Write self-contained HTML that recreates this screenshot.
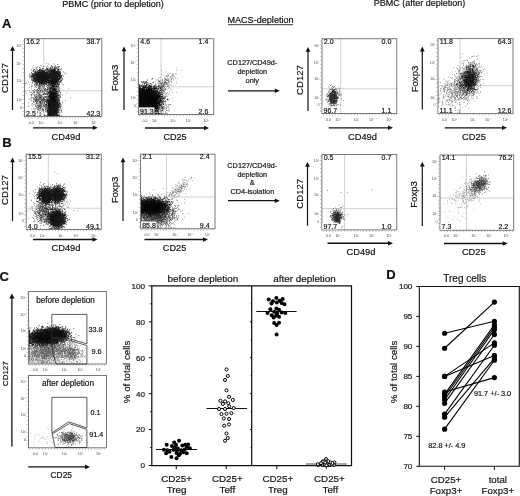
<!DOCTYPE html>
<html><head><meta charset="utf-8"><title>Figure</title>
<style>html,body{margin:0;padding:0;background:#fff}svg{display:block}</style>
</head><body>
<svg width="520" height="496" viewBox="0 0 520 496" font-family='"Liberation Sans", sans-serif'>
<rect width="520" height="496" fill="#fff"/>
<text x="113.00" y="6.50" font-size="9" text-anchor="middle" fill="#111" stroke="#111" stroke-width="0.18">PBMC (prior to depletion)</text>
<text x="419.40" y="6.40" font-size="9" text-anchor="middle" fill="#111" stroke="#111" stroke-width="0.18">PBMC (after depletion)</text>
<text x="260.50" y="23.00" font-size="9.1" text-anchor="middle" fill="#111" stroke="#111" stroke-width="0.18">MACS-depletion</text>
<path d="M228 24.7H293" stroke="#222" stroke-width="0.9"/>
<text x="1.90" y="27.70" font-size="13" text-anchor="start" fill="#111" font-weight="bold" stroke="#111" stroke-width="0.2">A</text>
<text x="2.20" y="147.30" font-size="13" text-anchor="start" fill="#111" font-weight="bold" stroke="#111" stroke-width="0.2">B</text>
<text x="-0.50" y="280.60" font-size="13" text-anchor="start" fill="#111" font-weight="bold" stroke="#111" stroke-width="0.2">C</text>
<text x="386.20" y="279.10" font-size="13" text-anchor="start" fill="#111" font-weight="bold" stroke="#111" stroke-width="0.2">D</text>
<text x="252.30" y="65.40" font-size="7.3" text-anchor="middle" fill="#111" stroke="#111" stroke-width="0.18">CD127/CD49d-</text>
<text x="252.30" y="73.85" font-size="7.3" text-anchor="middle" fill="#111" stroke="#111" stroke-width="0.18">depletion</text>
<text x="252.30" y="82.70" font-size="7.3" text-anchor="middle" fill="#111" stroke="#111" stroke-width="0.18">only</text>
<path d="M228.00 90.80H275.80" stroke="#111" stroke-width="1.3" fill="none"/>
<path d="M279.80 90.80L274.80 88.50V93.10Z" fill="#111"/>
<text x="252.30" y="168.10" font-size="7.3" text-anchor="middle" fill="#111" stroke="#111" stroke-width="0.18">CD127/CD49d-</text>
<text x="252.30" y="176.50" font-size="7.3" text-anchor="middle" fill="#111" stroke="#111" stroke-width="0.18">depletion</text>
<text x="252.30" y="185.30" font-size="7.3" text-anchor="middle" fill="#111" stroke="#111" stroke-width="0.18">&amp;</text>
<text x="252.30" y="194.20" font-size="7.3" text-anchor="middle" fill="#111" stroke="#111" stroke-width="0.18">CD4-isolation</text>
<path d="M228.00 200.70H275.80" stroke="#111" stroke-width="1.3" fill="none"/>
<path d="M279.80 200.70L274.80 198.40V203.00Z" fill="#111"/>
<path d="M43.75 38.70V116.60M24.50 90.75H101.80" stroke="#c0c0c0" stroke-width="0.75" fill="none"/>
<path d="M25 83.5h0.6M25.5 92h0.6M26 83h0.6M26.5 93.5h0.6M28 82h0.6M28 106h0.6M28 111h0.6M28.5 103h0.6M28.5 106h0.6M29 84.5h0.6M29 87.5h0.6M29 91h0.6M29 99h0.6M29.5 112h0.6M30 82.5h0.6M30.5 92.5h0.6M30.5 94.5h0.6M30.5 98h0.6M30.5 100h0.6M31 85h0.6M31 87h0.6M31 89h0.6M31 92.5h0.6M31 96h0.6M31 97.5h0.6M31 109h0.6M31.5 86.5h0.6M31.5 94.5h0.6M31.5 95h0.6M31.5 95.5h0.6M31.5 99h0.6M31.5 100.5h0.6M31.5 105h0.6M31.5 112h0.6M31.5 114h0.6M32 75.5h0.6M32 86h0.6M32 90.5h0.6M32 93h0.6M32 94h0.6M32 103.5h0.6M32.5 68h0.6M32.5 97.5h0.6M32.5 106h0.6M33 76.5h0.6M33 91h0.6M33 99h0.6M33 99.5h0.6M33 101.5h0.6M33 104.5h0.6M33.5 91h0.6M33.5 92.5h0.6M33.5 93h0.6M33.5 94.5h0.6M33.5 97.5h0.6M33.5 98.5h0.6M33.5 99h0.6M33.5 101h0.6M33.5 101.5h0.6M33.5 102.5h0.6M33.5 108.5h0.6M33.5 109h0.6M33.5 111h0.6M34 84.5h0.6M34 87h0.6M34 89.5h0.6M34 91.5h0.6M34 92.5h0.6M34 97h0.6M34 100h0.6M34 102h0.6M34 103h0.6M34 110h0.6M34 111.5h0.6M34 115.5h0.6M34.5 78h0.6M34.5 81.5h0.6M34.5 85h0.6M34.5 85.5h0.6M34.5 92h0.6M34.5 92.5h0.6M34.5 94.5h0.6M34.5 95h0.6M34.5 95.5h0.6M34.5 96h0.6M34.5 98h0.6M34.5 99h0.6M34.5 100h0.6M34.5 105h0.6M34.5 109.5h0.6M35 78.5h0.6M35 91h0.6M35 95h0.6M35 98h0.6M35 100.5h0.6M35 101h0.6M35 101.5h0.6M35 106h0.6M35.5 73h0.6M35.5 78.5h0.6M35.5 82.5h0.6M35.5 86h0.6M35.5 87h0.6M35.5 90h0.6M35.5 96.5h0.6M35.5 97h0.6M35.5 97.5h0.6M35.5 98.5h0.6M35.5 99h0.6M35.5 99.5h0.6M35.5 100.5h0.6M35.5 101h0.6M35.5 101.5h0.6M35.5 104h0.6M35.5 105h0.6M35.5 105.5h0.6M35.5 106.5h0.6M35.5 108.5h0.6M35.5 109h0.6M35.5 109.5h0.6M35.5 112.5h0.6M36 77h0.6M36 83.5h0.6M36 84.5h0.6M36 85.5h0.6M36 87h0.6M36 87.5h0.6M36 92h0.6M36 94h0.6M36 95h0.6M36 96.5h0.6M36 97h0.6M36 98.5h0.6M36 99h0.6M36 99.5h0.6M36 100h0.6M36 100.5h0.6M36 101h0.6M36 102.5h0.6M36 103h0.6M36 103.5h0.6M36 106.5h0.6M36 115.5h0.6M36.5 85.5h0.6M36.5 90h0.6M36.5 90.5h0.6M36.5 92h0.6M36.5 94h0.6M36.5 95h0.6M36.5 96.5h0.6M36.5 97.5h0.6M36.5 98h0.6M36.5 99.5h0.6M36.5 100.5h0.6M36.5 101h0.6M36.5 102h0.6M36.5 103h0.6M36.5 104h0.6M36.5 107.5h0.6M36.5 109h0.6M36.5 110h0.6M37 72h0.6M37 79.5h0.6M37 81h0.6M37 86h0.6M37 89h0.6M37 89.5h0.6M37 90.5h0.6M37 91.5h0.6M37 92h0.6M37 95h0.6M37 97h0.6M37 99.5h0.6M37 101.5h0.6M37 103h0.6M37 103.5h0.6M37 104.5h0.6M37 105.5h0.6M37 106h0.6M37 108h0.6M37 108.5h0.6M37 112h0.6M37 115.5h0.6M37.5 84h0.6M37.5 89.5h0.6M37.5 92h0.6M37.5 92.5h0.6M37.5 93.5h0.6M37.5 95.5h0.6M37.5 96h0.6M37.5 97h0.6M37.5 97.5h0.6M37.5 98.5h0.6M37.5 99.5h0.6M37.5 100h0.6M37.5 100.5h0.6M37.5 101.5h0.6M37.5 102h0.6M37.5 106h0.6M37.5 107.5h0.6M37.5 109.5h0.6M37.5 111.5h0.6M37.5 112.5h0.6M37.5 113h0.6M38 74h0.6M38 76.5h0.6M38 80h0.6M38 90.5h0.6M38 91h0.6M38 93h0.6M38 94.5h0.6M38 96.5h0.6M38 98h0.6M38 99.5h0.6M38 100h0.6M38 100.5h0.6M38 103h0.6M38 105h0.6M38 105.5h0.6M38 106h0.6M38 107h0.6M38 107.5h0.6M38 109h0.6M38 110.5h0.6M38.5 73.5h0.6M38.5 77.5h0.6M38.5 81.5h0.6M38.5 85h0.6M38.5 86h0.6M38.5 88h0.6M38.5 88.5h0.6M38.5 89h0.6M38.5 90.5h0.6M38.5 92.5h0.6M38.5 93h0.6M38.5 93.5h0.6M38.5 95.5h0.6M38.5 96h0.6M38.5 98.5h0.6M38.5 99h0.6M38.5 100h0.6M38.5 101.5h0.6M38.5 104h0.6M38.5 106h0.6M38.5 106.5h0.6M38.5 108h0.6M38.5 108.5h0.6M38.5 109.5h0.6M39 67.5h0.6M39 72.5h0.6M39 81h0.6M39 82h0.6M39 86h0.6M39 86.5h0.6M39 88.5h0.6M39 89h0.6M39 89.5h0.6M39 91.5h0.6M39 93.5h0.6M39 94h0.6M39 94.5h0.6M39 95h0.6M39 96.5h0.6M39 97h0.6M39 97.5h0.6M39 98h0.6M39 100.5h0.6M39 102.5h0.6M39 103h0.6M39 105h0.6M39 105.5h0.6M39 106h0.6M39 106.5h0.6M39 107h0.6M39 108.5h0.6M39 110h0.6M39 110.5h0.6M39 112h0.6M39 113.5h0.6M39 115h0.6M39.5 76h0.6M39.5 79.5h0.6M39.5 80h0.6M39.5 85h0.6M39.5 85.5h0.6M39.5 86.5h0.6M39.5 87.5h0.6M39.5 88h0.6M39.5 91h0.6M39.5 92.5h0.6M39.5 94.5h0.6M39.5 95h0.6M39.5 95.5h0.6M39.5 97h0.6M39.5 98h0.6M39.5 98.5h0.6M39.5 99h0.6M39.5 99.5h0.6M39.5 101h0.6M39.5 101.5h0.6M39.5 102h0.6M39.5 102.5h0.6M39.5 103h0.6M39.5 104.5h0.6M39.5 106.5h0.6M39.5 108h0.6M39.5 115.5h0.6M40 85.5h0.6M40 88.5h0.6M40 90h0.6M40 90.5h0.6M40 91h0.6M40 91.5h0.6M40 92.5h0.6M40 94h0.6M40 95.5h0.6M40 96.5h0.6M40 97.5h0.6M40 98h0.6M40 99.5h0.6M40 101.5h0.6M40 102h0.6M40 102.5h0.6M40 103h0.6M40 104h0.6M40 105h0.6M40 105.5h0.6M40 106h0.6M40 107h0.6M40 107.5h0.6M40 108h0.6M40 110h0.6M40 112.5h0.6M40 113h0.6M40 115h0.6M40 115.5h0.6M40.5 75h0.6M40.5 86.5h0.6M40.5 88h0.6M40.5 90.5h0.6M40.5 95h0.6M40.5 95.5h0.6M40.5 96h0.6M40.5 97h0.6M40.5 97.5h0.6M40.5 98h0.6M40.5 98.5h0.6M40.5 99h0.6M40.5 100.5h0.6M40.5 101.5h0.6M40.5 102h0.6M40.5 102.5h0.6M40.5 103h0.6M40.5 103.5h0.6M40.5 105h0.6M40.5 106.5h0.6M40.5 107.5h0.6M40.5 108.5h0.6M40.5 109h0.6M40.5 110.5h0.6M40.5 113.5h0.6M40.5 115.5h0.6M41 83h0.6M41 89h0.6M41 90h0.6M41 92h0.6M41 96h0.6M41 97.5h0.6M41 98h0.6M41 99.5h0.6M41 100h0.6M41 100.5h0.6M41 101h0.6M41 102h0.6M41 103h0.6M41 104h0.6M41 104.5h0.6M41 105.5h0.6M41 106h0.6M41 107h0.6M41 109h0.6M41.5 84h0.6M41.5 86h0.6M41.5 88h0.6M41.5 90h0.6M41.5 93h0.6M41.5 95h0.6M41.5 96h0.6M41.5 96.5h0.6M41.5 98h0.6M41.5 99h0.6M41.5 100.5h0.6M41.5 101h0.6M41.5 103.5h0.6M41.5 104.5h0.6M41.5 106h0.6M41.5 108h0.6M41.5 111.5h0.6M41.5 114h0.6M42 82.5h0.6M42 86h0.6M42 86.5h0.6M42 89.5h0.6M42 91h0.6M42 91.5h0.6M42 92.5h0.6M42 95h0.6M42 96.5h0.6M42 98h0.6M42 99.5h0.6M42 100h0.6M42 101.5h0.6M42 102h0.6M42 102.5h0.6M42 103h0.6M42 104h0.6M42 106.5h0.6M42 107h0.6M42 109h0.6M42 109.5h0.6M42 110.5h0.6M42.5 77h0.6M42.5 79h0.6M42.5 83h0.6M42.5 83.5h0.6M42.5 87h0.6M42.5 88h0.6M42.5 90.5h0.6M42.5 91h0.6M42.5 94h0.6M42.5 94.5h0.6M42.5 97h0.6M42.5 98.5h0.6M42.5 99.5h0.6M42.5 100h0.6M42.5 100.5h0.6M42.5 101.5h0.6M42.5 103h0.6M42.5 105h0.6M42.5 108.5h0.6M42.5 109.5h0.6M42.5 110h0.6M43 73h0.6M43 80h0.6M43 84.5h0.6M43 87h0.6M43 91.5h0.6M43 93h0.6M43 94h0.6M43 94.5h0.6M43 97.5h0.6M43 98h0.6M43 99h0.6M43 99.5h0.6M43 100h0.6M43 100.5h0.6M43 102h0.6M43 105.5h0.6M43 106.5h0.6M43 109.5h0.6M43 111h0.6M43 112h0.6M43.5 82h0.6M43.5 84h0.6M43.5 86h0.6M43.5 88h0.6M43.5 88.5h0.6M43.5 94.5h0.6M43.5 98h0.6M43.5 98.5h0.6M43.5 99.5h0.6M43.5 100h0.6M43.5 103.5h0.6M43.5 104.5h0.6M43.5 107h0.6M43.5 109.5h0.6M43.5 110h0.6M43.5 110.5h0.6M44 77.5h0.6M44 84h0.6M44 85.5h0.6M44 86h0.6M44 89.5h0.6M44 90.5h0.6M44 92.5h0.6M44 93h0.6M44 94h0.6M44 96.5h0.6M44 98.5h0.6M44 99.5h0.6M44 100.5h0.6M44 102h0.6M44 102.5h0.6M44 103.5h0.6M44 104.5h0.6M44 105.5h0.6M44.5 70h0.6M44.5 77.5h0.6M44.5 78h0.6M44.5 83h0.6M44.5 84.5h0.6M44.5 86h0.6M44.5 87.5h0.6M44.5 89h0.6M44.5 89.5h0.6M44.5 90h0.6M44.5 91h0.6M44.5 93h0.6M44.5 94.5h0.6M44.5 97h0.6M44.5 97.5h0.6M44.5 98.5h0.6M44.5 99.5h0.6M44.5 100h0.6M44.5 101.5h0.6M44.5 104h0.6M44.5 106.5h0.6M44.5 107.5h0.6M45 74.5h0.6M45 88.5h0.6M45 89h0.6M45 89.5h0.6M45 90.5h0.6M45 91.5h0.6M45 94h0.6M45 94.5h0.6M45 96.5h0.6M45 97h0.6M45 97.5h0.6M45 99.5h0.6M45 101.5h0.6M45 104h0.6M45.5 81.5h0.6M45.5 83.5h0.6M45.5 84.5h0.6M45.5 88.5h0.6M45.5 90h0.6M45.5 94.5h0.6M45.5 96.5h0.6M45.5 97.5h0.6M45.5 100h0.6M45.5 102h0.6M45.5 104.5h0.6M45.5 107h0.6M45.5 109h0.6M46 63.5h0.6M46 80h0.6M46 81.5h0.6M46 83h0.6M46 89.5h0.6M46 91h0.6M46 93h0.6M46 96.5h0.6M46 99.5h0.6M46 104.5h0.6M46 105.5h0.6M46.5 85.5h0.6M46.5 89.5h0.6M46.5 91.5h0.6M46.5 92h0.6M46.5 93.5h0.6M46.5 95.5h0.6M46.5 99.5h0.6M46.5 100.5h0.6M46.5 101.5h0.6M46.5 102h0.6M46.5 103.5h0.6M47 82.5h0.6M47 85.5h0.6M47 87h0.6M47 87.5h0.6M47 88h0.6M47 88.5h0.6M47 89h0.6M47 89.5h0.6M47 91.5h0.6M47 93h0.6M47 94.5h0.6M47 99.5h0.6M47 100h0.6M47 100.5h0.6M47 103h0.6M47 110h0.6M47 114h0.6M47 115h0.6M47.5 76.5h0.6M47.5 79.5h0.6M47.5 80h0.6M47.5 83h0.6M47.5 85h0.6M47.5 85.5h0.6M47.5 87.5h0.6M47.5 90.5h0.6M47.5 91h0.6M47.5 91.5h0.6M47.5 93h0.6M47.5 94.5h0.6M47.5 95h0.6M47.5 96.5h0.6M47.5 98h0.6M47.5 100h0.6M47.5 101h0.6M47.5 102.5h0.6M47.5 108.5h0.6M47.5 110.5h0.6M48 80.5h0.6M48 82.5h0.6M48 84.5h0.6M48 86.5h0.6M48 87.5h0.6M48 88.5h0.6M48 89h0.6M48 91.5h0.6M48 92h0.6M48 93h0.6M48 94.5h0.6M48 95.5h0.6M48 96.5h0.6M48 98h0.6M48 104.5h0.6M48 105.5h0.6M48 115h0.6M48 115.5h0.6M48.5 81h0.6M48.5 83.5h0.6M48.5 84h0.6M48.5 86.5h0.6M48.5 89h0.6M48.5 89.5h0.6M48.5 92h0.6M48.5 93h0.6M48.5 93.5h0.6M48.5 101h0.6M48.5 102h0.6M48.5 102.5h0.6M48.5 103h0.6M48.5 105.5h0.6M48.5 107h0.6M49 83h0.6M49 84h0.6M49 85h0.6M49 85.5h0.6M49 87h0.6M49 87.5h0.6M49 88.5h0.6M49 89h0.6M49 89.5h0.6M49 90h0.6M49 90.5h0.6M49 91h0.6M49 93h0.6M49 94h0.6M49 97h0.6M49 104h0.6M49.5 84.5h0.6M49.5 87h0.6M49.5 87.5h0.6M49.5 88h0.6M49.5 89h0.6M49.5 89.5h0.6M49.5 91h0.6M49.5 91.5h0.6M49.5 92h0.6M49.5 92.5h0.6M49.5 93h0.6M49.5 94.5h0.6M49.5 95h0.6M49.5 96.5h0.6M49.5 100.5h0.6M49.5 103.5h0.6M49.5 104h0.6M49.5 107h0.6M49.5 115h0.6M49.5 115.5h0.6M50 80.5h0.6M50 83.5h0.6M50 84.5h0.6M50 85h0.6M50 86h0.6M50 87.5h0.6M50 88.5h0.6M50 89.5h0.6M50 90h0.6M50 90.5h0.6M50 91.5h0.6M50 92h0.6M50 92.5h0.6M50 93.5h0.6M50 94h0.6M50 94.5h0.6M50 95.5h0.6M50 97h0.6M50 97.5h0.6M50 98h0.6M50 99h0.6M50 105.5h0.6M50 107h0.6M50 113.5h0.6M50.5 82.5h0.6M50.5 83h0.6M50.5 84.5h0.6M50.5 85h0.6M50.5 85.5h0.6M50.5 88h0.6M50.5 88.5h0.6M50.5 89h0.6M50.5 89.5h0.6M50.5 90h0.6M50.5 91h0.6M50.5 91.5h0.6M50.5 92h0.6M50.5 92.5h0.6M50.5 93h0.6M50.5 95h0.6M50.5 95.5h0.6M50.5 96h0.6M50.5 99.5h0.6M50.5 100.5h0.6M50.5 101.5h0.6M50.5 102.5h0.6M50.5 105h0.6M51 78.5h0.6M51 83.5h0.6M51 84h0.6M51 85.5h0.6M51 86h0.6M51 86.5h0.6M51 87h0.6M51 87.5h0.6M51 88h0.6M51 88.5h0.6M51 89h0.6M51 89.5h0.6M51 90h0.6M51 90.5h0.6M51 91.5h0.6M51 92.5h0.6M51 93h0.6M51 93.5h0.6M51 94h0.6M51 94.5h0.6M51 95h0.6M51 95.5h0.6M51 96h0.6M51 98.5h0.6M51 100h0.6M51 109h0.6M51.5 73.5h0.6M51.5 83h0.6M51.5 85.5h0.6M51.5 87h0.6M51.5 87.5h0.6M51.5 88h0.6M51.5 88.5h0.6M51.5 91h0.6M51.5 91.5h0.6M51.5 92h0.6M51.5 92.5h0.6M51.5 93h0.6M51.5 94.5h0.6M51.5 95h0.6M51.5 96h0.6M51.5 97h0.6M51.5 98h0.6M51.5 98.5h0.6M51.5 101h0.6M51.5 102h0.6M51.5 103.5h0.6M51.5 112h0.6M51.5 115.5h0.6M52 80.5h0.6M52 81h0.6M52 81.5h0.6M52 82.5h0.6M52 85h0.6M52 85.5h0.6M52 86.5h0.6M52 87h0.6M52 87.5h0.6M52 89h0.6M52 89.5h0.6M52 90h0.6M52 91h0.6M52 91.5h0.6M52 92h0.6M52 92.5h0.6M52 93.5h0.6M52 94h0.6M52 94.5h0.6M52 95h0.6M52 97h0.6M52 97.5h0.6M52 99h0.6M52 99.5h0.6M52 100h0.6M52 100.5h0.6M52 101h0.6M52.5 80h0.6M52.5 81.5h0.6M52.5 83h0.6M52.5 84h0.6M52.5 85.5h0.6M52.5 86h0.6M52.5 86.5h0.6M52.5 87h0.6M52.5 88h0.6M52.5 88.5h0.6M52.5 89.5h0.6M52.5 90h0.6M52.5 90.5h0.6M52.5 91h0.6M52.5 91.5h0.6M52.5 92h0.6M52.5 92.5h0.6M52.5 93h0.6M52.5 94h0.6M52.5 94.5h0.6M52.5 96h0.6M52.5 96.5h0.6M52.5 97h0.6M52.5 97.5h0.6M52.5 98h0.6M52.5 98.5h0.6M52.5 99.5h0.6M52.5 115.5h0.6M53 74h0.6M53 83h0.6M53 85.5h0.6M53 86h0.6M53 87h0.6M53 88.5h0.6M53 89.5h0.6M53 90h0.6M53 90.5h0.6M53 91h0.6M53 91.5h0.6M53 92h0.6M53 92.5h0.6M53 93h0.6M53 93.5h0.6M53 94h0.6M53 94.5h0.6M53 95.5h0.6M53 96h0.6M53 96.5h0.6M53 97h0.6M53 97.5h0.6M53 98h0.6M53 98.5h0.6M53 99h0.6M53 99.5h0.6M53 102.5h0.6M53 105h0.6M53 107h0.6M53.5 83h0.6M53.5 83.5h0.6M53.5 84.5h0.6M53.5 85h0.6M53.5 85.5h0.6M53.5 86h0.6M53.5 86.5h0.6M53.5 87h0.6M53.5 87.5h0.6M53.5 89h0.6M53.5 89.5h0.6M53.5 90h0.6M53.5 92h0.6M53.5 92.5h0.6M53.5 93h0.6M53.5 95h0.6M53.5 95.5h0.6M53.5 96.5h0.6M53.5 98h0.6M53.5 98.5h0.6M53.5 101.5h0.6M53.5 102h0.6M54 71h0.6M54 81.5h0.6M54 83h0.6M54 84.5h0.6M54 85h0.6M54 86.5h0.6M54 87h0.6M54 88h0.6M54 89h0.6M54 89.5h0.6M54 90h0.6M54 90.5h0.6M54 92h0.6M54 92.5h0.6M54 93h0.6M54 93.5h0.6M54 94h0.6M54 94.5h0.6M54 95.5h0.6M54 99.5h0.6M54 100h0.6M54 100.5h0.6M54 104h0.6M54 107h0.6M54.5 83h0.6M54.5 85h0.6M54.5 86h0.6M54.5 86.5h0.6M54.5 87.5h0.6M54.5 88h0.6M54.5 88.5h0.6M54.5 89h0.6M54.5 89.5h0.6M54.5 90h0.6M54.5 91h0.6M54.5 92h0.6M54.5 92.5h0.6M54.5 93h0.6M54.5 93.5h0.6M54.5 94h0.6M54.5 94.5h0.6M54.5 95.5h0.6M54.5 96h0.6M54.5 96.5h0.6M54.5 97.5h0.6M54.5 98.5h0.6M54.5 99.5h0.6M54.5 100h0.6M54.5 101.5h0.6M55 74h0.6M55 79.5h0.6M55 82.5h0.6M55 83h0.6M55 84.5h0.6M55 85h0.6M55 86h0.6M55 87h0.6M55 88h0.6M55 89h0.6M55 89.5h0.6M55 90h0.6M55 90.5h0.6M55 91.5h0.6M55 92h0.6M55 93h0.6M55 93.5h0.6M55 94h0.6M55 95h0.6M55 95.5h0.6M55 97h0.6M55 99.5h0.6M55 100.5h0.6M55 101h0.6M55 101.5h0.6M55.5 79h0.6M55.5 86h0.6M55.5 86.5h0.6M55.5 87h0.6M55.5 88.5h0.6M55.5 89h0.6M55.5 89.5h0.6M55.5 90h0.6M55.5 90.5h0.6M55.5 91h0.6M55.5 91.5h0.6M55.5 93h0.6M55.5 95h0.6M55.5 96h0.6M55.5 96.5h0.6M55.5 97h0.6M55.5 102h0.6M55.5 105h0.6M55.5 110.5h0.6M56 85h0.6M56 85.5h0.6M56 87h0.6M56 87.5h0.6M56 88.5h0.6M56 89h0.6M56 89.5h0.6M56 91.5h0.6M56 92h0.6M56 92.5h0.6M56 93h0.6M56 93.5h0.6M56 94h0.6M56 95h0.6M56 95.5h0.6M56 96h0.6M56 96.5h0.6M56 97h0.6M56 97.5h0.6M56 99.5h0.6M56.5 77.5h0.6M56.5 78h0.6M56.5 80h0.6M56.5 80.5h0.6M56.5 81h0.6M56.5 81.5h0.6M56.5 85h0.6M56.5 86.5h0.6M56.5 89h0.6M56.5 91h0.6M56.5 91.5h0.6M56.5 92.5h0.6M56.5 94h0.6M56.5 94.5h0.6M56.5 95.5h0.6M56.5 96h0.6M56.5 96.5h0.6M56.5 99h0.6M56.5 109.5h0.6M57 83h0.6M57 83.5h0.6M57 84h0.6M57 86.5h0.6M57 89.5h0.6M57 91.5h0.6M57 92h0.6M57 93.5h0.6M57 96h0.6M57 98.5h0.6M57 100h0.6M57.5 77.5h0.6M57.5 80.5h0.6M57.5 84.5h0.6M57.5 86h0.6M57.5 86.5h0.6M57.5 87.5h0.6M57.5 88.5h0.6M57.5 90h0.6M57.5 93h0.6M57.5 96h0.6M58 75h0.6M58 79h0.6M58 83.5h0.6M58 84h0.6M58 85.5h0.6M58 91.5h0.6M58 97h0.6M58 98h0.6M58 99.5h0.6M58 100.5h0.6M58.5 87.5h0.6M58.5 88h0.6M58.5 89h0.6M58.5 90h0.6M58.5 91h0.6M58.5 92.5h0.6M58.5 98.5h0.6M58.5 104.5h0.6M58.5 115.5h0.6M59 78h0.6M59 84.5h0.6M59 90.5h0.6M59 91h0.6M59 97h0.6M59.5 84h0.6M59.5 88h0.6M59.5 89h0.6M59.5 91.5h0.6M59.5 98.5h0.6M59.5 102h0.6M60 82.5h0.6M60 92.5h0.6M60 93.5h0.6M60 96h0.6M60 96.5h0.6M60.5 92h0.6M60.5 95h0.6M60.5 104.5h0.6M62 78.5h0.6M62 84h0.6M62 95h0.6M63.5 85h0.6M65.5 100.5h0.6M66 93h0.6M68.5 89h0.6M70 97.5h0.6" stroke="#000" stroke-width="0.6" fill="none" opacity="1"/>
<path d="M29 74h0.7M29 76h0.7M29 78h0.7M29.5 75h0.7M30 76.5h0.7M30.5 75h0.7M30.5 77.5h0.7M31 70h0.7M31 72.5h0.7M31 74h0.7M31 76h0.7M31 76.5h0.7M31 77.5h0.7M31 80h0.7M31.5 73h0.7M31.5 75.5h0.7M31.5 76h0.7M31.5 77h0.7M31.5 78.5h0.7M31.5 79.5h0.7M31.5 80h0.7M32 73.5h0.7M32 74.5h0.7M32 75.5h0.7M32 76.5h0.7M32 77h0.7M32 79h0.7M32 80h0.7M32 81h0.7M32 82.5h0.7M32.5 71h0.7M32.5 73.5h0.7M32.5 74h0.7M32.5 75h0.7M32.5 75.5h0.7M32.5 76h0.7M32.5 77h0.7M32.5 78h0.7M32.5 80h0.7M32.5 81h0.7M32.5 83.5h0.7M33 69.5h0.7M33 70.5h0.7M33 71h0.7M33 73.5h0.7M33 74.5h0.7M33 76h0.7M33 76.5h0.7M33 77h0.7M33 77.5h0.7M33 78h0.7M33 79h0.7M33 80.5h0.7M33 81h0.7M33.5 71.5h0.7M33.5 73.5h0.7M33.5 74h0.7M33.5 74.5h0.7M33.5 75.5h0.7M33.5 76h0.7M33.5 76.5h0.7M33.5 77.5h0.7M33.5 78h0.7M33.5 78.5h0.7M33.5 79h0.7M33.5 79.5h0.7M33.5 80h0.7M33.5 81h0.7M33.5 81.5h0.7M34 69.5h0.7M34 72h0.7M34 74h0.7M34 74.5h0.7M34 75h0.7M34 75.5h0.7M34 76h0.7M34 76.5h0.7M34 77h0.7M34 77.5h0.7M34 78h0.7M34 78.5h0.7M34 79h0.7M34 79.5h0.7M34 80.5h0.7M34 83h0.7M34.5 70h0.7M34.5 72h0.7M34.5 72.5h0.7M34.5 73h0.7M34.5 74h0.7M34.5 74.5h0.7M34.5 75h0.7M34.5 75.5h0.7M34.5 77.5h0.7M34.5 78h0.7M34.5 78.5h0.7M34.5 79h0.7M34.5 79.5h0.7M34.5 80h0.7M34.5 80.5h0.7M34.5 81h0.7M34.5 81.5h0.7M34.5 82h0.7M35 71h0.7M35 71.5h0.7M35 72.5h0.7M35 73h0.7M35 74h0.7M35 74.5h0.7M35 75h0.7M35 75.5h0.7M35 76h0.7M35 77h0.7M35 78.5h0.7M35 79h0.7M35 79.5h0.7M35 80.5h0.7M35 81h0.7M35 81.5h0.7M35 82h0.7M35 84h0.7M35.5 68h0.7M35.5 71h0.7M35.5 71.5h0.7M35.5 72.5h0.7M35.5 73h0.7M35.5 73.5h0.7M35.5 74h0.7M35.5 74.5h0.7M35.5 75h0.7M35.5 75.5h0.7M35.5 76h0.7M35.5 76.5h0.7M35.5 77h0.7M35.5 77.5h0.7M35.5 78h0.7M35.5 78.5h0.7M35.5 79h0.7M35.5 79.5h0.7M35.5 80.5h0.7M35.5 81h0.7M35.5 81.5h0.7M35.5 82.5h0.7M35.5 83h0.7M35.5 84h0.7M36 68h0.7M36 69h0.7M36 72h0.7M36 72.5h0.7M36 73.5h0.7M36 74h0.7M36 74.5h0.7M36 75h0.7M36 75.5h0.7M36 76h0.7M36 76.5h0.7M36 77h0.7M36 77.5h0.7M36 78h0.7M36 78.5h0.7M36 79h0.7M36 79.5h0.7M36 80h0.7M36 80.5h0.7M36 81h0.7M36 81.5h0.7M36 82.5h0.7M36 84h0.7M36 84.5h0.7M36.5 70h0.7M36.5 73.5h0.7M36.5 74h0.7M36.5 74.5h0.7M36.5 75h0.7M36.5 75.5h0.7M36.5 76h0.7M36.5 76.5h0.7M36.5 77h0.7M36.5 77.5h0.7M36.5 78h0.7M36.5 78.5h0.7M36.5 79h0.7M36.5 79.5h0.7M36.5 80.5h0.7M36.5 81h0.7M36.5 81.5h0.7M36.5 83h0.7M37 67h0.7M37 70h0.7M37 71.5h0.7M37 72h0.7M37 72.5h0.7M37 73h0.7M37 74h0.7M37 74.5h0.7M37 75h0.7M37 75.5h0.7M37 76h0.7M37 76.5h0.7M37 77h0.7M37 77.5h0.7M37 78h0.7M37 78.5h0.7M37 79h0.7M37 79.5h0.7M37 80h0.7M37 80.5h0.7M37 81h0.7M37 81.5h0.7M37 82.5h0.7M37 84h0.7M37 85h0.7M37.5 71h0.7M37.5 71.5h0.7M37.5 72h0.7M37.5 72.5h0.7M37.5 73h0.7M37.5 73.5h0.7M37.5 74h0.7M37.5 74.5h0.7M37.5 75h0.7M37.5 75.5h0.7M37.5 76h0.7M37.5 76.5h0.7M37.5 77h0.7M37.5 77.5h0.7M37.5 78h0.7M37.5 78.5h0.7M37.5 79h0.7M37.5 79.5h0.7M37.5 80h0.7M37.5 80.5h0.7M37.5 81h0.7M37.5 81.5h0.7M37.5 82h0.7M37.5 82.5h0.7M37.5 83h0.7M37.5 83.5h0.7M37.5 84h0.7M38 70.5h0.7M38 71h0.7M38 72h0.7M38 72.5h0.7M38 73h0.7M38 73.5h0.7M38 74h0.7M38 74.5h0.7M38 75h0.7M38 75.5h0.7M38 76h0.7M38 76.5h0.7M38 77h0.7M38 77.5h0.7M38 78h0.7M38 78.5h0.7M38 79h0.7M38 79.5h0.7M38 80h0.7M38 80.5h0.7M38 81h0.7M38 81.5h0.7M38 82h0.7M38 82.5h0.7M38 87.5h0.7M38.5 70.5h0.7M38.5 72h0.7M38.5 72.5h0.7M38.5 73h0.7M38.5 73.5h0.7M38.5 74h0.7M38.5 74.5h0.7M38.5 75h0.7M38.5 75.5h0.7M38.5 76h0.7M38.5 76.5h0.7M38.5 77h0.7M38.5 77.5h0.7M38.5 78h0.7M38.5 78.5h0.7M38.5 79h0.7M38.5 79.5h0.7M38.5 80h0.7M38.5 80.5h0.7M38.5 81h0.7M38.5 81.5h0.7M38.5 82h0.7M38.5 82.5h0.7M38.5 85.5h0.7M38.5 86h0.7M39 69.5h0.7M39 70h0.7M39 70.5h0.7M39 71h0.7M39 71.5h0.7M39 72.5h0.7M39 73h0.7M39 73.5h0.7M39 74h0.7M39 74.5h0.7M39 75h0.7M39 75.5h0.7M39 76h0.7M39 76.5h0.7M39 77h0.7M39 77.5h0.7M39 78h0.7M39 78.5h0.7M39 79h0.7M39 79.5h0.7M39 80h0.7M39 80.5h0.7M39 81h0.7M39 81.5h0.7M39 82h0.7M39 82.5h0.7M39 83.5h0.7M39 84h0.7M39 84.5h0.7M39.5 67.5h0.7M39.5 69h0.7M39.5 69.5h0.7M39.5 70h0.7M39.5 70.5h0.7M39.5 71h0.7M39.5 72h0.7M39.5 72.5h0.7M39.5 73.5h0.7M39.5 74h0.7M39.5 74.5h0.7M39.5 75h0.7M39.5 75.5h0.7M39.5 76h0.7M39.5 76.5h0.7M39.5 77h0.7M39.5 77.5h0.7M39.5 78h0.7M39.5 78.5h0.7M39.5 79h0.7M39.5 79.5h0.7M39.5 80h0.7M39.5 81h0.7M39.5 81.5h0.7M39.5 82h0.7M39.5 82.5h0.7M39.5 83h0.7M39.5 83.5h0.7M39.5 84h0.7M39.5 84.5h0.7M39.5 87h0.7M40 69h0.7M40 69.5h0.7M40 70h0.7M40 71h0.7M40 71.5h0.7M40 72h0.7M40 72.5h0.7M40 73h0.7M40 73.5h0.7M40 74h0.7M40 74.5h0.7M40 75h0.7M40 75.5h0.7M40 76h0.7M40 76.5h0.7M40 77h0.7M40 77.5h0.7M40 78h0.7M40 78.5h0.7M40 79h0.7M40 79.5h0.7M40 80h0.7M40 80.5h0.7M40 81h0.7M40 81.5h0.7M40 82h0.7M40 82.5h0.7M40 83.5h0.7M40 85h0.7M40.5 65.5h0.7M40.5 70.5h0.7M40.5 72h0.7M40.5 72.5h0.7M40.5 73h0.7M40.5 73.5h0.7M40.5 74h0.7M40.5 74.5h0.7M40.5 75h0.7M40.5 75.5h0.7M40.5 76h0.7M40.5 76.5h0.7M40.5 77h0.7M40.5 77.5h0.7M40.5 78h0.7M40.5 78.5h0.7M40.5 79h0.7M40.5 79.5h0.7M40.5 80h0.7M40.5 80.5h0.7M40.5 81h0.7M40.5 81.5h0.7M40.5 82h0.7M40.5 82.5h0.7M40.5 83h0.7M40.5 83.5h0.7M40.5 84h0.7M40.5 87h0.7M41 70h0.7M41 70.5h0.7M41 71.5h0.7M41 72h0.7M41 72.5h0.7M41 73h0.7M41 73.5h0.7M41 74h0.7M41 74.5h0.7M41 75h0.7M41 75.5h0.7M41 76h0.7M41 76.5h0.7M41 77h0.7M41 77.5h0.7M41 78h0.7M41 78.5h0.7M41 79h0.7M41 79.5h0.7M41 80h0.7M41 80.5h0.7M41 81h0.7M41 81.5h0.7M41 82h0.7M41 82.5h0.7M41 83h0.7M41 83.5h0.7M41 84h0.7M41 85.5h0.7M41.5 70h0.7M41.5 70.5h0.7M41.5 71h0.7M41.5 71.5h0.7M41.5 72h0.7M41.5 72.5h0.7M41.5 73h0.7M41.5 73.5h0.7M41.5 74h0.7M41.5 74.5h0.7M41.5 75h0.7M41.5 75.5h0.7M41.5 76h0.7M41.5 76.5h0.7M41.5 77h0.7M41.5 77.5h0.7M41.5 78h0.7M41.5 78.5h0.7M41.5 79h0.7M41.5 79.5h0.7M41.5 80h0.7M41.5 80.5h0.7M41.5 81h0.7M41.5 81.5h0.7M41.5 82h0.7M41.5 83h0.7M41.5 83.5h0.7M41.5 84h0.7M41.5 84.5h0.7M42 68.5h0.7M42 69h0.7M42 70h0.7M42 70.5h0.7M42 71h0.7M42 71.5h0.7M42 72h0.7M42 72.5h0.7M42 73h0.7M42 73.5h0.7M42 74h0.7M42 74.5h0.7M42 75h0.7M42 75.5h0.7M42 76h0.7M42 76.5h0.7M42 77h0.7M42 77.5h0.7M42 78h0.7M42 78.5h0.7M42 79h0.7M42 79.5h0.7M42 80h0.7M42 80.5h0.7M42 81h0.7M42 81.5h0.7M42 82h0.7M42 82.5h0.7M42 83h0.7M42 84h0.7M42 85h0.7M42.5 70h0.7M42.5 71h0.7M42.5 71.5h0.7M42.5 72h0.7M42.5 72.5h0.7M42.5 73h0.7M42.5 73.5h0.7M42.5 74h0.7M42.5 74.5h0.7M42.5 75h0.7M42.5 75.5h0.7M42.5 76h0.7M42.5 76.5h0.7M42.5 77h0.7M42.5 77.5h0.7M42.5 78h0.7M42.5 78.5h0.7M42.5 79h0.7M42.5 79.5h0.7M42.5 80h0.7M42.5 80.5h0.7M42.5 81h0.7M42.5 81.5h0.7M42.5 82h0.7M42.5 82.5h0.7M42.5 83h0.7M42.5 84.5h0.7M43 68.5h0.7M43 71h0.7M43 71.5h0.7M43 72h0.7M43 72.5h0.7M43 73h0.7M43 73.5h0.7M43 74h0.7M43 74.5h0.7M43 75h0.7M43 75.5h0.7M43 76h0.7M43 76.5h0.7M43 77h0.7M43 77.5h0.7M43 78h0.7M43 78.5h0.7M43 79h0.7M43 79.5h0.7M43 80h0.7M43 80.5h0.7M43 81h0.7M43 81.5h0.7M43 82h0.7M43 82.5h0.7M43 83h0.7M43 83.5h0.7M43.5 66.5h0.7M43.5 70h0.7M43.5 71h0.7M43.5 71.5h0.7M43.5 72h0.7M43.5 73h0.7M43.5 73.5h0.7M43.5 74h0.7M43.5 74.5h0.7M43.5 75h0.7M43.5 75.5h0.7M43.5 76h0.7M43.5 76.5h0.7M43.5 77h0.7M43.5 77.5h0.7M43.5 78h0.7M43.5 78.5h0.7M43.5 79h0.7M43.5 79.5h0.7M43.5 80h0.7M43.5 80.5h0.7M43.5 81h0.7M43.5 81.5h0.7M43.5 82.5h0.7M43.5 83.5h0.7M43.5 85h0.7M43.5 105.5h0.7M44 71h0.7M44 71.5h0.7M44 72h0.7M44 72.5h0.7M44 73h0.7M44 73.5h0.7M44 74h0.7M44 74.5h0.7M44 75h0.7M44 75.5h0.7M44 76h0.7M44 76.5h0.7M44 77h0.7M44 77.5h0.7M44 78h0.7M44 78.5h0.7M44 79h0.7M44 79.5h0.7M44 80h0.7M44 80.5h0.7M44 81h0.7M44 81.5h0.7M44 82h0.7M44 82.5h0.7M44 83h0.7M44 83.5h0.7M44 85.5h0.7M44 101h0.7M44 103h0.7M44 115.5h0.7M44.5 70.5h0.7M44.5 72h0.7M44.5 72.5h0.7M44.5 73h0.7M44.5 73.5h0.7M44.5 74h0.7M44.5 74.5h0.7M44.5 75h0.7M44.5 75.5h0.7M44.5 76h0.7M44.5 76.5h0.7M44.5 77h0.7M44.5 77.5h0.7M44.5 78h0.7M44.5 78.5h0.7M44.5 79h0.7M44.5 79.5h0.7M44.5 80h0.7M44.5 80.5h0.7M44.5 81h0.7M44.5 81.5h0.7M44.5 82h0.7M44.5 83h0.7M44.5 83.5h0.7M44.5 90h0.7M44.5 93.5h0.7M44.5 106.5h0.7M44.5 114.5h0.7M44.5 115.5h0.7M45 69.5h0.7M45 70.5h0.7M45 72.5h0.7M45 73.5h0.7M45 74h0.7M45 74.5h0.7M45 75h0.7M45 75.5h0.7M45 76h0.7M45 76.5h0.7M45 77h0.7M45 77.5h0.7M45 78h0.7M45 78.5h0.7M45 79h0.7M45 79.5h0.7M45 80h0.7M45 80.5h0.7M45 81h0.7M45 81.5h0.7M45 82h0.7M45 83h0.7M45 83.5h0.7M45 101.5h0.7M45 104.5h0.7M45 107.5h0.7M45 109.5h0.7M45 110h0.7M45 111.5h0.7M45.5 70.5h0.7M45.5 71h0.7M45.5 72h0.7M45.5 72.5h0.7M45.5 73h0.7M45.5 73.5h0.7M45.5 74h0.7M45.5 74.5h0.7M45.5 75h0.7M45.5 75.5h0.7M45.5 76h0.7M45.5 76.5h0.7M45.5 77h0.7M45.5 77.5h0.7M45.5 78h0.7M45.5 78.5h0.7M45.5 79h0.7M45.5 79.5h0.7M45.5 80h0.7M45.5 80.5h0.7M45.5 81.5h0.7M45.5 82h0.7M45.5 83.5h0.7M45.5 84.5h0.7M45.5 94h0.7M45.5 100h0.7M45.5 101h0.7M45.5 105h0.7M45.5 105.5h0.7M45.5 106.5h0.7M45.5 108h0.7M45.5 109h0.7M45.5 115.5h0.7M46 68h0.7M46 69h0.7M46 70h0.7M46 71.5h0.7M46 72h0.7M46 72.5h0.7M46 73h0.7M46 73.5h0.7M46 74h0.7M46 74.5h0.7M46 75h0.7M46 75.5h0.7M46 76h0.7M46 76.5h0.7M46 77h0.7M46 77.5h0.7M46 78h0.7M46 78.5h0.7M46 79h0.7M46 79.5h0.7M46 80h0.7M46 80.5h0.7M46 81h0.7M46 81.5h0.7M46 82h0.7M46 82.5h0.7M46 83.5h0.7M46 84.5h0.7M46 86.5h0.7M46 93.5h0.7M46 97h0.7M46 97.5h0.7M46 101h0.7M46 102h0.7M46 103h0.7M46 104h0.7M46 105h0.7M46 106.5h0.7M46 108.5h0.7M46 111h0.7M46 112h0.7M46.5 67h0.7M46.5 68.5h0.7M46.5 69.5h0.7M46.5 71h0.7M46.5 72.5h0.7M46.5 73h0.7M46.5 73.5h0.7M46.5 74h0.7M46.5 74.5h0.7M46.5 75h0.7M46.5 75.5h0.7M46.5 76h0.7M46.5 76.5h0.7M46.5 77h0.7M46.5 77.5h0.7M46.5 78h0.7M46.5 78.5h0.7M46.5 79h0.7M46.5 79.5h0.7M46.5 80h0.7M46.5 80.5h0.7M46.5 81h0.7M46.5 81.5h0.7M46.5 82h0.7M46.5 82.5h0.7M46.5 83h0.7M46.5 84h0.7M46.5 94h0.7M46.5 98.5h0.7M46.5 99h0.7M46.5 100.5h0.7M46.5 101h0.7M46.5 102.5h0.7M46.5 104.5h0.7M46.5 105.5h0.7M46.5 107.5h0.7M46.5 108h0.7M46.5 109h0.7M46.5 110h0.7M46.5 115.5h0.7M47 68.5h0.7M47 69h0.7M47 69.5h0.7M47 70h0.7M47 72h0.7M47 72.5h0.7M47 73h0.7M47 74h0.7M47 74.5h0.7M47 75h0.7M47 75.5h0.7M47 76h0.7M47 76.5h0.7M47 77h0.7M47 77.5h0.7M47 78h0.7M47 78.5h0.7M47 79h0.7M47 79.5h0.7M47 80.5h0.7M47 81h0.7M47 82.5h0.7M47 84h0.7M47 89.5h0.7M47 94h0.7M47 100h0.7M47 101.5h0.7M47 102h0.7M47 103h0.7M47 105.5h0.7M47 107.5h0.7M47 110h0.7M47 110.5h0.7M47 111h0.7M47 111.5h0.7M47 112.5h0.7M47 114h0.7M47 115.5h0.7M47.5 66h0.7M47.5 69h0.7M47.5 70.5h0.7M47.5 71h0.7M47.5 71.5h0.7M47.5 72h0.7M47.5 72.5h0.7M47.5 73h0.7M47.5 73.5h0.7M47.5 74h0.7M47.5 75h0.7M47.5 75.5h0.7M47.5 76h0.7M47.5 76.5h0.7M47.5 77h0.7M47.5 77.5h0.7M47.5 78h0.7M47.5 78.5h0.7M47.5 79h0.7M47.5 79.5h0.7M47.5 80h0.7M47.5 80.5h0.7M47.5 81h0.7M47.5 81.5h0.7M47.5 82h0.7M47.5 82.5h0.7M47.5 92h0.7M47.5 94h0.7M47.5 96h0.7M47.5 96.5h0.7M47.5 97.5h0.7M47.5 98.5h0.7M47.5 99h0.7M47.5 100.5h0.7M47.5 101h0.7M47.5 102h0.7M47.5 103.5h0.7M47.5 104h0.7M47.5 105h0.7M47.5 105.5h0.7M47.5 106h0.7M47.5 106.5h0.7M47.5 107h0.7M47.5 107.5h0.7M47.5 108.5h0.7M47.5 109.5h0.7M47.5 110h0.7M47.5 110.5h0.7M47.5 111h0.7M47.5 111.5h0.7M47.5 112h0.7M47.5 112.5h0.7M47.5 114h0.7M47.5 115h0.7M47.5 115.5h0.7M48 69.5h0.7M48 71h0.7M48 71.5h0.7M48 73h0.7M48 73.5h0.7M48 74h0.7M48 74.5h0.7M48 75h0.7M48 75.5h0.7M48 76h0.7M48 76.5h0.7M48 77h0.7M48 77.5h0.7M48 78h0.7M48 78.5h0.7M48 79h0.7M48 79.5h0.7M48 80h0.7M48 80.5h0.7M48 81h0.7M48 81.5h0.7M48 82h0.7M48 82.5h0.7M48 85h0.7M48 85.5h0.7M48 92.5h0.7M48 93h0.7M48 96.5h0.7M48 99h0.7M48 99.5h0.7M48 100.5h0.7M48 101h0.7M48 101.5h0.7M48 102h0.7M48 102.5h0.7M48 103h0.7M48 103.5h0.7M48 104h0.7M48 104.5h0.7M48 105h0.7M48 105.5h0.7M48 106h0.7M48 106.5h0.7M48 107.5h0.7M48 108h0.7M48 108.5h0.7M48 109h0.7M48 110.5h0.7M48 111h0.7M48 112h0.7M48 112.5h0.7M48 113h0.7M48 113.5h0.7M48 114h0.7M48 114.5h0.7M48 115h0.7M48 115.5h0.7M48.5 64h0.7M48.5 68h0.7M48.5 70h0.7M48.5 70.5h0.7M48.5 71h0.7M48.5 71.5h0.7M48.5 72.5h0.7M48.5 73h0.7M48.5 73.5h0.7M48.5 74.5h0.7M48.5 75h0.7M48.5 75.5h0.7M48.5 76h0.7M48.5 76.5h0.7M48.5 77h0.7M48.5 77.5h0.7M48.5 78h0.7M48.5 78.5h0.7M48.5 79h0.7M48.5 79.5h0.7M48.5 80.5h0.7M48.5 81.5h0.7M48.5 82h0.7M48.5 82.5h0.7M48.5 83.5h0.7M48.5 84h0.7M48.5 93h0.7M48.5 96h0.7M48.5 96.5h0.7M48.5 97h0.7M48.5 97.5h0.7M48.5 99h0.7M48.5 99.5h0.7M48.5 100h0.7M48.5 100.5h0.7M48.5 101h0.7M48.5 102h0.7M48.5 102.5h0.7M48.5 103h0.7M48.5 103.5h0.7M48.5 104h0.7M48.5 104.5h0.7M48.5 105h0.7M48.5 105.5h0.7M48.5 106h0.7M48.5 106.5h0.7M48.5 107h0.7M48.5 107.5h0.7M48.5 108.5h0.7M48.5 109h0.7M48.5 109.5h0.7M48.5 110h0.7M48.5 110.5h0.7M48.5 111h0.7M48.5 111.5h0.7M48.5 112h0.7M48.5 112.5h0.7M48.5 113h0.7M48.5 113.5h0.7M48.5 114h0.7M48.5 114.5h0.7M48.5 115.5h0.7M49 69h0.7M49 70h0.7M49 70.5h0.7M49 71.5h0.7M49 72h0.7M49 73h0.7M49 73.5h0.7M49 74h0.7M49 74.5h0.7M49 75h0.7M49 75.5h0.7M49 76h0.7M49 76.5h0.7M49 77h0.7M49 77.5h0.7M49 78h0.7M49 78.5h0.7M49 79h0.7M49 80h0.7M49 80.5h0.7M49 81h0.7M49 81.5h0.7M49 82h0.7M49 82.5h0.7M49 83h0.7M49 83.5h0.7M49 86h0.7M49 91h0.7M49 92h0.7M49 94h0.7M49 94.5h0.7M49 95.5h0.7M49 96h0.7M49 96.5h0.7M49 97h0.7M49 97.5h0.7M49 98h0.7M49 99h0.7M49 99.5h0.7M49 100h0.7M49 100.5h0.7M49 101h0.7M49 101.5h0.7M49 102h0.7M49 102.5h0.7M49 103h0.7M49 103.5h0.7M49 104h0.7M49 104.5h0.7M49 105h0.7M49 105.5h0.7M49 106h0.7M49 106.5h0.7M49 107h0.7M49 107.5h0.7M49 108h0.7M49 108.5h0.7M49 109h0.7M49 109.5h0.7M49 110h0.7M49 110.5h0.7M49 111h0.7M49 111.5h0.7M49 112h0.7M49 112.5h0.7M49 113h0.7M49 113.5h0.7M49 114h0.7M49 114.5h0.7M49 115h0.7M49 115.5h0.7M49.5 68.5h0.7M49.5 70h0.7M49.5 71h0.7M49.5 72h0.7M49.5 72.5h0.7M49.5 73h0.7M49.5 73.5h0.7M49.5 74h0.7M49.5 74.5h0.7M49.5 75h0.7M49.5 75.5h0.7M49.5 76h0.7M49.5 76.5h0.7M49.5 77h0.7M49.5 77.5h0.7M49.5 78h0.7M49.5 78.5h0.7M49.5 79h0.7M49.5 79.5h0.7M49.5 80h0.7M49.5 80.5h0.7M49.5 81h0.7M49.5 81.5h0.7M49.5 82h0.7M49.5 82.5h0.7M49.5 83h0.7M49.5 83.5h0.7M49.5 90.5h0.7M49.5 92.5h0.7M49.5 93h0.7M49.5 93.5h0.7M49.5 95.5h0.7M49.5 96h0.7M49.5 96.5h0.7M49.5 97h0.7M49.5 97.5h0.7M49.5 98h0.7M49.5 98.5h0.7M49.5 99h0.7M49.5 99.5h0.7M49.5 100h0.7M49.5 101h0.7M49.5 101.5h0.7M49.5 102h0.7M49.5 102.5h0.7M49.5 103h0.7M49.5 103.5h0.7M49.5 104h0.7M49.5 104.5h0.7M49.5 105h0.7M49.5 105.5h0.7M49.5 106h0.7M49.5 106.5h0.7M49.5 107h0.7M49.5 107.5h0.7M49.5 108h0.7M49.5 108.5h0.7M49.5 109h0.7M49.5 109.5h0.7M49.5 110h0.7M49.5 110.5h0.7M49.5 111h0.7M49.5 111.5h0.7M49.5 112h0.7M49.5 112.5h0.7M49.5 113h0.7M49.5 113.5h0.7M49.5 114h0.7M49.5 114.5h0.7M49.5 115h0.7M49.5 115.5h0.7M50 67.5h0.7M50 69h0.7M50 70.5h0.7M50 71h0.7M50 72h0.7M50 72.5h0.7M50 73.5h0.7M50 74h0.7M50 74.5h0.7M50 75h0.7M50 75.5h0.7M50 76h0.7M50 76.5h0.7M50 77h0.7M50 77.5h0.7M50 78h0.7M50 78.5h0.7M50 79h0.7M50 80h0.7M50 80.5h0.7M50 81h0.7M50 81.5h0.7M50 82h0.7M50 83.5h0.7M50 85h0.7M50 87h0.7M50 88h0.7M50 89h0.7M50 91.5h0.7M50 92.5h0.7M50 93h0.7M50 94h0.7M50 94.5h0.7M50 95h0.7M50 95.5h0.7M50 96h0.7M50 96.5h0.7M50 97h0.7M50 97.5h0.7M50 98h0.7M50 98.5h0.7M50 99h0.7M50 100h0.7M50 100.5h0.7M50 101h0.7M50 101.5h0.7M50 102h0.7M50 102.5h0.7M50 103h0.7M50 103.5h0.7M50 104h0.7M50 104.5h0.7M50 105h0.7M50 105.5h0.7M50 106h0.7M50 106.5h0.7M50 107h0.7M50 107.5h0.7M50 108h0.7M50 108.5h0.7M50 109h0.7M50 109.5h0.7M50 110h0.7M50 110.5h0.7M50 111h0.7M50 111.5h0.7M50 112h0.7M50 112.5h0.7M50 113h0.7M50 113.5h0.7M50 114h0.7M50 114.5h0.7M50 115h0.7M50 115.5h0.7M50.5 68h0.7M50.5 68.5h0.7M50.5 69h0.7M50.5 69.5h0.7M50.5 70h0.7M50.5 71h0.7M50.5 71.5h0.7M50.5 72h0.7M50.5 72.5h0.7M50.5 73h0.7M50.5 73.5h0.7M50.5 74h0.7M50.5 74.5h0.7M50.5 75h0.7M50.5 75.5h0.7M50.5 76h0.7M50.5 76.5h0.7M50.5 77h0.7M50.5 77.5h0.7M50.5 78h0.7M50.5 78.5h0.7M50.5 79h0.7M50.5 79.5h0.7M50.5 80h0.7M50.5 80.5h0.7M50.5 81h0.7M50.5 81.5h0.7M50.5 82h0.7M50.5 82.5h0.7M50.5 83h0.7M50.5 85.5h0.7M50.5 91.5h0.7M50.5 92.5h0.7M50.5 93.5h0.7M50.5 94.5h0.7M50.5 95h0.7M50.5 95.5h0.7M50.5 96h0.7M50.5 96.5h0.7M50.5 97h0.7M50.5 97.5h0.7M50.5 98h0.7M50.5 98.5h0.7M50.5 99h0.7M50.5 99.5h0.7M50.5 100h0.7M50.5 100.5h0.7M50.5 101h0.7M50.5 101.5h0.7M50.5 102h0.7M50.5 102.5h0.7M50.5 103h0.7M50.5 103.5h0.7M50.5 104h0.7M50.5 104.5h0.7M50.5 105h0.7M50.5 105.5h0.7M50.5 106h0.7M50.5 106.5h0.7M50.5 107h0.7M50.5 107.5h0.7M50.5 108h0.7M50.5 108.5h0.7M50.5 109h0.7M50.5 109.5h0.7M50.5 110h0.7M50.5 110.5h0.7M50.5 111h0.7M50.5 111.5h0.7M50.5 112h0.7M50.5 112.5h0.7M50.5 113h0.7M50.5 113.5h0.7M50.5 114h0.7M50.5 114.5h0.7M50.5 115h0.7M50.5 115.5h0.7M51 65.5h0.7M51 66.5h0.7M51 69h0.7M51 69.5h0.7M51 70h0.7M51 70.5h0.7M51 71h0.7M51 71.5h0.7M51 72h0.7M51 72.5h0.7M51 73h0.7M51 73.5h0.7M51 74h0.7M51 74.5h0.7M51 75h0.7M51 75.5h0.7M51 76h0.7M51 76.5h0.7M51 77h0.7M51 77.5h0.7M51 78h0.7M51 78.5h0.7M51 79h0.7M51 79.5h0.7M51 80h0.7M51 80.5h0.7M51 81h0.7M51 81.5h0.7M51 82h0.7M51 82.5h0.7M51 83h0.7M51 83.5h0.7M51 84h0.7M51 85.5h0.7M51 88h0.7M51 92h0.7M51 93h0.7M51 93.5h0.7M51 94h0.7M51 94.5h0.7M51 95h0.7M51 95.5h0.7M51 96h0.7M51 96.5h0.7M51 97h0.7M51 97.5h0.7M51 98h0.7M51 98.5h0.7M51 99h0.7M51 99.5h0.7M51 100h0.7M51 100.5h0.7M51 101h0.7M51 101.5h0.7M51 102h0.7M51 102.5h0.7M51 103h0.7M51 103.5h0.7M51 104h0.7M51 104.5h0.7M51 105h0.7M51 105.5h0.7M51 106h0.7M51 106.5h0.7M51 107h0.7M51 107.5h0.7M51 108h0.7M51 108.5h0.7M51 109h0.7M51 109.5h0.7M51 110h0.7M51 110.5h0.7M51 111h0.7M51 111.5h0.7M51 112h0.7M51 112.5h0.7M51 113h0.7M51 113.5h0.7M51 114h0.7M51 114.5h0.7M51 115h0.7M51 115.5h0.7M51.5 66.5h0.7M51.5 68h0.7M51.5 70h0.7M51.5 70.5h0.7M51.5 71h0.7M51.5 71.5h0.7M51.5 72h0.7M51.5 72.5h0.7M51.5 73h0.7M51.5 73.5h0.7M51.5 74h0.7M51.5 74.5h0.7M51.5 75h0.7M51.5 75.5h0.7M51.5 76h0.7M51.5 76.5h0.7M51.5 77h0.7M51.5 77.5h0.7M51.5 78h0.7M51.5 78.5h0.7M51.5 79h0.7M51.5 79.5h0.7M51.5 80h0.7M51.5 80.5h0.7M51.5 81h0.7M51.5 81.5h0.7M51.5 82h0.7M51.5 82.5h0.7M51.5 83h0.7M51.5 83.5h0.7M51.5 84h0.7M51.5 84.5h0.7M51.5 87.5h0.7M51.5 88h0.7M51.5 92.5h0.7M51.5 93h0.7M51.5 94h0.7M51.5 94.5h0.7M51.5 95h0.7M51.5 95.5h0.7M51.5 96h0.7M51.5 97h0.7M51.5 97.5h0.7M51.5 98h0.7M51.5 98.5h0.7M51.5 99h0.7M51.5 99.5h0.7M51.5 100h0.7M51.5 100.5h0.7M51.5 101h0.7M51.5 101.5h0.7M51.5 102h0.7M51.5 102.5h0.7M51.5 103h0.7M51.5 103.5h0.7M51.5 104h0.7M51.5 104.5h0.7M51.5 105h0.7M51.5 105.5h0.7M51.5 106h0.7M51.5 106.5h0.7M51.5 107h0.7M51.5 107.5h0.7M51.5 108h0.7M51.5 108.5h0.7M51.5 109h0.7M51.5 109.5h0.7M51.5 110h0.7M51.5 110.5h0.7M51.5 111h0.7M51.5 111.5h0.7M51.5 112h0.7M51.5 112.5h0.7M51.5 113h0.7M51.5 113.5h0.7M51.5 114h0.7M51.5 114.5h0.7M51.5 115h0.7M51.5 115.5h0.7M52 67h0.7M52 67.5h0.7M52 69h0.7M52 70h0.7M52 70.5h0.7M52 71h0.7M52 71.5h0.7M52 72h0.7M52 72.5h0.7M52 73h0.7M52 73.5h0.7M52 74h0.7M52 74.5h0.7M52 75h0.7M52 75.5h0.7M52 76h0.7M52 76.5h0.7M52 77h0.7M52 77.5h0.7M52 78h0.7M52 78.5h0.7M52 79h0.7M52 79.5h0.7M52 80h0.7M52 80.5h0.7M52 81h0.7M52 81.5h0.7M52 82h0.7M52 82.5h0.7M52 83h0.7M52 83.5h0.7M52 84.5h0.7M52 85h0.7M52 85.5h0.7M52 86.5h0.7M52 88.5h0.7M52 89h0.7M52 89.5h0.7M52 91h0.7M52 92.5h0.7M52 93.5h0.7M52 94h0.7M52 94.5h0.7M52 95h0.7M52 95.5h0.7M52 96h0.7M52 96.5h0.7M52 97h0.7M52 97.5h0.7M52 98h0.7M52 98.5h0.7M52 99h0.7M52 99.5h0.7M52 100h0.7M52 100.5h0.7M52 101h0.7M52 101.5h0.7M52 102h0.7M52 102.5h0.7M52 103h0.7M52 103.5h0.7M52 104h0.7M52 104.5h0.7M52 105h0.7M52 105.5h0.7M52 106h0.7M52 106.5h0.7M52 107h0.7M52 107.5h0.7M52 108h0.7M52 108.5h0.7M52 109h0.7M52 109.5h0.7M52 110h0.7M52 110.5h0.7M52 111h0.7M52 111.5h0.7M52 112h0.7M52 112.5h0.7M52 113.5h0.7M52 114h0.7M52 114.5h0.7M52 115h0.7M52 115.5h0.7M52.5 66.5h0.7M52.5 69h0.7M52.5 69.5h0.7M52.5 70h0.7M52.5 70.5h0.7M52.5 71h0.7M52.5 71.5h0.7M52.5 72h0.7M52.5 72.5h0.7M52.5 73h0.7M52.5 73.5h0.7M52.5 74h0.7M52.5 74.5h0.7M52.5 75h0.7M52.5 75.5h0.7M52.5 76h0.7M52.5 76.5h0.7M52.5 77h0.7M52.5 77.5h0.7M52.5 78h0.7M52.5 78.5h0.7M52.5 79h0.7M52.5 79.5h0.7M52.5 80h0.7M52.5 80.5h0.7M52.5 81h0.7M52.5 81.5h0.7M52.5 82.5h0.7M52.5 83h0.7M52.5 83.5h0.7M52.5 84h0.7M52.5 85h0.7M52.5 85.5h0.7M52.5 86h0.7M52.5 86.5h0.7M52.5 88h0.7M52.5 89h0.7M52.5 89.5h0.7M52.5 90h0.7M52.5 91.5h0.7M52.5 92h0.7M52.5 93h0.7M52.5 93.5h0.7M52.5 94h0.7M52.5 95h0.7M52.5 96h0.7M52.5 96.5h0.7M52.5 97h0.7M52.5 97.5h0.7M52.5 98h0.7M52.5 98.5h0.7M52.5 99h0.7M52.5 99.5h0.7M52.5 100h0.7M52.5 100.5h0.7M52.5 101h0.7M52.5 101.5h0.7M52.5 102h0.7M52.5 102.5h0.7M52.5 103h0.7M52.5 103.5h0.7M52.5 104h0.7M52.5 104.5h0.7M52.5 105h0.7M52.5 105.5h0.7M52.5 106h0.7M52.5 106.5h0.7M52.5 107h0.7M52.5 107.5h0.7M52.5 108h0.7M52.5 108.5h0.7M52.5 109h0.7M52.5 109.5h0.7M52.5 110h0.7M52.5 110.5h0.7M52.5 111h0.7M52.5 111.5h0.7M52.5 112h0.7M52.5 112.5h0.7M52.5 113h0.7M52.5 113.5h0.7M52.5 114h0.7M52.5 114.5h0.7M52.5 115h0.7M52.5 115.5h0.7M53 69.5h0.7M53 70h0.7M53 70.5h0.7M53 71h0.7M53 71.5h0.7M53 72h0.7M53 72.5h0.7M53 73h0.7M53 73.5h0.7M53 74h0.7M53 74.5h0.7M53 75h0.7M53 75.5h0.7M53 76h0.7M53 76.5h0.7M53 77h0.7M53 77.5h0.7M53 78h0.7M53 78.5h0.7M53 79h0.7M53 79.5h0.7M53 80h0.7M53 80.5h0.7M53 81h0.7M53 81.5h0.7M53 82h0.7M53 82.5h0.7M53 83h0.7M53 83.5h0.7M53 84h0.7M53 86h0.7M53 88h0.7M53 88.5h0.7M53 92.5h0.7M53 93h0.7M53 93.5h0.7M53 94h0.7M53 94.5h0.7M53 95h0.7M53 95.5h0.7M53 96h0.7M53 96.5h0.7M53 97h0.7M53 97.5h0.7M53 98.5h0.7M53 99h0.7M53 99.5h0.7M53 100h0.7M53 100.5h0.7M53 101h0.7M53 101.5h0.7M53 102h0.7M53 102.5h0.7M53 103h0.7M53 103.5h0.7M53 104h0.7M53 104.5h0.7M53 105h0.7M53 105.5h0.7M53 106h0.7M53 106.5h0.7M53 107h0.7M53 107.5h0.7M53 108h0.7M53 108.5h0.7M53 109h0.7M53 109.5h0.7M53 110h0.7M53 110.5h0.7M53 111h0.7M53 111.5h0.7M53 112h0.7M53 112.5h0.7M53 113h0.7M53 113.5h0.7M53 114h0.7M53 114.5h0.7M53 115h0.7M53 115.5h0.7M53.5 64h0.7M53.5 68h0.7M53.5 69h0.7M53.5 70h0.7M53.5 70.5h0.7M53.5 71h0.7M53.5 71.5h0.7M53.5 72h0.7M53.5 72.5h0.7M53.5 73h0.7M53.5 73.5h0.7M53.5 74h0.7M53.5 74.5h0.7M53.5 75h0.7M53.5 75.5h0.7M53.5 76h0.7M53.5 76.5h0.7M53.5 77h0.7M53.5 77.5h0.7M53.5 78h0.7M53.5 78.5h0.7M53.5 79h0.7M53.5 79.5h0.7M53.5 80h0.7M53.5 80.5h0.7M53.5 81h0.7M53.5 81.5h0.7M53.5 82h0.7M53.5 82.5h0.7M53.5 83h0.7M53.5 83.5h0.7M53.5 84h0.7M53.5 84.5h0.7M53.5 85h0.7M53.5 86h0.7M53.5 87h0.7M53.5 88h0.7M53.5 89.5h0.7M53.5 90h0.7M53.5 90.5h0.7M53.5 91h0.7M53.5 92h0.7M53.5 93.5h0.7M53.5 94h0.7M53.5 94.5h0.7M53.5 95h0.7M53.5 95.5h0.7M53.5 96h0.7M53.5 96.5h0.7M53.5 97h0.7M53.5 97.5h0.7M53.5 98h0.7M53.5 98.5h0.7M53.5 99h0.7M53.5 99.5h0.7M53.5 100h0.7M53.5 100.5h0.7M53.5 101h0.7M53.5 101.5h0.7M53.5 102h0.7M53.5 102.5h0.7M53.5 103h0.7M53.5 103.5h0.7M53.5 104h0.7M53.5 104.5h0.7M53.5 105h0.7M53.5 105.5h0.7M53.5 106h0.7M53.5 106.5h0.7M53.5 107h0.7M53.5 107.5h0.7M53.5 108h0.7M53.5 108.5h0.7M53.5 109h0.7M53.5 109.5h0.7M53.5 110h0.7M53.5 110.5h0.7M53.5 111h0.7M53.5 111.5h0.7M53.5 112h0.7M53.5 112.5h0.7M53.5 113h0.7M53.5 113.5h0.7M53.5 114h0.7M53.5 114.5h0.7M53.5 115h0.7M53.5 115.5h0.7M54 66h0.7M54 67h0.7M54 68h0.7M54 68.5h0.7M54 69h0.7M54 69.5h0.7M54 70h0.7M54 70.5h0.7M54 71h0.7M54 71.5h0.7M54 72h0.7M54 72.5h0.7M54 73h0.7M54 73.5h0.7M54 74h0.7M54 74.5h0.7M54 75h0.7M54 75.5h0.7M54 76h0.7M54 76.5h0.7M54 77h0.7M54 77.5h0.7M54 78h0.7M54 78.5h0.7M54 79h0.7M54 79.5h0.7M54 80h0.7M54 80.5h0.7M54 81h0.7M54 81.5h0.7M54 82h0.7M54 82.5h0.7M54 83h0.7M54 83.5h0.7M54 86h0.7M54 87h0.7M54 88.5h0.7M54 90h0.7M54 91h0.7M54 92h0.7M54 93h0.7M54 93.5h0.7M54 94h0.7M54 94.5h0.7M54 95h0.7M54 96h0.7M54 96.5h0.7M54 97h0.7M54 97.5h0.7M54 98h0.7M54 98.5h0.7M54 99h0.7M54 99.5h0.7M54 100h0.7M54 100.5h0.7M54 101h0.7M54 101.5h0.7M54 102h0.7M54 102.5h0.7M54 103h0.7M54 103.5h0.7M54 104h0.7M54 104.5h0.7M54 105h0.7M54 105.5h0.7M54 106h0.7M54 106.5h0.7M54 107h0.7M54 107.5h0.7M54 108h0.7M54 108.5h0.7M54 109h0.7M54 109.5h0.7M54 110h0.7M54 110.5h0.7M54 111h0.7M54 111.5h0.7M54 112h0.7M54 112.5h0.7M54 113h0.7M54 113.5h0.7M54 114h0.7M54 114.5h0.7M54 115h0.7M54 115.5h0.7M54.5 67.5h0.7M54.5 68.5h0.7M54.5 69h0.7M54.5 69.5h0.7M54.5 70h0.7M54.5 70.5h0.7M54.5 71h0.7M54.5 71.5h0.7M54.5 72h0.7M54.5 72.5h0.7M54.5 73h0.7M54.5 73.5h0.7M54.5 74h0.7M54.5 74.5h0.7M54.5 75h0.7M54.5 75.5h0.7M54.5 76h0.7M54.5 76.5h0.7M54.5 77h0.7M54.5 77.5h0.7M54.5 78h0.7M54.5 78.5h0.7M54.5 79h0.7M54.5 79.5h0.7M54.5 80h0.7M54.5 80.5h0.7M54.5 81h0.7M54.5 81.5h0.7M54.5 82h0.7M54.5 83h0.7M54.5 83.5h0.7M54.5 84h0.7M54.5 84.5h0.7M54.5 85.5h0.7M54.5 86h0.7M54.5 88h0.7M54.5 88.5h0.7M54.5 89h0.7M54.5 90h0.7M54.5 93h0.7M54.5 93.5h0.7M54.5 94h0.7M54.5 95.5h0.7M54.5 96h0.7M54.5 96.5h0.7M54.5 97h0.7M54.5 97.5h0.7M54.5 98h0.7M54.5 98.5h0.7M54.5 99h0.7M54.5 99.5h0.7M54.5 100h0.7M54.5 100.5h0.7M54.5 101h0.7M54.5 101.5h0.7M54.5 102h0.7M54.5 102.5h0.7M54.5 103h0.7M54.5 103.5h0.7M54.5 104h0.7M54.5 104.5h0.7M54.5 105h0.7M54.5 105.5h0.7M54.5 106h0.7M54.5 106.5h0.7M54.5 107h0.7M54.5 107.5h0.7M54.5 108h0.7M54.5 108.5h0.7M54.5 109h0.7M54.5 109.5h0.7M54.5 110h0.7M54.5 110.5h0.7M54.5 111h0.7M54.5 111.5h0.7M54.5 112h0.7M54.5 112.5h0.7M54.5 113h0.7M54.5 113.5h0.7M54.5 114h0.7M54.5 114.5h0.7M54.5 115h0.7M54.5 115.5h0.7M55 68.5h0.7M55 70h0.7M55 70.5h0.7M55 71h0.7M55 71.5h0.7M55 72h0.7M55 72.5h0.7M55 73h0.7M55 73.5h0.7M55 74h0.7M55 74.5h0.7M55 75h0.7M55 75.5h0.7M55 76h0.7M55 76.5h0.7M55 77h0.7M55 77.5h0.7M55 78h0.7M55 78.5h0.7M55 79h0.7M55 79.5h0.7M55 80h0.7M55 80.5h0.7M55 81h0.7M55 81.5h0.7M55 82h0.7M55 82.5h0.7M55 83h0.7M55 83.5h0.7M55 84h0.7M55 84.5h0.7M55 90h0.7M55 91.5h0.7M55 92.5h0.7M55 93.5h0.7M55 94h0.7M55 94.5h0.7M55 95h0.7M55 95.5h0.7M55 96.5h0.7M55 97h0.7M55 98h0.7M55 98.5h0.7M55 99h0.7M55 99.5h0.7M55 100h0.7M55 100.5h0.7M55 101h0.7M55 101.5h0.7M55 102h0.7M55 102.5h0.7M55 103h0.7M55 103.5h0.7M55 104h0.7M55 104.5h0.7M55 105h0.7M55 105.5h0.7M55 106h0.7M55 106.5h0.7M55 107h0.7M55 107.5h0.7M55 108h0.7M55 108.5h0.7M55 109h0.7M55 109.5h0.7M55 110h0.7M55 110.5h0.7M55 111h0.7M55 111.5h0.7M55 112h0.7M55 112.5h0.7M55 113h0.7M55 113.5h0.7M55 114h0.7M55 115h0.7M55 115.5h0.7M55.5 66h0.7M55.5 66.5h0.7M55.5 67.5h0.7M55.5 68h0.7M55.5 69.5h0.7M55.5 70.5h0.7M55.5 71h0.7M55.5 72h0.7M55.5 72.5h0.7M55.5 73h0.7M55.5 73.5h0.7M55.5 74h0.7M55.5 74.5h0.7M55.5 75h0.7M55.5 75.5h0.7M55.5 76h0.7M55.5 76.5h0.7M55.5 77h0.7M55.5 77.5h0.7M55.5 78h0.7M55.5 78.5h0.7M55.5 79h0.7M55.5 79.5h0.7M55.5 80h0.7M55.5 80.5h0.7M55.5 81h0.7M55.5 81.5h0.7M55.5 82h0.7M55.5 82.5h0.7M55.5 83.5h0.7M55.5 84h0.7M55.5 84.5h0.7M55.5 86h0.7M55.5 91h0.7M55.5 91.5h0.7M55.5 92.5h0.7M55.5 94h0.7M55.5 94.5h0.7M55.5 96.5h0.7M55.5 97h0.7M55.5 97.5h0.7M55.5 98.5h0.7M55.5 99h0.7M55.5 99.5h0.7M55.5 100h0.7M55.5 100.5h0.7M55.5 101.5h0.7M55.5 102h0.7M55.5 102.5h0.7M55.5 103h0.7M55.5 103.5h0.7M55.5 104h0.7M55.5 104.5h0.7M55.5 105h0.7M55.5 105.5h0.7M55.5 106h0.7M55.5 106.5h0.7M55.5 107h0.7M55.5 107.5h0.7M55.5 108h0.7M55.5 108.5h0.7M55.5 109h0.7M55.5 109.5h0.7M55.5 110h0.7M55.5 110.5h0.7M55.5 111h0.7M55.5 111.5h0.7M55.5 112h0.7M55.5 112.5h0.7M55.5 113h0.7M55.5 113.5h0.7M55.5 114h0.7M55.5 115h0.7M55.5 115.5h0.7M56 67.5h0.7M56 68.5h0.7M56 71.5h0.7M56 72h0.7M56 72.5h0.7M56 73h0.7M56 73.5h0.7M56 74h0.7M56 74.5h0.7M56 75h0.7M56 75.5h0.7M56 76h0.7M56 76.5h0.7M56 77h0.7M56 77.5h0.7M56 78h0.7M56 78.5h0.7M56 79h0.7M56 79.5h0.7M56 80h0.7M56 80.5h0.7M56 81h0.7M56 81.5h0.7M56 82h0.7M56 82.5h0.7M56 83h0.7M56 83.5h0.7M56 85h0.7M56 86.5h0.7M56 89h0.7M56 90.5h0.7M56 91.5h0.7M56 93h0.7M56 93.5h0.7M56 96h0.7M56 96.5h0.7M56 97.5h0.7M56 98h0.7M56 99h0.7M56 99.5h0.7M56 100h0.7M56 100.5h0.7M56 101h0.7M56 101.5h0.7M56 102h0.7M56 102.5h0.7M56 103h0.7M56 103.5h0.7M56 104h0.7M56 104.5h0.7M56 105h0.7M56 105.5h0.7M56 106h0.7M56 106.5h0.7M56 107h0.7M56 107.5h0.7M56 108h0.7M56 108.5h0.7M56 109h0.7M56 109.5h0.7M56 110h0.7M56 110.5h0.7M56 111h0.7M56 111.5h0.7M56 112h0.7M56 112.5h0.7M56 113h0.7M56 113.5h0.7M56 114h0.7M56 114.5h0.7M56 115h0.7M56 115.5h0.7M56.5 68h0.7M56.5 71h0.7M56.5 71.5h0.7M56.5 72h0.7M56.5 72.5h0.7M56.5 73h0.7M56.5 73.5h0.7M56.5 74h0.7M56.5 74.5h0.7M56.5 75h0.7M56.5 75.5h0.7M56.5 76h0.7M56.5 76.5h0.7M56.5 77h0.7M56.5 77.5h0.7M56.5 78h0.7M56.5 78.5h0.7M56.5 79h0.7M56.5 79.5h0.7M56.5 80.5h0.7M56.5 81h0.7M56.5 82.5h0.7M56.5 83h0.7M56.5 85.5h0.7M56.5 86h0.7M56.5 87h0.7M56.5 92h0.7M56.5 95h0.7M56.5 95.5h0.7M56.5 96h0.7M56.5 96.5h0.7M56.5 97h0.7M56.5 97.5h0.7M56.5 98h0.7M56.5 99h0.7M56.5 99.5h0.7M56.5 100h0.7M56.5 101.5h0.7M56.5 102h0.7M56.5 102.5h0.7M56.5 103h0.7M56.5 103.5h0.7M56.5 104h0.7M56.5 104.5h0.7M56.5 105h0.7M56.5 106h0.7M56.5 106.5h0.7M56.5 107h0.7M56.5 107.5h0.7M56.5 108h0.7M56.5 108.5h0.7M56.5 109h0.7M56.5 109.5h0.7M56.5 110.5h0.7M56.5 111h0.7M56.5 111.5h0.7M56.5 112h0.7M56.5 112.5h0.7M56.5 113h0.7M56.5 113.5h0.7M56.5 114h0.7M56.5 115h0.7M56.5 115.5h0.7M57 64.5h0.7M57 67h0.7M57 69h0.7M57 69.5h0.7M57 70h0.7M57 71h0.7M57 72h0.7M57 72.5h0.7M57 73h0.7M57 73.5h0.7M57 74h0.7M57 74.5h0.7M57 75h0.7M57 75.5h0.7M57 76h0.7M57 76.5h0.7M57 77h0.7M57 77.5h0.7M57 78h0.7M57 78.5h0.7M57 79h0.7M57 79.5h0.7M57 80h0.7M57 80.5h0.7M57 81h0.7M57 81.5h0.7M57 82.5h0.7M57 84.5h0.7M57 91.5h0.7M57 93h0.7M57 94.5h0.7M57 95.5h0.7M57 97.5h0.7M57 98.5h0.7M57 99h0.7M57 99.5h0.7M57 100h0.7M57 101h0.7M57 101.5h0.7M57 102h0.7M57 102.5h0.7M57 103h0.7M57 103.5h0.7M57 104h0.7M57 104.5h0.7M57 105h0.7M57 105.5h0.7M57 106.5h0.7M57 107h0.7M57 107.5h0.7M57 108h0.7M57 108.5h0.7M57 109h0.7M57 109.5h0.7M57 110h0.7M57 110.5h0.7M57 111h0.7M57 112h0.7M57 112.5h0.7M57 113h0.7M57 114.5h0.7M57 115h0.7M57 115.5h0.7M57.5 69h0.7M57.5 70h0.7M57.5 71h0.7M57.5 71.5h0.7M57.5 72h0.7M57.5 72.5h0.7M57.5 73h0.7M57.5 73.5h0.7M57.5 74h0.7M57.5 74.5h0.7M57.5 75h0.7M57.5 75.5h0.7M57.5 76h0.7M57.5 76.5h0.7M57.5 77h0.7M57.5 77.5h0.7M57.5 78h0.7M57.5 78.5h0.7M57.5 79h0.7M57.5 79.5h0.7M57.5 80h0.7M57.5 80.5h0.7M57.5 81h0.7M57.5 81.5h0.7M57.5 82.5h0.7M57.5 83h0.7M57.5 83.5h0.7M57.5 84.5h0.7M57.5 85h0.7M57.5 87h0.7M57.5 93.5h0.7M57.5 94h0.7M57.5 94.5h0.7M57.5 95.5h0.7M57.5 96h0.7M57.5 97h0.7M57.5 97.5h0.7M57.5 100h0.7M57.5 100.5h0.7M57.5 101h0.7M57.5 101.5h0.7M57.5 102h0.7M57.5 102.5h0.7M57.5 103h0.7M57.5 103.5h0.7M57.5 104h0.7M57.5 104.5h0.7M57.5 105h0.7M57.5 105.5h0.7M57.5 106h0.7M57.5 106.5h0.7M57.5 107h0.7M57.5 107.5h0.7M57.5 108h0.7M57.5 108.5h0.7M57.5 109h0.7M57.5 110h0.7M57.5 110.5h0.7M57.5 111h0.7M57.5 111.5h0.7M57.5 112.5h0.7M57.5 114h0.7M57.5 114.5h0.7M57.5 115h0.7M57.5 115.5h0.7M58 66.5h0.7M58 69h0.7M58 69.5h0.7M58 70.5h0.7M58 71.5h0.7M58 72h0.7M58 73h0.7M58 73.5h0.7M58 74h0.7M58 74.5h0.7M58 75h0.7M58 75.5h0.7M58 76h0.7M58 76.5h0.7M58 77h0.7M58 78h0.7M58 78.5h0.7M58 79h0.7M58 79.5h0.7M58 80.5h0.7M58 81h0.7M58 81.5h0.7M58 82h0.7M58 84.5h0.7M58 86.5h0.7M58 89h0.7M58 90.5h0.7M58 94h0.7M58 95h0.7M58 95.5h0.7M58 98.5h0.7M58 99h0.7M58 100h0.7M58 100.5h0.7M58 103.5h0.7M58 104h0.7M58 104.5h0.7M58 105h0.7M58 105.5h0.7M58 106h0.7M58 106.5h0.7M58 107h0.7M58 107.5h0.7M58 108.5h0.7M58 109h0.7M58 110h0.7M58 111h0.7M58 112.5h0.7M58 113h0.7M58 115h0.7M58 115.5h0.7M58.5 67.5h0.7M58.5 68h0.7M58.5 69.5h0.7M58.5 70.5h0.7M58.5 71.5h0.7M58.5 72h0.7M58.5 72.5h0.7M58.5 73h0.7M58.5 73.5h0.7M58.5 74h0.7M58.5 74.5h0.7M58.5 75h0.7M58.5 75.5h0.7M58.5 76h0.7M58.5 76.5h0.7M58.5 78.5h0.7M58.5 79h0.7M58.5 79.5h0.7M58.5 80h0.7M58.5 81.5h0.7M58.5 82.5h0.7M58.5 85h0.7M58.5 86h0.7M58.5 92.5h0.7M58.5 95h0.7M58.5 96.5h0.7M58.5 97.5h0.7M58.5 101.5h0.7M58.5 102h0.7M58.5 102.5h0.7M58.5 104.5h0.7M58.5 105.5h0.7M58.5 106h0.7M58.5 106.5h0.7M58.5 107.5h0.7M58.5 109.5h0.7M58.5 111.5h0.7M58.5 112h0.7M58.5 115.5h0.7M59 66.5h0.7M59 69h0.7M59 71h0.7M59 72.5h0.7M59 73h0.7M59 74h0.7M59 74.5h0.7M59 75h0.7M59 75.5h0.7M59 76h0.7M59 76.5h0.7M59 77h0.7M59 77.5h0.7M59 78h0.7M59 78.5h0.7M59 79.5h0.7M59 80h0.7M59 81.5h0.7M59 82.5h0.7M59 84h0.7M59 88h0.7M59 95.5h0.7M59 99.5h0.7M59 100h0.7M59 100.5h0.7M59 101h0.7M59 103h0.7M59 103.5h0.7M59 104h0.7M59 105h0.7M59 105.5h0.7M59 106.5h0.7M59 108h0.7M59 109.5h0.7M59 110h0.7M59 113h0.7M59 115h0.7M59 115.5h0.7M59.5 71.5h0.7M59.5 72h0.7M59.5 72.5h0.7M59.5 73.5h0.7M59.5 74h0.7M59.5 74.5h0.7M59.5 75h0.7M59.5 75.5h0.7M59.5 76.5h0.7M59.5 77h0.7M59.5 78h0.7M59.5 78.5h0.7M59.5 79h0.7M59.5 79.5h0.7M59.5 94.5h0.7M59.5 97h0.7M59.5 100.5h0.7M59.5 102h0.7M59.5 102.5h0.7M59.5 103.5h0.7M59.5 104h0.7M59.5 106.5h0.7M59.5 107.5h0.7M59.5 111h0.7M59.5 115.5h0.7M60 69.5h0.7M60 71.5h0.7M60 72.5h0.7M60 73.5h0.7M60 74h0.7M60 74.5h0.7M60 76h0.7M60 76.5h0.7M60 77h0.7M60 77.5h0.7M60 78h0.7M60 78.5h0.7M60 80h0.7M60 81h0.7M60 81.5h0.7M60 97.5h0.7M60 103.5h0.7M60 106.5h0.7M60 107.5h0.7M60.5 72.5h0.7M60.5 73.5h0.7M60.5 75.5h0.7M60.5 76.5h0.7M60.5 77h0.7M60.5 80.5h0.7M60.5 81.5h0.7M60.5 104.5h0.7M60.5 105h0.7M60.5 106h0.7M60.5 108.5h0.7M60.5 110h0.7M60.5 113h0.7M61 68.5h0.7M61 75.5h0.7M61 76.5h0.7M61 77h0.7M61 78h0.7M61 80.5h0.7M61 82h0.7M61 106h0.7M61 110.5h0.7M61 111h0.7M61 112h0.7M61 115.5h0.7M61.5 70h0.7M61.5 75.5h0.7M61.5 76h0.7M61.5 77.5h0.7M61.5 79.5h0.7M61.5 80.5h0.7M61.5 108.5h0.7M62 75h0.7M62 79h0.7M62 102h0.7M62 103h0.7M62.5 79h0.7M63 72h0.7M63 76h0.7M64.5 73h0.7M65.5 74h0.7" stroke="#000" stroke-width="0.7" fill="none" opacity="1"/>
<path d="M25.50 117.80H101.80" stroke="#888" stroke-width="1.3" stroke-dasharray="0.5 2.6" fill="none"/>
<path d="M23.30 40.70V116.60" stroke="#888" stroke-width="1.3" stroke-dasharray="0.5 3.4" fill="none"/>
<text x="31.23" y="123.60" font-size="3.6" text-anchor="middle" fill="#444">0.0</text>
<text x="41.12" y="123.60" font-size="3.6" text-anchor="middle" fill="#444">10²</text>
<text x="60.06" y="123.60" font-size="3.6" text-anchor="middle" fill="#444">10³</text>
<text x="75.98" y="123.60" font-size="3.6" text-anchor="middle" fill="#444">10⁴</text>
<text x="94.07" y="123.60" font-size="3.6" text-anchor="middle" fill="#444">10⁵</text>
<text x="21.90" y="46.83" font-size="3.6" text-anchor="end" fill="#444">10⁵</text>
<text x="21.90" y="64.52" font-size="3.6" text-anchor="end" fill="#444">10⁴</text>
<text x="21.90" y="81.97" font-size="3.6" text-anchor="end" fill="#444">10³</text>
<text x="21.90" y="101.05" font-size="3.6" text-anchor="end" fill="#444">10²</text>
<text x="21.90" y="108.92" font-size="3.6" text-anchor="end" fill="#444">0</text>
<rect x="24.50" y="38.70" width="77.30" height="77.90" fill="none" stroke="#6a6a6a" stroke-width="0.9"/>
<text x="26.30" y="43.90" font-size="7" text-anchor="start" fill="#111" stroke="#111" stroke-width="0.18">16.2</text>
<text x="86.60" y="43.90" font-size="7" text-anchor="start" fill="#111" stroke="#111" stroke-width="0.18">38.7</text>
<text x="86.60" y="115.60" font-size="7" text-anchor="start" fill="#111" stroke="#111" stroke-width="0.18">42.3</text>
<rect x="25.00" y="109.40" width="12.00" height="6.7" fill="#fff" opacity="0.9"/>
<text x="26.10" y="115.60" font-size="7" text-anchor="start" fill="#111" stroke="#111" stroke-width="0.18">2.5</text>
<path d="M33.00 127.80H93.80" stroke="#111" stroke-width="1.3" fill="none"/>
<path d="M97.80 127.80L92.80 125.50V130.10Z" fill="#111"/>
<text x="66.00" y="139.90" font-size="9.3" text-anchor="middle" fill="#111" stroke="#111" stroke-width="0.18">CD49d</text>
<path d="M12.50 110.00V49.80" stroke="#111" stroke-width="1.2" fill="none"/>
<path d="M12.50 46.00L10.10 50.80H14.90Z" fill="#111"/>
<text x="7.70" y="78.00" font-size="9.6" text-anchor="middle" fill="#111" stroke="#111" stroke-width="0.18" transform="rotate(-90 7.70 78.00)">CD127</text>
<path d="M161.00 38.75V114.50M138.50 86.75H213.75" stroke="#c0c0c0" stroke-width="0.75" fill="none"/>
<path d="M139 108h0.6M139.5 107.5h0.6M140.5 94.5h0.6M140.5 101.5h0.6M140.5 109.5h0.6M141 101h0.6M142 94h0.6M142.5 91.5h0.6M142.5 104h0.6M143.5 83h0.6M143.5 106h0.6M144 100.5h0.6M144 105h0.6M144.5 103h0.6M145 90.5h0.6M145 100h0.6M145 101.5h0.6M145 102.5h0.6M145 105.5h0.6M145 106h0.6M145 110h0.6M145 111.5h0.6M145.5 98h0.6M145.5 100h0.6M145.5 103h0.6M145.5 109.5h0.6M145.5 112.5h0.6M146 96.5h0.6M146 100.5h0.6M146 101.5h0.6M146 102h0.6M146 105h0.6M146 106h0.6M146 108h0.6M146 108.5h0.6M146 113h0.6M146.5 102h0.6M146.5 109.5h0.6M146.5 110h0.6M146.5 112h0.6M146.5 113.5h0.6M147 93.5h0.6M147 104h0.6M147 104.5h0.6M147 106h0.6M147 108.5h0.6M147 112h0.6M147.5 90.5h0.6M147.5 95h0.6M147.5 97.5h0.6M147.5 98h0.6M147.5 99h0.6M147.5 99.5h0.6M147.5 102h0.6M147.5 106h0.6M147.5 107.5h0.6M147.5 109h0.6M147.5 110h0.6M147.5 113h0.6M148 89h0.6M148 90h0.6M148 103h0.6M148 104h0.6M148 104.5h0.6M148 107.5h0.6M148 111.5h0.6M148.5 86.5h0.6M148.5 92h0.6M148.5 94h0.6M148.5 95h0.6M148.5 98h0.6M148.5 99.5h0.6M148.5 101.5h0.6M148.5 103.5h0.6M148.5 104.5h0.6M148.5 108h0.6M148.5 108.5h0.6M149 85.5h0.6M149 94.5h0.6M149 99h0.6M149 100h0.6M149 101.5h0.6M149 102h0.6M149.5 88h0.6M149.5 93h0.6M149.5 94h0.6M149.5 96.5h0.6M149.5 97h0.6M149.5 97.5h0.6M149.5 98h0.6M149.5 102h0.6M149.5 102.5h0.6M149.5 103.5h0.6M149.5 104.5h0.6M149.5 105h0.6M149.5 105.5h0.6M149.5 108.5h0.6M149.5 109.5h0.6M149.5 110h0.6M149.5 112.5h0.6M150 94.5h0.6M150 95h0.6M150 96h0.6M150 96.5h0.6M150 97.5h0.6M150 101h0.6M150 101.5h0.6M150 102h0.6M150 102.5h0.6M150 106h0.6M150 111h0.6M150 113.5h0.6M150.5 94.5h0.6M150.5 96.5h0.6M150.5 98h0.6M150.5 99.5h0.6M150.5 101.5h0.6M150.5 102.5h0.6M150.5 105h0.6M150.5 105.5h0.6M150.5 107.5h0.6M150.5 108.5h0.6M150.5 110h0.6M150.5 111h0.6M151 92h0.6M151 97.5h0.6M151 99.5h0.6M151 101.5h0.6M151 102.5h0.6M151 103.5h0.6M151 105h0.6M151 105.5h0.6M151 107h0.6M151 107.5h0.6M151 108.5h0.6M151 109h0.6M151 110h0.6M151 111h0.6M151.5 87h0.6M151.5 90h0.6M151.5 90.5h0.6M151.5 94.5h0.6M151.5 95.5h0.6M151.5 97.5h0.6M151.5 98h0.6M151.5 98.5h0.6M151.5 100h0.6M151.5 101.5h0.6M151.5 103.5h0.6M151.5 104h0.6M151.5 104.5h0.6M151.5 105h0.6M151.5 105.5h0.6M151.5 106h0.6M151.5 107.5h0.6M151.5 108h0.6M152 82.5h0.6M152 89h0.6M152 92h0.6M152 94h0.6M152 95.5h0.6M152 97.5h0.6M152 98.5h0.6M152 99h0.6M152 99.5h0.6M152 101.5h0.6M152 102h0.6M152 103h0.6M152 103.5h0.6M152 105.5h0.6M152 106.5h0.6M152 108h0.6M152 109.5h0.6M152 110.5h0.6M152 113.5h0.6M152.5 87h0.6M152.5 88.5h0.6M152.5 90h0.6M152.5 91h0.6M152.5 92h0.6M152.5 92.5h0.6M152.5 94h0.6M152.5 95h0.6M152.5 95.5h0.6M152.5 96.5h0.6M152.5 97h0.6M152.5 97.5h0.6M152.5 98h0.6M152.5 98.5h0.6M152.5 99h0.6M152.5 99.5h0.6M152.5 100.5h0.6M152.5 101h0.6M152.5 102.5h0.6M152.5 103.5h0.6M152.5 104.5h0.6M152.5 105h0.6M152.5 106h0.6M152.5 107.5h0.6M152.5 108.5h0.6M152.5 109.5h0.6M152.5 110h0.6M152.5 110.5h0.6M153 82h0.6M153 91h0.6M153 91.5h0.6M153 92h0.6M153 92.5h0.6M153 95h0.6M153 96h0.6M153 96.5h0.6M153 97h0.6M153 101h0.6M153 103h0.6M153 104.5h0.6M153 105.5h0.6M153 107.5h0.6M153 108h0.6M153 109.5h0.6M153 111.5h0.6M153 113.5h0.6M153.5 85h0.6M153.5 85.5h0.6M153.5 88h0.6M153.5 88.5h0.6M153.5 92h0.6M153.5 93.5h0.6M153.5 95.5h0.6M153.5 99h0.6M153.5 100h0.6M153.5 101h0.6M153.5 102h0.6M153.5 102.5h0.6M153.5 103.5h0.6M153.5 105.5h0.6M153.5 106h0.6M153.5 107h0.6M153.5 107.5h0.6M153.5 108h0.6M153.5 108.5h0.6M153.5 111h0.6M153.5 111.5h0.6M153.5 113.5h0.6M154 86.5h0.6M154 89.5h0.6M154 91h0.6M154 91.5h0.6M154 93.5h0.6M154 94.5h0.6M154 95h0.6M154 95.5h0.6M154 97.5h0.6M154 98.5h0.6M154 100h0.6M154 100.5h0.6M154 101h0.6M154 102h0.6M154 104.5h0.6M154 106.5h0.6M154 107h0.6M154 107.5h0.6M154 109h0.6M154 109.5h0.6M154 110h0.6M154 111.5h0.6M154.5 86h0.6M154.5 87.5h0.6M154.5 90.5h0.6M154.5 92.5h0.6M154.5 94.5h0.6M154.5 95h0.6M154.5 100h0.6M154.5 101h0.6M154.5 101.5h0.6M154.5 102h0.6M154.5 102.5h0.6M154.5 103.5h0.6M154.5 104h0.6M154.5 105h0.6M154.5 105.5h0.6M154.5 106h0.6M154.5 106.5h0.6M154.5 108h0.6M154.5 108.5h0.6M154.5 109h0.6M154.5 111.5h0.6M154.5 112h0.6M154.5 112.5h0.6M154.5 113h0.6M155 80h0.6M155 83.5h0.6M155 88h0.6M155 88.5h0.6M155 89.5h0.6M155 90.5h0.6M155 91h0.6M155 93.5h0.6M155 94h0.6M155 95h0.6M155 96.5h0.6M155 97h0.6M155 97.5h0.6M155 98.5h0.6M155 99h0.6M155 100.5h0.6M155 102h0.6M155 102.5h0.6M155 103h0.6M155 105h0.6M155 106h0.6M155 107h0.6M155 108h0.6M155 110.5h0.6M155 113h0.6M155 113.5h0.6M155.5 81.5h0.6M155.5 84.5h0.6M155.5 85.5h0.6M155.5 86h0.6M155.5 89.5h0.6M155.5 92.5h0.6M155.5 94.5h0.6M155.5 95h0.6M155.5 95.5h0.6M155.5 97h0.6M155.5 98h0.6M155.5 99.5h0.6M155.5 100h0.6M155.5 101h0.6M155.5 101.5h0.6M155.5 102h0.6M155.5 102.5h0.6M155.5 103h0.6M155.5 104h0.6M155.5 104.5h0.6M155.5 105h0.6M155.5 108.5h0.6M155.5 109h0.6M155.5 110h0.6M155.5 111h0.6M155.5 112.5h0.6M156 88h0.6M156 89h0.6M156 91h0.6M156 93h0.6M156 93.5h0.6M156 94.5h0.6M156 97.5h0.6M156 98.5h0.6M156 99.5h0.6M156 100.5h0.6M156 102h0.6M156 102.5h0.6M156 103.5h0.6M156 104h0.6M156 104.5h0.6M156 105h0.6M156 107h0.6M156 107.5h0.6M156 108h0.6M156 113.5h0.6M156.5 87h0.6M156.5 88.5h0.6M156.5 89h0.6M156.5 90h0.6M156.5 91h0.6M156.5 91.5h0.6M156.5 92.5h0.6M156.5 93.5h0.6M156.5 94.5h0.6M156.5 95.5h0.6M156.5 96.5h0.6M156.5 97h0.6M156.5 98h0.6M156.5 100h0.6M156.5 101.5h0.6M156.5 102.5h0.6M156.5 103h0.6M156.5 104h0.6M156.5 104.5h0.6M156.5 105h0.6M156.5 106.5h0.6M156.5 108h0.6M156.5 110.5h0.6M156.5 112.5h0.6M156.5 113.5h0.6M157 80h0.6M157 86.5h0.6M157 88h0.6M157 90.5h0.6M157 91h0.6M157 91.5h0.6M157 92h0.6M157 94.5h0.6M157 95h0.6M157 95.5h0.6M157 96h0.6M157 97h0.6M157 97.5h0.6M157 98.5h0.6M157 99h0.6M157 99.5h0.6M157 101h0.6M157 101.5h0.6M157 102.5h0.6M157 103h0.6M157 103.5h0.6M157 105h0.6M157 106.5h0.6M157 109h0.6M157 110h0.6M157 110.5h0.6M157 111h0.6M157 113.5h0.6M157.5 79.5h0.6M157.5 83.5h0.6M157.5 86.5h0.6M157.5 87h0.6M157.5 89h0.6M157.5 89.5h0.6M157.5 94h0.6M157.5 94.5h0.6M157.5 95h0.6M157.5 95.5h0.6M157.5 96.5h0.6M157.5 97h0.6M157.5 97.5h0.6M157.5 98h0.6M157.5 99h0.6M157.5 99.5h0.6M157.5 100h0.6M157.5 101h0.6M157.5 105h0.6M157.5 106h0.6M157.5 108.5h0.6M157.5 111h0.6M157.5 113.5h0.6M158 81h0.6M158 81.5h0.6M158 84h0.6M158 85h0.6M158 85.5h0.6M158 86h0.6M158 87h0.6M158 88h0.6M158 89h0.6M158 89.5h0.6M158 91h0.6M158 91.5h0.6M158 92h0.6M158 92.5h0.6M158 94.5h0.6M158 96h0.6M158 96.5h0.6M158 97h0.6M158 98.5h0.6M158 99.5h0.6M158 100h0.6M158 101h0.6M158 101.5h0.6M158 102.5h0.6M158 103h0.6M158 105h0.6M158 106.5h0.6M158 107.5h0.6M158 108.5h0.6M158 110h0.6M158 112h0.6M158 112.5h0.6M158 113.5h0.6M158.5 78.5h0.6M158.5 80.5h0.6M158.5 82.5h0.6M158.5 85h0.6M158.5 85.5h0.6M158.5 88h0.6M158.5 88.5h0.6M158.5 89h0.6M158.5 89.5h0.6M158.5 92.5h0.6M158.5 93h0.6M158.5 93.5h0.6M158.5 97h0.6M158.5 98.5h0.6M158.5 99h0.6M158.5 100h0.6M158.5 101h0.6M158.5 102h0.6M158.5 102.5h0.6M158.5 103h0.6M158.5 103.5h0.6M158.5 104h0.6M158.5 104.5h0.6M158.5 105h0.6M158.5 106h0.6M158.5 108h0.6M158.5 109h0.6M158.5 109.5h0.6M158.5 112h0.6M158.5 113.5h0.6M159 81.5h0.6M159 82h0.6M159 83h0.6M159 87h0.6M159 90h0.6M159 92h0.6M159 96h0.6M159 97h0.6M159 97.5h0.6M159 99.5h0.6M159 101h0.6M159 101.5h0.6M159 102h0.6M159 104h0.6M159 104.5h0.6M159 106h0.6M159 108h0.6M159 108.5h0.6M159 113.5h0.6M159.5 77.5h0.6M159.5 80.5h0.6M159.5 81.5h0.6M159.5 82h0.6M159.5 83.5h0.6M159.5 85h0.6M159.5 86h0.6M159.5 86.5h0.6M159.5 87h0.6M159.5 87.5h0.6M159.5 88h0.6M159.5 88.5h0.6M159.5 90h0.6M159.5 90.5h0.6M159.5 93h0.6M159.5 95h0.6M159.5 97h0.6M159.5 98h0.6M159.5 98.5h0.6M159.5 99.5h0.6M159.5 101h0.6M159.5 102.5h0.6M159.5 103h0.6M159.5 105.5h0.6M159.5 107h0.6M159.5 107.5h0.6M159.5 113.5h0.6M160 82h0.6M160 85h0.6M160 88h0.6M160 88.5h0.6M160 89h0.6M160 90h0.6M160 90.5h0.6M160 92h0.6M160 93h0.6M160 93.5h0.6M160 94h0.6M160 94.5h0.6M160 95h0.6M160 97.5h0.6M160 98.5h0.6M160 101h0.6M160 102.5h0.6M160 104h0.6M160 106h0.6M160 107.5h0.6M160 110h0.6M160 113h0.6M160.5 77h0.6M160.5 80h0.6M160.5 83h0.6M160.5 83.5h0.6M160.5 84h0.6M160.5 86.5h0.6M160.5 87h0.6M160.5 87.5h0.6M160.5 88h0.6M160.5 88.5h0.6M160.5 89h0.6M160.5 90.5h0.6M160.5 91h0.6M160.5 95h0.6M160.5 96.5h0.6M160.5 97h0.6M160.5 100.5h0.6M160.5 101h0.6M160.5 103h0.6M160.5 104h0.6M160.5 105h0.6M160.5 110h0.6M160.5 111.5h0.6M160.5 113.5h0.6M161 70.5h0.6M161 83h0.6M161 84h0.6M161 85h0.6M161 86.5h0.6M161 87.5h0.6M161 88h0.6M161 89h0.6M161 91h0.6M161 92h0.6M161 92.5h0.6M161 94h0.6M161 96.5h0.6M161 98h0.6M161 98.5h0.6M161 99.5h0.6M161 102h0.6M161 103h0.6M161 103.5h0.6M161 106h0.6M161 106.5h0.6M161 107.5h0.6M161 112.5h0.6M161 113.5h0.6M161.5 74.5h0.6M161.5 81h0.6M161.5 83h0.6M161.5 83.5h0.6M161.5 84h0.6M161.5 84.5h0.6M161.5 85h0.6M161.5 85.5h0.6M161.5 86.5h0.6M161.5 87h0.6M161.5 88.5h0.6M161.5 90h0.6M161.5 90.5h0.6M161.5 91h0.6M161.5 91.5h0.6M161.5 93.5h0.6M161.5 96.5h0.6M161.5 98h0.6M161.5 99h0.6M161.5 101h0.6M161.5 102.5h0.6M161.5 103h0.6M161.5 104.5h0.6M161.5 106h0.6M161.5 107h0.6M161.5 108.5h0.6M161.5 109h0.6M161.5 110.5h0.6M161.5 113.5h0.6M162 79h0.6M162 80.5h0.6M162 82h0.6M162 82.5h0.6M162 83h0.6M162 85h0.6M162 85.5h0.6M162 86.5h0.6M162 87h0.6M162 87.5h0.6M162 89h0.6M162 90h0.6M162 90.5h0.6M162 93h0.6M162 94h0.6M162 95.5h0.6M162 96h0.6M162 97.5h0.6M162 98.5h0.6M162 99.5h0.6M162 100h0.6M162 101h0.6M162 101.5h0.6M162 103h0.6M162 103.5h0.6M162 105.5h0.6M162 106.5h0.6M162 108h0.6M162 109.5h0.6M162 113.5h0.6M162.5 79.5h0.6M162.5 81h0.6M162.5 83h0.6M162.5 84h0.6M162.5 86.5h0.6M162.5 87h0.6M162.5 88h0.6M162.5 88.5h0.6M162.5 89.5h0.6M162.5 90.5h0.6M162.5 91.5h0.6M162.5 93.5h0.6M162.5 94.5h0.6M162.5 99h0.6M162.5 100h0.6M162.5 101.5h0.6M162.5 103h0.6M162.5 104h0.6M162.5 107h0.6M162.5 107.5h0.6M162.5 110.5h0.6M162.5 113.5h0.6M163 84h0.6M163 84.5h0.6M163 85h0.6M163 85.5h0.6M163 86h0.6M163 86.5h0.6M163 87h0.6M163 88.5h0.6M163 89.5h0.6M163 90.5h0.6M163 93.5h0.6M163 100h0.6M163 101.5h0.6M163 102.5h0.6M163 103.5h0.6M163 104h0.6M163 104.5h0.6M163 105h0.6M163 107h0.6M163 108h0.6M163 109.5h0.6M163 111h0.6M163 112h0.6M163 113.5h0.6M163.5 76h0.6M163.5 82h0.6M163.5 83h0.6M163.5 84.5h0.6M163.5 85.5h0.6M163.5 86h0.6M163.5 86.5h0.6M163.5 90h0.6M163.5 90.5h0.6M163.5 91h0.6M163.5 94h0.6M163.5 95.5h0.6M163.5 98.5h0.6M163.5 100.5h0.6M163.5 103.5h0.6M163.5 104h0.6M163.5 107.5h0.6M164 78.5h0.6M164 81h0.6M164 82h0.6M164 82.5h0.6M164 83h0.6M164 84h0.6M164 84.5h0.6M164 85.5h0.6M164 87h0.6M164 87.5h0.6M164 88.5h0.6M164 90.5h0.6M164 91h0.6M164 93h0.6M164 96h0.6M164 97h0.6M164 99.5h0.6M164 101.5h0.6M164 108h0.6M164 109h0.6M164.5 77h0.6M164.5 79.5h0.6M164.5 80.5h0.6M164.5 82h0.6M164.5 82.5h0.6M164.5 83h0.6M164.5 83.5h0.6M164.5 84h0.6M164.5 87h0.6M164.5 89.5h0.6M164.5 96.5h0.6M164.5 97h0.6M164.5 99h0.6M164.5 102h0.6M164.5 105h0.6M164.5 108.5h0.6M164.5 113.5h0.6M165 78.5h0.6M165 82h0.6M165 83h0.6M165 86.5h0.6M165 88.5h0.6M165 89.5h0.6M165 92.5h0.6M165 98.5h0.6M165 102h0.6M165 103h0.6M165 111.5h0.6M165 112.5h0.6M165 113.5h0.6M165.5 72h0.6M165.5 76h0.6M165.5 79h0.6M165.5 79.5h0.6M165.5 80h0.6M165.5 81h0.6M165.5 81.5h0.6M165.5 82h0.6M165.5 82.5h0.6M165.5 84h0.6M165.5 84.5h0.6M165.5 88.5h0.6M165.5 89.5h0.6M165.5 90h0.6M165.5 96h0.6M165.5 107.5h0.6M165.5 109h0.6M165.5 113.5h0.6M166 76h0.6M166 79h0.6M166 80h0.6M166 83h0.6M166 84h0.6M166 93.5h0.6M166 95h0.6M166 106.5h0.6M166.5 75.5h0.6M166.5 76h0.6M166.5 79.5h0.6M166.5 80h0.6M166.5 80.5h0.6M166.5 82.5h0.6M166.5 83h0.6M166.5 83.5h0.6M166.5 84h0.6M166.5 84.5h0.6M166.5 86h0.6M166.5 96.5h0.6M166.5 104.5h0.6M166.5 110h0.6M166.5 110.5h0.6M166.5 112.5h0.6M166.5 113.5h0.6M167 77.5h0.6M167 80h0.6M167 80.5h0.6M167 83h0.6M167 84.5h0.6M167 86.5h0.6M167 89h0.6M167 92.5h0.6M167 96h0.6M167 98.5h0.6M167 99.5h0.6M167 100h0.6M167 107h0.6M167.5 73.5h0.6M167.5 75h0.6M167.5 77h0.6M167.5 79h0.6M167.5 80.5h0.6M167.5 83h0.6M167.5 85.5h0.6M167.5 87h0.6M167.5 100h0.6M167.5 110.5h0.6M167.5 113.5h0.6M168 75.5h0.6M168 76h0.6M168 79h0.6M168 80h0.6M168 81.5h0.6M168 85h0.6M168 85.5h0.6M168 87h0.6M168 99.5h0.6M168 104.5h0.6M168 105.5h0.6M168 106.5h0.6M168 107.5h0.6M168 111h0.6M168.5 74h0.6M168.5 79h0.6M168.5 80.5h0.6M168.5 81h0.6M168.5 82h0.6M168.5 82.5h0.6M168.5 83.5h0.6M168.5 86h0.6M168.5 88.5h0.6M168.5 94h0.6M168.5 101h0.6M168.5 109.5h0.6M169 82.5h0.6M169 87.5h0.6M169 91.5h0.6M169 99h0.6M169 111h0.6M169.5 77.5h0.6M169.5 81h0.6M169.5 84.5h0.6M169.5 93h0.6M169.5 109h0.6M170 73.5h0.6M170 79h0.6M170 81h0.6M170 89h0.6M170.5 76.5h0.6M170.5 77.5h0.6M170.5 84.5h0.6M170.5 104.5h0.6M171 75h0.6M171 76h0.6M171 78.5h0.6M171 79.5h0.6M171 81h0.6M171 81.5h0.6M171 90h0.6M171.5 79h0.6M171.5 82.5h0.6M171.5 85.5h0.6M172.5 74h0.6M172.5 75h0.6M172.5 75.5h0.6M172.5 76.5h0.6M172.5 77h0.6M172.5 78.5h0.6M172.5 92.5h0.6M172.5 98h0.6M172.5 101h0.6M173 74h0.6M173 80h0.6M173.5 75h0.6M173.5 77h0.6M173.5 78.5h0.6M174.5 76.5h0.6M175 74h0.6M175 77.5h0.6M175.5 79h0.6M176 68h0.6M176 70.5h0.6M176 74h0.6M176 83.5h0.6M176 92.5h0.6M176.5 81.5h0.6M177 78.5h0.6M181.5 70h0.6" stroke="#333" stroke-width="0.6" fill="none" opacity="1"/>
<path d="M139 84.5h0.8M139 85.5h0.8M139 86h0.8M139 86.5h0.8M139 87h0.8M139 87.5h0.8M139 88h0.8M139 88.5h0.8M139 89h0.8M139 89.5h0.8M139 90h0.8M139 90.5h0.8M139 91h0.8M139 91.5h0.8M139 92h0.8M139 92.5h0.8M139 93h0.8M139 93.5h0.8M139 94h0.8M139 94.5h0.8M139 95h0.8M139 95.5h0.8M139 96h0.8M139 96.5h0.8M139 97h0.8M139 97.5h0.8M139 98h0.8M139 98.5h0.8M139 99h0.8M139 99.5h0.8M139 100h0.8M139 100.5h0.8M139 101h0.8M139 101.5h0.8M139 102h0.8M139 102.5h0.8M139 103h0.8M139 103.5h0.8M139 104h0.8M139 104.5h0.8M139 105h0.8M139 105.5h0.8M139 106h0.8M139 106.5h0.8M139 107h0.8M139 107.5h0.8M139 108h0.8M139 108.5h0.8M139 109h0.8M139 109.5h0.8M139 110h0.8M139 110.5h0.8M139 111h0.8M139 111.5h0.8M139 112h0.8M139 112.5h0.8M139 113h0.8M139 113.5h0.8M139.5 87.5h0.8M139.5 88h0.8M139.5 88.5h0.8M139.5 89h0.8M139.5 89.5h0.8M139.5 90h0.8M139.5 91.5h0.8M139.5 92h0.8M139.5 92.5h0.8M139.5 93h0.8M139.5 93.5h0.8M139.5 94h0.8M139.5 94.5h0.8M139.5 95h0.8M139.5 95.5h0.8M139.5 96h0.8M139.5 96.5h0.8M139.5 97h0.8M139.5 97.5h0.8M139.5 98h0.8M139.5 98.5h0.8M139.5 99h0.8M139.5 99.5h0.8M139.5 100h0.8M139.5 100.5h0.8M139.5 101h0.8M139.5 101.5h0.8M139.5 102h0.8M139.5 102.5h0.8M139.5 103h0.8M139.5 103.5h0.8M139.5 104h0.8M139.5 104.5h0.8M139.5 105h0.8M139.5 105.5h0.8M139.5 106h0.8M139.5 106.5h0.8M139.5 107h0.8M139.5 107.5h0.8M139.5 108h0.8M139.5 108.5h0.8M139.5 109h0.8M139.5 109.5h0.8M139.5 110h0.8M139.5 110.5h0.8M139.5 111h0.8M139.5 112.5h0.8M139.5 113.5h0.8M140 87h0.8M140 88.5h0.8M140 89h0.8M140 89.5h0.8M140 90h0.8M140 90.5h0.8M140 91h0.8M140 91.5h0.8M140 92h0.8M140 92.5h0.8M140 93h0.8M140 93.5h0.8M140 94h0.8M140 94.5h0.8M140 95h0.8M140 95.5h0.8M140 96h0.8M140 96.5h0.8M140 97h0.8M140 97.5h0.8M140 98h0.8M140 98.5h0.8M140 99h0.8M140 99.5h0.8M140 100h0.8M140 100.5h0.8M140 101h0.8M140 101.5h0.8M140 102h0.8M140 102.5h0.8M140 103h0.8M140 103.5h0.8M140 104h0.8M140 104.5h0.8M140 105h0.8M140 105.5h0.8M140 106h0.8M140 106.5h0.8M140 107h0.8M140 107.5h0.8M140 108h0.8M140 108.5h0.8M140 109h0.8M140 109.5h0.8M140 110.5h0.8M140 111.5h0.8M140 112h0.8M140 113.5h0.8M140.5 85h0.8M140.5 85.5h0.8M140.5 87h0.8M140.5 89h0.8M140.5 90.5h0.8M140.5 91h0.8M140.5 91.5h0.8M140.5 92h0.8M140.5 92.5h0.8M140.5 93h0.8M140.5 93.5h0.8M140.5 94h0.8M140.5 94.5h0.8M140.5 95h0.8M140.5 95.5h0.8M140.5 96h0.8M140.5 96.5h0.8M140.5 97h0.8M140.5 97.5h0.8M140.5 98h0.8M140.5 98.5h0.8M140.5 99h0.8M140.5 99.5h0.8M140.5 100h0.8M140.5 100.5h0.8M140.5 101h0.8M140.5 101.5h0.8M140.5 102h0.8M140.5 102.5h0.8M140.5 103h0.8M140.5 103.5h0.8M140.5 104h0.8M140.5 104.5h0.8M140.5 105h0.8M140.5 105.5h0.8M140.5 106h0.8M140.5 106.5h0.8M140.5 107h0.8M140.5 107.5h0.8M140.5 108h0.8M140.5 108.5h0.8M140.5 109.5h0.8M140.5 110h0.8M140.5 110.5h0.8M140.5 111h0.8M140.5 111.5h0.8M140.5 112h0.8M140.5 113h0.8M141 82h0.8M141 85.5h0.8M141 86.5h0.8M141 88.5h0.8M141 89h0.8M141 89.5h0.8M141 90h0.8M141 90.5h0.8M141 91h0.8M141 92h0.8M141 92.5h0.8M141 93h0.8M141 93.5h0.8M141 94h0.8M141 94.5h0.8M141 95h0.8M141 95.5h0.8M141 96h0.8M141 96.5h0.8M141 97h0.8M141 97.5h0.8M141 98h0.8M141 98.5h0.8M141 99h0.8M141 99.5h0.8M141 100h0.8M141 100.5h0.8M141 101h0.8M141 101.5h0.8M141 102h0.8M141 102.5h0.8M141 103h0.8M141 103.5h0.8M141 104h0.8M141 104.5h0.8M141 105h0.8M141 105.5h0.8M141 106h0.8M141 106.5h0.8M141 107h0.8M141 107.5h0.8M141 108h0.8M141 108.5h0.8M141 109h0.8M141 109.5h0.8M141 110h0.8M141 110.5h0.8M141 111h0.8M141 111.5h0.8M141 112h0.8M141 113.5h0.8M141.5 82h0.8M141.5 89.5h0.8M141.5 90h0.8M141.5 90.5h0.8M141.5 91h0.8M141.5 91.5h0.8M141.5 92.5h0.8M141.5 93h0.8M141.5 93.5h0.8M141.5 94h0.8M141.5 94.5h0.8M141.5 95h0.8M141.5 95.5h0.8M141.5 96h0.8M141.5 96.5h0.8M141.5 97h0.8M141.5 97.5h0.8M141.5 98h0.8M141.5 98.5h0.8M141.5 99h0.8M141.5 99.5h0.8M141.5 100h0.8M141.5 100.5h0.8M141.5 101h0.8M141.5 101.5h0.8M141.5 102h0.8M141.5 102.5h0.8M141.5 103h0.8M141.5 103.5h0.8M141.5 104h0.8M141.5 104.5h0.8M141.5 105h0.8M141.5 105.5h0.8M141.5 106h0.8M141.5 106.5h0.8M141.5 107h0.8M141.5 107.5h0.8M141.5 108h0.8M141.5 108.5h0.8M141.5 109h0.8M141.5 110h0.8M141.5 110.5h0.8M141.5 111h0.8M141.5 111.5h0.8M141.5 112h0.8M141.5 112.5h0.8M141.5 113.5h0.8M142 85h0.8M142 86.5h0.8M142 87h0.8M142 88h0.8M142 88.5h0.8M142 89h0.8M142 89.5h0.8M142 90h0.8M142 90.5h0.8M142 91h0.8M142 91.5h0.8M142 92h0.8M142 92.5h0.8M142 93h0.8M142 93.5h0.8M142 94h0.8M142 94.5h0.8M142 95h0.8M142 95.5h0.8M142 96h0.8M142 96.5h0.8M142 97h0.8M142 97.5h0.8M142 98h0.8M142 98.5h0.8M142 99h0.8M142 99.5h0.8M142 100h0.8M142 100.5h0.8M142 101h0.8M142 101.5h0.8M142 102h0.8M142 102.5h0.8M142 103h0.8M142 103.5h0.8M142 104h0.8M142 104.5h0.8M142 105h0.8M142 105.5h0.8M142 106h0.8M142 106.5h0.8M142 107h0.8M142 107.5h0.8M142 108h0.8M142 108.5h0.8M142 109h0.8M142 109.5h0.8M142 110h0.8M142 110.5h0.8M142 111h0.8M142 111.5h0.8M142 112h0.8M142 112.5h0.8M142 113.5h0.8M142.5 82.5h0.8M142.5 83h0.8M142.5 85h0.8M142.5 87.5h0.8M142.5 88.5h0.8M142.5 89h0.8M142.5 89.5h0.8M142.5 90h0.8M142.5 90.5h0.8M142.5 91h0.8M142.5 91.5h0.8M142.5 92h0.8M142.5 92.5h0.8M142.5 93h0.8M142.5 93.5h0.8M142.5 94h0.8M142.5 94.5h0.8M142.5 95h0.8M142.5 95.5h0.8M142.5 96h0.8M142.5 96.5h0.8M142.5 97h0.8M142.5 97.5h0.8M142.5 98h0.8M142.5 98.5h0.8M142.5 99h0.8M142.5 99.5h0.8M142.5 100h0.8M142.5 100.5h0.8M142.5 101h0.8M142.5 101.5h0.8M142.5 102h0.8M142.5 102.5h0.8M142.5 103h0.8M142.5 103.5h0.8M142.5 104h0.8M142.5 104.5h0.8M142.5 105h0.8M142.5 105.5h0.8M142.5 106h0.8M142.5 106.5h0.8M142.5 107h0.8M142.5 107.5h0.8M142.5 108h0.8M142.5 108.5h0.8M142.5 109h0.8M142.5 109.5h0.8M142.5 110h0.8M142.5 110.5h0.8M142.5 111h0.8M142.5 111.5h0.8M142.5 112.5h0.8M142.5 113h0.8M142.5 113.5h0.8M143 81.5h0.8M143 86h0.8M143 87h0.8M143 87.5h0.8M143 88h0.8M143 88.5h0.8M143 89h0.8M143 89.5h0.8M143 90h0.8M143 90.5h0.8M143 91h0.8M143 91.5h0.8M143 92h0.8M143 92.5h0.8M143 93h0.8M143 93.5h0.8M143 94h0.8M143 94.5h0.8M143 95h0.8M143 95.5h0.8M143 96h0.8M143 96.5h0.8M143 97h0.8M143 97.5h0.8M143 98h0.8M143 98.5h0.8M143 99h0.8M143 99.5h0.8M143 100h0.8M143 100.5h0.8M143 101h0.8M143 101.5h0.8M143 102h0.8M143 102.5h0.8M143 103h0.8M143 103.5h0.8M143 104h0.8M143 104.5h0.8M143 105h0.8M143 105.5h0.8M143 106h0.8M143 106.5h0.8M143 107h0.8M143 107.5h0.8M143 108h0.8M143 108.5h0.8M143 109h0.8M143 109.5h0.8M143 110h0.8M143 110.5h0.8M143 111h0.8M143 111.5h0.8M143 112h0.8M143 112.5h0.8M143 113h0.8M143 113.5h0.8M143.5 85.5h0.8M143.5 86.5h0.8M143.5 87h0.8M143.5 87.5h0.8M143.5 88h0.8M143.5 88.5h0.8M143.5 89h0.8M143.5 90h0.8M143.5 90.5h0.8M143.5 91h0.8M143.5 91.5h0.8M143.5 92h0.8M143.5 92.5h0.8M143.5 93h0.8M143.5 93.5h0.8M143.5 94h0.8M143.5 94.5h0.8M143.5 95h0.8M143.5 95.5h0.8M143.5 96h0.8M143.5 96.5h0.8M143.5 97h0.8M143.5 97.5h0.8M143.5 98h0.8M143.5 98.5h0.8M143.5 99h0.8M143.5 99.5h0.8M143.5 100h0.8M143.5 100.5h0.8M143.5 101h0.8M143.5 101.5h0.8M143.5 102h0.8M143.5 102.5h0.8M143.5 103h0.8M143.5 103.5h0.8M143.5 104h0.8M143.5 104.5h0.8M143.5 105h0.8M143.5 105.5h0.8M143.5 106h0.8M143.5 106.5h0.8M143.5 107h0.8M143.5 107.5h0.8M143.5 108h0.8M143.5 108.5h0.8M143.5 109h0.8M143.5 109.5h0.8M143.5 110h0.8M143.5 110.5h0.8M143.5 111h0.8M143.5 111.5h0.8M143.5 112.5h0.8M143.5 113.5h0.8M144 82h0.8M144 83.5h0.8M144 84h0.8M144 87h0.8M144 88h0.8M144 88.5h0.8M144 89h0.8M144 89.5h0.8M144 90.5h0.8M144 91h0.8M144 91.5h0.8M144 92h0.8M144 92.5h0.8M144 93h0.8M144 93.5h0.8M144 94h0.8M144 94.5h0.8M144 95h0.8M144 95.5h0.8M144 96h0.8M144 96.5h0.8M144 97h0.8M144 97.5h0.8M144 98h0.8M144 98.5h0.8M144 99h0.8M144 99.5h0.8M144 100h0.8M144 100.5h0.8M144 101h0.8M144 101.5h0.8M144 102h0.8M144 102.5h0.8M144 103h0.8M144 103.5h0.8M144 104h0.8M144 104.5h0.8M144 105h0.8M144 105.5h0.8M144 106h0.8M144 106.5h0.8M144 107h0.8M144 107.5h0.8M144 108h0.8M144 108.5h0.8M144 109h0.8M144 109.5h0.8M144 110h0.8M144 110.5h0.8M144 111h0.8M144 111.5h0.8M144 112h0.8M144 112.5h0.8M144 113h0.8M144 113.5h0.8M144.5 82h0.8M144.5 85.5h0.8M144.5 86h0.8M144.5 87h0.8M144.5 87.5h0.8M144.5 88h0.8M144.5 89.5h0.8M144.5 90h0.8M144.5 90.5h0.8M144.5 91.5h0.8M144.5 92h0.8M144.5 92.5h0.8M144.5 93h0.8M144.5 93.5h0.8M144.5 94h0.8M144.5 94.5h0.8M144.5 95h0.8M144.5 95.5h0.8M144.5 96h0.8M144.5 96.5h0.8M144.5 97h0.8M144.5 97.5h0.8M144.5 98h0.8M144.5 98.5h0.8M144.5 99h0.8M144.5 99.5h0.8M144.5 100h0.8M144.5 100.5h0.8M144.5 101h0.8M144.5 101.5h0.8M144.5 102h0.8M144.5 102.5h0.8M144.5 103h0.8M144.5 103.5h0.8M144.5 104h0.8M144.5 104.5h0.8M144.5 105h0.8M144.5 105.5h0.8M144.5 106h0.8M144.5 106.5h0.8M144.5 107h0.8M144.5 107.5h0.8M144.5 108h0.8M144.5 108.5h0.8M144.5 109h0.8M144.5 109.5h0.8M144.5 110h0.8M144.5 110.5h0.8M144.5 111h0.8M144.5 111.5h0.8M144.5 112.5h0.8M144.5 113.5h0.8M145 82.5h0.8M145 86h0.8M145 86.5h0.8M145 87h0.8M145 87.5h0.8M145 89h0.8M145 90h0.8M145 90.5h0.8M145 91h0.8M145 91.5h0.8M145 92h0.8M145 92.5h0.8M145 93h0.8M145 93.5h0.8M145 94h0.8M145 94.5h0.8M145 95h0.8M145 95.5h0.8M145 96h0.8M145 96.5h0.8M145 97h0.8M145 97.5h0.8M145 98h0.8M145 98.5h0.8M145 99h0.8M145 99.5h0.8M145 100h0.8M145 100.5h0.8M145 101h0.8M145 101.5h0.8M145 102h0.8M145 102.5h0.8M145 103h0.8M145 103.5h0.8M145 104h0.8M145 104.5h0.8M145 105h0.8M145 105.5h0.8M145 106h0.8M145 106.5h0.8M145 107h0.8M145 107.5h0.8M145 108h0.8M145 108.5h0.8M145 109h0.8M145 109.5h0.8M145 110h0.8M145 110.5h0.8M145 111h0.8M145 111.5h0.8M145 112h0.8M145 112.5h0.8M145 113h0.8M145 113.5h0.8M145.5 83.5h0.8M145.5 85.5h0.8M145.5 86.5h0.8M145.5 87.5h0.8M145.5 89.5h0.8M145.5 90h0.8M145.5 90.5h0.8M145.5 91h0.8M145.5 91.5h0.8M145.5 92h0.8M145.5 92.5h0.8M145.5 93h0.8M145.5 93.5h0.8M145.5 94h0.8M145.5 94.5h0.8M145.5 95h0.8M145.5 95.5h0.8M145.5 96h0.8M145.5 96.5h0.8M145.5 97h0.8M145.5 97.5h0.8M145.5 98h0.8M145.5 98.5h0.8M145.5 99h0.8M145.5 99.5h0.8M145.5 100h0.8M145.5 100.5h0.8M145.5 101h0.8M145.5 101.5h0.8M145.5 102h0.8M145.5 102.5h0.8M145.5 103h0.8M145.5 103.5h0.8M145.5 104h0.8M145.5 104.5h0.8M145.5 105h0.8M145.5 105.5h0.8M145.5 106h0.8M145.5 106.5h0.8M145.5 107h0.8M145.5 107.5h0.8M145.5 108h0.8M145.5 108.5h0.8M145.5 109h0.8M145.5 109.5h0.8M145.5 110h0.8M145.5 110.5h0.8M145.5 111h0.8M145.5 111.5h0.8M145.5 112h0.8M145.5 112.5h0.8M145.5 113h0.8M145.5 113.5h0.8M146 81.5h0.8M146 82.5h0.8M146 84h0.8M146 84.5h0.8M146 85.5h0.8M146 88h0.8M146 88.5h0.8M146 89h0.8M146 89.5h0.8M146 90h0.8M146 90.5h0.8M146 91h0.8M146 91.5h0.8M146 92h0.8M146 92.5h0.8M146 93h0.8M146 93.5h0.8M146 94h0.8M146 94.5h0.8M146 95h0.8M146 95.5h0.8M146 96h0.8M146 96.5h0.8M146 97h0.8M146 97.5h0.8M146 98h0.8M146 98.5h0.8M146 99h0.8M146 99.5h0.8M146 100h0.8M146 100.5h0.8M146 101h0.8M146 101.5h0.8M146 102h0.8M146 102.5h0.8M146 103h0.8M146 103.5h0.8M146 104h0.8M146 104.5h0.8M146 105h0.8M146 105.5h0.8M146 106h0.8M146 106.5h0.8M146 107h0.8M146 107.5h0.8M146 108h0.8M146 108.5h0.8M146 109h0.8M146 109.5h0.8M146 110h0.8M146 110.5h0.8M146 111h0.8M146 111.5h0.8M146 112h0.8M146 112.5h0.8M146 113h0.8M146 113.5h0.8M146.5 85h0.8M146.5 86.5h0.8M146.5 87h0.8M146.5 87.5h0.8M146.5 88h0.8M146.5 89h0.8M146.5 89.5h0.8M146.5 90h0.8M146.5 90.5h0.8M146.5 91h0.8M146.5 91.5h0.8M146.5 92h0.8M146.5 92.5h0.8M146.5 93h0.8M146.5 93.5h0.8M146.5 94h0.8M146.5 94.5h0.8M146.5 95h0.8M146.5 95.5h0.8M146.5 96h0.8M146.5 96.5h0.8M146.5 97h0.8M146.5 97.5h0.8M146.5 98h0.8M146.5 98.5h0.8M146.5 99h0.8M146.5 99.5h0.8M146.5 100h0.8M146.5 100.5h0.8M146.5 101h0.8M146.5 101.5h0.8M146.5 102h0.8M146.5 102.5h0.8M146.5 103h0.8M146.5 103.5h0.8M146.5 104h0.8M146.5 104.5h0.8M146.5 105h0.8M146.5 105.5h0.8M146.5 106h0.8M146.5 106.5h0.8M146.5 107h0.8M146.5 107.5h0.8M146.5 108h0.8M146.5 108.5h0.8M146.5 109h0.8M146.5 109.5h0.8M146.5 110h0.8M146.5 110.5h0.8M146.5 111h0.8M146.5 111.5h0.8M146.5 112h0.8M146.5 112.5h0.8M146.5 113h0.8M146.5 113.5h0.8M147 80h0.8M147 84h0.8M147 89.5h0.8M147 90h0.8M147 90.5h0.8M147 91h0.8M147 91.5h0.8M147 92h0.8M147 92.5h0.8M147 93h0.8M147 93.5h0.8M147 94h0.8M147 94.5h0.8M147 95h0.8M147 95.5h0.8M147 96h0.8M147 96.5h0.8M147 97h0.8M147 97.5h0.8M147 98h0.8M147 98.5h0.8M147 99h0.8M147 99.5h0.8M147 100h0.8M147 100.5h0.8M147 101h0.8M147 101.5h0.8M147 102h0.8M147 102.5h0.8M147 103h0.8M147 103.5h0.8M147 104h0.8M147 104.5h0.8M147 105h0.8M147 105.5h0.8M147 106h0.8M147 106.5h0.8M147 107h0.8M147 107.5h0.8M147 108h0.8M147 108.5h0.8M147 109h0.8M147 109.5h0.8M147 110h0.8M147 110.5h0.8M147 111h0.8M147 111.5h0.8M147 112h0.8M147 112.5h0.8M147 113h0.8M147 113.5h0.8M147.5 82.5h0.8M147.5 85h0.8M147.5 87h0.8M147.5 87.5h0.8M147.5 88h0.8M147.5 88.5h0.8M147.5 89h0.8M147.5 89.5h0.8M147.5 90h0.8M147.5 90.5h0.8M147.5 91h0.8M147.5 91.5h0.8M147.5 92h0.8M147.5 92.5h0.8M147.5 93h0.8M147.5 93.5h0.8M147.5 94h0.8M147.5 94.5h0.8M147.5 95h0.8M147.5 95.5h0.8M147.5 96h0.8M147.5 96.5h0.8M147.5 97h0.8M147.5 97.5h0.8M147.5 98h0.8M147.5 98.5h0.8M147.5 99h0.8M147.5 99.5h0.8M147.5 100h0.8M147.5 100.5h0.8M147.5 101h0.8M147.5 101.5h0.8M147.5 102h0.8M147.5 102.5h0.8M147.5 103h0.8M147.5 103.5h0.8M147.5 104h0.8M147.5 104.5h0.8M147.5 105h0.8M147.5 105.5h0.8M147.5 106h0.8M147.5 106.5h0.8M147.5 107h0.8M147.5 107.5h0.8M147.5 108h0.8M147.5 108.5h0.8M147.5 109h0.8M147.5 109.5h0.8M147.5 110h0.8M147.5 110.5h0.8M147.5 111h0.8M147.5 111.5h0.8M147.5 112h0.8M147.5 112.5h0.8M147.5 113h0.8M147.5 113.5h0.8M148 84h0.8M148 87h0.8M148 87.5h0.8M148 88h0.8M148 88.5h0.8M148 89h0.8M148 89.5h0.8M148 90.5h0.8M148 91h0.8M148 91.5h0.8M148 92h0.8M148 92.5h0.8M148 93h0.8M148 93.5h0.8M148 94h0.8M148 94.5h0.8M148 95h0.8M148 95.5h0.8M148 96h0.8M148 96.5h0.8M148 97h0.8M148 97.5h0.8M148 98h0.8M148 98.5h0.8M148 99h0.8M148 99.5h0.8M148 100h0.8M148 100.5h0.8M148 101h0.8M148 101.5h0.8M148 102h0.8M148 102.5h0.8M148 103h0.8M148 103.5h0.8M148 104h0.8M148 104.5h0.8M148 105h0.8M148 105.5h0.8M148 106h0.8M148 106.5h0.8M148 107h0.8M148 107.5h0.8M148 108h0.8M148 108.5h0.8M148 109h0.8M148 109.5h0.8M148 110h0.8M148 110.5h0.8M148 111h0.8M148 111.5h0.8M148 112h0.8M148 112.5h0.8M148 113h0.8M148 113.5h0.8M148.5 85.5h0.8M148.5 86h0.8M148.5 87h0.8M148.5 88h0.8M148.5 88.5h0.8M148.5 89h0.8M148.5 89.5h0.8M148.5 90h0.8M148.5 90.5h0.8M148.5 91h0.8M148.5 91.5h0.8M148.5 92h0.8M148.5 92.5h0.8M148.5 93h0.8M148.5 93.5h0.8M148.5 94h0.8M148.5 94.5h0.8M148.5 95h0.8M148.5 95.5h0.8M148.5 96h0.8M148.5 96.5h0.8M148.5 97h0.8M148.5 97.5h0.8M148.5 98h0.8M148.5 98.5h0.8M148.5 99h0.8M148.5 99.5h0.8M148.5 100h0.8M148.5 100.5h0.8M148.5 101h0.8M148.5 101.5h0.8M148.5 102h0.8M148.5 102.5h0.8M148.5 103h0.8M148.5 103.5h0.8M148.5 104h0.8M148.5 104.5h0.8M148.5 105h0.8M148.5 105.5h0.8M148.5 106h0.8M148.5 106.5h0.8M148.5 107h0.8M148.5 107.5h0.8M148.5 108h0.8M148.5 108.5h0.8M148.5 109h0.8M148.5 109.5h0.8M148.5 110h0.8M148.5 110.5h0.8M148.5 111h0.8M148.5 111.5h0.8M148.5 112h0.8M148.5 113.5h0.8M149 85.5h0.8M149 86.5h0.8M149 87.5h0.8M149 88.5h0.8M149 89h0.8M149 89.5h0.8M149 90h0.8M149 90.5h0.8M149 91h0.8M149 91.5h0.8M149 92h0.8M149 92.5h0.8M149 93h0.8M149 93.5h0.8M149 94h0.8M149 94.5h0.8M149 95h0.8M149 95.5h0.8M149 96h0.8M149 96.5h0.8M149 97h0.8M149 97.5h0.8M149 98h0.8M149 98.5h0.8M149 99h0.8M149 99.5h0.8M149 100h0.8M149 100.5h0.8M149 101h0.8M149 101.5h0.8M149 102h0.8M149 102.5h0.8M149 103h0.8M149 103.5h0.8M149 104h0.8M149 104.5h0.8M149 105h0.8M149 105.5h0.8M149 106h0.8M149 106.5h0.8M149 107h0.8M149 107.5h0.8M149 108h0.8M149 108.5h0.8M149 109h0.8M149 109.5h0.8M149 110h0.8M149 110.5h0.8M149 111h0.8M149 111.5h0.8M149 112h0.8M149 112.5h0.8M149 113h0.8M149 113.5h0.8M149.5 84h0.8M149.5 85.5h0.8M149.5 86h0.8M149.5 87h0.8M149.5 88h0.8M149.5 89h0.8M149.5 89.5h0.8M149.5 90h0.8M149.5 90.5h0.8M149.5 91h0.8M149.5 91.5h0.8M149.5 92h0.8M149.5 92.5h0.8M149.5 93h0.8M149.5 93.5h0.8M149.5 94h0.8M149.5 94.5h0.8M149.5 95h0.8M149.5 95.5h0.8M149.5 96h0.8M149.5 96.5h0.8M149.5 97h0.8M149.5 97.5h0.8M149.5 98h0.8M149.5 98.5h0.8M149.5 99h0.8M149.5 99.5h0.8M149.5 100h0.8M149.5 100.5h0.8M149.5 101h0.8M149.5 101.5h0.8M149.5 102h0.8M149.5 102.5h0.8M149.5 103h0.8M149.5 103.5h0.8M149.5 104h0.8M149.5 104.5h0.8M149.5 105h0.8M149.5 105.5h0.8M149.5 106h0.8M149.5 106.5h0.8M149.5 107h0.8M149.5 107.5h0.8M149.5 108h0.8M149.5 108.5h0.8M149.5 109h0.8M149.5 109.5h0.8M149.5 110h0.8M149.5 110.5h0.8M149.5 111h0.8M149.5 111.5h0.8M149.5 112h0.8M149.5 112.5h0.8M149.5 113h0.8M149.5 113.5h0.8M150 83.5h0.8M150 86h0.8M150 86.5h0.8M150 87h0.8M150 88.5h0.8M150 89h0.8M150 89.5h0.8M150 90h0.8M150 90.5h0.8M150 91h0.8M150 92h0.8M150 92.5h0.8M150 93h0.8M150 93.5h0.8M150 94h0.8M150 94.5h0.8M150 95h0.8M150 95.5h0.8M150 96h0.8M150 96.5h0.8M150 97h0.8M150 97.5h0.8M150 98h0.8M150 98.5h0.8M150 99h0.8M150 99.5h0.8M150 100h0.8M150 100.5h0.8M150 101h0.8M150 101.5h0.8M150 102h0.8M150 102.5h0.8M150 103h0.8M150 103.5h0.8M150 104h0.8M150 104.5h0.8M150 105h0.8M150 105.5h0.8M150 106h0.8M150 106.5h0.8M150 107h0.8M150 107.5h0.8M150 108h0.8M150 108.5h0.8M150 109h0.8M150 109.5h0.8M150 110.5h0.8M150 111h0.8M150 111.5h0.8M150 112h0.8M150 112.5h0.8M150 113.5h0.8M150.5 86h0.8M150.5 86.5h0.8M150.5 87h0.8M150.5 87.5h0.8M150.5 89h0.8M150.5 89.5h0.8M150.5 90h0.8M150.5 90.5h0.8M150.5 91h0.8M150.5 91.5h0.8M150.5 92h0.8M150.5 92.5h0.8M150.5 93h0.8M150.5 93.5h0.8M150.5 94h0.8M150.5 94.5h0.8M150.5 95h0.8M150.5 95.5h0.8M150.5 96h0.8M150.5 96.5h0.8M150.5 97h0.8M150.5 97.5h0.8M150.5 98h0.8M150.5 98.5h0.8M150.5 99h0.8M150.5 99.5h0.8M150.5 100h0.8M150.5 100.5h0.8M150.5 101h0.8M150.5 101.5h0.8M150.5 102h0.8M150.5 102.5h0.8M150.5 103h0.8M150.5 103.5h0.8M150.5 104h0.8M150.5 104.5h0.8M150.5 105h0.8M150.5 105.5h0.8M150.5 106h0.8M150.5 106.5h0.8M150.5 107h0.8M150.5 107.5h0.8M150.5 108h0.8M150.5 108.5h0.8M150.5 109h0.8M150.5 109.5h0.8M150.5 110h0.8M150.5 110.5h0.8M150.5 111h0.8M150.5 111.5h0.8M150.5 112h0.8M150.5 112.5h0.8M150.5 113h0.8M150.5 113.5h0.8M151 85h0.8M151 87.5h0.8M151 88.5h0.8M151 89h0.8M151 89.5h0.8M151 90h0.8M151 90.5h0.8M151 91h0.8M151 91.5h0.8M151 92h0.8M151 92.5h0.8M151 93h0.8M151 93.5h0.8M151 94h0.8M151 94.5h0.8M151 95h0.8M151 95.5h0.8M151 96h0.8M151 96.5h0.8M151 97h0.8M151 97.5h0.8M151 98h0.8M151 98.5h0.8M151 99h0.8M151 99.5h0.8M151 100h0.8M151 100.5h0.8M151 101h0.8M151 101.5h0.8M151 102h0.8M151 102.5h0.8M151 103h0.8M151 103.5h0.8M151 104h0.8M151 104.5h0.8M151 105h0.8M151 105.5h0.8M151 106h0.8M151 106.5h0.8M151 107h0.8M151 107.5h0.8M151 108h0.8M151 108.5h0.8M151 109h0.8M151 109.5h0.8M151 110h0.8M151 110.5h0.8M151 111h0.8M151 111.5h0.8M151 112h0.8M151 112.5h0.8M151 113h0.8M151 113.5h0.8M151.5 79h0.8M151.5 84h0.8M151.5 86h0.8M151.5 87h0.8M151.5 88.5h0.8M151.5 89.5h0.8M151.5 90h0.8M151.5 90.5h0.8M151.5 91h0.8M151.5 91.5h0.8M151.5 92h0.8M151.5 92.5h0.8M151.5 93h0.8M151.5 93.5h0.8M151.5 94h0.8M151.5 94.5h0.8M151.5 95h0.8M151.5 95.5h0.8M151.5 96h0.8M151.5 96.5h0.8M151.5 97h0.8M151.5 97.5h0.8M151.5 98h0.8M151.5 98.5h0.8M151.5 99h0.8M151.5 99.5h0.8M151.5 100h0.8M151.5 100.5h0.8M151.5 101h0.8M151.5 101.5h0.8M151.5 102h0.8M151.5 102.5h0.8M151.5 103h0.8M151.5 103.5h0.8M151.5 104h0.8M151.5 104.5h0.8M151.5 105h0.8M151.5 105.5h0.8M151.5 106h0.8M151.5 106.5h0.8M151.5 107h0.8M151.5 107.5h0.8M151.5 108h0.8M151.5 108.5h0.8M151.5 109h0.8M151.5 109.5h0.8M151.5 110h0.8M151.5 110.5h0.8M151.5 111h0.8M151.5 111.5h0.8M151.5 112h0.8M151.5 112.5h0.8M151.5 113h0.8M151.5 113.5h0.8M152 78.5h0.8M152 88.5h0.8M152 90.5h0.8M152 91h0.8M152 91.5h0.8M152 92h0.8M152 92.5h0.8M152 93h0.8M152 93.5h0.8M152 94h0.8M152 94.5h0.8M152 95h0.8M152 95.5h0.8M152 96h0.8M152 96.5h0.8M152 97h0.8M152 97.5h0.8M152 98h0.8M152 98.5h0.8M152 99h0.8M152 99.5h0.8M152 100h0.8M152 100.5h0.8M152 101h0.8M152 101.5h0.8M152 102h0.8M152 102.5h0.8M152 103h0.8M152 103.5h0.8M152 104h0.8M152 104.5h0.8M152 105h0.8M152 105.5h0.8M152 106h0.8M152 106.5h0.8M152 107h0.8M152 107.5h0.8M152 108h0.8M152 108.5h0.8M152 109h0.8M152 109.5h0.8M152 110h0.8M152 110.5h0.8M152 111h0.8M152 111.5h0.8M152 112.5h0.8M152 113h0.8M152 113.5h0.8M152.5 88h0.8M152.5 90h0.8M152.5 90.5h0.8M152.5 91.5h0.8M152.5 92.5h0.8M152.5 93h0.8M152.5 93.5h0.8M152.5 94h0.8M152.5 94.5h0.8M152.5 95h0.8M152.5 95.5h0.8M152.5 96h0.8M152.5 96.5h0.8M152.5 97h0.8M152.5 97.5h0.8M152.5 98h0.8M152.5 98.5h0.8M152.5 99h0.8M152.5 99.5h0.8M152.5 100h0.8M152.5 100.5h0.8M152.5 101h0.8M152.5 101.5h0.8M152.5 102h0.8M152.5 102.5h0.8M152.5 103h0.8M152.5 103.5h0.8M152.5 104h0.8M152.5 104.5h0.8M152.5 105h0.8M152.5 105.5h0.8M152.5 106h0.8M152.5 106.5h0.8M152.5 107h0.8M152.5 107.5h0.8M152.5 108h0.8M152.5 108.5h0.8M152.5 109h0.8M152.5 109.5h0.8M152.5 110h0.8M152.5 111h0.8M152.5 111.5h0.8M152.5 112h0.8M152.5 112.5h0.8M152.5 113.5h0.8M153 82.5h0.8M153 86.5h0.8M153 89h0.8M153 89.5h0.8M153 90.5h0.8M153 91h0.8M153 91.5h0.8M153 92h0.8M153 92.5h0.8M153 93h0.8M153 93.5h0.8M153 94h0.8M153 94.5h0.8M153 95h0.8M153 95.5h0.8M153 96h0.8M153 96.5h0.8M153 97h0.8M153 97.5h0.8M153 98h0.8M153 98.5h0.8M153 99h0.8M153 99.5h0.8M153 100h0.8M153 100.5h0.8M153 101h0.8M153 101.5h0.8M153 102h0.8M153 102.5h0.8M153 103h0.8M153 103.5h0.8M153 104h0.8M153 104.5h0.8M153 105h0.8M153 105.5h0.8M153 106h0.8M153 106.5h0.8M153 107h0.8M153 107.5h0.8M153 108h0.8M153 108.5h0.8M153 109h0.8M153 109.5h0.8M153 110h0.8M153 110.5h0.8M153 111h0.8M153 111.5h0.8M153 112h0.8M153 112.5h0.8M153 113.5h0.8M153.5 87.5h0.8M153.5 88h0.8M153.5 89h0.8M153.5 89.5h0.8M153.5 91.5h0.8M153.5 92h0.8M153.5 92.5h0.8M153.5 93h0.8M153.5 93.5h0.8M153.5 94h0.8M153.5 94.5h0.8M153.5 95h0.8M153.5 95.5h0.8M153.5 96h0.8M153.5 96.5h0.8M153.5 97h0.8M153.5 97.5h0.8M153.5 98h0.8M153.5 98.5h0.8M153.5 99h0.8M153.5 99.5h0.8M153.5 100h0.8M153.5 100.5h0.8M153.5 101h0.8M153.5 101.5h0.8M153.5 102h0.8M153.5 102.5h0.8M153.5 103h0.8M153.5 103.5h0.8M153.5 104h0.8M153.5 104.5h0.8M153.5 105h0.8M153.5 105.5h0.8M153.5 106h0.8M153.5 106.5h0.8M153.5 107h0.8M153.5 107.5h0.8M153.5 108h0.8M153.5 108.5h0.8M153.5 109h0.8M153.5 109.5h0.8M153.5 110h0.8M153.5 110.5h0.8M153.5 111h0.8M153.5 111.5h0.8M153.5 112h0.8M153.5 112.5h0.8M153.5 113.5h0.8M154 86h0.8M154 88.5h0.8M154 89h0.8M154 90h0.8M154 91h0.8M154 91.5h0.8M154 92h0.8M154 92.5h0.8M154 93h0.8M154 94h0.8M154 94.5h0.8M154 95h0.8M154 95.5h0.8M154 96h0.8M154 96.5h0.8M154 97h0.8M154 97.5h0.8M154 98h0.8M154 98.5h0.8M154 99h0.8M154 99.5h0.8M154 100h0.8M154 100.5h0.8M154 101h0.8M154 101.5h0.8M154 102h0.8M154 102.5h0.8M154 103h0.8M154 103.5h0.8M154 104h0.8M154 104.5h0.8M154 105h0.8M154 105.5h0.8M154 106h0.8M154 106.5h0.8M154 107h0.8M154 107.5h0.8M154 108h0.8M154 108.5h0.8M154 109h0.8M154 109.5h0.8M154 110h0.8M154 111h0.8M154 111.5h0.8M154 112h0.8M154 113.5h0.8M154.5 86h0.8M154.5 87h0.8M154.5 87.5h0.8M154.5 88h0.8M154.5 88.5h0.8M154.5 89h0.8M154.5 90h0.8M154.5 91.5h0.8M154.5 92h0.8M154.5 92.5h0.8M154.5 93h0.8M154.5 93.5h0.8M154.5 94h0.8M154.5 94.5h0.8M154.5 95h0.8M154.5 96h0.8M154.5 96.5h0.8M154.5 97h0.8M154.5 97.5h0.8M154.5 98h0.8M154.5 98.5h0.8M154.5 99h0.8M154.5 99.5h0.8M154.5 100h0.8M154.5 100.5h0.8M154.5 101h0.8M154.5 101.5h0.8M154.5 102h0.8M154.5 102.5h0.8M154.5 103h0.8M154.5 103.5h0.8M154.5 104h0.8M154.5 104.5h0.8M154.5 105h0.8M154.5 105.5h0.8M154.5 106h0.8M154.5 106.5h0.8M154.5 107h0.8M154.5 107.5h0.8M154.5 108h0.8M154.5 108.5h0.8M154.5 109h0.8M154.5 109.5h0.8M154.5 111h0.8M154.5 111.5h0.8M154.5 112h0.8M154.5 113.5h0.8M155 88h0.8M155 88.5h0.8M155 91.5h0.8M155 92h0.8M155 92.5h0.8M155 93h0.8M155 93.5h0.8M155 94h0.8M155 95h0.8M155 95.5h0.8M155 96.5h0.8M155 97h0.8M155 97.5h0.8M155 98h0.8M155 98.5h0.8M155 99h0.8M155 99.5h0.8M155 100h0.8M155 100.5h0.8M155 101h0.8M155 101.5h0.8M155 102h0.8M155 102.5h0.8M155 103h0.8M155 103.5h0.8M155 104h0.8M155 104.5h0.8M155 105h0.8M155 105.5h0.8M155 106h0.8M155 106.5h0.8M155 107h0.8M155 107.5h0.8M155 108h0.8M155 110.5h0.8M155 111h0.8M155 111.5h0.8M155 113.5h0.8M155.5 85h0.8M155.5 87h0.8M155.5 88h0.8M155.5 90.5h0.8M155.5 91h0.8M155.5 91.5h0.8M155.5 92h0.8M155.5 92.5h0.8M155.5 93h0.8M155.5 93.5h0.8M155.5 94h0.8M155.5 94.5h0.8M155.5 95h0.8M155.5 95.5h0.8M155.5 96h0.8M155.5 96.5h0.8M155.5 97h0.8M155.5 97.5h0.8M155.5 98h0.8M155.5 98.5h0.8M155.5 99h0.8M155.5 99.5h0.8M155.5 100h0.8M155.5 100.5h0.8M155.5 101h0.8M155.5 101.5h0.8M155.5 102h0.8M155.5 102.5h0.8M155.5 103.5h0.8M155.5 104h0.8M155.5 104.5h0.8M155.5 105h0.8M155.5 105.5h0.8M155.5 106h0.8M155.5 106.5h0.8M155.5 107h0.8M155.5 107.5h0.8M155.5 108h0.8M155.5 108.5h0.8M155.5 110.5h0.8M155.5 113.5h0.8M156 87h0.8M156 88.5h0.8M156 90h0.8M156 91h0.8M156 91.5h0.8M156 92.5h0.8M156 93.5h0.8M156 94h0.8M156 95h0.8M156 95.5h0.8M156 96h0.8M156 96.5h0.8M156 97h0.8M156 98h0.8M156 98.5h0.8M156 99h0.8M156 99.5h0.8M156 100h0.8M156 100.5h0.8M156 101h0.8M156 102h0.8M156 102.5h0.8M156 103h0.8M156 103.5h0.8M156 104h0.8M156 104.5h0.8M156 105h0.8M156 105.5h0.8M156 106h0.8M156 106.5h0.8M156 107h0.8M156 107.5h0.8M156 108h0.8M156 108.5h0.8M156 109.5h0.8M156 110h0.8M156 110.5h0.8M156 113.5h0.8M156.5 88h0.8M156.5 93.5h0.8M156.5 94.5h0.8M156.5 95h0.8M156.5 95.5h0.8M156.5 96h0.8M156.5 96.5h0.8M156.5 97h0.8M156.5 97.5h0.8M156.5 98h0.8M156.5 98.5h0.8M156.5 99.5h0.8M156.5 100h0.8M156.5 100.5h0.8M156.5 101h0.8M156.5 102h0.8M156.5 103h0.8M156.5 103.5h0.8M156.5 104h0.8M156.5 105h0.8M156.5 105.5h0.8M156.5 106h0.8M156.5 106.5h0.8M156.5 107h0.8M156.5 107.5h0.8M156.5 108h0.8M156.5 108.5h0.8M156.5 109h0.8M156.5 111h0.8M156.5 111.5h0.8M156.5 112h0.8M157 89h0.8M157 90.5h0.8M157 91.5h0.8M157 92.5h0.8M157 94h0.8M157 95.5h0.8M157 96.5h0.8M157 97h0.8M157 97.5h0.8M157 98h0.8M157 98.5h0.8M157 99h0.8M157 99.5h0.8M157 101.5h0.8M157 102h0.8M157 102.5h0.8M157 103h0.8M157 103.5h0.8M157 105h0.8M157 105.5h0.8M157 106h0.8M157 106.5h0.8M157 107h0.8M157 108h0.8M157 109h0.8M157 110h0.8M157 111h0.8M157.5 93h0.8M157.5 93.5h0.8M157.5 94.5h0.8M157.5 95h0.8M157.5 95.5h0.8M157.5 96h0.8M157.5 96.5h0.8M157.5 97.5h0.8M157.5 98h0.8M157.5 98.5h0.8M157.5 99.5h0.8M157.5 100h0.8M157.5 100.5h0.8M157.5 101h0.8M157.5 102h0.8M157.5 103h0.8M157.5 104h0.8M157.5 104.5h0.8M157.5 105h0.8M157.5 106h0.8M157.5 106.5h0.8M157.5 107h0.8M157.5 108h0.8M157.5 108.5h0.8M157.5 112h0.8M157.5 113.5h0.8M158 86.5h0.8M158 88.5h0.8M158 93.5h0.8M158 95h0.8M158 95.5h0.8M158 96h0.8M158 96.5h0.8M158 98h0.8M158 99h0.8M158 99.5h0.8M158 100h0.8M158 102h0.8M158 102.5h0.8M158 103h0.8M158 104h0.8M158 106h0.8M158 107h0.8M158 108h0.8M158 109.5h0.8M158 110h0.8M158 111.5h0.8M158 113h0.8M158 113.5h0.8M158.5 91h0.8M158.5 92h0.8M158.5 92.5h0.8M158.5 93h0.8M158.5 93.5h0.8M158.5 94.5h0.8M158.5 96h0.8M158.5 96.5h0.8M158.5 97.5h0.8M158.5 98h0.8M158.5 99h0.8M158.5 100.5h0.8M158.5 101.5h0.8M158.5 102h0.8M158.5 103h0.8M158.5 103.5h0.8M158.5 105.5h0.8M158.5 106h0.8M158.5 113.5h0.8M159 92h0.8M159 93.5h0.8M159 95.5h0.8M159 96h0.8M159 96.5h0.8M159 97.5h0.8M159 100h0.8M159 101h0.8M159 101.5h0.8M159 102.5h0.8M159 103h0.8M159 103.5h0.8M159 104h0.8M159 104.5h0.8M159 105h0.8M159 105.5h0.8M159 107h0.8M159.5 86h0.8M159.5 92h0.8M159.5 93.5h0.8M159.5 94h0.8M159.5 94.5h0.8M159.5 96h0.8M159.5 96.5h0.8M159.5 97h0.8M159.5 97.5h0.8M159.5 98h0.8M159.5 98.5h0.8M159.5 100h0.8M159.5 101.5h0.8M159.5 103h0.8M159.5 108h0.8M159.5 109h0.8M159.5 110h0.8M159.5 111h0.8M159.5 113.5h0.8M160 88.5h0.8M160 95.5h0.8M160 98.5h0.8M160 99.5h0.8M160 100h0.8M160 100.5h0.8M160 101h0.8M160 101.5h0.8M160 102h0.8M160 104.5h0.8M160 105.5h0.8M160.5 87.5h0.8M160.5 90.5h0.8M160.5 92.5h0.8M160.5 95h0.8M160.5 96.5h0.8M160.5 98h0.8M160.5 99h0.8M160.5 100.5h0.8M160.5 102h0.8M160.5 105.5h0.8M160.5 106h0.8M161 89.5h0.8M161 96.5h0.8M161 97h0.8M161 100.5h0.8M161 102h0.8M161 104.5h0.8M161 107h0.8M161.5 94h0.8M161.5 94.5h0.8M161.5 96.5h0.8M161.5 97h0.8M161.5 98.5h0.8M161.5 101h0.8M161.5 101.5h0.8M161.5 108.5h0.8M161.5 111h0.8M162 95h0.8M162 97h0.8M162 99h0.8M162 102.5h0.8M162 107.5h0.8M162 110.5h0.8M162.5 92.5h0.8M162.5 96.5h0.8M162.5 100h0.8M162.5 104h0.8M162.5 108.5h0.8M162.5 109h0.8M163 98h0.8M163 98.5h0.8M163 104.5h0.8M163.5 91.5h0.8M163.5 97.5h0.8M163.5 98.5h0.8M163.5 101h0.8M163.5 101.5h0.8M163.5 106.5h0.8M164.5 98h0.8M165 97h0.8M165 101h0.8M165.5 94h0.8M165.5 102h0.8M165.5 105h0.8M166 108h0.8M167 99.5h0.8M169.5 104.5h0.8" stroke="#000" stroke-width="0.8" fill="none" opacity="1"/>
<path d="M139.50 115.70H213.75" stroke="#888" stroke-width="1.3" stroke-dasharray="0.5 2.6" fill="none"/>
<path d="M137.30 40.75V114.50" stroke="#888" stroke-width="1.3" stroke-dasharray="0.5 3.4" fill="none"/>
<text x="145.05" y="121.50" font-size="3.6" text-anchor="middle" fill="#444">0.0</text>
<text x="154.68" y="121.50" font-size="3.6" text-anchor="middle" fill="#444">10²</text>
<text x="173.12" y="121.50" font-size="3.6" text-anchor="middle" fill="#444">10³</text>
<text x="188.62" y="121.50" font-size="3.6" text-anchor="middle" fill="#444">10⁴</text>
<text x="206.23" y="121.50" font-size="3.6" text-anchor="middle" fill="#444">10⁵</text>
<text x="135.90" y="46.69" font-size="3.6" text-anchor="end" fill="#444">10⁵</text>
<text x="135.90" y="63.89" font-size="3.6" text-anchor="end" fill="#444">10⁴</text>
<text x="135.90" y="80.86" font-size="3.6" text-anchor="end" fill="#444">10³</text>
<text x="135.90" y="99.41" font-size="3.6" text-anchor="end" fill="#444">10²</text>
<text x="135.90" y="107.06" font-size="3.6" text-anchor="end" fill="#444">0</text>
<rect x="138.50" y="38.75" width="75.25" height="75.75" fill="none" stroke="#6a6a6a" stroke-width="0.9"/>
<text x="140.30" y="43.95" font-size="7" text-anchor="start" fill="#111" stroke="#111" stroke-width="0.18">4.6</text>
<text x="198.55" y="43.95" font-size="7" text-anchor="start" fill="#111" stroke="#111" stroke-width="0.18">1.4</text>
<text x="198.55" y="113.50" font-size="7" text-anchor="start" fill="#111" stroke="#111" stroke-width="0.18">2.6</text>
<rect x="139.00" y="107.30" width="15.50" height="6.7" fill="#fff" opacity="0.9"/>
<text x="140.10" y="113.50" font-size="7" text-anchor="start" fill="#111" stroke="#111" stroke-width="0.18">91.3</text>
<path d="M145.00 128.00H205.00" stroke="#111" stroke-width="1.3" fill="none"/>
<path d="M209.00 128.00L204.00 125.70V130.30Z" fill="#111"/>
<text x="175.00" y="139.60" font-size="9.1" text-anchor="middle" fill="#111" stroke="#111" stroke-width="0.18">CD25</text>
<path d="M124.00 110.00V50.20" stroke="#111" stroke-width="1.2" fill="none"/>
<path d="M124.00 46.40L121.60 51.20H126.40Z" fill="#111"/>
<text x="117.70" y="78.00" font-size="9.6" text-anchor="middle" fill="#111" stroke="#111" stroke-width="0.18" transform="rotate(-90 117.70 78.00)">Foxp3</text>
<path d="M340.75 38.75V113.50M322.00 88.75H396.75" stroke="#c0c0c0" stroke-width="0.75" fill="none"/>
<path d="M325 99.5h0.65M326 95h0.65M326.5 96h0.65M326.5 99.5h0.65M326.5 100.5h0.65M327 94h0.65M327 96.5h0.65M327.5 94h0.65M327.5 95h0.65M327.5 96.5h0.65M327.5 97h0.65M327.5 99h0.65M327.5 101.5h0.65M327.5 102.5h0.65M328 92h0.65M328 95.5h0.65M328 96h0.65M328 100.5h0.65M328 101h0.65M328 101.5h0.65M328 104h0.65M328.5 87h0.65M328.5 92h0.65M328.5 95h0.65M328.5 95.5h0.65M328.5 96h0.65M328.5 97h0.65M328.5 99.5h0.65M328.5 111h0.65M329 90h0.65M329 93h0.65M329 94.5h0.65M329 97h0.65M329 97.5h0.65M329 98.5h0.65M329 99h0.65M329 99.5h0.65M329 100h0.65M329 101h0.65M329 105h0.65M329.5 90h0.65M329.5 91.5h0.65M329.5 93.5h0.65M329.5 94h0.65M329.5 94.5h0.65M329.5 95h0.65M329.5 95.5h0.65M329.5 96h0.65M329.5 96.5h0.65M329.5 97h0.65M329.5 97.5h0.65M329.5 98h0.65M329.5 99h0.65M329.5 100h0.65M329.5 101.5h0.65M329.5 103.5h0.65M330 85.5h0.65M330 89.5h0.65M330 93.5h0.65M330 94h0.65M330 94.5h0.65M330 95h0.65M330 95.5h0.65M330 96h0.65M330 96.5h0.65M330 97h0.65M330 98h0.65M330 98.5h0.65M330 99.5h0.65M330 100h0.65M330 101h0.65M330 101.5h0.65M330 102h0.65M330 103.5h0.65M330 104h0.65M330 105h0.65M330 106h0.65M330 107h0.65M330.5 89.5h0.65M330.5 92h0.65M330.5 93h0.65M330.5 93.5h0.65M330.5 94h0.65M330.5 95.5h0.65M330.5 96h0.65M330.5 97h0.65M330.5 97.5h0.65M330.5 98h0.65M330.5 98.5h0.65M330.5 99h0.65M330.5 99.5h0.65M330.5 100h0.65M330.5 100.5h0.65M330.5 101h0.65M330.5 101.5h0.65M330.5 102h0.65M330.5 102.5h0.65M330.5 103.5h0.65M330.5 107.5h0.65M330.5 111.5h0.65M331 84.5h0.65M331 87.5h0.65M331 92.5h0.65M331 93.5h0.65M331 94.5h0.65M331 95h0.65M331 95.5h0.65M331 96h0.65M331 96.5h0.65M331 97h0.65M331 97.5h0.65M331 98h0.65M331 98.5h0.65M331 99h0.65M331 99.5h0.65M331 100h0.65M331 100.5h0.65M331 101h0.65M331 101.5h0.65M331 102h0.65M331 102.5h0.65M331 103h0.65M331 104h0.65M331 105h0.65M331 105.5h0.65M331.5 88.5h0.65M331.5 89.5h0.65M331.5 91h0.65M331.5 92h0.65M331.5 92.5h0.65M331.5 93h0.65M331.5 93.5h0.65M331.5 94h0.65M331.5 94.5h0.65M331.5 95h0.65M331.5 96h0.65M331.5 96.5h0.65M331.5 97h0.65M331.5 98h0.65M331.5 98.5h0.65M331.5 99h0.65M331.5 99.5h0.65M331.5 100h0.65M331.5 100.5h0.65M331.5 102h0.65M331.5 102.5h0.65M331.5 103h0.65M331.5 103.5h0.65M331.5 106.5h0.65M331.5 107h0.65M332 86.5h0.65M332 89.5h0.65M332 90.5h0.65M332 91h0.65M332 91.5h0.65M332 92.5h0.65M332 93h0.65M332 93.5h0.65M332 94h0.65M332 94.5h0.65M332 95.5h0.65M332 96h0.65M332 97h0.65M332 97.5h0.65M332 98h0.65M332 99h0.65M332 99.5h0.65M332 100h0.65M332 100.5h0.65M332 102h0.65M332 102.5h0.65M332 103h0.65M332 105.5h0.65M332 106.5h0.65M332.5 86.5h0.65M332.5 88.5h0.65M332.5 90h0.65M332.5 90.5h0.65M332.5 91h0.65M332.5 91.5h0.65M332.5 92h0.65M332.5 92.5h0.65M332.5 94h0.65M332.5 94.5h0.65M332.5 95h0.65M332.5 95.5h0.65M332.5 96h0.65M332.5 96.5h0.65M332.5 97h0.65M332.5 97.5h0.65M332.5 98h0.65M332.5 98.5h0.65M332.5 99h0.65M332.5 99.5h0.65M332.5 100h0.65M332.5 100.5h0.65M332.5 101h0.65M332.5 101.5h0.65M332.5 102h0.65M332.5 102.5h0.65M332.5 103h0.65M332.5 103.5h0.65M332.5 105.5h0.65M332.5 108h0.65M332.5 110h0.65M333 87.5h0.65M333 90h0.65M333 90.5h0.65M333 91.5h0.65M333 92h0.65M333 92.5h0.65M333 94h0.65M333 94.5h0.65M333 95h0.65M333 95.5h0.65M333 96h0.65M333 96.5h0.65M333 97h0.65M333 97.5h0.65M333 98h0.65M333 98.5h0.65M333 99h0.65M333 99.5h0.65M333 100h0.65M333 100.5h0.65M333 101h0.65M333 101.5h0.65M333 102h0.65M333 102.5h0.65M333 103.5h0.65M333 104h0.65M333 104.5h0.65M333 105.5h0.65M333.5 87.5h0.65M333.5 90h0.65M333.5 90.5h0.65M333.5 91h0.65M333.5 91.5h0.65M333.5 92h0.65M333.5 92.5h0.65M333.5 93h0.65M333.5 94h0.65M333.5 94.5h0.65M333.5 95h0.65M333.5 95.5h0.65M333.5 96h0.65M333.5 96.5h0.65M333.5 98h0.65M333.5 98.5h0.65M333.5 99h0.65M333.5 100.5h0.65M333.5 101h0.65M333.5 101.5h0.65M333.5 102h0.65M333.5 102.5h0.65M333.5 103h0.65M334 86.5h0.65M334 89.5h0.65M334 90h0.65M334 91h0.65M334 91.5h0.65M334 92h0.65M334 92.5h0.65M334 93.5h0.65M334 94h0.65M334 94.5h0.65M334 95h0.65M334 95.5h0.65M334 96h0.65M334 96.5h0.65M334 97h0.65M334 97.5h0.65M334 98h0.65M334 98.5h0.65M334 99.5h0.65M334 100h0.65M334 100.5h0.65M334 101h0.65M334 101.5h0.65M334 102h0.65M334 102.5h0.65M334 103.5h0.65M334 104h0.65M334 106h0.65M334.5 89.5h0.65M334.5 91h0.65M334.5 91.5h0.65M334.5 92h0.65M334.5 92.5h0.65M334.5 93h0.65M334.5 93.5h0.65M334.5 94h0.65M334.5 94.5h0.65M334.5 95h0.65M334.5 95.5h0.65M334.5 96h0.65M334.5 96.5h0.65M334.5 97h0.65M334.5 97.5h0.65M334.5 98h0.65M334.5 98.5h0.65M334.5 99h0.65M334.5 99.5h0.65M334.5 100h0.65M334.5 101.5h0.65M334.5 102h0.65M334.5 103h0.65M334.5 104h0.65M334.5 105.5h0.65M334.5 106h0.65M334.5 106.5h0.65M335 89.5h0.65M335 91h0.65M335 91.5h0.65M335 92h0.65M335 92.5h0.65M335 93h0.65M335 93.5h0.65M335 94h0.65M335 94.5h0.65M335 95h0.65M335 96h0.65M335 96.5h0.65M335 97h0.65M335 97.5h0.65M335 98h0.65M335 98.5h0.65M335 99h0.65M335 100.5h0.65M335 101h0.65M335 101.5h0.65M335 102h0.65M335 103h0.65M335 103.5h0.65M335.5 88.5h0.65M335.5 92.5h0.65M335.5 94.5h0.65M335.5 95h0.65M335.5 95.5h0.65M335.5 96h0.65M335.5 97.5h0.65M335.5 98h0.65M335.5 98.5h0.65M335.5 99h0.65M335.5 100h0.65M335.5 100.5h0.65M335.5 101h0.65M335.5 101.5h0.65M335.5 102.5h0.65M335.5 104h0.65M336 90h0.65M336 93h0.65M336 94h0.65M336 95h0.65M336 95.5h0.65M336 96h0.65M336 96.5h0.65M336 97.5h0.65M336 98h0.65M336 98.5h0.65M336 99.5h0.65M336 100.5h0.65M336 101h0.65M336 102h0.65M336 104h0.65M336 105.5h0.65M336.5 89h0.65M336.5 91.5h0.65M336.5 92.5h0.65M336.5 93h0.65M336.5 94.5h0.65M336.5 95.5h0.65M336.5 96.5h0.65M336.5 97h0.65M336.5 97.5h0.65M336.5 98h0.65M336.5 98.5h0.65M336.5 99.5h0.65M336.5 100.5h0.65M336.5 101h0.65M336.5 101.5h0.65M336.5 102.5h0.65M336.5 103h0.65M336.5 106.5h0.65M337 92h0.65M337 93h0.65M337 93.5h0.65M337 94h0.65M337 97.5h0.65M337 98.5h0.65M337 100h0.65M337 105h0.65M337.5 90.5h0.65M337.5 96.5h0.65M337.5 97.5h0.65M337.5 98h0.65M337.5 98.5h0.65M337.5 100.5h0.65M338 94h0.65M338 95h0.65M338 97.5h0.65M338 104.5h0.65M338.5 88h0.65M338.5 93h0.65M338.5 96h0.65M338.5 98.5h0.65M339 89h0.65M339 91h0.65M339 91.5h0.65M339 94.5h0.65M339 95.5h0.65M339.5 93h0.65M340 105h0.65M340.5 94.5h0.65M341 95h0.65M341 98.5h0.65M343 100.5h0.65" stroke="#000" stroke-width="0.65" fill="none" opacity="1"/>
<path d="M323.00 114.70H396.75" stroke="#888" stroke-width="1.3" stroke-dasharray="0.5 2.6" fill="none"/>
<path d="M320.80 40.75V113.50" stroke="#888" stroke-width="1.3" stroke-dasharray="0.5 3.4" fill="none"/>
<text x="328.50" y="120.50" font-size="3.6" text-anchor="middle" fill="#444">0.0</text>
<text x="338.07" y="120.50" font-size="3.6" text-anchor="middle" fill="#444">10²</text>
<text x="356.38" y="120.50" font-size="3.6" text-anchor="middle" fill="#444">10³</text>
<text x="371.78" y="120.50" font-size="3.6" text-anchor="middle" fill="#444">10⁴</text>
<text x="389.27" y="120.50" font-size="3.6" text-anchor="middle" fill="#444">10⁵</text>
<text x="319.40" y="46.60" font-size="3.6" text-anchor="end" fill="#444">10⁵</text>
<text x="319.40" y="63.57" font-size="3.6" text-anchor="end" fill="#444">10⁴</text>
<text x="319.40" y="80.32" font-size="3.6" text-anchor="end" fill="#444">10³</text>
<text x="319.40" y="98.63" font-size="3.6" text-anchor="end" fill="#444">10²</text>
<text x="319.40" y="106.18" font-size="3.6" text-anchor="end" fill="#444">0</text>
<rect x="322.00" y="38.75" width="74.75" height="74.75" fill="none" stroke="#6a6a6a" stroke-width="0.9"/>
<text x="323.80" y="43.95" font-size="7" text-anchor="start" fill="#111" stroke="#111" stroke-width="0.18">2.0</text>
<text x="381.55" y="43.95" font-size="7" text-anchor="start" fill="#111" stroke="#111" stroke-width="0.18">0.0</text>
<text x="381.55" y="112.50" font-size="7" text-anchor="start" fill="#111" stroke="#111" stroke-width="0.18">1.1</text>
<rect x="322.50" y="106.30" width="15.50" height="6.7" fill="#fff" opacity="0.9"/>
<text x="323.60" y="112.50" font-size="7" text-anchor="start" fill="#111" stroke="#111" stroke-width="0.18">96.7</text>
<path d="M328.75 127.80H389.00" stroke="#111" stroke-width="1.3" fill="none"/>
<path d="M393.00 127.80L388.00 125.50V130.10Z" fill="#111"/>
<text x="362.50" y="139.90" font-size="9.3" text-anchor="middle" fill="#111" stroke="#111" stroke-width="0.18">CD49d</text>
<path d="M308.00 111.00V50.80" stroke="#111" stroke-width="1.2" fill="none"/>
<path d="M308.00 47.00L305.60 51.80H310.40Z" fill="#111"/>
<text x="303.30" y="80.00" font-size="9.6" text-anchor="middle" fill="#111" stroke="#111" stroke-width="0.18" transform="rotate(-90 303.30 80.00)">CD127</text>
<path d="M460.00 38.60V113.60M438.00 85.80H513.00" stroke="#c0c0c0" stroke-width="0.75" fill="none"/>
<path d="M438.5 78.5h0.58M438.5 82h0.58M438.5 82.5h0.58M438.5 87.5h0.58M438.5 90.5h0.58M438.5 91h0.58M438.5 92.5h0.58M438.5 93.5h0.58M438.5 94.5h0.58M438.5 95h0.58M438.5 95.5h0.58M438.5 98h0.58M438.5 99h0.58M438.5 99.5h0.58M438.5 100h0.58M438.5 101.5h0.58M438.5 102h0.58M438.5 102.5h0.58M438.5 106h0.58M438.5 106.5h0.58M438.5 107.5h0.58M438.5 110h0.58M438.5 112.5h0.58M439 99h0.58M439.5 98h0.58M439.5 102h0.58M439.5 107h0.58M440 91.5h0.58M440.5 82.5h0.58M440.5 88.5h0.58M440.5 90h0.58M440.5 90.5h0.58M440.5 94h0.58M441 88.5h0.58M441 105.5h0.58M441 106.5h0.58M441 109h0.58M441 112.5h0.58M441.5 87h0.58M441.5 92h0.58M441.5 102h0.58M442 86h0.58M442 103h0.58M442.5 98h0.58M442.5 101.5h0.58M442.5 102.5h0.58M442.5 104.5h0.58M442.5 106.5h0.58M442.5 107.5h0.58M442.5 111.5h0.58M443 79.5h0.58M443 90h0.58M443 96.5h0.58M443 97.5h0.58M443 109.5h0.58M443.5 88h0.58M443.5 88.5h0.58M443.5 89h0.58M443.5 89.5h0.58M443.5 91.5h0.58M443.5 95h0.58M443.5 96.5h0.58M443.5 98.5h0.58M443.5 104h0.58M444 86.5h0.58M444 87h0.58M444 91.5h0.58M444 98h0.58M444 108h0.58M444.5 78.5h0.58M444.5 83.5h0.58M444.5 87.5h0.58M444.5 88h0.58M444.5 89h0.58M444.5 90h0.58M444.5 90.5h0.58M444.5 91.5h0.58M444.5 93h0.58M445 85h0.58M445 86h0.58M445 87.5h0.58M445 89.5h0.58M445 103h0.58M445 108h0.58M445.5 81.5h0.58M445.5 83.5h0.58M445.5 87h0.58M445.5 95h0.58M445.5 97h0.58M445.5 101h0.58M446 81h0.58M446 85h0.58M446 91h0.58M446 92.5h0.58M446 101h0.58M446 104.5h0.58M446.5 85h0.58M446.5 87.5h0.58M446.5 93h0.58M446.5 93.5h0.58M446.5 99.5h0.58M446.5 110.5h0.58M447 85h0.58M447 88.5h0.58M447 90h0.58M447 90.5h0.58M447 91.5h0.58M447 94h0.58M447 96h0.58M447 101.5h0.58M447.5 81.5h0.58M447.5 82.5h0.58M447.5 83h0.58M447.5 84.5h0.58M447.5 85h0.58M447.5 87.5h0.58M447.5 89.5h0.58M447.5 96.5h0.58M447.5 100h0.58M447.5 100.5h0.58M447.5 105h0.58M448 89h0.58M448 92.5h0.58M448 96.5h0.58M448 97h0.58M448 102.5h0.58M448 105h0.58M448 110h0.58M448.5 77h0.58M448.5 80.5h0.58M448.5 84h0.58M448.5 87.5h0.58M448.5 89.5h0.58M448.5 90h0.58M448.5 94h0.58M448.5 95h0.58M448.5 96.5h0.58M448.5 99.5h0.58M448.5 104h0.58M449 84.5h0.58M449 86.5h0.58M449 88h0.58M449 89.5h0.58M449 92h0.58M449 97.5h0.58M449 100h0.58M449 104.5h0.58M449 111h0.58M449.5 82.5h0.58M449.5 89h0.58M449.5 91h0.58M449.5 92.5h0.58M449.5 95h0.58M449.5 98h0.58M449.5 99.5h0.58M449.5 100h0.58M450 83.5h0.58M450 85h0.58M450 89.5h0.58M450 91h0.58M450 100.5h0.58M450 106h0.58M450.5 77.5h0.58M450.5 85h0.58M450.5 88h0.58M450.5 89h0.58M450.5 91.5h0.58M450.5 93h0.58M450.5 96.5h0.58M450.5 97.5h0.58M450.5 99h0.58M450.5 105h0.58M451 84h0.58M451 84.5h0.58M451 85h0.58M451 86.5h0.58M451 89.5h0.58M451 90h0.58M451 93h0.58M451 93.5h0.58M451 97h0.58M451 98.5h0.58M451 101h0.58M451 101.5h0.58M451 103h0.58M451.5 78.5h0.58M451.5 83h0.58M451.5 84h0.58M451.5 85.5h0.58M451.5 90h0.58M451.5 92h0.58M451.5 93h0.58M451.5 95h0.58M451.5 96h0.58M451.5 97h0.58M451.5 107.5h0.58M451.5 111.5h0.58M452 72h0.58M452 74.5h0.58M452 83h0.58M452 87h0.58M452 90.5h0.58M452 94h0.58M452 94.5h0.58M452 97h0.58M452 101.5h0.58M452 106.5h0.58M452.5 78h0.58M452.5 91h0.58M452.5 92h0.58M452.5 92.5h0.58M452.5 93.5h0.58M452.5 94.5h0.58M452.5 95h0.58M452.5 95.5h0.58M452.5 97h0.58M452.5 99h0.58M452.5 100.5h0.58M452.5 101.5h0.58M452.5 103h0.58M452.5 105h0.58M452.5 105.5h0.58M453 84.5h0.58M453 92.5h0.58M453 96h0.58M453 106h0.58M453 107.5h0.58M453.5 68h0.58M453.5 83.5h0.58M453.5 85.5h0.58M453.5 88h0.58M453.5 88.5h0.58M453.5 90.5h0.58M453.5 92h0.58M453.5 96.5h0.58M453.5 108.5h0.58M454 74.5h0.58M454 76h0.58M454 81h0.58M454 81.5h0.58M454 82h0.58M454 83h0.58M454 84.5h0.58M454 86h0.58M454 87.5h0.58M454 90h0.58M454 93h0.58M454 94h0.58M454 96.5h0.58M454 97.5h0.58M454 98.5h0.58M454 100h0.58M454 100.5h0.58M454.5 79.5h0.58M454.5 80h0.58M454.5 81h0.58M454.5 82h0.58M454.5 83.5h0.58M454.5 86h0.58M454.5 88.5h0.58M454.5 89h0.58M454.5 89.5h0.58M454.5 90.5h0.58M454.5 92h0.58M454.5 92.5h0.58M454.5 93h0.58M454.5 95.5h0.58M454.5 98h0.58M454.5 99h0.58M454.5 108h0.58M455 76.5h0.58M455 79.5h0.58M455 81h0.58M455 85h0.58M455 86.5h0.58M455 87.5h0.58M455 89.5h0.58M455 90.5h0.58M455 91h0.58M455 94h0.58M455 95h0.58M455 97.5h0.58M455 98h0.58M455 99h0.58M455 99.5h0.58M455 102.5h0.58M455 107h0.58M455 108h0.58M455 110.5h0.58M455.5 71.5h0.58M455.5 78h0.58M455.5 82.5h0.58M455.5 84.5h0.58M455.5 88.5h0.58M455.5 91.5h0.58M455.5 92h0.58M455.5 93h0.58M455.5 94h0.58M455.5 95h0.58M455.5 101h0.58M455.5 102.5h0.58M456 68h0.58M456 73.5h0.58M456 81h0.58M456 83.5h0.58M456 84.5h0.58M456 85.5h0.58M456 88h0.58M456 89.5h0.58M456 90h0.58M456 91.5h0.58M456 92h0.58M456 94h0.58M456 96h0.58M456 96.5h0.58M456 100h0.58M456.5 74h0.58M456.5 77.5h0.58M456.5 78.5h0.58M456.5 80.5h0.58M456.5 83.5h0.58M456.5 84.5h0.58M456.5 85.5h0.58M456.5 87h0.58M456.5 89h0.58M456.5 92.5h0.58M456.5 95h0.58M456.5 95.5h0.58M456.5 96.5h0.58M456.5 102h0.58M457 81h0.58M457 83h0.58M457 83.5h0.58M457 84h0.58M457 84.5h0.58M457 86.5h0.58M457 87h0.58M457 91h0.58M457 93.5h0.58M457 95h0.58M457 97h0.58M457 97.5h0.58M457 104h0.58M457 110.5h0.58M457.5 69.5h0.58M457.5 76.5h0.58M457.5 78h0.58M457.5 79h0.58M457.5 83h0.58M457.5 84h0.58M457.5 84.5h0.58M457.5 85.5h0.58M457.5 86.5h0.58M457.5 87h0.58M457.5 89h0.58M457.5 89.5h0.58M457.5 91.5h0.58M457.5 92h0.58M457.5 92.5h0.58M457.5 93h0.58M457.5 93.5h0.58M457.5 95h0.58M457.5 95.5h0.58M457.5 96h0.58M457.5 98h0.58M457.5 99.5h0.58M457.5 112.5h0.58M458 66h0.58M458 71h0.58M458 71.5h0.58M458 73h0.58M458 73.5h0.58M458 80h0.58M458 80.5h0.58M458 84h0.58M458 85h0.58M458 87.5h0.58M458 88h0.58M458 91.5h0.58M458 92h0.58M458 99h0.58M458 100.5h0.58M458.5 70.5h0.58M458.5 76h0.58M458.5 77h0.58M458.5 78h0.58M458.5 79.5h0.58M458.5 80.5h0.58M458.5 81h0.58M458.5 82.5h0.58M458.5 83h0.58M458.5 86h0.58M458.5 88h0.58M458.5 89h0.58M458.5 90h0.58M458.5 92h0.58M458.5 93.5h0.58M458.5 94.5h0.58M458.5 99h0.58M458.5 99.5h0.58M458.5 110h0.58M459 67h0.58M459 76h0.58M459 76.5h0.58M459 78h0.58M459 81.5h0.58M459 82.5h0.58M459 83h0.58M459 83.5h0.58M459 84.5h0.58M459 85h0.58M459 85.5h0.58M459 86h0.58M459 86.5h0.58M459 87.5h0.58M459 88h0.58M459 90h0.58M459 92.5h0.58M459 95h0.58M459 95.5h0.58M459 104.5h0.58M459 111.5h0.58M459 112.5h0.58M459.5 69.5h0.58M459.5 70.5h0.58M459.5 71.5h0.58M459.5 72h0.58M459.5 74h0.58M459.5 79h0.58M459.5 81h0.58M459.5 81.5h0.58M459.5 82.5h0.58M459.5 83.5h0.58M459.5 85.5h0.58M459.5 87h0.58M459.5 88h0.58M459.5 89h0.58M459.5 90.5h0.58M459.5 91.5h0.58M459.5 93h0.58M459.5 95h0.58M459.5 95.5h0.58M459.5 97h0.58M459.5 98h0.58M459.5 99h0.58M459.5 102.5h0.58M459.5 110h0.58M459.5 112.5h0.58M460 68h0.58M460 73.5h0.58M460 74h0.58M460 76h0.58M460 78h0.58M460 78.5h0.58M460 79.5h0.58M460 81h0.58M460 81.5h0.58M460 82.5h0.58M460 83h0.58M460 83.5h0.58M460 84.5h0.58M460 85h0.58M460 86.5h0.58M460 87h0.58M460 88h0.58M460 88.5h0.58M460 90h0.58M460 91h0.58M460 94.5h0.58M460 97.5h0.58M460 98h0.58M460 105h0.58M460.5 57.5h0.58M460.5 69h0.58M460.5 73h0.58M460.5 73.5h0.58M460.5 74.5h0.58M460.5 80h0.58M460.5 82.5h0.58M460.5 83.5h0.58M460.5 85h0.58M460.5 86h0.58M460.5 86.5h0.58M460.5 88h0.58M460.5 88.5h0.58M460.5 90h0.58M460.5 90.5h0.58M460.5 91h0.58M460.5 92.5h0.58M460.5 93h0.58M460.5 97h0.58M460.5 110h0.58M461 73h0.58M461 74.5h0.58M461 75.5h0.58M461 76h0.58M461 78h0.58M461 83.5h0.58M461 85h0.58M461 86h0.58M461 87h0.58M461 87.5h0.58M461 88h0.58M461 90h0.58M461 98.5h0.58M461.5 62h0.58M461.5 75.5h0.58M461.5 76h0.58M461.5 76.5h0.58M461.5 77h0.58M461.5 78.5h0.58M461.5 81.5h0.58M461.5 82.5h0.58M461.5 83h0.58M461.5 83.5h0.58M461.5 84.5h0.58M461.5 85h0.58M461.5 85.5h0.58M461.5 86.5h0.58M461.5 87.5h0.58M461.5 89h0.58M461.5 89.5h0.58M461.5 90h0.58M461.5 91h0.58M461.5 93.5h0.58M461.5 95.5h0.58M461.5 96.5h0.58M461.5 97.5h0.58M461.5 98h0.58M461.5 99h0.58M461.5 101h0.58M462 53.5h0.58M462 70.5h0.58M462 75.5h0.58M462 76.5h0.58M462 77.5h0.58M462 80h0.58M462 80.5h0.58M462 81.5h0.58M462 82.5h0.58M462 83.5h0.58M462 84h0.58M462 85.5h0.58M462 86h0.58M462 86.5h0.58M462 88.5h0.58M462 90h0.58M462 91h0.58M462 91.5h0.58M462 95.5h0.58M462 98.5h0.58M462 107.5h0.58M462.5 67.5h0.58M462.5 75h0.58M462.5 76h0.58M462.5 76.5h0.58M462.5 78h0.58M462.5 78.5h0.58M462.5 79.5h0.58M462.5 81h0.58M462.5 82h0.58M462.5 83.5h0.58M462.5 85h0.58M462.5 86h0.58M462.5 86.5h0.58M462.5 87.5h0.58M462.5 88h0.58M462.5 88.5h0.58M462.5 90h0.58M462.5 91h0.58M462.5 92h0.58M462.5 92.5h0.58M462.5 93.5h0.58M462.5 94h0.58M462.5 94.5h0.58M462.5 95h0.58M463 69.5h0.58M463 74.5h0.58M463 76h0.58M463 76.5h0.58M463 80.5h0.58M463 82h0.58M463 82.5h0.58M463 84.5h0.58M463 85h0.58M463 85.5h0.58M463 88.5h0.58M463 90.5h0.58M463 91h0.58M463 93h0.58M463 93.5h0.58M463 94.5h0.58M463 95h0.58M463 97.5h0.58M463 99.5h0.58M463.5 71h0.58M463.5 73h0.58M463.5 73.5h0.58M463.5 74h0.58M463.5 75h0.58M463.5 77h0.58M463.5 77.5h0.58M463.5 78h0.58M463.5 80.5h0.58M463.5 81h0.58M463.5 81.5h0.58M463.5 83h0.58M463.5 84.5h0.58M463.5 85h0.58M463.5 85.5h0.58M463.5 86.5h0.58M463.5 87.5h0.58M463.5 88h0.58M463.5 89h0.58M463.5 90h0.58M463.5 91.5h0.58M463.5 93h0.58M463.5 99h0.58M463.5 102.5h0.58M464 72h0.58M464 72.5h0.58M464 73.5h0.58M464 75h0.58M464 77.5h0.58M464 78h0.58M464 79.5h0.58M464 80h0.58M464 80.5h0.58M464 81.5h0.58M464 82h0.58M464 82.5h0.58M464 83.5h0.58M464 84h0.58M464 86h0.58M464 87.5h0.58M464 88h0.58M464 90.5h0.58M464 94.5h0.58M464 95.5h0.58M464 96.5h0.58M464 102h0.58M464.5 68h0.58M464.5 70h0.58M464.5 72.5h0.58M464.5 73h0.58M464.5 74.5h0.58M464.5 77h0.58M464.5 77.5h0.58M464.5 79h0.58M464.5 80.5h0.58M464.5 81h0.58M464.5 82.5h0.58M464.5 86h0.58M464.5 87.5h0.58M464.5 88h0.58M464.5 88.5h0.58M464.5 89.5h0.58M464.5 91h0.58M464.5 91.5h0.58M464.5 92h0.58M464.5 93h0.58M464.5 98.5h0.58M464.5 99h0.58M465 73h0.58M465 73.5h0.58M465 77h0.58M465 78h0.58M465 79h0.58M465 80.5h0.58M465 81h0.58M465 81.5h0.58M465 82h0.58M465 85.5h0.58M465 86.5h0.58M465 87.5h0.58M465 88h0.58M465 91h0.58M465 91.5h0.58M465 92h0.58M465 92.5h0.58M465 94.5h0.58M465 98h0.58M465 99h0.58M465 106.5h0.58M465.5 66.5h0.58M465.5 69.5h0.58M465.5 71.5h0.58M465.5 74.5h0.58M465.5 75.5h0.58M465.5 76h0.58M465.5 76.5h0.58M465.5 77h0.58M465.5 77.5h0.58M465.5 78h0.58M465.5 78.5h0.58M465.5 79h0.58M465.5 80h0.58M465.5 80.5h0.58M465.5 81h0.58M465.5 82h0.58M465.5 84h0.58M465.5 84.5h0.58M465.5 85.5h0.58M465.5 87h0.58M465.5 88.5h0.58M465.5 90.5h0.58M465.5 91h0.58M465.5 93h0.58M465.5 93.5h0.58M465.5 99.5h0.58M466 66.5h0.58M466 69.5h0.58M466 72h0.58M466 72.5h0.58M466 75.5h0.58M466 76.5h0.58M466 77h0.58M466 77.5h0.58M466 78.5h0.58M466 79.5h0.58M466 80h0.58M466 81h0.58M466 82h0.58M466 82.5h0.58M466 83.5h0.58M466 84.5h0.58M466 85h0.58M466 85.5h0.58M466 86h0.58M466 87h0.58M466 89h0.58M466 89.5h0.58M466 92h0.58M466 93h0.58M466 94h0.58M466 95.5h0.58M466 97.5h0.58M466 99h0.58M466.5 59.5h0.58M466.5 67.5h0.58M466.5 68.5h0.58M466.5 74h0.58M466.5 76h0.58M466.5 77h0.58M466.5 78.5h0.58M466.5 79h0.58M466.5 79.5h0.58M466.5 80h0.58M466.5 80.5h0.58M466.5 81h0.58M466.5 81.5h0.58M466.5 82h0.58M466.5 83h0.58M466.5 83.5h0.58M466.5 84h0.58M466.5 86.5h0.58M466.5 87h0.58M466.5 89h0.58M466.5 91h0.58M466.5 92h0.58M466.5 93h0.58M466.5 93.5h0.58M466.5 96h0.58M466.5 98.5h0.58M466.5 99h0.58M467 60.5h0.58M467 61h0.58M467 67.5h0.58M467 71.5h0.58M467 72h0.58M467 72.5h0.58M467 76h0.58M467 77h0.58M467 77.5h0.58M467 78.5h0.58M467 79h0.58M467 79.5h0.58M467 80h0.58M467 81h0.58M467 81.5h0.58M467 82h0.58M467 83.5h0.58M467 88.5h0.58M467 89h0.58M467 90h0.58M467 90.5h0.58M467 92.5h0.58M467 93h0.58M467 100.5h0.58M467 104h0.58M467.5 69.5h0.58M467.5 71h0.58M467.5 73.5h0.58M467.5 77h0.58M467.5 77.5h0.58M467.5 78h0.58M467.5 78.5h0.58M467.5 79h0.58M467.5 80h0.58M467.5 81.5h0.58M467.5 82h0.58M467.5 82.5h0.58M467.5 83.5h0.58M467.5 85h0.58M467.5 86h0.58M467.5 90.5h0.58M467.5 91h0.58M467.5 91.5h0.58M467.5 92.5h0.58M467.5 95h0.58M467.5 103.5h0.58M468 63h0.58M468 66h0.58M468 68.5h0.58M468 69.5h0.58M468 70.5h0.58M468 71h0.58M468 72h0.58M468 74h0.58M468 74.5h0.58M468 75h0.58M468 77.5h0.58M468 78h0.58M468 78.5h0.58M468 80h0.58M468 81.5h0.58M468 82.5h0.58M468 85.5h0.58M468 86h0.58M468 87h0.58M468 87.5h0.58M468 88h0.58M468 89h0.58M468 91h0.58M468 96h0.58M468 96.5h0.58M468 98h0.58M468 99.5h0.58M468 101.5h0.58M468 108.5h0.58M468.5 64h0.58M468.5 66h0.58M468.5 67.5h0.58M468.5 68h0.58M468.5 68.5h0.58M468.5 70h0.58M468.5 72h0.58M468.5 73.5h0.58M468.5 74.5h0.58M468.5 76h0.58M468.5 77.5h0.58M468.5 78h0.58M468.5 79.5h0.58M468.5 81h0.58M468.5 81.5h0.58M468.5 82.5h0.58M468.5 83.5h0.58M468.5 84h0.58M468.5 84.5h0.58M468.5 85h0.58M468.5 85.5h0.58M468.5 88h0.58M468.5 89.5h0.58M468.5 92h0.58M469 70.5h0.58M469 72.5h0.58M469 73.5h0.58M469 74h0.58M469 74.5h0.58M469 75h0.58M469 75.5h0.58M469 76h0.58M469 77.5h0.58M469 78.5h0.58M469 79h0.58M469 80.5h0.58M469 81.5h0.58M469 82.5h0.58M469 83.5h0.58M469 85h0.58M469 86h0.58M469 86.5h0.58M469 87h0.58M469 87.5h0.58M469 92h0.58M469.5 64.5h0.58M469.5 65.5h0.58M469.5 69.5h0.58M469.5 71.5h0.58M469.5 72.5h0.58M469.5 73h0.58M469.5 74h0.58M469.5 76.5h0.58M469.5 77h0.58M469.5 77.5h0.58M469.5 79.5h0.58M469.5 80h0.58M469.5 80.5h0.58M469.5 81h0.58M469.5 81.5h0.58M469.5 82h0.58M469.5 83.5h0.58M469.5 84h0.58M469.5 85.5h0.58M469.5 86h0.58M469.5 87h0.58M469.5 88h0.58M469.5 88.5h0.58M469.5 89h0.58M469.5 89.5h0.58M469.5 91.5h0.58M469.5 93.5h0.58M469.5 100h0.58M469.5 103h0.58M470 68h0.58M470 72h0.58M470 73.5h0.58M470 74.5h0.58M470 76h0.58M470 78h0.58M470 79.5h0.58M470 80h0.58M470 81h0.58M470 81.5h0.58M470 82.5h0.58M470 83h0.58M470 84.5h0.58M470 85.5h0.58M470 86.5h0.58M470 89h0.58M470 91h0.58M470 94h0.58M470.5 63h0.58M470.5 68.5h0.58M470.5 70h0.58M470.5 72h0.58M470.5 73.5h0.58M470.5 74h0.58M470.5 76.5h0.58M470.5 77h0.58M470.5 78h0.58M470.5 78.5h0.58M470.5 79.5h0.58M470.5 80h0.58M470.5 81h0.58M470.5 81.5h0.58M470.5 82h0.58M470.5 83h0.58M470.5 83.5h0.58M470.5 84.5h0.58M470.5 85.5h0.58M470.5 86h0.58M470.5 86.5h0.58M470.5 90h0.58M470.5 92.5h0.58M471 64h0.58M471 69h0.58M471 69.5h0.58M471 75.5h0.58M471 76h0.58M471 76.5h0.58M471 78.5h0.58M471 79.5h0.58M471 80h0.58M471 80.5h0.58M471 81.5h0.58M471 82.5h0.58M471 83h0.58M471 84h0.58M471 86h0.58M471 88.5h0.58M471 89h0.58M471 92h0.58M471 93h0.58M471 95h0.58M471 97h0.58M471.5 66.5h0.58M471.5 68.5h0.58M471.5 70h0.58M471.5 70.5h0.58M471.5 74.5h0.58M471.5 78h0.58M471.5 79h0.58M471.5 85h0.58M471.5 86.5h0.58M471.5 87.5h0.58M471.5 88h0.58M471.5 88.5h0.58M471.5 89.5h0.58M471.5 90h0.58M471.5 92h0.58M471.5 95h0.58M471.5 98h0.58M472 62h0.58M472 64.5h0.58M472 68h0.58M472 69.5h0.58M472 70.5h0.58M472 73.5h0.58M472 74h0.58M472 74.5h0.58M472 75.5h0.58M472 76h0.58M472 77h0.58M472 78h0.58M472 78.5h0.58M472 80.5h0.58M472 81h0.58M472 82h0.58M472 83h0.58M472 84h0.58M472 86h0.58M472 89h0.58M472 90h0.58M472.5 64.5h0.58M472.5 70h0.58M472.5 71h0.58M472.5 76.5h0.58M472.5 77.5h0.58M472.5 80h0.58M472.5 81.5h0.58M472.5 82.5h0.58M472.5 83h0.58M472.5 83.5h0.58M472.5 84.5h0.58M472.5 85h0.58M472.5 96h0.58M472.5 99h0.58M473 62.5h0.58M473 65.5h0.58M473 66.5h0.58M473 67h0.58M473 68h0.58M473 72.5h0.58M473 73h0.58M473 75h0.58M473 75.5h0.58M473 77h0.58M473 79h0.58M473 80h0.58M473 82h0.58M473 83h0.58M473 84h0.58M473 84.5h0.58M473 89h0.58M473 91h0.58M473 98h0.58M473.5 63.5h0.58M473.5 72.5h0.58M473.5 76.5h0.58M473.5 77.5h0.58M473.5 80h0.58M473.5 80.5h0.58M473.5 84.5h0.58M473.5 85.5h0.58M473.5 86h0.58M473.5 87.5h0.58M473.5 89h0.58M473.5 91.5h0.58M473.5 93h0.58M474 63.5h0.58M474 67h0.58M474 74h0.58M474 74.5h0.58M474 78.5h0.58M474 79h0.58M474 83h0.58M474 83.5h0.58M474 85h0.58M474 85.5h0.58M474 87.5h0.58M474 92h0.58M474 101h0.58M474.5 60.5h0.58M474.5 69h0.58M474.5 73h0.58M474.5 76h0.58M474.5 76.5h0.58M474.5 79.5h0.58M474.5 80h0.58M474.5 80.5h0.58M474.5 81h0.58M474.5 81.5h0.58M474.5 85.5h0.58M474.5 89.5h0.58M475 65.5h0.58M475 68h0.58M475 70.5h0.58M475 71.5h0.58M475 72.5h0.58M475 76h0.58M475 79h0.58M475 81.5h0.58M475 82h0.58M475 84.5h0.58M475 85h0.58M475 85.5h0.58M475 90h0.58M475.5 72.5h0.58M475.5 73.5h0.58M475.5 74.5h0.58M475.5 75h0.58M475.5 76h0.58M475.5 76.5h0.58M475.5 78h0.58M475.5 82h0.58M475.5 82.5h0.58M475.5 83.5h0.58M475.5 90h0.58M476 63.5h0.58M476 67h0.58M476 69.5h0.58M476 70h0.58M476 75.5h0.58M476 79h0.58M476 81.5h0.58M476 89.5h0.58M476 96.5h0.58M476.5 65h0.58M476.5 71h0.58M476.5 74h0.58M476.5 76h0.58M476.5 78h0.58M476.5 87h0.58M477 69.5h0.58M477 72h0.58M477 76h0.58M477 76.5h0.58M477 85h0.58M477 85.5h0.58M477 91.5h0.58M477.5 68h0.58M477.5 69h0.58M477.5 74h0.58M477.5 78h0.58M477.5 81h0.58M477.5 97h0.58M478 55.5h0.58M478 63.5h0.58M478 67h0.58M478 71.5h0.58M478 72.5h0.58M478 73.5h0.58M478 74.5h0.58M478 77.5h0.58M478 78.5h0.58M478 80h0.58M478 80.5h0.58M478 82h0.58M478 86.5h0.58M478.5 71.5h0.58M478.5 74.5h0.58M478.5 82h0.58M479 61h0.58M479 63.5h0.58M479 70.5h0.58M479 76.5h0.58M479.5 70.5h0.58M479.5 72.5h0.58M479.5 77h0.58M479.5 80h0.58M480 67.5h0.58M480 71h0.58M480 79.5h0.58M480 91.5h0.58M480 92.5h0.58M480.5 70.5h0.58M480.5 71.5h0.58M480.5 87.5h0.58M481 70h0.58M482 79h0.58M482.5 71.5h0.58M483 69.5h0.58M483.5 79.5h0.58M483.5 83.5h0.58M484 69h0.58M484 74h0.58M487.5 73h0.58" stroke="#222" stroke-width="0.58" fill="none" opacity="1"/>
<path d="M456 84.5h0.65M457.5 68.5h0.65M457.5 81h0.65M457.5 81.5h0.65M459 82.5h0.65M459 88.5h0.65M459.5 78h0.65M459.5 79.5h0.65M459.5 85.5h0.65M459.5 89.5h0.65M460 84h0.65M460 85h0.65M460 86h0.65M460 92h0.65M460.5 78.5h0.65M460.5 86h0.65M461 73.5h0.65M461 77h0.65M461 78.5h0.65M461 84.5h0.65M461 85.5h0.65M461 88h0.65M461 95h0.65M461.5 74h0.65M461.5 76h0.65M461.5 76.5h0.65M461.5 77h0.65M461.5 77.5h0.65M461.5 80h0.65M461.5 81.5h0.65M461.5 82.5h0.65M461.5 85h0.65M462 73.5h0.65M462 76h0.65M462 77.5h0.65M462 78.5h0.65M462 86h0.65M462.5 63.5h0.65M462.5 68h0.65M462.5 72h0.65M462.5 73h0.65M462.5 75h0.65M462.5 76.5h0.65M462.5 77h0.65M462.5 79h0.65M462.5 82h0.65M462.5 84h0.65M462.5 84.5h0.65M462.5 86h0.65M462.5 87.5h0.65M462.5 90h0.65M462.5 90.5h0.65M463 64h0.65M463 65.5h0.65M463 73h0.65M463 74h0.65M463 78.5h0.65M463 80h0.65M463 80.5h0.65M463 81h0.65M463 82.5h0.65M463 85h0.65M463 85.5h0.65M463 87.5h0.65M463 93.5h0.65M463 97.5h0.65M463.5 61h0.65M463.5 68.5h0.65M463.5 72h0.65M463.5 74.5h0.65M463.5 75.5h0.65M463.5 76.5h0.65M463.5 77h0.65M463.5 79h0.65M463.5 79.5h0.65M463.5 80h0.65M463.5 84h0.65M463.5 87.5h0.65M463.5 88h0.65M463.5 88.5h0.65M463.5 89h0.65M463.5 92h0.65M464 69h0.65M464 72.5h0.65M464 75.5h0.65M464 76.5h0.65M464 78h0.65M464 79.5h0.65M464 80h0.65M464 80.5h0.65M464 81h0.65M464 82.5h0.65M464 83h0.65M464 84h0.65M464 84.5h0.65M464 87.5h0.65M464 92.5h0.65M464 97h0.65M464.5 60.5h0.65M464.5 71.5h0.65M464.5 72.5h0.65M464.5 73.5h0.65M464.5 75h0.65M464.5 75.5h0.65M464.5 76.5h0.65M464.5 77h0.65M464.5 77.5h0.65M464.5 78h0.65M464.5 79.5h0.65M464.5 80.5h0.65M464.5 81h0.65M464.5 81.5h0.65M464.5 82h0.65M464.5 82.5h0.65M464.5 83.5h0.65M464.5 84.5h0.65M464.5 85h0.65M464.5 85.5h0.65M464.5 86.5h0.65M464.5 89h0.65M464.5 90h0.65M464.5 90.5h0.65M464.5 92.5h0.65M465 67.5h0.65M465 71h0.65M465 71.5h0.65M465 73.5h0.65M465 74.5h0.65M465 75.5h0.65M465 77.5h0.65M465 78h0.65M465 79.5h0.65M465 80h0.65M465 81.5h0.65M465 82h0.65M465 82.5h0.65M465 83.5h0.65M465 84h0.65M465 84.5h0.65M465 85h0.65M465 86h0.65M465 86.5h0.65M465 96h0.65M465.5 72.5h0.65M465.5 73h0.65M465.5 74h0.65M465.5 75h0.65M465.5 75.5h0.65M465.5 76h0.65M465.5 76.5h0.65M465.5 77h0.65M465.5 77.5h0.65M465.5 78h0.65M465.5 79h0.65M465.5 79.5h0.65M465.5 80.5h0.65M465.5 81h0.65M465.5 81.5h0.65M465.5 82h0.65M465.5 82.5h0.65M465.5 83h0.65M465.5 84h0.65M465.5 84.5h0.65M465.5 85h0.65M465.5 85.5h0.65M465.5 86h0.65M465.5 86.5h0.65M465.5 88.5h0.65M465.5 90h0.65M465.5 91h0.65M465.5 95.5h0.65M466 66h0.65M466 67.5h0.65M466 69h0.65M466 71h0.65M466 71.5h0.65M466 72.5h0.65M466 73h0.65M466 74.5h0.65M466 75.5h0.65M466 76h0.65M466 77h0.65M466 77.5h0.65M466 78h0.65M466 79h0.65M466 79.5h0.65M466 80h0.65M466 80.5h0.65M466 81h0.65M466 81.5h0.65M466 82.5h0.65M466 83h0.65M466 83.5h0.65M466 84.5h0.65M466 85h0.65M466 85.5h0.65M466 86h0.65M466 86.5h0.65M466 87.5h0.65M466 90h0.65M466 94h0.65M466.5 65h0.65M466.5 66.5h0.65M466.5 67.5h0.65M466.5 68.5h0.65M466.5 69h0.65M466.5 69.5h0.65M466.5 70.5h0.65M466.5 71.5h0.65M466.5 72.5h0.65M466.5 73h0.65M466.5 73.5h0.65M466.5 76h0.65M466.5 76.5h0.65M466.5 77h0.65M466.5 77.5h0.65M466.5 79h0.65M466.5 79.5h0.65M466.5 80h0.65M466.5 81h0.65M466.5 81.5h0.65M466.5 82h0.65M466.5 82.5h0.65M466.5 83h0.65M466.5 83.5h0.65M466.5 84h0.65M466.5 84.5h0.65M466.5 85.5h0.65M466.5 87h0.65M466.5 87.5h0.65M466.5 91h0.65M466.5 92h0.65M466.5 93h0.65M466.5 94h0.65M466.5 94.5h0.65M466.5 95h0.65M467 66h0.65M467 67.5h0.65M467 69h0.65M467 71h0.65M467 71.5h0.65M467 72h0.65M467 72.5h0.65M467 73h0.65M467 73.5h0.65M467 74.5h0.65M467 75h0.65M467 75.5h0.65M467 76h0.65M467 77.5h0.65M467 78h0.65M467 78.5h0.65M467 79h0.65M467 79.5h0.65M467 81.5h0.65M467 82h0.65M467 83h0.65M467 83.5h0.65M467 84h0.65M467 84.5h0.65M467 85h0.65M467 85.5h0.65M467 86h0.65M467 86.5h0.65M467 87.5h0.65M467 88.5h0.65M467 89.5h0.65M467 90h0.65M467 90.5h0.65M467 91h0.65M467.5 71h0.65M467.5 71.5h0.65M467.5 72.5h0.65M467.5 73h0.65M467.5 73.5h0.65M467.5 74h0.65M467.5 75h0.65M467.5 75.5h0.65M467.5 76h0.65M467.5 77h0.65M467.5 77.5h0.65M467.5 78h0.65M467.5 78.5h0.65M467.5 79h0.65M467.5 79.5h0.65M467.5 80h0.65M467.5 80.5h0.65M467.5 81h0.65M467.5 81.5h0.65M467.5 82h0.65M467.5 82.5h0.65M467.5 83h0.65M467.5 83.5h0.65M467.5 84h0.65M467.5 84.5h0.65M467.5 85h0.65M467.5 86.5h0.65M467.5 89h0.65M467.5 89.5h0.65M467.5 90h0.65M467.5 90.5h0.65M467.5 93h0.65M467.5 94.5h0.65M467.5 97.5h0.65M467.5 100h0.65M468 66h0.65M468 66.5h0.65M468 68h0.65M468 69.5h0.65M468 71.5h0.65M468 72h0.65M468 72.5h0.65M468 73h0.65M468 74h0.65M468 75.5h0.65M468 76h0.65M468 76.5h0.65M468 77h0.65M468 77.5h0.65M468 78h0.65M468 78.5h0.65M468 80h0.65M468 80.5h0.65M468 81h0.65M468 81.5h0.65M468 82.5h0.65M468 83h0.65M468 83.5h0.65M468 84h0.65M468 84.5h0.65M468 85h0.65M468 86h0.65M468 86.5h0.65M468 87h0.65M468 87.5h0.65M468 88h0.65M468 88.5h0.65M468 89h0.65M468 90h0.65M468 93.5h0.65M468.5 62.5h0.65M468.5 67.5h0.65M468.5 70.5h0.65M468.5 71.5h0.65M468.5 72h0.65M468.5 72.5h0.65M468.5 74h0.65M468.5 74.5h0.65M468.5 75h0.65M468.5 75.5h0.65M468.5 76h0.65M468.5 76.5h0.65M468.5 77h0.65M468.5 77.5h0.65M468.5 78h0.65M468.5 79h0.65M468.5 79.5h0.65M468.5 80h0.65M468.5 80.5h0.65M468.5 81h0.65M468.5 82h0.65M468.5 82.5h0.65M468.5 83h0.65M468.5 83.5h0.65M468.5 84h0.65M468.5 84.5h0.65M468.5 85h0.65M468.5 85.5h0.65M468.5 86h0.65M468.5 86.5h0.65M468.5 87h0.65M468.5 87.5h0.65M468.5 88h0.65M468.5 88.5h0.65M468.5 89h0.65M468.5 90h0.65M468.5 90.5h0.65M469 58h0.65M469 66.5h0.65M469 67h0.65M469 68.5h0.65M469 69h0.65M469 69.5h0.65M469 71.5h0.65M469 72h0.65M469 72.5h0.65M469 73h0.65M469 73.5h0.65M469 74h0.65M469 74.5h0.65M469 76h0.65M469 76.5h0.65M469 77h0.65M469 77.5h0.65M469 78h0.65M469 78.5h0.65M469 79h0.65M469 79.5h0.65M469 80h0.65M469 80.5h0.65M469 81h0.65M469 81.5h0.65M469 82h0.65M469 83h0.65M469 83.5h0.65M469 84h0.65M469 84.5h0.65M469 85.5h0.65M469 86h0.65M469 87.5h0.65M469 89h0.65M469 91.5h0.65M469 92h0.65M469 93h0.65M469 94h0.65M469 95.5h0.65M469.5 64h0.65M469.5 67h0.65M469.5 68.5h0.65M469.5 69.5h0.65M469.5 70h0.65M469.5 71h0.65M469.5 71.5h0.65M469.5 72h0.65M469.5 72.5h0.65M469.5 73h0.65M469.5 74h0.65M469.5 74.5h0.65M469.5 75h0.65M469.5 75.5h0.65M469.5 76h0.65M469.5 77h0.65M469.5 77.5h0.65M469.5 78h0.65M469.5 78.5h0.65M469.5 79h0.65M469.5 79.5h0.65M469.5 80.5h0.65M469.5 81h0.65M469.5 81.5h0.65M469.5 82.5h0.65M469.5 83.5h0.65M469.5 84h0.65M469.5 84.5h0.65M469.5 85h0.65M469.5 85.5h0.65M469.5 86h0.65M469.5 86.5h0.65M469.5 87h0.65M469.5 88.5h0.65M469.5 89.5h0.65M469.5 90h0.65M469.5 91h0.65M469.5 93h0.65M470 64.5h0.65M470 65.5h0.65M470 66h0.65M470 66.5h0.65M470 67h0.65M470 68h0.65M470 69h0.65M470 70h0.65M470 71h0.65M470 71.5h0.65M470 73h0.65M470 74h0.65M470 74.5h0.65M470 75h0.65M470 76h0.65M470 76.5h0.65M470 77h0.65M470 77.5h0.65M470 78h0.65M470 78.5h0.65M470 79h0.65M470 79.5h0.65M470 80h0.65M470 80.5h0.65M470 81h0.65M470 81.5h0.65M470 82h0.65M470 82.5h0.65M470 83h0.65M470 83.5h0.65M470 84h0.65M470 84.5h0.65M470 85h0.65M470 85.5h0.65M470 86h0.65M470 86.5h0.65M470 88h0.65M470 89h0.65M470 89.5h0.65M470 90.5h0.65M470.5 62.5h0.65M470.5 63h0.65M470.5 64.5h0.65M470.5 66.5h0.65M470.5 68.5h0.65M470.5 69h0.65M470.5 70h0.65M470.5 70.5h0.65M470.5 71.5h0.65M470.5 72h0.65M470.5 72.5h0.65M470.5 74h0.65M470.5 74.5h0.65M470.5 75h0.65M470.5 75.5h0.65M470.5 76h0.65M470.5 76.5h0.65M470.5 77h0.65M470.5 77.5h0.65M470.5 78h0.65M470.5 79.5h0.65M470.5 80.5h0.65M470.5 81h0.65M470.5 81.5h0.65M470.5 82h0.65M470.5 83h0.65M470.5 83.5h0.65M470.5 84h0.65M470.5 85h0.65M470.5 85.5h0.65M470.5 86h0.65M470.5 86.5h0.65M470.5 87h0.65M470.5 87.5h0.65M470.5 88h0.65M470.5 88.5h0.65M470.5 89h0.65M470.5 90.5h0.65M471 66.5h0.65M471 71h0.65M471 72h0.65M471 72.5h0.65M471 73.5h0.65M471 74h0.65M471 75h0.65M471 75.5h0.65M471 76h0.65M471 76.5h0.65M471 77h0.65M471 78h0.65M471 78.5h0.65M471 80h0.65M471 80.5h0.65M471 81h0.65M471 81.5h0.65M471 82h0.65M471 82.5h0.65M471 83h0.65M471 83.5h0.65M471 84.5h0.65M471 85h0.65M471 85.5h0.65M471 86h0.65M471 87h0.65M471 87.5h0.65M471 88.5h0.65M471 89h0.65M471 91.5h0.65M471 92.5h0.65M471.5 57h0.65M471.5 65h0.65M471.5 70h0.65M471.5 72h0.65M471.5 73h0.65M471.5 73.5h0.65M471.5 74h0.65M471.5 74.5h0.65M471.5 75h0.65M471.5 75.5h0.65M471.5 76h0.65M471.5 77h0.65M471.5 77.5h0.65M471.5 78h0.65M471.5 78.5h0.65M471.5 79h0.65M471.5 80h0.65M471.5 80.5h0.65M471.5 81h0.65M471.5 81.5h0.65M471.5 82h0.65M471.5 82.5h0.65M471.5 83h0.65M471.5 83.5h0.65M471.5 84h0.65M471.5 84.5h0.65M471.5 85h0.65M471.5 86h0.65M471.5 86.5h0.65M471.5 87.5h0.65M471.5 91.5h0.65M472 63h0.65M472 65.5h0.65M472 68.5h0.65M472 69h0.65M472 69.5h0.65M472 70h0.65M472 70.5h0.65M472 71h0.65M472 71.5h0.65M472 72h0.65M472 73h0.65M472 74h0.65M472 74.5h0.65M472 75h0.65M472 75.5h0.65M472 76h0.65M472 76.5h0.65M472 77h0.65M472 77.5h0.65M472 78h0.65M472 78.5h0.65M472 79h0.65M472 79.5h0.65M472 80h0.65M472 80.5h0.65M472 81h0.65M472 81.5h0.65M472 82h0.65M472 82.5h0.65M472 83h0.65M472 83.5h0.65M472 85h0.65M472 85.5h0.65M472 87h0.65M472 88h0.65M472 88.5h0.65M472 90h0.65M472 90.5h0.65M472 91h0.65M472.5 56.5h0.65M472.5 65.5h0.65M472.5 66h0.65M472.5 66.5h0.65M472.5 67h0.65M472.5 68h0.65M472.5 69h0.65M472.5 70.5h0.65M472.5 71h0.65M472.5 71.5h0.65M472.5 72.5h0.65M472.5 73h0.65M472.5 74.5h0.65M472.5 75h0.65M472.5 75.5h0.65M472.5 76h0.65M472.5 76.5h0.65M472.5 77h0.65M472.5 77.5h0.65M472.5 78h0.65M472.5 78.5h0.65M472.5 79h0.65M472.5 79.5h0.65M472.5 80h0.65M472.5 80.5h0.65M472.5 81h0.65M472.5 82h0.65M472.5 82.5h0.65M472.5 83h0.65M472.5 84h0.65M472.5 85h0.65M472.5 85.5h0.65M472.5 86h0.65M472.5 87h0.65M472.5 88.5h0.65M472.5 89h0.65M472.5 91h0.65M472.5 93h0.65M472.5 93.5h0.65M472.5 95.5h0.65M473 65.5h0.65M473 66h0.65M473 67h0.65M473 70.5h0.65M473 71h0.65M473 71.5h0.65M473 73h0.65M473 73.5h0.65M473 74h0.65M473 74.5h0.65M473 75h0.65M473 75.5h0.65M473 76.5h0.65M473 77h0.65M473 77.5h0.65M473 78h0.65M473 79h0.65M473 79.5h0.65M473 80.5h0.65M473 81h0.65M473 81.5h0.65M473 82h0.65M473 82.5h0.65M473 83h0.65M473 83.5h0.65M473 84h0.65M473 85h0.65M473 86.5h0.65M473 88h0.65M473 89.5h0.65M473 91h0.65M473 94h0.65M473 95h0.65M473.5 61.5h0.65M473.5 65h0.65M473.5 65.5h0.65M473.5 66h0.65M473.5 66.5h0.65M473.5 67h0.65M473.5 67.5h0.65M473.5 69h0.65M473.5 69.5h0.65M473.5 72h0.65M473.5 72.5h0.65M473.5 73.5h0.65M473.5 74h0.65M473.5 74.5h0.65M473.5 75h0.65M473.5 76.5h0.65M473.5 77h0.65M473.5 77.5h0.65M473.5 78h0.65M473.5 78.5h0.65M473.5 79h0.65M473.5 79.5h0.65M473.5 80.5h0.65M473.5 81.5h0.65M473.5 82h0.65M473.5 82.5h0.65M473.5 83h0.65M473.5 83.5h0.65M473.5 84h0.65M473.5 84.5h0.65M473.5 85h0.65M473.5 86h0.65M473.5 88.5h0.65M473.5 89h0.65M473.5 92.5h0.65M473.5 94.5h0.65M474 62.5h0.65M474 68.5h0.65M474 70h0.65M474 71h0.65M474 72h0.65M474 72.5h0.65M474 73h0.65M474 73.5h0.65M474 74h0.65M474 74.5h0.65M474 75.5h0.65M474 76h0.65M474 76.5h0.65M474 77.5h0.65M474 78h0.65M474 78.5h0.65M474 79h0.65M474 79.5h0.65M474 80h0.65M474 81.5h0.65M474 82h0.65M474 83h0.65M474 83.5h0.65M474 84.5h0.65M474 85.5h0.65M474 86h0.65M474 87.5h0.65M474 88h0.65M474 88.5h0.65M474 89h0.65M474 91h0.65M474 94h0.65M474.5 56h0.65M474.5 64h0.65M474.5 66.5h0.65M474.5 67h0.65M474.5 71.5h0.65M474.5 72h0.65M474.5 75.5h0.65M474.5 76.5h0.65M474.5 78h0.65M474.5 78.5h0.65M474.5 79.5h0.65M474.5 81.5h0.65M474.5 83h0.65M474.5 84h0.65M474.5 84.5h0.65M474.5 85.5h0.65M474.5 87h0.65M474.5 89h0.65M474.5 89.5h0.65M474.5 92.5h0.65M475 67h0.65M475 70h0.65M475 72.5h0.65M475 74h0.65M475 75h0.65M475 75.5h0.65M475 76h0.65M475 76.5h0.65M475 77h0.65M475 77.5h0.65M475 78h0.65M475 79h0.65M475 79.5h0.65M475 80h0.65M475 81h0.65M475 82.5h0.65M475 83h0.65M475 84h0.65M475 85h0.65M475 89.5h0.65M475.5 64.5h0.65M475.5 65h0.65M475.5 65.5h0.65M475.5 70h0.65M475.5 73.5h0.65M475.5 74h0.65M475.5 76.5h0.65M475.5 77.5h0.65M475.5 80h0.65M475.5 80.5h0.65M475.5 81.5h0.65M475.5 83.5h0.65M475.5 84h0.65M475.5 85h0.65M475.5 89.5h0.65M475.5 91.5h0.65M476 68h0.65M476 69h0.65M476 71h0.65M476 72h0.65M476 73.5h0.65M476 74h0.65M476 77.5h0.65M476 79h0.65M476 79.5h0.65M476 80.5h0.65M476 81.5h0.65M476 84h0.65M476 93h0.65M476.5 56.5h0.65M476.5 69.5h0.65M476.5 72.5h0.65M476.5 73.5h0.65M476.5 75.5h0.65M476.5 77.5h0.65M476.5 78h0.65M476.5 79h0.65M476.5 79.5h0.65M476.5 80h0.65M476.5 80.5h0.65M476.5 82h0.65M476.5 83h0.65M476.5 84.5h0.65M476.5 89.5h0.65M476.5 90h0.65M476.5 98.5h0.65M477 65h0.65M477 68h0.65M477 72h0.65M477 74h0.65M477 74.5h0.65M477 75.5h0.65M477 76.5h0.65M477 77h0.65M477 78h0.65M477 79h0.65M477 82h0.65M477 83h0.65M477 89.5h0.65M477.5 59h0.65M477.5 70h0.65M477.5 70.5h0.65M477.5 75.5h0.65M477.5 80.5h0.65M477.5 82h0.65M477.5 88h0.65M477.5 93h0.65M478 73h0.65M478 74.5h0.65M478 75h0.65M478 76.5h0.65M478 77h0.65M478 79.5h0.65M478 89h0.65M478.5 72h0.65M478.5 74.5h0.65M479 65h0.65M479 67h0.65M479 73.5h0.65M479.5 72.5h0.65M479.5 74h0.65M479.5 77h0.65M479.5 80.5h0.65M479.5 82h0.65M480 76.5h0.65M480 85h0.65M480.5 85h0.65M481 66h0.65M481 72.5h0.65M481.5 73h0.65M481.5 76.5h0.65" stroke="#000" stroke-width="0.65" fill="none" opacity="1"/>
<path d="M439.00 114.80H513.00" stroke="#888" stroke-width="1.3" stroke-dasharray="0.5 2.6" fill="none"/>
<path d="M436.80 40.60V113.60" stroke="#888" stroke-width="1.3" stroke-dasharray="0.5 3.4" fill="none"/>
<text x="444.52" y="120.60" font-size="3.6" text-anchor="middle" fill="#444">0.0</text>
<text x="454.12" y="120.60" font-size="3.6" text-anchor="middle" fill="#444">10²</text>
<text x="472.50" y="120.60" font-size="3.6" text-anchor="middle" fill="#444">10³</text>
<text x="487.95" y="120.60" font-size="3.6" text-anchor="middle" fill="#444">10⁴</text>
<text x="505.50" y="120.60" font-size="3.6" text-anchor="middle" fill="#444">10⁵</text>
<text x="435.40" y="46.48" font-size="3.6" text-anchor="end" fill="#444">10⁵</text>
<text x="435.40" y="63.50" font-size="3.6" text-anchor="end" fill="#444">10⁴</text>
<text x="435.40" y="80.30" font-size="3.6" text-anchor="end" fill="#444">10³</text>
<text x="435.40" y="98.67" font-size="3.6" text-anchor="end" fill="#444">10²</text>
<text x="435.40" y="106.25" font-size="3.6" text-anchor="end" fill="#444">0</text>
<rect x="438.00" y="38.60" width="75.00" height="75.00" fill="none" stroke="#6a6a6a" stroke-width="0.9"/>
<text x="439.80" y="43.80" font-size="7" text-anchor="start" fill="#111" stroke="#111" stroke-width="0.18">11.8</text>
<text x="497.80" y="43.80" font-size="7" text-anchor="start" fill="#111" stroke="#111" stroke-width="0.18">64.3</text>
<text x="497.80" y="112.60" font-size="7" text-anchor="start" fill="#111" stroke="#111" stroke-width="0.18">12.6</text>
<rect x="438.50" y="106.40" width="15.50" height="6.7" fill="#fff" opacity="0.9"/>
<text x="439.60" y="112.60" font-size="7" text-anchor="start" fill="#111" stroke="#111" stroke-width="0.18">11.1</text>
<path d="M444.80 127.80H503.00" stroke="#111" stroke-width="1.3" fill="none"/>
<path d="M507.00 127.80L502.00 125.50V130.10Z" fill="#111"/>
<text x="474.00" y="139.90" font-size="9.3" text-anchor="middle" fill="#111" stroke="#111" stroke-width="0.18">CD25</text>
<path d="M422.30 109.50V50.40" stroke="#111" stroke-width="1.2" fill="none"/>
<path d="M422.30 46.60L419.90 51.40H424.70Z" fill="#111"/>
<text x="417.50" y="79.00" font-size="9.6" text-anchor="middle" fill="#111" stroke="#111" stroke-width="0.18" transform="rotate(-90 417.50 79.00)">Foxp3</text>
<path d="M48.25 154.25V229.50M26.25 208.25H101.25" stroke="#c0c0c0" stroke-width="0.75" fill="none"/>
<path d="M27.5 211h0.6M28.5 218h0.6M29 193.5h0.6M30 209.5h0.6M31 200.5h0.6M31.5 200h0.6M31.5 207h0.6M32 207h0.6M32 209h0.6M32 210.5h0.6M32.5 217.5h0.6M33 202.5h0.6M33 218.5h0.6M33 222h0.6M33.5 204h0.6M33.5 210.5h0.6M33.5 215.5h0.6M33.5 218.5h0.6M33.5 222h0.6M34 196.5h0.6M34 205.5h0.6M34 212.5h0.6M34 220h0.6M34 222h0.6M34.5 198.5h0.6M34.5 203.5h0.6M34.5 211h0.6M34.5 211.5h0.6M34.5 213.5h0.6M34.5 221h0.6M35 192.5h0.6M35 211h0.6M35 212h0.6M35 212.5h0.6M35 213h0.6M35 213.5h0.6M35 226h0.6M35.5 207h0.6M35.5 209h0.6M35.5 214.5h0.6M35.5 216.5h0.6M36 194.5h0.6M36 201h0.6M36 206.5h0.6M36 209h0.6M36 209.5h0.6M36 210h0.6M36 211.5h0.6M36 213h0.6M36 214h0.6M36 215h0.6M36 215.5h0.6M36 216.5h0.6M36.5 194.5h0.6M36.5 199.5h0.6M36.5 206h0.6M36.5 207h0.6M36.5 214.5h0.6M36.5 217h0.6M36.5 218h0.6M36.5 218.5h0.6M36.5 225.5h0.6M36.5 228h0.6M37 198.5h0.6M37 202h0.6M37 208.5h0.6M37 212h0.6M37 215.5h0.6M37 216h0.6M37 217.5h0.6M37 222h0.6M37.5 204.5h0.6M37.5 205.5h0.6M37.5 207h0.6M37.5 210.5h0.6M37.5 211.5h0.6M37.5 212h0.6M37.5 212.5h0.6M37.5 213h0.6M37.5 217.5h0.6M37.5 219.5h0.6M37.5 220h0.6M38 196.5h0.6M38 201.5h0.6M38 205h0.6M38 206h0.6M38 207.5h0.6M38 208.5h0.6M38 211h0.6M38 212h0.6M38 213h0.6M38 213.5h0.6M38 215.5h0.6M38 221h0.6M38 221.5h0.6M38 228.5h0.6M38.5 194.5h0.6M38.5 197.5h0.6M38.5 201.5h0.6M38.5 205h0.6M38.5 206h0.6M38.5 208.5h0.6M38.5 209h0.6M38.5 210.5h0.6M38.5 212.5h0.6M38.5 213h0.6M38.5 213.5h0.6M38.5 214h0.6M38.5 215.5h0.6M38.5 218h0.6M39 189h0.6M39 200.5h0.6M39 203h0.6M39 203.5h0.6M39 204h0.6M39 206.5h0.6M39 207h0.6M39 207.5h0.6M39 208h0.6M39 208.5h0.6M39 209.5h0.6M39 210h0.6M39 210.5h0.6M39 211.5h0.6M39 212.5h0.6M39 213h0.6M39 214h0.6M39 214.5h0.6M39 216.5h0.6M39 218h0.6M39.5 195.5h0.6M39.5 199.5h0.6M39.5 200h0.6M39.5 202.5h0.6M39.5 204.5h0.6M39.5 205.5h0.6M39.5 209.5h0.6M39.5 210h0.6M39.5 211h0.6M39.5 212.5h0.6M39.5 213h0.6M39.5 213.5h0.6M39.5 214h0.6M39.5 214.5h0.6M39.5 215h0.6M39.5 216h0.6M39.5 216.5h0.6M39.5 218.5h0.6M39.5 220h0.6M39.5 220.5h0.6M39.5 221h0.6M39.5 223h0.6M40 182.5h0.6M40 199h0.6M40 203h0.6M40 204h0.6M40 205h0.6M40 205.5h0.6M40 206h0.6M40 206.5h0.6M40 207.5h0.6M40 208h0.6M40 210h0.6M40 210.5h0.6M40 211h0.6M40 211.5h0.6M40 215h0.6M40 215.5h0.6M40 216h0.6M40 217h0.6M40 217.5h0.6M40 218.5h0.6M40 221h0.6M40 225.5h0.6M40.5 200h0.6M40.5 201h0.6M40.5 206.5h0.6M40.5 207.5h0.6M40.5 208h0.6M40.5 209h0.6M40.5 210.5h0.6M40.5 211h0.6M40.5 212h0.6M40.5 213h0.6M40.5 214h0.6M40.5 215h0.6M40.5 215.5h0.6M40.5 217.5h0.6M40.5 218h0.6M40.5 219h0.6M40.5 219.5h0.6M40.5 220h0.6M40.5 220.5h0.6M40.5 223.5h0.6M40.5 228.5h0.6M41 193h0.6M41 206h0.6M41 206.5h0.6M41 208.5h0.6M41 209.5h0.6M41 211h0.6M41 212.5h0.6M41 214.5h0.6M41 215h0.6M41 215.5h0.6M41 216.5h0.6M41 217.5h0.6M41 218h0.6M41 219h0.6M41 220h0.6M41 220.5h0.6M41 223h0.6M41.5 195.5h0.6M41.5 196h0.6M41.5 198.5h0.6M41.5 200.5h0.6M41.5 201.5h0.6M41.5 203h0.6M41.5 203.5h0.6M41.5 204h0.6M41.5 204.5h0.6M41.5 206h0.6M41.5 206.5h0.6M41.5 207h0.6M41.5 208h0.6M41.5 209.5h0.6M41.5 210h0.6M41.5 210.5h0.6M41.5 211.5h0.6M41.5 215h0.6M41.5 216h0.6M41.5 217h0.6M41.5 217.5h0.6M41.5 218.5h0.6M41.5 219.5h0.6M41.5 221.5h0.6M41.5 222h0.6M41.5 223h0.6M42 189h0.6M42 196h0.6M42 204h0.6M42 206h0.6M42 206.5h0.6M42 207h0.6M42 207.5h0.6M42 209h0.6M42 210h0.6M42 210.5h0.6M42 211.5h0.6M42 212.5h0.6M42 213h0.6M42 214h0.6M42 216h0.6M42 217h0.6M42 220h0.6M42 221h0.6M42.5 199h0.6M42.5 201h0.6M42.5 201.5h0.6M42.5 202h0.6M42.5 205.5h0.6M42.5 206h0.6M42.5 206.5h0.6M42.5 207.5h0.6M42.5 208.5h0.6M42.5 209h0.6M42.5 209.5h0.6M42.5 210h0.6M42.5 211.5h0.6M42.5 212h0.6M42.5 213.5h0.6M42.5 214h0.6M42.5 214.5h0.6M42.5 215.5h0.6M42.5 216.5h0.6M42.5 217.5h0.6M42.5 218.5h0.6M43 198.5h0.6M43 200.5h0.6M43 203h0.6M43 203.5h0.6M43 204.5h0.6M43 206.5h0.6M43 209.5h0.6M43 210h0.6M43 210.5h0.6M43 211h0.6M43 211.5h0.6M43 213.5h0.6M43 214.5h0.6M43 215.5h0.6M43 216h0.6M43 217h0.6M43 219h0.6M43 219.5h0.6M43 220h0.6M43 222h0.6M43 225.5h0.6M43.5 190.5h0.6M43.5 194.5h0.6M43.5 199h0.6M43.5 203h0.6M43.5 203.5h0.6M43.5 205.5h0.6M43.5 206h0.6M43.5 206.5h0.6M43.5 207h0.6M43.5 207.5h0.6M43.5 208.5h0.6M43.5 210h0.6M43.5 210.5h0.6M43.5 211h0.6M43.5 212h0.6M43.5 213h0.6M43.5 214h0.6M43.5 214.5h0.6M43.5 216.5h0.6M43.5 217h0.6M43.5 218h0.6M43.5 219.5h0.6M43.5 222.5h0.6M43.5 225h0.6M44 195h0.6M44 202.5h0.6M44 204h0.6M44 205.5h0.6M44 207.5h0.6M44 208h0.6M44 208.5h0.6M44 209h0.6M44 210h0.6M44 210.5h0.6M44 211h0.6M44 211.5h0.6M44 212h0.6M44 212.5h0.6M44 214h0.6M44 214.5h0.6M44 216h0.6M44 217h0.6M44 219.5h0.6M44 220h0.6M44 222.5h0.6M44.5 183.5h0.6M44.5 195h0.6M44.5 202h0.6M44.5 205h0.6M44.5 205.5h0.6M44.5 207h0.6M44.5 208h0.6M44.5 208.5h0.6M44.5 211h0.6M44.5 212h0.6M44.5 212.5h0.6M44.5 213h0.6M44.5 214h0.6M44.5 214.5h0.6M44.5 215h0.6M44.5 218.5h0.6M44.5 220h0.6M44.5 221h0.6M44.5 221.5h0.6M44.5 222.5h0.6M45 197.5h0.6M45 201.5h0.6M45 202h0.6M45 203.5h0.6M45 204.5h0.6M45 205.5h0.6M45 206.5h0.6M45 207h0.6M45 208.5h0.6M45 209.5h0.6M45 210h0.6M45 210.5h0.6M45 211.5h0.6M45 212.5h0.6M45 213h0.6M45 213.5h0.6M45 214h0.6M45 214.5h0.6M45 216h0.6M45 217.5h0.6M45 218.5h0.6M45 219.5h0.6M45 220h0.6M45 221.5h0.6M45.5 204.5h0.6M45.5 205h0.6M45.5 207.5h0.6M45.5 208h0.6M45.5 208.5h0.6M45.5 209h0.6M45.5 210h0.6M45.5 211h0.6M45.5 212.5h0.6M45.5 213h0.6M45.5 214h0.6M45.5 214.5h0.6M45.5 215h0.6M45.5 215.5h0.6M45.5 216h0.6M45.5 220.5h0.6M45.5 221.5h0.6M45.5 223h0.6M45.5 224.5h0.6M46 202.5h0.6M46 203h0.6M46 203.5h0.6M46 205.5h0.6M46 208h0.6M46 208.5h0.6M46 209h0.6M46 209.5h0.6M46 210h0.6M46 210.5h0.6M46 211h0.6M46 211.5h0.6M46 212h0.6M46 212.5h0.6M46 213h0.6M46 214.5h0.6M46 215h0.6M46 216h0.6M46 218h0.6M46 218.5h0.6M46 219h0.6M46 219.5h0.6M46 220.5h0.6M46 221h0.6M46 223h0.6M46 223.5h0.6M46.5 198.5h0.6M46.5 200h0.6M46.5 204h0.6M46.5 207h0.6M46.5 207.5h0.6M46.5 208h0.6M46.5 208.5h0.6M46.5 209h0.6M46.5 211h0.6M46.5 211.5h0.6M46.5 213h0.6M46.5 214h0.6M46.5 214.5h0.6M46.5 216.5h0.6M46.5 217.5h0.6M46.5 218h0.6M46.5 219.5h0.6M46.5 221.5h0.6M46.5 222.5h0.6M46.5 224h0.6M47 193.5h0.6M47 194h0.6M47 200.5h0.6M47 201.5h0.6M47 203h0.6M47 204.5h0.6M47 206.5h0.6M47 207h0.6M47 209h0.6M47 209.5h0.6M47 210h0.6M47 211.5h0.6M47 212h0.6M47 213.5h0.6M47 215h0.6M47 215.5h0.6M47 216.5h0.6M47 217h0.6M47 217.5h0.6M47 224.5h0.6M47.5 197h0.6M47.5 200.5h0.6M47.5 203.5h0.6M47.5 204h0.6M47.5 208h0.6M47.5 208.5h0.6M47.5 209h0.6M47.5 209.5h0.6M47.5 211h0.6M47.5 213h0.6M47.5 213.5h0.6M47.5 214.5h0.6M47.5 215h0.6M47.5 216h0.6M47.5 217h0.6M47.5 218.5h0.6M47.5 219.5h0.6M47.5 221h0.6M48 184h0.6M48 200.5h0.6M48 201h0.6M48 202h0.6M48 202.5h0.6M48 203h0.6M48 204.5h0.6M48 207h0.6M48 207.5h0.6M48 209h0.6M48 209.5h0.6M48 210.5h0.6M48 211.5h0.6M48 212h0.6M48 212.5h0.6M48 213.5h0.6M48 214.5h0.6M48 216h0.6M48 217.5h0.6M48 218.5h0.6M48 219.5h0.6M48.5 188h0.6M48.5 192h0.6M48.5 192.5h0.6M48.5 195.5h0.6M48.5 197.5h0.6M48.5 198.5h0.6M48.5 199h0.6M48.5 202.5h0.6M48.5 203h0.6M48.5 204.5h0.6M48.5 206.5h0.6M48.5 210h0.6M48.5 210.5h0.6M48.5 211.5h0.6M48.5 212h0.6M48.5 212.5h0.6M48.5 213h0.6M48.5 214.5h0.6M48.5 217h0.6M48.5 218.5h0.6M48.5 221.5h0.6M49 191.5h0.6M49 195h0.6M49 199.5h0.6M49 201h0.6M49 201.5h0.6M49 202.5h0.6M49 204h0.6M49 205h0.6M49 207.5h0.6M49 209.5h0.6M49 210h0.6M49 213h0.6M49 213.5h0.6M49 215.5h0.6M49 216h0.6M49 217.5h0.6M49 220h0.6M49.5 194h0.6M49.5 195h0.6M49.5 198.5h0.6M49.5 199h0.6M49.5 200.5h0.6M49.5 203h0.6M49.5 204h0.6M49.5 205.5h0.6M49.5 206h0.6M49.5 207.5h0.6M49.5 208h0.6M49.5 208.5h0.6M49.5 213h0.6M49.5 215h0.6M49.5 216h0.6M49.5 218h0.6M49.5 218.5h0.6M49.5 219h0.6M49.5 228.5h0.6M50 194.5h0.6M50 200h0.6M50 200.5h0.6M50 201h0.6M50 206.5h0.6M50 207.5h0.6M50 208h0.6M50 208.5h0.6M50 209h0.6M50 209.5h0.6M50 210h0.6M50 212h0.6M50 214h0.6M50 214.5h0.6M50 216h0.6M50 216.5h0.6M50 217h0.6M50 219.5h0.6M50 220h0.6M50 221h0.6M50 224h0.6M50 228.5h0.6M50.5 196.5h0.6M50.5 197h0.6M50.5 199h0.6M50.5 202h0.6M50.5 202.5h0.6M50.5 204.5h0.6M50.5 205.5h0.6M50.5 209.5h0.6M50.5 210h0.6M50.5 211h0.6M50.5 211.5h0.6M50.5 216h0.6M50.5 218h0.6M50.5 220.5h0.6M50.5 221h0.6M50.5 225h0.6M51 190h0.6M51 195h0.6M51 199h0.6M51 199.5h0.6M51 202.5h0.6M51 204.5h0.6M51 205.5h0.6M51 211.5h0.6M51 214h0.6M51 214.5h0.6M51 215.5h0.6M51 216h0.6M51 217h0.6M51 225h0.6M51 228.5h0.6M51.5 189.5h0.6M51.5 196.5h0.6M51.5 199.5h0.6M51.5 202h0.6M51.5 202.5h0.6M51.5 203h0.6M51.5 203.5h0.6M51.5 206h0.6M51.5 208.5h0.6M51.5 209h0.6M51.5 209.5h0.6M51.5 210h0.6M51.5 212.5h0.6M51.5 214h0.6M51.5 216.5h0.6M51.5 217.5h0.6M51.5 218h0.6M51.5 219h0.6M51.5 221.5h0.6M51.5 224h0.6M52 186h0.6M52 199h0.6M52 200.5h0.6M52 204.5h0.6M52 205h0.6M52 206.5h0.6M52 207h0.6M52 207.5h0.6M52 208.5h0.6M52 209h0.6M52 210.5h0.6M52 211h0.6M52 211.5h0.6M52 214.5h0.6M52 219.5h0.6M52 221.5h0.6M52.5 195h0.6M52.5 201.5h0.6M52.5 205.5h0.6M52.5 206.5h0.6M52.5 207h0.6M52.5 207.5h0.6M52.5 208.5h0.6M52.5 209.5h0.6M52.5 211h0.6M52.5 216h0.6M52.5 216.5h0.6M52.5 220h0.6M52.5 221h0.6M53 196h0.6M53 198.5h0.6M53 200.5h0.6M53 205.5h0.6M53 207.5h0.6M53 211h0.6M53 213.5h0.6M53 217.5h0.6M53 219h0.6M53 220h0.6M53.5 209h0.6M53.5 212h0.6M53.5 214.5h0.6M53.5 216.5h0.6M53.5 217h0.6M53.5 218.5h0.6M53.5 228.5h0.6M54 172h0.6M54 195h0.6M54 196.5h0.6M54 198.5h0.6M54 202h0.6M54 204h0.6M54 208h0.6M54 208.5h0.6M54 209h0.6M54 213.5h0.6M54 214h0.6M54 221h0.6M54 226.5h0.6M54.5 193h0.6M54.5 194h0.6M54.5 207h0.6M54.5 209h0.6M54.5 209.5h0.6M54.5 211h0.6M54.5 213h0.6M54.5 216h0.6M54.5 216.5h0.6M54.5 217h0.6M55 195.5h0.6M55 198.5h0.6M55 199.5h0.6M55 201h0.6M55 204.5h0.6M55 206h0.6M55 206.5h0.6M55 208h0.6M55 227.5h0.6M55.5 191.5h0.6M55.5 194h0.6M55.5 204h0.6M55.5 204.5h0.6M55.5 205.5h0.6M55.5 206h0.6M55.5 207.5h0.6M55.5 209h0.6M55.5 209.5h0.6M55.5 210.5h0.6M55.5 211h0.6M55.5 213.5h0.6M55.5 215.5h0.6M55.5 216h0.6M55.5 222.5h0.6M56 190.5h0.6M56 195h0.6M56 204h0.6M56 205h0.6M56 209h0.6M56 211.5h0.6M56 215.5h0.6M56.5 191.5h0.6M56.5 196h0.6M56.5 202.5h0.6M56.5 209.5h0.6M56.5 211.5h0.6M56.5 217.5h0.6M57 187h0.6M57 191.5h0.6M57 207h0.6M57 208h0.6M57 212h0.6M57 212.5h0.6M57 214h0.6M57 222.5h0.6M57.5 174h0.6M57.5 191h0.6M57.5 201.5h0.6M57.5 203.5h0.6M57.5 212h0.6M57.5 222h0.6M58 206h0.6M58 225h0.6M58.5 199h0.6M58.5 206h0.6M58.5 215h0.6M58.5 222h0.6M58.5 226.5h0.6M59 206.5h0.6M59 207h0.6M59 216h0.6M59.5 195.5h0.6M59.5 214h0.6M60 199h0.6M60 200h0.6M60 206h0.6M60 214.5h0.6M60.5 197h0.6M60.5 198.5h0.6M61 196.5h0.6M61 197.5h0.6M61 202h0.6M61 203.5h0.6M61 206.5h0.6M61.5 196h0.6M61.5 199h0.6M61.5 207.5h0.6M61.5 222.5h0.6M62 194.5h0.6M62 206h0.6M62 210.5h0.6M62.5 196h0.6M62.5 211h0.6M62.5 211.5h0.6M63 193.5h0.6M63 208.5h0.6M63.5 206h0.6M64 191.5h0.6M64 201h0.6M64.5 189h0.6M64.5 209h0.6M64.5 215.5h0.6M65 204h0.6M65.5 195h0.6M65.5 197.5h0.6M65.5 198h0.6M66 217h0.6M67 195h0.6M67 200h0.6M67 205h0.6M67 207.5h0.6M68 207h0.6M69 204h0.6M69 218h0.6M73 210.5h0.6M77 211h0.6" stroke="#000" stroke-width="0.6" fill="none" opacity="1"/>
<path d="M33 191h0.7M34 193h0.7M35.5 189.5h0.7M35.5 195.5h0.7M36 198h0.7M36 201.5h0.7M36.5 196h0.7M36.5 204h0.7M37 192.5h0.7M37 194h0.7M37 194.5h0.7M37 197h0.7M37 197.5h0.7M37 198.5h0.7M37 201.5h0.7M37.5 187h0.7M37.5 194h0.7M37.5 195.5h0.7M37.5 197.5h0.7M37.5 198h0.7M37.5 198.5h0.7M38 191h0.7M38 192.5h0.7M38 193h0.7M38 196h0.7M38 196.5h0.7M38 197h0.7M38 198h0.7M38 202.5h0.7M38.5 189h0.7M38.5 191h0.7M38.5 192h0.7M38.5 193.5h0.7M38.5 194h0.7M38.5 195h0.7M38.5 195.5h0.7M38.5 196h0.7M38.5 196.5h0.7M38.5 198.5h0.7M38.5 201h0.7M39 188h0.7M39 189.5h0.7M39 190h0.7M39 191h0.7M39 192h0.7M39 192.5h0.7M39 193.5h0.7M39 194.5h0.7M39 195h0.7M39 196h0.7M39 196.5h0.7M39 197h0.7M39 197.5h0.7M39 198.5h0.7M39 199h0.7M39 199.5h0.7M39 200.5h0.7M39.5 185h0.7M39.5 188.5h0.7M39.5 190h0.7M39.5 190.5h0.7M39.5 191h0.7M39.5 191.5h0.7M39.5 192h0.7M39.5 193h0.7M39.5 193.5h0.7M39.5 194h0.7M39.5 194.5h0.7M39.5 195h0.7M39.5 195.5h0.7M39.5 196h0.7M39.5 196.5h0.7M39.5 197h0.7M39.5 197.5h0.7M39.5 198h0.7M39.5 198.5h0.7M39.5 199h0.7M40 188.5h0.7M40 189.5h0.7M40 191h0.7M40 191.5h0.7M40 192.5h0.7M40 193.5h0.7M40 194h0.7M40 194.5h0.7M40 195.5h0.7M40 196h0.7M40 196.5h0.7M40 198.5h0.7M40 199h0.7M40 199.5h0.7M40 200.5h0.7M40 202.5h0.7M40.5 189.5h0.7M40.5 190.5h0.7M40.5 191h0.7M40.5 192h0.7M40.5 193h0.7M40.5 193.5h0.7M40.5 194h0.7M40.5 194.5h0.7M40.5 195h0.7M40.5 195.5h0.7M40.5 196h0.7M40.5 196.5h0.7M40.5 197h0.7M40.5 198.5h0.7M40.5 199.5h0.7M40.5 203.5h0.7M41 186h0.7M41 187h0.7M41 189h0.7M41 189.5h0.7M41 191h0.7M41 192h0.7M41 192.5h0.7M41 193h0.7M41 193.5h0.7M41 194h0.7M41 194.5h0.7M41 195h0.7M41 195.5h0.7M41 196h0.7M41 196.5h0.7M41 197h0.7M41 199h0.7M41 200.5h0.7M41 201h0.7M41 204h0.7M41.5 188h0.7M41.5 188.5h0.7M41.5 189h0.7M41.5 189.5h0.7M41.5 190.5h0.7M41.5 191h0.7M41.5 191.5h0.7M41.5 192h0.7M41.5 192.5h0.7M41.5 193h0.7M41.5 193.5h0.7M41.5 194h0.7M41.5 194.5h0.7M41.5 195h0.7M41.5 195.5h0.7M41.5 196h0.7M41.5 196.5h0.7M41.5 197h0.7M41.5 197.5h0.7M41.5 198.5h0.7M41.5 199h0.7M41.5 199.5h0.7M41.5 201h0.7M41.5 202.5h0.7M41.5 203h0.7M42 190h0.7M42 190.5h0.7M42 191h0.7M42 191.5h0.7M42 192h0.7M42 192.5h0.7M42 193h0.7M42 193.5h0.7M42 194h0.7M42 194.5h0.7M42 195h0.7M42 195.5h0.7M42 196h0.7M42 196.5h0.7M42 197h0.7M42 197.5h0.7M42 198h0.7M42 198.5h0.7M42 199h0.7M42 199.5h0.7M42 200h0.7M42 201h0.7M42 201.5h0.7M42 202h0.7M42 202.5h0.7M42 203h0.7M42 204.5h0.7M42.5 187.5h0.7M42.5 189h0.7M42.5 189.5h0.7M42.5 190h0.7M42.5 191h0.7M42.5 191.5h0.7M42.5 192h0.7M42.5 192.5h0.7M42.5 193h0.7M42.5 193.5h0.7M42.5 194h0.7M42.5 194.5h0.7M42.5 195h0.7M42.5 195.5h0.7M42.5 196h0.7M42.5 196.5h0.7M42.5 197h0.7M42.5 197.5h0.7M42.5 198h0.7M42.5 198.5h0.7M42.5 199h0.7M42.5 199.5h0.7M42.5 200h0.7M42.5 200.5h0.7M42.5 201.5h0.7M43 184h0.7M43 185h0.7M43 189h0.7M43 190.5h0.7M43 191h0.7M43 191.5h0.7M43 192h0.7M43 192.5h0.7M43 193h0.7M43 193.5h0.7M43 194h0.7M43 194.5h0.7M43 195h0.7M43 195.5h0.7M43 196h0.7M43 196.5h0.7M43 197h0.7M43 197.5h0.7M43 198h0.7M43 198.5h0.7M43 199h0.7M43 199.5h0.7M43 200h0.7M43 200.5h0.7M43 201h0.7M43 201.5h0.7M43 202h0.7M43 202.5h0.7M43.5 188h0.7M43.5 189h0.7M43.5 190h0.7M43.5 190.5h0.7M43.5 191h0.7M43.5 191.5h0.7M43.5 192h0.7M43.5 192.5h0.7M43.5 193h0.7M43.5 193.5h0.7M43.5 194h0.7M43.5 194.5h0.7M43.5 195h0.7M43.5 195.5h0.7M43.5 196h0.7M43.5 196.5h0.7M43.5 197h0.7M43.5 197.5h0.7M43.5 198h0.7M43.5 198.5h0.7M43.5 199h0.7M43.5 199.5h0.7M43.5 200h0.7M43.5 200.5h0.7M43.5 201h0.7M43.5 202h0.7M43.5 202.5h0.7M43.5 203.5h0.7M44 186.5h0.7M44 188.5h0.7M44 189h0.7M44 189.5h0.7M44 190h0.7M44 190.5h0.7M44 191h0.7M44 191.5h0.7M44 192h0.7M44 192.5h0.7M44 193h0.7M44 193.5h0.7M44 194h0.7M44 194.5h0.7M44 195h0.7M44 195.5h0.7M44 196h0.7M44 196.5h0.7M44 197h0.7M44 197.5h0.7M44 198h0.7M44 198.5h0.7M44 199h0.7M44 199.5h0.7M44 200h0.7M44 200.5h0.7M44 201h0.7M44 201.5h0.7M44 202h0.7M44 202.5h0.7M44 221.5h0.7M44.5 186.5h0.7M44.5 187.5h0.7M44.5 188.5h0.7M44.5 189h0.7M44.5 189.5h0.7M44.5 190h0.7M44.5 190.5h0.7M44.5 191h0.7M44.5 191.5h0.7M44.5 192h0.7M44.5 192.5h0.7M44.5 193h0.7M44.5 193.5h0.7M44.5 194h0.7M44.5 194.5h0.7M44.5 195h0.7M44.5 195.5h0.7M44.5 196h0.7M44.5 196.5h0.7M44.5 197h0.7M44.5 197.5h0.7M44.5 198h0.7M44.5 198.5h0.7M44.5 199h0.7M44.5 199.5h0.7M44.5 200h0.7M44.5 200.5h0.7M44.5 201h0.7M44.5 201.5h0.7M44.5 202h0.7M44.5 203.5h0.7M45 188h0.7M45 188.5h0.7M45 189h0.7M45 190h0.7M45 190.5h0.7M45 191h0.7M45 191.5h0.7M45 192h0.7M45 192.5h0.7M45 193h0.7M45 193.5h0.7M45 194h0.7M45 194.5h0.7M45 195h0.7M45 195.5h0.7M45 196h0.7M45 196.5h0.7M45 197h0.7M45 197.5h0.7M45 198h0.7M45 198.5h0.7M45 199h0.7M45 199.5h0.7M45 200h0.7M45 200.5h0.7M45 201h0.7M45 201.5h0.7M45 202h0.7M45 203h0.7M45 203.5h0.7M45 206h0.7M45 219.5h0.7M45.5 186h0.7M45.5 187.5h0.7M45.5 188.5h0.7M45.5 189h0.7M45.5 189.5h0.7M45.5 190h0.7M45.5 190.5h0.7M45.5 191h0.7M45.5 191.5h0.7M45.5 192h0.7M45.5 192.5h0.7M45.5 193h0.7M45.5 193.5h0.7M45.5 194h0.7M45.5 194.5h0.7M45.5 195h0.7M45.5 195.5h0.7M45.5 196h0.7M45.5 196.5h0.7M45.5 197h0.7M45.5 197.5h0.7M45.5 198h0.7M45.5 198.5h0.7M45.5 199h0.7M45.5 199.5h0.7M45.5 200h0.7M45.5 200.5h0.7M45.5 201h0.7M45.5 201.5h0.7M45.5 202h0.7M45.5 202.5h0.7M45.5 203.5h0.7M45.5 204.5h0.7M45.5 206h0.7M45.5 216h0.7M46 186.5h0.7M46 189h0.7M46 189.5h0.7M46 190.5h0.7M46 191h0.7M46 191.5h0.7M46 192h0.7M46 192.5h0.7M46 193h0.7M46 193.5h0.7M46 194h0.7M46 194.5h0.7M46 195h0.7M46 195.5h0.7M46 196h0.7M46 196.5h0.7M46 197h0.7M46 197.5h0.7M46 198h0.7M46 199h0.7M46 199.5h0.7M46 200h0.7M46 200.5h0.7M46 201h0.7M46 201.5h0.7M46 202.5h0.7M46 203h0.7M46 204.5h0.7M46 221.5h0.7M46.5 188.5h0.7M46.5 189h0.7M46.5 189.5h0.7M46.5 190h0.7M46.5 190.5h0.7M46.5 191h0.7M46.5 191.5h0.7M46.5 192h0.7M46.5 192.5h0.7M46.5 193h0.7M46.5 193.5h0.7M46.5 194h0.7M46.5 194.5h0.7M46.5 195h0.7M46.5 195.5h0.7M46.5 196h0.7M46.5 196.5h0.7M46.5 197h0.7M46.5 197.5h0.7M46.5 198h0.7M46.5 198.5h0.7M46.5 199h0.7M46.5 199.5h0.7M46.5 200h0.7M46.5 200.5h0.7M46.5 201h0.7M46.5 201.5h0.7M46.5 203h0.7M46.5 204h0.7M46.5 204.5h0.7M46.5 220h0.7M46.5 222h0.7M47 186.5h0.7M47 187.5h0.7M47 188.5h0.7M47 189h0.7M47 189.5h0.7M47 190h0.7M47 190.5h0.7M47 191h0.7M47 191.5h0.7M47 192h0.7M47 192.5h0.7M47 193h0.7M47 193.5h0.7M47 194h0.7M47 194.5h0.7M47 195h0.7M47 195.5h0.7M47 196h0.7M47 196.5h0.7M47 197h0.7M47 197.5h0.7M47 198h0.7M47 198.5h0.7M47 199h0.7M47 199.5h0.7M47 200h0.7M47 200.5h0.7M47 201h0.7M47 201.5h0.7M47 202h0.7M47 202.5h0.7M47 203h0.7M47 204h0.7M47 217h0.7M47 218.5h0.7M47 220h0.7M47.5 188h0.7M47.5 188.5h0.7M47.5 189.5h0.7M47.5 190h0.7M47.5 190.5h0.7M47.5 191h0.7M47.5 191.5h0.7M47.5 192h0.7M47.5 192.5h0.7M47.5 193h0.7M47.5 193.5h0.7M47.5 194h0.7M47.5 194.5h0.7M47.5 195h0.7M47.5 195.5h0.7M47.5 196h0.7M47.5 196.5h0.7M47.5 197h0.7M47.5 197.5h0.7M47.5 198h0.7M47.5 198.5h0.7M47.5 199h0.7M47.5 199.5h0.7M47.5 200h0.7M47.5 200.5h0.7M47.5 202h0.7M47.5 202.5h0.7M47.5 212.5h0.7M47.5 215h0.7M47.5 216h0.7M47.5 216.5h0.7M47.5 219h0.7M47.5 220.5h0.7M47.5 221h0.7M47.5 222h0.7M47.5 223h0.7M48 186.5h0.7M48 189h0.7M48 189.5h0.7M48 190h0.7M48 190.5h0.7M48 191.5h0.7M48 192h0.7M48 192.5h0.7M48 193h0.7M48 193.5h0.7M48 194h0.7M48 194.5h0.7M48 195h0.7M48 195.5h0.7M48 196h0.7M48 196.5h0.7M48 197h0.7M48 197.5h0.7M48 198h0.7M48 198.5h0.7M48 199h0.7M48 199.5h0.7M48 200h0.7M48 200.5h0.7M48 201h0.7M48 201.5h0.7M48 202h0.7M48 203h0.7M48 205h0.7M48 213.5h0.7M48 215h0.7M48 215.5h0.7M48 216h0.7M48 218.5h0.7M48 219h0.7M48 222.5h0.7M48 224h0.7M48.5 188h0.7M48.5 188.5h0.7M48.5 190.5h0.7M48.5 191.5h0.7M48.5 192h0.7M48.5 192.5h0.7M48.5 193h0.7M48.5 193.5h0.7M48.5 194h0.7M48.5 194.5h0.7M48.5 195h0.7M48.5 195.5h0.7M48.5 196h0.7M48.5 196.5h0.7M48.5 197h0.7M48.5 197.5h0.7M48.5 198h0.7M48.5 198.5h0.7M48.5 199h0.7M48.5 199.5h0.7M48.5 200h0.7M48.5 201h0.7M48.5 201.5h0.7M48.5 202h0.7M48.5 212.5h0.7M48.5 213h0.7M48.5 213.5h0.7M48.5 214.5h0.7M48.5 216.5h0.7M48.5 217h0.7M48.5 218h0.7M48.5 219h0.7M48.5 220h0.7M48.5 220.5h0.7M48.5 221.5h0.7M48.5 222.5h0.7M48.5 223h0.7M49 187.5h0.7M49 188h0.7M49 188.5h0.7M49 189h0.7M49 189.5h0.7M49 190h0.7M49 190.5h0.7M49 191.5h0.7M49 192h0.7M49 192.5h0.7M49 193h0.7M49 193.5h0.7M49 194h0.7M49 194.5h0.7M49 195h0.7M49 195.5h0.7M49 196h0.7M49 196.5h0.7M49 197h0.7M49 197.5h0.7M49 198h0.7M49 198.5h0.7M49 199h0.7M49 199.5h0.7M49 200.5h0.7M49 201h0.7M49 201.5h0.7M49 202h0.7M49 202.5h0.7M49 204.5h0.7M49 214.5h0.7M49 215h0.7M49 215.5h0.7M49 216.5h0.7M49 218.5h0.7M49 219h0.7M49 219.5h0.7M49 220.5h0.7M49 222h0.7M49 222.5h0.7M49 223.5h0.7M49 226.5h0.7M49 228.5h0.7M49.5 189.5h0.7M49.5 190.5h0.7M49.5 191h0.7M49.5 191.5h0.7M49.5 192h0.7M49.5 192.5h0.7M49.5 193h0.7M49.5 193.5h0.7M49.5 194h0.7M49.5 194.5h0.7M49.5 195h0.7M49.5 195.5h0.7M49.5 196h0.7M49.5 196.5h0.7M49.5 197h0.7M49.5 197.5h0.7M49.5 198h0.7M49.5 198.5h0.7M49.5 199h0.7M49.5 199.5h0.7M49.5 200h0.7M49.5 201.5h0.7M49.5 202h0.7M49.5 204.5h0.7M49.5 213h0.7M49.5 214.5h0.7M49.5 216h0.7M49.5 216.5h0.7M49.5 218h0.7M49.5 219h0.7M49.5 219.5h0.7M49.5 220h0.7M49.5 221h0.7M49.5 222h0.7M49.5 222.5h0.7M49.5 226h0.7M50 188h0.7M50 189.5h0.7M50 190h0.7M50 191h0.7M50 191.5h0.7M50 192h0.7M50 192.5h0.7M50 193h0.7M50 193.5h0.7M50 194.5h0.7M50 195h0.7M50 195.5h0.7M50 196h0.7M50 196.5h0.7M50 197h0.7M50 197.5h0.7M50 198h0.7M50 198.5h0.7M50 199h0.7M50 199.5h0.7M50 200.5h0.7M50 212.5h0.7M50 213.5h0.7M50 214h0.7M50 214.5h0.7M50 215.5h0.7M50 216.5h0.7M50 217h0.7M50 217.5h0.7M50 218h0.7M50 218.5h0.7M50 219.5h0.7M50 220h0.7M50 220.5h0.7M50 221h0.7M50 222h0.7M50 222.5h0.7M50 223h0.7M50 224h0.7M50 228.5h0.7M50.5 186.5h0.7M50.5 187h0.7M50.5 188.5h0.7M50.5 189h0.7M50.5 189.5h0.7M50.5 190.5h0.7M50.5 191h0.7M50.5 191.5h0.7M50.5 192h0.7M50.5 192.5h0.7M50.5 193h0.7M50.5 193.5h0.7M50.5 194h0.7M50.5 194.5h0.7M50.5 195h0.7M50.5 195.5h0.7M50.5 196h0.7M50.5 196.5h0.7M50.5 197h0.7M50.5 197.5h0.7M50.5 198h0.7M50.5 198.5h0.7M50.5 199h0.7M50.5 199.5h0.7M50.5 200h0.7M50.5 200.5h0.7M50.5 201h0.7M50.5 202.5h0.7M50.5 209.5h0.7M50.5 213h0.7M50.5 213.5h0.7M50.5 215h0.7M50.5 215.5h0.7M50.5 216h0.7M50.5 216.5h0.7M50.5 217h0.7M50.5 218h0.7M50.5 218.5h0.7M50.5 219h0.7M50.5 219.5h0.7M50.5 220h0.7M50.5 221h0.7M50.5 221.5h0.7M50.5 222h0.7M50.5 222.5h0.7M50.5 223h0.7M50.5 223.5h0.7M50.5 224h0.7M50.5 224.5h0.7M50.5 225.5h0.7M50.5 226h0.7M51 189.5h0.7M51 190h0.7M51 190.5h0.7M51 191h0.7M51 191.5h0.7M51 192.5h0.7M51 193h0.7M51 193.5h0.7M51 194h0.7M51 194.5h0.7M51 195h0.7M51 195.5h0.7M51 196h0.7M51 196.5h0.7M51 197h0.7M51 197.5h0.7M51 198h0.7M51 198.5h0.7M51 199h0.7M51 199.5h0.7M51 201h0.7M51 201.5h0.7M51 213h0.7M51 213.5h0.7M51 214h0.7M51 215h0.7M51 215.5h0.7M51 216.5h0.7M51 217h0.7M51 217.5h0.7M51 218h0.7M51 218.5h0.7M51 219h0.7M51 219.5h0.7M51 220h0.7M51 220.5h0.7M51 221h0.7M51 221.5h0.7M51 222h0.7M51 223h0.7M51 223.5h0.7M51 224h0.7M51 224.5h0.7M51 228.5h0.7M51.5 187.5h0.7M51.5 189.5h0.7M51.5 190h0.7M51.5 190.5h0.7M51.5 191h0.7M51.5 191.5h0.7M51.5 192h0.7M51.5 193h0.7M51.5 193.5h0.7M51.5 194h0.7M51.5 194.5h0.7M51.5 195h0.7M51.5 195.5h0.7M51.5 196h0.7M51.5 196.5h0.7M51.5 197.5h0.7M51.5 198h0.7M51.5 198.5h0.7M51.5 199h0.7M51.5 199.5h0.7M51.5 202h0.7M51.5 202.5h0.7M51.5 209h0.7M51.5 209.5h0.7M51.5 211.5h0.7M51.5 212.5h0.7M51.5 214h0.7M51.5 214.5h0.7M51.5 215h0.7M51.5 215.5h0.7M51.5 216h0.7M51.5 216.5h0.7M51.5 217h0.7M51.5 218h0.7M51.5 218.5h0.7M51.5 219h0.7M51.5 219.5h0.7M51.5 220h0.7M51.5 220.5h0.7M51.5 221h0.7M51.5 221.5h0.7M51.5 222h0.7M51.5 222.5h0.7M51.5 223h0.7M51.5 224h0.7M51.5 224.5h0.7M51.5 226h0.7M51.5 227.5h0.7M52 184.5h0.7M52 188h0.7M52 189h0.7M52 189.5h0.7M52 190h0.7M52 190.5h0.7M52 191.5h0.7M52 192h0.7M52 192.5h0.7M52 193h0.7M52 193.5h0.7M52 194h0.7M52 194.5h0.7M52 195h0.7M52 195.5h0.7M52 196h0.7M52 196.5h0.7M52 197h0.7M52 199h0.7M52 199.5h0.7M52 200h0.7M52 200.5h0.7M52 201h0.7M52 204h0.7M52 208h0.7M52 209h0.7M52 212h0.7M52 212.5h0.7M52 214h0.7M52 214.5h0.7M52 215h0.7M52 215.5h0.7M52 216h0.7M52 216.5h0.7M52 217h0.7M52 217.5h0.7M52 218h0.7M52 218.5h0.7M52 219h0.7M52 219.5h0.7M52 220h0.7M52 220.5h0.7M52 221h0.7M52 221.5h0.7M52 222h0.7M52 222.5h0.7M52 223h0.7M52 223.5h0.7M52 224h0.7M52 224.5h0.7M52 225.5h0.7M52 227h0.7M52 228.5h0.7M52.5 189.5h0.7M52.5 190h0.7M52.5 191h0.7M52.5 191.5h0.7M52.5 192h0.7M52.5 192.5h0.7M52.5 193h0.7M52.5 193.5h0.7M52.5 194h0.7M52.5 194.5h0.7M52.5 195h0.7M52.5 195.5h0.7M52.5 196h0.7M52.5 196.5h0.7M52.5 197h0.7M52.5 197.5h0.7M52.5 198h0.7M52.5 198.5h0.7M52.5 199h0.7M52.5 199.5h0.7M52.5 202.5h0.7M52.5 210h0.7M52.5 211h0.7M52.5 212h0.7M52.5 212.5h0.7M52.5 213h0.7M52.5 213.5h0.7M52.5 214h0.7M52.5 214.5h0.7M52.5 215h0.7M52.5 215.5h0.7M52.5 216h0.7M52.5 216.5h0.7M52.5 217h0.7M52.5 217.5h0.7M52.5 218h0.7M52.5 218.5h0.7M52.5 219h0.7M52.5 219.5h0.7M52.5 220h0.7M52.5 220.5h0.7M52.5 221h0.7M52.5 221.5h0.7M52.5 222h0.7M52.5 222.5h0.7M52.5 223h0.7M52.5 223.5h0.7M52.5 224h0.7M52.5 224.5h0.7M52.5 226h0.7M52.5 227.5h0.7M53 187h0.7M53 187.5h0.7M53 188.5h0.7M53 189h0.7M53 189.5h0.7M53 190h0.7M53 190.5h0.7M53 191h0.7M53 191.5h0.7M53 192h0.7M53 192.5h0.7M53 193h0.7M53 193.5h0.7M53 194h0.7M53 194.5h0.7M53 195h0.7M53 195.5h0.7M53 196h0.7M53 196.5h0.7M53 197h0.7M53 197.5h0.7M53 198h0.7M53 198.5h0.7M53 199h0.7M53 199.5h0.7M53 200h0.7M53 200.5h0.7M53 202h0.7M53 205h0.7M53 209.5h0.7M53 211.5h0.7M53 212h0.7M53 212.5h0.7M53 213h0.7M53 213.5h0.7M53 214.5h0.7M53 215h0.7M53 215.5h0.7M53 216h0.7M53 216.5h0.7M53 217h0.7M53 217.5h0.7M53 218h0.7M53 218.5h0.7M53 219h0.7M53 219.5h0.7M53 220h0.7M53 220.5h0.7M53 221h0.7M53 221.5h0.7M53 222h0.7M53 222.5h0.7M53 223h0.7M53 223.5h0.7M53 224h0.7M53 224.5h0.7M53 225h0.7M53 225.5h0.7M53 226h0.7M53.5 188h0.7M53.5 188.5h0.7M53.5 189h0.7M53.5 189.5h0.7M53.5 190.5h0.7M53.5 191h0.7M53.5 191.5h0.7M53.5 192h0.7M53.5 192.5h0.7M53.5 193h0.7M53.5 193.5h0.7M53.5 194h0.7M53.5 194.5h0.7M53.5 195h0.7M53.5 195.5h0.7M53.5 196h0.7M53.5 196.5h0.7M53.5 197h0.7M53.5 197.5h0.7M53.5 198h0.7M53.5 198.5h0.7M53.5 200h0.7M53.5 200.5h0.7M53.5 202h0.7M53.5 211h0.7M53.5 211.5h0.7M53.5 212.5h0.7M53.5 213h0.7M53.5 213.5h0.7M53.5 214h0.7M53.5 214.5h0.7M53.5 215h0.7M53.5 215.5h0.7M53.5 216h0.7M53.5 216.5h0.7M53.5 217h0.7M53.5 217.5h0.7M53.5 218h0.7M53.5 218.5h0.7M53.5 219h0.7M53.5 219.5h0.7M53.5 220h0.7M53.5 220.5h0.7M53.5 221h0.7M53.5 221.5h0.7M53.5 222h0.7M53.5 222.5h0.7M53.5 223h0.7M53.5 223.5h0.7M53.5 224h0.7M53.5 224.5h0.7M53.5 225h0.7M53.5 225.5h0.7M53.5 226h0.7M53.5 226.5h0.7M53.5 227h0.7M53.5 227.5h0.7M54 186h0.7M54 187.5h0.7M54 189h0.7M54 189.5h0.7M54 190h0.7M54 191h0.7M54 191.5h0.7M54 192h0.7M54 192.5h0.7M54 193h0.7M54 193.5h0.7M54 194h0.7M54 194.5h0.7M54 195h0.7M54 195.5h0.7M54 196h0.7M54 196.5h0.7M54 197h0.7M54 197.5h0.7M54 198h0.7M54 198.5h0.7M54 199h0.7M54 199.5h0.7M54 200h0.7M54 200.5h0.7M54 201h0.7M54 202h0.7M54 202.5h0.7M54 203.5h0.7M54 209.5h0.7M54 211.5h0.7M54 212.5h0.7M54 213h0.7M54 213.5h0.7M54 214h0.7M54 214.5h0.7M54 215h0.7M54 215.5h0.7M54 216h0.7M54 216.5h0.7M54 217h0.7M54 217.5h0.7M54 218h0.7M54 218.5h0.7M54 219h0.7M54 219.5h0.7M54 220h0.7M54 220.5h0.7M54 221h0.7M54 221.5h0.7M54 222h0.7M54 222.5h0.7M54 223h0.7M54 223.5h0.7M54 224h0.7M54 224.5h0.7M54 225h0.7M54 225.5h0.7M54 227h0.7M54 227.5h0.7M54 228.5h0.7M54.5 185.5h0.7M54.5 186.5h0.7M54.5 187h0.7M54.5 187.5h0.7M54.5 188h0.7M54.5 188.5h0.7M54.5 189h0.7M54.5 189.5h0.7M54.5 190h0.7M54.5 190.5h0.7M54.5 191h0.7M54.5 191.5h0.7M54.5 192h0.7M54.5 192.5h0.7M54.5 193h0.7M54.5 193.5h0.7M54.5 194h0.7M54.5 194.5h0.7M54.5 195h0.7M54.5 195.5h0.7M54.5 196h0.7M54.5 196.5h0.7M54.5 197h0.7M54.5 197.5h0.7M54.5 198h0.7M54.5 198.5h0.7M54.5 199h0.7M54.5 199.5h0.7M54.5 200.5h0.7M54.5 201h0.7M54.5 202h0.7M54.5 202.5h0.7M54.5 210h0.7M54.5 211.5h0.7M54.5 212.5h0.7M54.5 213h0.7M54.5 213.5h0.7M54.5 214h0.7M54.5 214.5h0.7M54.5 215h0.7M54.5 215.5h0.7M54.5 216h0.7M54.5 216.5h0.7M54.5 217h0.7M54.5 217.5h0.7M54.5 218h0.7M54.5 218.5h0.7M54.5 219h0.7M54.5 219.5h0.7M54.5 220h0.7M54.5 220.5h0.7M54.5 221h0.7M54.5 221.5h0.7M54.5 222h0.7M54.5 222.5h0.7M54.5 223h0.7M54.5 223.5h0.7M54.5 224h0.7M54.5 224.5h0.7M54.5 225h0.7M54.5 225.5h0.7M54.5 226h0.7M54.5 226.5h0.7M54.5 228.5h0.7M55 186.5h0.7M55 189h0.7M55 189.5h0.7M55 190h0.7M55 190.5h0.7M55 191h0.7M55 191.5h0.7M55 192h0.7M55 192.5h0.7M55 193h0.7M55 193.5h0.7M55 194h0.7M55 194.5h0.7M55 195h0.7M55 195.5h0.7M55 196h0.7M55 196.5h0.7M55 197h0.7M55 197.5h0.7M55 198h0.7M55 198.5h0.7M55 199h0.7M55 199.5h0.7M55 200h0.7M55 200.5h0.7M55 201h0.7M55 201.5h0.7M55 202h0.7M55 203h0.7M55 203.5h0.7M55 209h0.7M55 210h0.7M55 211h0.7M55 212h0.7M55 213h0.7M55 213.5h0.7M55 214h0.7M55 214.5h0.7M55 215h0.7M55 215.5h0.7M55 216h0.7M55 216.5h0.7M55 217h0.7M55 217.5h0.7M55 218h0.7M55 218.5h0.7M55 219h0.7M55 219.5h0.7M55 220h0.7M55 220.5h0.7M55 221h0.7M55 221.5h0.7M55 222h0.7M55 222.5h0.7M55 223h0.7M55 223.5h0.7M55 224h0.7M55 224.5h0.7M55 225h0.7M55 225.5h0.7M55 226h0.7M55 226.5h0.7M55 228h0.7M55 228.5h0.7M55.5 187h0.7M55.5 188h0.7M55.5 188.5h0.7M55.5 189h0.7M55.5 189.5h0.7M55.5 190h0.7M55.5 190.5h0.7M55.5 191h0.7M55.5 191.5h0.7M55.5 192h0.7M55.5 192.5h0.7M55.5 193h0.7M55.5 193.5h0.7M55.5 194h0.7M55.5 194.5h0.7M55.5 195h0.7M55.5 195.5h0.7M55.5 196h0.7M55.5 196.5h0.7M55.5 197h0.7M55.5 197.5h0.7M55.5 198h0.7M55.5 198.5h0.7M55.5 199h0.7M55.5 199.5h0.7M55.5 200h0.7M55.5 200.5h0.7M55.5 201h0.7M55.5 202h0.7M55.5 202.5h0.7M55.5 203h0.7M55.5 203.5h0.7M55.5 208.5h0.7M55.5 210.5h0.7M55.5 211.5h0.7M55.5 212h0.7M55.5 212.5h0.7M55.5 213h0.7M55.5 213.5h0.7M55.5 214h0.7M55.5 214.5h0.7M55.5 215h0.7M55.5 215.5h0.7M55.5 216h0.7M55.5 216.5h0.7M55.5 217h0.7M55.5 217.5h0.7M55.5 218h0.7M55.5 218.5h0.7M55.5 219h0.7M55.5 219.5h0.7M55.5 220h0.7M55.5 220.5h0.7M55.5 221h0.7M55.5 221.5h0.7M55.5 222h0.7M55.5 222.5h0.7M55.5 223h0.7M55.5 223.5h0.7M55.5 224h0.7M55.5 224.5h0.7M55.5 225h0.7M55.5 225.5h0.7M55.5 226h0.7M55.5 228.5h0.7M56 183.5h0.7M56 185h0.7M56 187h0.7M56 188h0.7M56 189h0.7M56 189.5h0.7M56 190h0.7M56 190.5h0.7M56 191h0.7M56 191.5h0.7M56 192h0.7M56 192.5h0.7M56 193h0.7M56 193.5h0.7M56 194h0.7M56 194.5h0.7M56 195h0.7M56 195.5h0.7M56 196h0.7M56 196.5h0.7M56 197h0.7M56 197.5h0.7M56 198h0.7M56 198.5h0.7M56 199h0.7M56 199.5h0.7M56 200h0.7M56 200.5h0.7M56 201h0.7M56 208h0.7M56 210.5h0.7M56 211h0.7M56 211.5h0.7M56 212h0.7M56 212.5h0.7M56 213h0.7M56 213.5h0.7M56 214h0.7M56 214.5h0.7M56 215h0.7M56 215.5h0.7M56 216h0.7M56 216.5h0.7M56 217h0.7M56 217.5h0.7M56 218h0.7M56 218.5h0.7M56 219h0.7M56 219.5h0.7M56 220h0.7M56 220.5h0.7M56 221h0.7M56 221.5h0.7M56 222h0.7M56 222.5h0.7M56 223h0.7M56 223.5h0.7M56 224h0.7M56 224.5h0.7M56 225h0.7M56 225.5h0.7M56 226h0.7M56 226.5h0.7M56 227h0.7M56 227.5h0.7M56 228h0.7M56.5 185.5h0.7M56.5 187h0.7M56.5 187.5h0.7M56.5 188h0.7M56.5 188.5h0.7M56.5 189h0.7M56.5 189.5h0.7M56.5 190.5h0.7M56.5 191h0.7M56.5 191.5h0.7M56.5 192h0.7M56.5 192.5h0.7M56.5 193h0.7M56.5 193.5h0.7M56.5 194h0.7M56.5 194.5h0.7M56.5 195h0.7M56.5 195.5h0.7M56.5 196h0.7M56.5 196.5h0.7M56.5 197h0.7M56.5 197.5h0.7M56.5 198h0.7M56.5 198.5h0.7M56.5 199h0.7M56.5 199.5h0.7M56.5 200h0.7M56.5 200.5h0.7M56.5 201h0.7M56.5 201.5h0.7M56.5 202.5h0.7M56.5 203h0.7M56.5 210h0.7M56.5 211h0.7M56.5 211.5h0.7M56.5 212.5h0.7M56.5 213h0.7M56.5 213.5h0.7M56.5 214h0.7M56.5 214.5h0.7M56.5 215h0.7M56.5 215.5h0.7M56.5 216h0.7M56.5 216.5h0.7M56.5 217h0.7M56.5 217.5h0.7M56.5 218h0.7M56.5 218.5h0.7M56.5 219h0.7M56.5 219.5h0.7M56.5 220h0.7M56.5 220.5h0.7M56.5 221h0.7M56.5 221.5h0.7M56.5 222h0.7M56.5 222.5h0.7M56.5 223h0.7M56.5 223.5h0.7M56.5 224h0.7M56.5 224.5h0.7M56.5 225h0.7M56.5 225.5h0.7M56.5 226h0.7M56.5 227h0.7M56.5 228h0.7M56.5 228.5h0.7M57 186.5h0.7M57 187h0.7M57 187.5h0.7M57 188.5h0.7M57 189h0.7M57 189.5h0.7M57 190h0.7M57 190.5h0.7M57 191h0.7M57 191.5h0.7M57 192h0.7M57 192.5h0.7M57 193h0.7M57 193.5h0.7M57 194h0.7M57 194.5h0.7M57 195h0.7M57 195.5h0.7M57 196h0.7M57 196.5h0.7M57 197h0.7M57 197.5h0.7M57 198h0.7M57 198.5h0.7M57 199h0.7M57 199.5h0.7M57 200h0.7M57 201h0.7M57 201.5h0.7M57 202h0.7M57 203.5h0.7M57 207h0.7M57 210.5h0.7M57 211h0.7M57 212h0.7M57 212.5h0.7M57 213h0.7M57 213.5h0.7M57 214h0.7M57 214.5h0.7M57 215h0.7M57 215.5h0.7M57 216h0.7M57 216.5h0.7M57 217h0.7M57 217.5h0.7M57 218h0.7M57 218.5h0.7M57 219h0.7M57 219.5h0.7M57 220h0.7M57 220.5h0.7M57 221h0.7M57 221.5h0.7M57 222h0.7M57 222.5h0.7M57 223h0.7M57 223.5h0.7M57 224h0.7M57 224.5h0.7M57 225h0.7M57 225.5h0.7M57 226.5h0.7M57 227h0.7M57 228h0.7M57 228.5h0.7M57.5 185.5h0.7M57.5 186h0.7M57.5 186.5h0.7M57.5 187h0.7M57.5 188h0.7M57.5 188.5h0.7M57.5 189h0.7M57.5 189.5h0.7M57.5 190h0.7M57.5 190.5h0.7M57.5 191h0.7M57.5 191.5h0.7M57.5 192h0.7M57.5 192.5h0.7M57.5 193h0.7M57.5 193.5h0.7M57.5 194h0.7M57.5 194.5h0.7M57.5 195h0.7M57.5 195.5h0.7M57.5 196h0.7M57.5 196.5h0.7M57.5 197h0.7M57.5 197.5h0.7M57.5 198h0.7M57.5 198.5h0.7M57.5 199h0.7M57.5 199.5h0.7M57.5 200h0.7M57.5 200.5h0.7M57.5 201h0.7M57.5 201.5h0.7M57.5 202h0.7M57.5 202.5h0.7M57.5 203.5h0.7M57.5 204h0.7M57.5 208.5h0.7M57.5 209h0.7M57.5 210h0.7M57.5 210.5h0.7M57.5 211.5h0.7M57.5 212h0.7M57.5 212.5h0.7M57.5 213h0.7M57.5 213.5h0.7M57.5 214h0.7M57.5 214.5h0.7M57.5 215h0.7M57.5 215.5h0.7M57.5 216h0.7M57.5 216.5h0.7M57.5 217h0.7M57.5 217.5h0.7M57.5 218h0.7M57.5 218.5h0.7M57.5 219h0.7M57.5 219.5h0.7M57.5 220h0.7M57.5 220.5h0.7M57.5 221h0.7M57.5 221.5h0.7M57.5 222h0.7M57.5 222.5h0.7M57.5 223h0.7M57.5 223.5h0.7M57.5 224h0.7M57.5 224.5h0.7M57.5 225h0.7M57.5 225.5h0.7M57.5 226.5h0.7M57.5 228.5h0.7M58 185.5h0.7M58 186h0.7M58 187h0.7M58 187.5h0.7M58 188h0.7M58 188.5h0.7M58 189h0.7M58 189.5h0.7M58 190h0.7M58 190.5h0.7M58 191h0.7M58 191.5h0.7M58 192h0.7M58 192.5h0.7M58 193h0.7M58 193.5h0.7M58 194h0.7M58 194.5h0.7M58 195h0.7M58 195.5h0.7M58 196h0.7M58 196.5h0.7M58 197h0.7M58 197.5h0.7M58 198h0.7M58 198.5h0.7M58 199h0.7M58 199.5h0.7M58 200h0.7M58 201h0.7M58 201.5h0.7M58 202h0.7M58 210h0.7M58 211.5h0.7M58 212h0.7M58 213h0.7M58 213.5h0.7M58 214h0.7M58 214.5h0.7M58 215h0.7M58 215.5h0.7M58 216h0.7M58 216.5h0.7M58 217h0.7M58 217.5h0.7M58 218h0.7M58 218.5h0.7M58 219h0.7M58 219.5h0.7M58 220h0.7M58 220.5h0.7M58 221h0.7M58 221.5h0.7M58 222h0.7M58 222.5h0.7M58 223h0.7M58 223.5h0.7M58 224h0.7M58 224.5h0.7M58 225h0.7M58 225.5h0.7M58 226h0.7M58 226.5h0.7M58 227h0.7M58 227.5h0.7M58 228.5h0.7M58.5 184.5h0.7M58.5 186h0.7M58.5 188.5h0.7M58.5 189h0.7M58.5 189.5h0.7M58.5 190h0.7M58.5 190.5h0.7M58.5 191h0.7M58.5 191.5h0.7M58.5 192h0.7M58.5 192.5h0.7M58.5 193h0.7M58.5 193.5h0.7M58.5 194h0.7M58.5 194.5h0.7M58.5 195h0.7M58.5 195.5h0.7M58.5 196h0.7M58.5 196.5h0.7M58.5 197h0.7M58.5 197.5h0.7M58.5 198h0.7M58.5 198.5h0.7M58.5 199h0.7M58.5 199.5h0.7M58.5 200h0.7M58.5 200.5h0.7M58.5 201h0.7M58.5 201.5h0.7M58.5 202.5h0.7M58.5 203.5h0.7M58.5 209h0.7M58.5 209.5h0.7M58.5 210h0.7M58.5 210.5h0.7M58.5 211.5h0.7M58.5 212h0.7M58.5 212.5h0.7M58.5 213h0.7M58.5 213.5h0.7M58.5 214h0.7M58.5 214.5h0.7M58.5 215h0.7M58.5 215.5h0.7M58.5 216h0.7M58.5 216.5h0.7M58.5 217h0.7M58.5 217.5h0.7M58.5 218h0.7M58.5 218.5h0.7M58.5 219h0.7M58.5 219.5h0.7M58.5 220h0.7M58.5 220.5h0.7M58.5 221h0.7M58.5 221.5h0.7M58.5 222h0.7M58.5 222.5h0.7M58.5 223h0.7M58.5 223.5h0.7M58.5 224h0.7M58.5 224.5h0.7M58.5 225h0.7M58.5 225.5h0.7M58.5 226h0.7M58.5 226.5h0.7M58.5 227.5h0.7M58.5 228.5h0.7M59 186h0.7M59 187h0.7M59 188h0.7M59 188.5h0.7M59 189h0.7M59 190h0.7M59 190.5h0.7M59 191h0.7M59 191.5h0.7M59 192h0.7M59 192.5h0.7M59 193h0.7M59 193.5h0.7M59 194h0.7M59 194.5h0.7M59 195h0.7M59 195.5h0.7M59 196h0.7M59 196.5h0.7M59 197h0.7M59 197.5h0.7M59 198h0.7M59 198.5h0.7M59 199h0.7M59 199.5h0.7M59 200h0.7M59 200.5h0.7M59 202.5h0.7M59 204.5h0.7M59 205.5h0.7M59 209.5h0.7M59 211h0.7M59 211.5h0.7M59 212h0.7M59 212.5h0.7M59 213h0.7M59 213.5h0.7M59 214h0.7M59 214.5h0.7M59 215h0.7M59 215.5h0.7M59 216h0.7M59 216.5h0.7M59 217h0.7M59 217.5h0.7M59 218h0.7M59 218.5h0.7M59 219h0.7M59 219.5h0.7M59 220h0.7M59 220.5h0.7M59 221h0.7M59 221.5h0.7M59 222h0.7M59 222.5h0.7M59 223h0.7M59 223.5h0.7M59 224h0.7M59 224.5h0.7M59 225h0.7M59 225.5h0.7M59 226h0.7M59 227h0.7M59 228.5h0.7M59.5 185h0.7M59.5 187h0.7M59.5 188h0.7M59.5 188.5h0.7M59.5 189h0.7M59.5 189.5h0.7M59.5 190h0.7M59.5 190.5h0.7M59.5 191h0.7M59.5 191.5h0.7M59.5 192h0.7M59.5 192.5h0.7M59.5 193h0.7M59.5 193.5h0.7M59.5 194h0.7M59.5 194.5h0.7M59.5 195h0.7M59.5 195.5h0.7M59.5 196h0.7M59.5 196.5h0.7M59.5 197h0.7M59.5 197.5h0.7M59.5 198h0.7M59.5 198.5h0.7M59.5 199h0.7M59.5 200h0.7M59.5 200.5h0.7M59.5 201.5h0.7M59.5 202h0.7M59.5 203h0.7M59.5 203.5h0.7M59.5 209.5h0.7M59.5 210h0.7M59.5 210.5h0.7M59.5 211h0.7M59.5 211.5h0.7M59.5 212h0.7M59.5 212.5h0.7M59.5 213h0.7M59.5 213.5h0.7M59.5 214h0.7M59.5 214.5h0.7M59.5 215h0.7M59.5 215.5h0.7M59.5 216h0.7M59.5 216.5h0.7M59.5 217h0.7M59.5 217.5h0.7M59.5 218h0.7M59.5 218.5h0.7M59.5 219h0.7M59.5 219.5h0.7M59.5 220h0.7M59.5 220.5h0.7M59.5 221h0.7M59.5 221.5h0.7M59.5 222h0.7M59.5 222.5h0.7M59.5 223h0.7M59.5 223.5h0.7M59.5 224h0.7M59.5 224.5h0.7M59.5 225.5h0.7M59.5 226h0.7M59.5 227h0.7M59.5 227.5h0.7M59.5 228.5h0.7M60 184h0.7M60 185.5h0.7M60 186h0.7M60 188h0.7M60 188.5h0.7M60 189h0.7M60 190h0.7M60 190.5h0.7M60 191h0.7M60 191.5h0.7M60 192h0.7M60 192.5h0.7M60 193h0.7M60 193.5h0.7M60 194h0.7M60 194.5h0.7M60 195h0.7M60 195.5h0.7M60 196h0.7M60 196.5h0.7M60 197h0.7M60 197.5h0.7M60 198h0.7M60 198.5h0.7M60 199h0.7M60 199.5h0.7M60 200h0.7M60 200.5h0.7M60 201h0.7M60 201.5h0.7M60 212h0.7M60 212.5h0.7M60 213h0.7M60 213.5h0.7M60 214h0.7M60 214.5h0.7M60 215h0.7M60 215.5h0.7M60 216h0.7M60 216.5h0.7M60 217h0.7M60 217.5h0.7M60 218h0.7M60 218.5h0.7M60 219h0.7M60 219.5h0.7M60 220h0.7M60 220.5h0.7M60 221h0.7M60 221.5h0.7M60 222h0.7M60 222.5h0.7M60 223h0.7M60 223.5h0.7M60 224h0.7M60 224.5h0.7M60 225h0.7M60 225.5h0.7M60 227.5h0.7M60.5 186.5h0.7M60.5 187.5h0.7M60.5 188h0.7M60.5 189h0.7M60.5 189.5h0.7M60.5 190h0.7M60.5 190.5h0.7M60.5 191h0.7M60.5 191.5h0.7M60.5 192.5h0.7M60.5 193h0.7M60.5 193.5h0.7M60.5 194h0.7M60.5 194.5h0.7M60.5 195h0.7M60.5 195.5h0.7M60.5 196h0.7M60.5 196.5h0.7M60.5 197.5h0.7M60.5 198h0.7M60.5 199h0.7M60.5 199.5h0.7M60.5 200h0.7M60.5 201h0.7M60.5 206.5h0.7M60.5 208.5h0.7M60.5 209.5h0.7M60.5 210h0.7M60.5 211.5h0.7M60.5 212h0.7M60.5 212.5h0.7M60.5 214h0.7M60.5 214.5h0.7M60.5 215h0.7M60.5 215.5h0.7M60.5 216h0.7M60.5 216.5h0.7M60.5 217h0.7M60.5 217.5h0.7M60.5 218h0.7M60.5 218.5h0.7M60.5 219h0.7M60.5 219.5h0.7M60.5 220h0.7M60.5 220.5h0.7M60.5 221h0.7M60.5 221.5h0.7M60.5 222h0.7M60.5 222.5h0.7M60.5 223h0.7M60.5 223.5h0.7M60.5 224.5h0.7M60.5 225h0.7M60.5 225.5h0.7M60.5 226.5h0.7M60.5 227h0.7M61 188.5h0.7M61 189h0.7M61 189.5h0.7M61 190.5h0.7M61 191h0.7M61 191.5h0.7M61 192h0.7M61 192.5h0.7M61 193h0.7M61 193.5h0.7M61 194h0.7M61 194.5h0.7M61 195h0.7M61 195.5h0.7M61 196h0.7M61 196.5h0.7M61 197h0.7M61 197.5h0.7M61 198h0.7M61 198.5h0.7M61 199.5h0.7M61 203.5h0.7M61 213h0.7M61 213.5h0.7M61 214h0.7M61 215h0.7M61 215.5h0.7M61 216h0.7M61 217h0.7M61 217.5h0.7M61 218h0.7M61 218.5h0.7M61 219h0.7M61 219.5h0.7M61 220h0.7M61 220.5h0.7M61 221h0.7M61 221.5h0.7M61 222h0.7M61 222.5h0.7M61 223h0.7M61 224h0.7M61 224.5h0.7M61 225h0.7M61 225.5h0.7M61 226.5h0.7M61 227.5h0.7M61.5 189h0.7M61.5 190h0.7M61.5 190.5h0.7M61.5 191h0.7M61.5 191.5h0.7M61.5 192h0.7M61.5 192.5h0.7M61.5 193h0.7M61.5 193.5h0.7M61.5 194h0.7M61.5 194.5h0.7M61.5 195h0.7M61.5 195.5h0.7M61.5 196h0.7M61.5 197h0.7M61.5 197.5h0.7M61.5 198h0.7M61.5 198.5h0.7M61.5 199h0.7M61.5 199.5h0.7M61.5 200h0.7M61.5 201h0.7M61.5 201.5h0.7M61.5 207h0.7M61.5 211h0.7M61.5 211.5h0.7M61.5 213h0.7M61.5 214h0.7M61.5 215h0.7M61.5 215.5h0.7M61.5 216h0.7M61.5 216.5h0.7M61.5 217h0.7M61.5 218h0.7M61.5 218.5h0.7M61.5 219h0.7M61.5 219.5h0.7M61.5 220h0.7M61.5 220.5h0.7M61.5 221h0.7M61.5 221.5h0.7M61.5 222h0.7M61.5 222.5h0.7M61.5 223h0.7M61.5 223.5h0.7M61.5 224.5h0.7M61.5 225h0.7M61.5 225.5h0.7M61.5 227h0.7M61.5 227.5h0.7M61.5 228.5h0.7M62 186.5h0.7M62 187h0.7M62 188.5h0.7M62 189h0.7M62 189.5h0.7M62 190.5h0.7M62 191h0.7M62 191.5h0.7M62 192h0.7M62 192.5h0.7M62 193h0.7M62 193.5h0.7M62 194h0.7M62 194.5h0.7M62 195h0.7M62 195.5h0.7M62 196h0.7M62 196.5h0.7M62 197h0.7M62 197.5h0.7M62 198h0.7M62 198.5h0.7M62 199.5h0.7M62 201h0.7M62 201.5h0.7M62 203h0.7M62 203.5h0.7M62 209.5h0.7M62 212.5h0.7M62 213.5h0.7M62 214h0.7M62 214.5h0.7M62 215h0.7M62 215.5h0.7M62 216h0.7M62 216.5h0.7M62 217h0.7M62 217.5h0.7M62 218h0.7M62 218.5h0.7M62 219.5h0.7M62 220h0.7M62 220.5h0.7M62 221h0.7M62 221.5h0.7M62 222h0.7M62 222.5h0.7M62 223h0.7M62 223.5h0.7M62 224h0.7M62 225.5h0.7M62 226.5h0.7M62 228h0.7M62.5 188.5h0.7M62.5 189h0.7M62.5 190h0.7M62.5 190.5h0.7M62.5 191h0.7M62.5 191.5h0.7M62.5 192h0.7M62.5 192.5h0.7M62.5 193h0.7M62.5 194h0.7M62.5 194.5h0.7M62.5 195h0.7M62.5 195.5h0.7M62.5 196h0.7M62.5 196.5h0.7M62.5 197.5h0.7M62.5 198h0.7M62.5 198.5h0.7M62.5 199h0.7M62.5 199.5h0.7M62.5 201.5h0.7M62.5 211.5h0.7M62.5 213.5h0.7M62.5 214h0.7M62.5 214.5h0.7M62.5 215h0.7M62.5 215.5h0.7M62.5 216h0.7M62.5 216.5h0.7M62.5 217h0.7M62.5 217.5h0.7M62.5 218.5h0.7M62.5 219h0.7M62.5 219.5h0.7M62.5 220h0.7M62.5 220.5h0.7M62.5 221h0.7M62.5 221.5h0.7M62.5 222.5h0.7M62.5 223h0.7M62.5 223.5h0.7M62.5 224h0.7M62.5 224.5h0.7M62.5 227h0.7M63 185h0.7M63 187.5h0.7M63 189.5h0.7M63 190h0.7M63 190.5h0.7M63 191h0.7M63 192.5h0.7M63 193.5h0.7M63 194h0.7M63 194.5h0.7M63 195.5h0.7M63 196h0.7M63 196.5h0.7M63 197h0.7M63 198.5h0.7M63 199h0.7M63 199.5h0.7M63 214.5h0.7M63 215h0.7M63 215.5h0.7M63 216.5h0.7M63 217h0.7M63 217.5h0.7M63 218h0.7M63 218.5h0.7M63 219h0.7M63 219.5h0.7M63 220h0.7M63 220.5h0.7M63 221h0.7M63 222h0.7M63 222.5h0.7M63 223h0.7M63 223.5h0.7M63 224.5h0.7M63 226.5h0.7M63.5 187.5h0.7M63.5 189h0.7M63.5 190h0.7M63.5 190.5h0.7M63.5 191h0.7M63.5 191.5h0.7M63.5 193h0.7M63.5 194h0.7M63.5 194.5h0.7M63.5 195h0.7M63.5 195.5h0.7M63.5 196h0.7M63.5 196.5h0.7M63.5 198h0.7M63.5 198.5h0.7M63.5 199.5h0.7M63.5 200h0.7M63.5 200.5h0.7M63.5 204h0.7M63.5 205h0.7M63.5 213h0.7M63.5 214h0.7M63.5 215h0.7M63.5 216h0.7M63.5 216.5h0.7M63.5 217.5h0.7M63.5 218h0.7M63.5 218.5h0.7M63.5 219h0.7M63.5 220h0.7M63.5 220.5h0.7M63.5 221h0.7M63.5 221.5h0.7M63.5 222h0.7M63.5 222.5h0.7M63.5 223h0.7M63.5 223.5h0.7M63.5 227h0.7M64 184h0.7M64 190h0.7M64 191h0.7M64 191.5h0.7M64 194h0.7M64 194.5h0.7M64 195h0.7M64 195.5h0.7M64 197.5h0.7M64 198h0.7M64 198.5h0.7M64 209.5h0.7M64 214h0.7M64 214.5h0.7M64 215h0.7M64 215.5h0.7M64 216h0.7M64 217.5h0.7M64 218h0.7M64 218.5h0.7M64 219.5h0.7M64 220h0.7M64 221h0.7M64 221.5h0.7M64 222h0.7M64 222.5h0.7M64 223h0.7M64 223.5h0.7M64.5 187.5h0.7M64.5 190h0.7M64.5 191.5h0.7M64.5 194h0.7M64.5 194.5h0.7M64.5 195h0.7M64.5 195.5h0.7M64.5 196.5h0.7M64.5 197h0.7M64.5 197.5h0.7M64.5 198h0.7M64.5 199.5h0.7M64.5 201h0.7M64.5 209.5h0.7M64.5 212h0.7M64.5 212.5h0.7M64.5 213.5h0.7M64.5 215h0.7M64.5 216h0.7M64.5 216.5h0.7M64.5 217.5h0.7M64.5 219.5h0.7M64.5 220.5h0.7M64.5 221h0.7M64.5 221.5h0.7M64.5 222h0.7M64.5 223h0.7M64.5 223.5h0.7M64.5 224.5h0.7M64.5 227h0.7M64.5 227.5h0.7M65 188h0.7M65 191h0.7M65 195h0.7M65 195.5h0.7M65 196h0.7M65 212.5h0.7M65 214h0.7M65 214.5h0.7M65 215h0.7M65 215.5h0.7M65 217h0.7M65 217.5h0.7M65 218.5h0.7M65 220h0.7M65 220.5h0.7M65 221.5h0.7M65 223h0.7M65.5 191.5h0.7M65.5 192.5h0.7M65.5 195h0.7M65.5 196h0.7M65.5 196.5h0.7M65.5 211h0.7M65.5 218h0.7M65.5 218.5h0.7M65.5 219.5h0.7M65.5 221.5h0.7M65.5 223.5h0.7M66 193.5h0.7M66 194h0.7M66 194.5h0.7M66 195.5h0.7M66 198h0.7M66 202h0.7M66 215h0.7M66 216.5h0.7M66 218.5h0.7M66 222.5h0.7M66 224.5h0.7M66.5 191h0.7M66.5 221h0.7M67 192h0.7M67 218.5h0.7M67 219h0.7M67 220.5h0.7M67.5 202h0.7M67.5 215.5h0.7M68 220h0.7M69 219.5h0.7M70 201h0.7" stroke="#000" stroke-width="0.7" fill="none" opacity="1"/>
<path d="M27.25 230.70H101.25" stroke="#888" stroke-width="1.3" stroke-dasharray="0.5 2.6" fill="none"/>
<path d="M25.05 156.25V229.50" stroke="#888" stroke-width="1.3" stroke-dasharray="0.5 3.4" fill="none"/>
<text x="32.77" y="236.50" font-size="3.6" text-anchor="middle" fill="#444">0.0</text>
<text x="42.38" y="236.50" font-size="3.6" text-anchor="middle" fill="#444">10²</text>
<text x="60.75" y="236.50" font-size="3.6" text-anchor="middle" fill="#444">10³</text>
<text x="76.20" y="236.50" font-size="3.6" text-anchor="middle" fill="#444">10⁴</text>
<text x="93.75" y="236.50" font-size="3.6" text-anchor="middle" fill="#444">10⁵</text>
<text x="23.65" y="162.15" font-size="3.6" text-anchor="end" fill="#444">10⁵</text>
<text x="23.65" y="179.23" font-size="3.6" text-anchor="end" fill="#444">10⁴</text>
<text x="23.65" y="196.08" font-size="3.6" text-anchor="end" fill="#444">10³</text>
<text x="23.65" y="214.52" font-size="3.6" text-anchor="end" fill="#444">10²</text>
<text x="23.65" y="222.12" font-size="3.6" text-anchor="end" fill="#444">0</text>
<rect x="26.25" y="154.25" width="75.00" height="75.25" fill="none" stroke="#6a6a6a" stroke-width="0.9"/>
<text x="28.05" y="159.45" font-size="7" text-anchor="start" fill="#111" stroke="#111" stroke-width="0.18">15.5</text>
<text x="86.05" y="159.45" font-size="7" text-anchor="start" fill="#111" stroke="#111" stroke-width="0.18">31.2</text>
<text x="86.05" y="228.50" font-size="7" text-anchor="start" fill="#111" stroke="#111" stroke-width="0.18">49.1</text>
<rect x="26.75" y="222.30" width="12.00" height="6.7" fill="#fff" opacity="0.9"/>
<text x="27.85" y="228.50" font-size="7" text-anchor="start" fill="#111" stroke="#111" stroke-width="0.18">4.0</text>
<path d="M33.00 239.50H93.50" stroke="#111" stroke-width="1.3" fill="none"/>
<path d="M97.50 239.50L92.50 237.20V241.80Z" fill="#111"/>
<text x="66.00" y="251.10" font-size="9.3" text-anchor="middle" fill="#111" stroke="#111" stroke-width="0.18">CD49d</text>
<path d="M12.50 221.00V161.30" stroke="#111" stroke-width="1.2" fill="none"/>
<path d="M12.50 157.50L10.10 162.30H14.90Z" fill="#111"/>
<text x="7.70" y="190.00" font-size="9.6" text-anchor="middle" fill="#111" stroke="#111" stroke-width="0.18" transform="rotate(-90 7.70 190.00)">CD127</text>
<path d="M166.50 154.20V228.75M140.60 197.00H215.00" stroke="#c0c0c0" stroke-width="0.75" fill="none"/>
<path d="M157 205h0.6M160 199h0.6M161 207.5h0.6M161.5 199.5h0.6M162.5 202.5h0.6M164 196h0.6M165 199h0.6M165.5 197h0.6M166 200.5h0.6M166.5 194h0.6M166.5 195h0.6M166.5 196.5h0.6M166.5 199h0.6M166.5 202.5h0.6M167.5 192.5h0.6M167.5 199h0.6M168 196h0.6M168 199.5h0.6M168 201h0.6M168.5 195h0.6M168.5 200.5h0.6M169 194h0.6M169 196h0.6M169.5 193h0.6M169.5 194.5h0.6M169.5 202h0.6M170 193h0.6M170 194.5h0.6M170.5 192.5h0.6M171 191h0.6M171 194h0.6M171 194.5h0.6M171 195.5h0.6M171 198.5h0.6M171 199.5h0.6M171.5 194.5h0.6M171.5 196.5h0.6M172 187h0.6M172 193h0.6M172 194h0.6M172 196h0.6M172 199.5h0.6M172.5 188.5h0.6M172.5 190.5h0.6M172.5 191.5h0.6M172.5 192.5h0.6M172.5 193h0.6M172.5 193.5h0.6M172.5 198h0.6M172.5 198.5h0.6M173 192.5h0.6M173 193h0.6M173 195.5h0.6M173.5 188h0.6M173.5 191.5h0.6M173.5 192h0.6M173.5 197h0.6M173.5 201h0.6M174 190h0.6M174 192h0.6M174 195.5h0.6M174 196.5h0.6M174 197h0.6M174.5 189.5h0.6M174.5 195h0.6M175 189.5h0.6M175 192h0.6M175 195h0.6M175.5 184.5h0.6M175.5 186.5h0.6M175.5 188h0.6M175.5 189.5h0.6M175.5 190.5h0.6M175.5 191h0.6M175.5 192h0.6M175.5 192.5h0.6M175.5 195h0.6M176 185.5h0.6M176 187h0.6M176 190h0.6M176 192.5h0.6M176 193.5h0.6M176 194h0.6M176.5 189h0.6M176.5 191h0.6M176.5 197h0.6M177 186h0.6M177 188.5h0.6M177 189h0.6M177 191.5h0.6M177 192h0.6M177 193h0.6M177.5 184h0.6M177.5 189.5h0.6M177.5 191h0.6M177.5 191.5h0.6M177.5 196h0.6M178 182h0.6M178 189h0.6M178 190h0.6M178 192h0.6M178.5 183.5h0.6M178.5 186h0.6M178.5 187.5h0.6M178.5 190h0.6M178.5 191h0.6M178.5 191.5h0.6M178.5 194h0.6M179 183h0.6M179 185.5h0.6M179 187h0.6M179 189.5h0.6M179 191.5h0.6M179 192h0.6M179 195.5h0.6M179.5 187h0.6M179.5 188h0.6M179.5 189h0.6M179.5 190h0.6M179.5 192h0.6M179.5 193.5h0.6M180 187.5h0.6M180 190.5h0.6M180 192h0.6M180.5 184.5h0.6M180.5 187h0.6M180.5 187.5h0.6M180.5 188.5h0.6M180.5 190h0.6M180.5 190.5h0.6M180.5 191h0.6M180.5 192h0.6M181 185.5h0.6M181 186h0.6M181 186.5h0.6M181 187h0.6M181 187.5h0.6M181 189h0.6M181 191.5h0.6M181 192h0.6M181.5 185h0.6M181.5 185.5h0.6M181.5 188h0.6M181.5 188.5h0.6M181.5 189.5h0.6M182 186h0.6M182 186.5h0.6M182 190.5h0.6M182.5 179h0.6M182.5 179.5h0.6M182.5 182h0.6M182.5 184h0.6M182.5 188h0.6M182.5 188.5h0.6M183 181.5h0.6M183 183.5h0.6M183 184h0.6M183 185h0.6M183 186.5h0.6M183 191h0.6M183.5 180h0.6M183.5 184.5h0.6M183.5 186h0.6M183.5 186.5h0.6M184 184h0.6M184 184.5h0.6M184 186.5h0.6M184 187h0.6M184 188h0.6M184 189.5h0.6M184.5 177h0.6M184.5 179.5h0.6M184.5 180h0.6M184.5 182.5h0.6M185 177.5h0.6M185 183h0.6M185 186.5h0.6M185 188h0.6M185.5 181h0.6M185.5 185.5h0.6M185.5 187h0.6M185.5 193.5h0.6M186 184h0.6M186 184.5h0.6M186.5 180h0.6M186.5 184.5h0.6M186.5 189.5h0.6M187 183.5h0.6M187 184.5h0.6M187 186h0.6M187 186.5h0.6M187.5 182h0.6M188.5 180.5h0.6M189.5 179h0.6M189.5 189.5h0.6M190.5 178.5h0.6M191 177h0.6M191 177.5h0.6M191.5 177.5h0.6M191.5 179h0.6M192 180.5h0.6M194.5 178h0.6" stroke="#444" stroke-width="0.6" fill="none" opacity="1"/>
<path d="M141 198h0.6M141 199h0.6M141 199.5h0.6M141 200h0.6M141 200.5h0.6M141 201h0.6M141 201.5h0.6M141 202h0.6M141 202.5h0.6M141 203h0.6M141 203.5h0.6M141 204h0.6M141 204.5h0.6M141 205h0.6M141 205.5h0.6M141 206h0.6M141 206.5h0.6M141 207h0.6M141 207.5h0.6M141 208h0.6M141 208.5h0.6M141 209h0.6M141 209.5h0.6M141 210h0.6M141 210.5h0.6M141 211h0.6M141 211.5h0.6M141 212h0.6M141 212.5h0.6M141 213h0.6M141 213.5h0.6M141 214h0.6M141 214.5h0.6M141 215h0.6M141 215.5h0.6M141 216h0.6M141 216.5h0.6M141 217h0.6M141 217.5h0.6M141 218h0.6M141 218.5h0.6M141 219h0.6M141 219.5h0.6M141 220h0.6M141 220.5h0.6M141 221h0.6M141 221.5h0.6M141 222h0.6M141 222.5h0.6M141 223h0.6M141 224.5h0.6M141 225h0.6M141 228h0.6M141.5 201.5h0.6M141.5 202h0.6M141.5 204.5h0.6M141.5 205h0.6M141.5 207h0.6M141.5 208h0.6M141.5 209h0.6M141.5 209.5h0.6M141.5 210.5h0.6M141.5 212h0.6M141.5 212.5h0.6M141.5 213h0.6M141.5 213.5h0.6M141.5 214h0.6M141.5 214.5h0.6M141.5 215h0.6M141.5 216h0.6M141.5 217h0.6M141.5 217.5h0.6M141.5 218.5h0.6M141.5 219.5h0.6M141.5 227h0.6M142 200.5h0.6M142 203h0.6M142 203.5h0.6M142 205h0.6M142 205.5h0.6M142 208h0.6M142 208.5h0.6M142 209.5h0.6M142 210h0.6M142 212h0.6M142 212.5h0.6M142 215h0.6M142 215.5h0.6M142 217.5h0.6M142 220.5h0.6M142 221h0.6M142 224.5h0.6M142.5 198.5h0.6M142.5 202.5h0.6M142.5 210h0.6M142.5 210.5h0.6M142.5 211h0.6M142.5 211.5h0.6M142.5 212h0.6M142.5 213.5h0.6M142.5 214.5h0.6M142.5 215.5h0.6M142.5 216h0.6M142.5 216.5h0.6M142.5 217h0.6M142.5 218h0.6M142.5 219.5h0.6M142.5 220.5h0.6M142.5 227h0.6M142.5 227.5h0.6M143 198h0.6M143 201.5h0.6M143 202h0.6M143 203.5h0.6M143 204h0.6M143 204.5h0.6M143 205h0.6M143 205.5h0.6M143 206.5h0.6M143 208h0.6M143 208.5h0.6M143 209h0.6M143 209.5h0.6M143 210.5h0.6M143 211.5h0.6M143 212.5h0.6M143 213h0.6M143 213.5h0.6M143 214h0.6M143 215.5h0.6M143 217h0.6M143 217.5h0.6M143 218h0.6M143 218.5h0.6M143 219h0.6M143 221.5h0.6M143 222.5h0.6M143 223h0.6M143 224h0.6M143 226.5h0.6M143 228h0.6M143.5 199.5h0.6M143.5 202.5h0.6M143.5 204.5h0.6M143.5 205h0.6M143.5 206h0.6M143.5 206.5h0.6M143.5 208h0.6M143.5 209h0.6M143.5 210h0.6M143.5 210.5h0.6M143.5 212h0.6M143.5 212.5h0.6M143.5 214h0.6M143.5 215h0.6M143.5 215.5h0.6M143.5 216.5h0.6M143.5 217h0.6M143.5 217.5h0.6M143.5 218.5h0.6M143.5 220.5h0.6M143.5 221h0.6M143.5 221.5h0.6M143.5 222h0.6M143.5 226.5h0.6M143.5 228h0.6M144 198h0.6M144 199.5h0.6M144 200h0.6M144 204h0.6M144 204.5h0.6M144 205h0.6M144 207.5h0.6M144 208h0.6M144 208.5h0.6M144 209h0.6M144 209.5h0.6M144 210h0.6M144 210.5h0.6M144 211h0.6M144 212h0.6M144 213h0.6M144 213.5h0.6M144 214.5h0.6M144 215h0.6M144 217h0.6M144 217.5h0.6M144 218h0.6M144 218.5h0.6M144 219h0.6M144 220h0.6M144 220.5h0.6M144 223.5h0.6M144 225.5h0.6M144.5 203h0.6M144.5 205h0.6M144.5 205.5h0.6M144.5 206h0.6M144.5 206.5h0.6M144.5 207h0.6M144.5 208h0.6M144.5 208.5h0.6M144.5 209h0.6M144.5 209.5h0.6M144.5 210h0.6M144.5 210.5h0.6M144.5 211h0.6M144.5 211.5h0.6M144.5 212h0.6M144.5 212.5h0.6M144.5 213h0.6M144.5 214h0.6M144.5 215h0.6M144.5 215.5h0.6M144.5 216h0.6M144.5 216.5h0.6M144.5 217h0.6M144.5 217.5h0.6M144.5 218.5h0.6M144.5 219h0.6M144.5 219.5h0.6M144.5 221h0.6M144.5 222h0.6M144.5 226.5h0.6M145 197.5h0.6M145 201.5h0.6M145 202h0.6M145 202.5h0.6M145 203h0.6M145 203.5h0.6M145 204h0.6M145 204.5h0.6M145 205h0.6M145 205.5h0.6M145 206h0.6M145 206.5h0.6M145 207h0.6M145 207.5h0.6M145 208h0.6M145 209h0.6M145 209.5h0.6M145 210h0.6M145 210.5h0.6M145 211h0.6M145 211.5h0.6M145 212h0.6M145 212.5h0.6M145 213h0.6M145 213.5h0.6M145 214h0.6M145 214.5h0.6M145 215.5h0.6M145 216h0.6M145 217h0.6M145 217.5h0.6M145 218h0.6M145 219h0.6M145 220h0.6M145 220.5h0.6M145 221h0.6M145 221.5h0.6M145 222h0.6M145 224h0.6M145 225h0.6M145 226h0.6M145.5 200h0.6M145.5 200.5h0.6M145.5 201.5h0.6M145.5 204h0.6M145.5 205h0.6M145.5 206h0.6M145.5 207h0.6M145.5 207.5h0.6M145.5 208h0.6M145.5 209.5h0.6M145.5 210h0.6M145.5 210.5h0.6M145.5 211.5h0.6M145.5 212h0.6M145.5 213h0.6M145.5 213.5h0.6M145.5 214h0.6M145.5 214.5h0.6M145.5 215.5h0.6M145.5 216.5h0.6M145.5 218h0.6M145.5 219.5h0.6M145.5 220h0.6M145.5 221h0.6M145.5 222.5h0.6M145.5 223.5h0.6M145.5 224.5h0.6M145.5 227h0.6M146 194h0.6M146 201h0.6M146 202h0.6M146 202.5h0.6M146 203h0.6M146 204h0.6M146 204.5h0.6M146 206h0.6M146 206.5h0.6M146 207h0.6M146 207.5h0.6M146 208.5h0.6M146 209h0.6M146 209.5h0.6M146 210h0.6M146 211h0.6M146 211.5h0.6M146 212h0.6M146 212.5h0.6M146 214h0.6M146 214.5h0.6M146 215h0.6M146 215.5h0.6M146 216h0.6M146 216.5h0.6M146 217h0.6M146 218.5h0.6M146 219h0.6M146 219.5h0.6M146 220h0.6M146 221h0.6M146 222h0.6M146 223.5h0.6M146.5 199h0.6M146.5 200h0.6M146.5 201.5h0.6M146.5 202h0.6M146.5 202.5h0.6M146.5 203.5h0.6M146.5 204h0.6M146.5 204.5h0.6M146.5 205h0.6M146.5 205.5h0.6M146.5 206h0.6M146.5 207h0.6M146.5 207.5h0.6M146.5 208h0.6M146.5 208.5h0.6M146.5 209h0.6M146.5 209.5h0.6M146.5 210h0.6M146.5 210.5h0.6M146.5 211h0.6M146.5 211.5h0.6M146.5 212h0.6M146.5 213h0.6M146.5 213.5h0.6M146.5 214h0.6M146.5 214.5h0.6M146.5 215h0.6M146.5 215.5h0.6M146.5 216h0.6M146.5 216.5h0.6M146.5 217h0.6M146.5 217.5h0.6M146.5 218h0.6M146.5 218.5h0.6M146.5 220h0.6M146.5 220.5h0.6M146.5 221h0.6M146.5 224h0.6M146.5 224.5h0.6M146.5 225h0.6M146.5 228h0.6M147 199.5h0.6M147 203.5h0.6M147 204h0.6M147 205.5h0.6M147 206h0.6M147 206.5h0.6M147 208h0.6M147 208.5h0.6M147 209h0.6M147 209.5h0.6M147 210h0.6M147 211h0.6M147 211.5h0.6M147 212h0.6M147 212.5h0.6M147 213h0.6M147 214h0.6M147 214.5h0.6M147 215h0.6M147 216.5h0.6M147 217h0.6M147 217.5h0.6M147 218h0.6M147 219h0.6M147 220.5h0.6M147 222h0.6M147 222.5h0.6M147 224h0.6M147 226.5h0.6M147 228h0.6M147.5 201.5h0.6M147.5 204.5h0.6M147.5 205h0.6M147.5 205.5h0.6M147.5 206.5h0.6M147.5 207h0.6M147.5 208h0.6M147.5 208.5h0.6M147.5 209h0.6M147.5 209.5h0.6M147.5 210h0.6M147.5 210.5h0.6M147.5 211h0.6M147.5 211.5h0.6M147.5 212h0.6M147.5 212.5h0.6M147.5 213.5h0.6M147.5 214h0.6M147.5 215.5h0.6M147.5 216h0.6M147.5 216.5h0.6M147.5 217.5h0.6M147.5 218h0.6M147.5 218.5h0.6M147.5 219h0.6M147.5 220h0.6M147.5 220.5h0.6M147.5 221.5h0.6M147.5 223h0.6M147.5 223.5h0.6M148 201h0.6M148 202h0.6M148 203h0.6M148 204h0.6M148 204.5h0.6M148 205h0.6M148 205.5h0.6M148 206.5h0.6M148 207h0.6M148 207.5h0.6M148 208h0.6M148 208.5h0.6M148 209h0.6M148 210.5h0.6M148 211h0.6M148 211.5h0.6M148 212h0.6M148 213h0.6M148 214h0.6M148 214.5h0.6M148 215.5h0.6M148 216h0.6M148 216.5h0.6M148 217h0.6M148 219h0.6M148 219.5h0.6M148 220.5h0.6M148 221h0.6M148 224h0.6M148 227.5h0.6M148.5 199.5h0.6M148.5 201.5h0.6M148.5 202h0.6M148.5 203h0.6M148.5 203.5h0.6M148.5 204.5h0.6M148.5 205.5h0.6M148.5 206h0.6M148.5 207h0.6M148.5 207.5h0.6M148.5 208.5h0.6M148.5 209.5h0.6M148.5 210h0.6M148.5 210.5h0.6M148.5 211.5h0.6M148.5 212h0.6M148.5 212.5h0.6M148.5 213h0.6M148.5 213.5h0.6M148.5 214h0.6M148.5 214.5h0.6M148.5 215h0.6M148.5 215.5h0.6M148.5 216h0.6M148.5 216.5h0.6M148.5 217h0.6M148.5 217.5h0.6M148.5 218h0.6M148.5 219h0.6M148.5 220h0.6M148.5 220.5h0.6M148.5 221h0.6M148.5 221.5h0.6M148.5 222h0.6M148.5 223.5h0.6M148.5 224h0.6M148.5 227h0.6M149 198.5h0.6M149 201.5h0.6M149 202h0.6M149 202.5h0.6M149 203h0.6M149 205.5h0.6M149 206h0.6M149 206.5h0.6M149 207h0.6M149 207.5h0.6M149 208h0.6M149 208.5h0.6M149 209.5h0.6M149 210h0.6M149 210.5h0.6M149 211h0.6M149 211.5h0.6M149 212h0.6M149 212.5h0.6M149 213h0.6M149 213.5h0.6M149 214.5h0.6M149 215h0.6M149 215.5h0.6M149 216h0.6M149 217h0.6M149 217.5h0.6M149 218h0.6M149 218.5h0.6M149 220h0.6M149 220.5h0.6M149 221h0.6M149 221.5h0.6M149 222h0.6M149.5 193h0.6M149.5 198h0.6M149.5 201.5h0.6M149.5 203h0.6M149.5 203.5h0.6M149.5 204.5h0.6M149.5 205.5h0.6M149.5 206.5h0.6M149.5 207h0.6M149.5 207.5h0.6M149.5 208h0.6M149.5 208.5h0.6M149.5 209h0.6M149.5 209.5h0.6M149.5 210h0.6M149.5 210.5h0.6M149.5 212h0.6M149.5 213h0.6M149.5 213.5h0.6M149.5 214h0.6M149.5 214.5h0.6M149.5 215h0.6M149.5 215.5h0.6M149.5 216h0.6M149.5 216.5h0.6M149.5 217.5h0.6M149.5 219h0.6M149.5 219.5h0.6M149.5 220h0.6M149.5 221h0.6M149.5 222.5h0.6M149.5 223h0.6M149.5 225h0.6M150 198.5h0.6M150 199.5h0.6M150 201h0.6M150 202h0.6M150 204h0.6M150 204.5h0.6M150 205.5h0.6M150 206.5h0.6M150 208h0.6M150 208.5h0.6M150 209h0.6M150 209.5h0.6M150 210h0.6M150 210.5h0.6M150 211h0.6M150 212h0.6M150 213h0.6M150 213.5h0.6M150 214h0.6M150 214.5h0.6M150 215h0.6M150 215.5h0.6M150 216.5h0.6M150 217h0.6M150 218h0.6M150 218.5h0.6M150 219h0.6M150 221h0.6M150 222h0.6M150 222.5h0.6M150 223h0.6M150 224h0.6M150 225h0.6M150.5 195h0.6M150.5 197h0.6M150.5 198h0.6M150.5 199.5h0.6M150.5 200h0.6M150.5 201.5h0.6M150.5 202.5h0.6M150.5 203.5h0.6M150.5 204.5h0.6M150.5 205h0.6M150.5 205.5h0.6M150.5 206h0.6M150.5 207.5h0.6M150.5 208h0.6M150.5 208.5h0.6M150.5 209.5h0.6M150.5 210h0.6M150.5 210.5h0.6M150.5 211h0.6M150.5 211.5h0.6M150.5 212h0.6M150.5 212.5h0.6M150.5 213h0.6M150.5 213.5h0.6M150.5 214h0.6M150.5 215h0.6M150.5 215.5h0.6M150.5 216h0.6M150.5 216.5h0.6M150.5 217h0.6M150.5 217.5h0.6M150.5 218.5h0.6M150.5 219.5h0.6M150.5 220h0.6M150.5 221h0.6M150.5 222.5h0.6M150.5 224h0.6M150.5 226h0.6M150.5 228h0.6M151 198h0.6M151 199h0.6M151 200.5h0.6M151 201h0.6M151 201.5h0.6M151 203.5h0.6M151 204.5h0.6M151 205h0.6M151 205.5h0.6M151 206h0.6M151 206.5h0.6M151 207.5h0.6M151 208h0.6M151 208.5h0.6M151 209h0.6M151 209.5h0.6M151 210h0.6M151 210.5h0.6M151 211h0.6M151 211.5h0.6M151 212h0.6M151 212.5h0.6M151 213h0.6M151 213.5h0.6M151 214.5h0.6M151 215h0.6M151 215.5h0.6M151 216h0.6M151 216.5h0.6M151 217h0.6M151 217.5h0.6M151 218h0.6M151 218.5h0.6M151 219.5h0.6M151 220h0.6M151 220.5h0.6M151 221h0.6M151 221.5h0.6M151 223h0.6M151 223.5h0.6M151 224.5h0.6M151 225h0.6M151 226.5h0.6M151 227.5h0.6M151.5 197h0.6M151.5 199h0.6M151.5 199.5h0.6M151.5 200.5h0.6M151.5 201h0.6M151.5 201.5h0.6M151.5 202h0.6M151.5 202.5h0.6M151.5 203h0.6M151.5 203.5h0.6M151.5 204h0.6M151.5 204.5h0.6M151.5 205h0.6M151.5 205.5h0.6M151.5 206h0.6M151.5 207h0.6M151.5 207.5h0.6M151.5 208h0.6M151.5 208.5h0.6M151.5 209h0.6M151.5 209.5h0.6M151.5 210h0.6M151.5 210.5h0.6M151.5 211h0.6M151.5 211.5h0.6M151.5 212.5h0.6M151.5 213h0.6M151.5 213.5h0.6M151.5 214h0.6M151.5 214.5h0.6M151.5 215h0.6M151.5 215.5h0.6M151.5 216h0.6M151.5 216.5h0.6M151.5 217h0.6M151.5 217.5h0.6M151.5 218.5h0.6M151.5 219h0.6M151.5 219.5h0.6M151.5 220h0.6M151.5 220.5h0.6M151.5 221h0.6M151.5 222h0.6M151.5 223.5h0.6M151.5 224h0.6M151.5 225.5h0.6M151.5 226h0.6M151.5 227h0.6M152 194.5h0.6M152 195.5h0.6M152 196h0.6M152 200h0.6M152 200.5h0.6M152 201h0.6M152 201.5h0.6M152 202h0.6M152 203h0.6M152 204h0.6M152 205.5h0.6M152 206h0.6M152 206.5h0.6M152 207h0.6M152 207.5h0.6M152 208h0.6M152 209h0.6M152 209.5h0.6M152 210h0.6M152 211h0.6M152 211.5h0.6M152 212h0.6M152 212.5h0.6M152 213.5h0.6M152 214h0.6M152 214.5h0.6M152 215h0.6M152 216h0.6M152 217.5h0.6M152 218h0.6M152 218.5h0.6M152 219h0.6M152 219.5h0.6M152 221h0.6M152 221.5h0.6M152 224h0.6M152 224.5h0.6M152 226h0.6M152 228h0.6M152.5 201.5h0.6M152.5 202h0.6M152.5 202.5h0.6M152.5 203h0.6M152.5 204h0.6M152.5 206h0.6M152.5 206.5h0.6M152.5 207h0.6M152.5 207.5h0.6M152.5 208h0.6M152.5 208.5h0.6M152.5 209h0.6M152.5 209.5h0.6M152.5 210.5h0.6M152.5 211h0.6M152.5 211.5h0.6M152.5 212h0.6M152.5 212.5h0.6M152.5 213h0.6M152.5 213.5h0.6M152.5 214h0.6M152.5 214.5h0.6M152.5 215h0.6M152.5 216h0.6M152.5 216.5h0.6M152.5 217h0.6M152.5 217.5h0.6M152.5 218h0.6M152.5 219h0.6M152.5 219.5h0.6M152.5 220h0.6M152.5 220.5h0.6M152.5 221.5h0.6M152.5 222h0.6M152.5 222.5h0.6M152.5 223.5h0.6M152.5 224.5h0.6M153 200h0.6M153 201h0.6M153 202h0.6M153 202.5h0.6M153 203.5h0.6M153 204h0.6M153 204.5h0.6M153 205h0.6M153 205.5h0.6M153 206h0.6M153 206.5h0.6M153 207h0.6M153 207.5h0.6M153 208h0.6M153 208.5h0.6M153 209h0.6M153 209.5h0.6M153 210h0.6M153 210.5h0.6M153 211.5h0.6M153 212h0.6M153 212.5h0.6M153 213h0.6M153 213.5h0.6M153 214.5h0.6M153 215h0.6M153 215.5h0.6M153 216h0.6M153 216.5h0.6M153 217h0.6M153 217.5h0.6M153 218.5h0.6M153 219h0.6M153 219.5h0.6M153 220h0.6M153 220.5h0.6M153 221.5h0.6M153 222h0.6M153 222.5h0.6M153 226h0.6M153 227h0.6M153 228h0.6M153.5 190h0.6M153.5 197h0.6M153.5 198h0.6M153.5 199.5h0.6M153.5 200h0.6M153.5 200.5h0.6M153.5 201.5h0.6M153.5 202.5h0.6M153.5 203h0.6M153.5 204h0.6M153.5 204.5h0.6M153.5 205h0.6M153.5 205.5h0.6M153.5 206h0.6M153.5 207h0.6M153.5 207.5h0.6M153.5 208h0.6M153.5 208.5h0.6M153.5 209h0.6M153.5 209.5h0.6M153.5 210h0.6M153.5 211h0.6M153.5 211.5h0.6M153.5 212h0.6M153.5 212.5h0.6M153.5 213.5h0.6M153.5 214h0.6M153.5 214.5h0.6M153.5 215h0.6M153.5 215.5h0.6M153.5 216h0.6M153.5 217h0.6M153.5 217.5h0.6M153.5 218h0.6M153.5 218.5h0.6M153.5 219h0.6M153.5 219.5h0.6M153.5 220.5h0.6M153.5 221h0.6M153.5 225h0.6M153.5 225.5h0.6M153.5 228h0.6M154 199.5h0.6M154 200h0.6M154 200.5h0.6M154 201.5h0.6M154 202h0.6M154 203h0.6M154 203.5h0.6M154 204h0.6M154 204.5h0.6M154 206h0.6M154 206.5h0.6M154 207.5h0.6M154 208h0.6M154 208.5h0.6M154 209h0.6M154 209.5h0.6M154 210h0.6M154 210.5h0.6M154 211h0.6M154 211.5h0.6M154 212h0.6M154 212.5h0.6M154 213h0.6M154 213.5h0.6M154 214h0.6M154 214.5h0.6M154 215.5h0.6M154 216h0.6M154 216.5h0.6M154 217h0.6M154 217.5h0.6M154 218h0.6M154 218.5h0.6M154 219h0.6M154 219.5h0.6M154 221.5h0.6M154 222h0.6M154 223.5h0.6M154 224h0.6M154 227h0.6M154.5 197h0.6M154.5 197.5h0.6M154.5 198.5h0.6M154.5 199h0.6M154.5 200h0.6M154.5 202h0.6M154.5 202.5h0.6M154.5 203.5h0.6M154.5 204.5h0.6M154.5 205h0.6M154.5 206.5h0.6M154.5 207h0.6M154.5 207.5h0.6M154.5 208h0.6M154.5 208.5h0.6M154.5 209h0.6M154.5 209.5h0.6M154.5 210h0.6M154.5 210.5h0.6M154.5 211h0.6M154.5 211.5h0.6M154.5 212h0.6M154.5 212.5h0.6M154.5 213.5h0.6M154.5 214h0.6M154.5 214.5h0.6M154.5 215h0.6M154.5 216.5h0.6M154.5 217h0.6M154.5 217.5h0.6M154.5 218.5h0.6M154.5 219h0.6M154.5 219.5h0.6M154.5 220.5h0.6M154.5 221h0.6M154.5 222h0.6M154.5 223.5h0.6M154.5 224h0.6M154.5 224.5h0.6M154.5 227h0.6M154.5 228h0.6M155 196h0.6M155 197h0.6M155 199h0.6M155 200.5h0.6M155 201h0.6M155 202.5h0.6M155 203h0.6M155 203.5h0.6M155 205h0.6M155 205.5h0.6M155 206h0.6M155 206.5h0.6M155 207h0.6M155 207.5h0.6M155 208.5h0.6M155 209h0.6M155 209.5h0.6M155 210h0.6M155 210.5h0.6M155 211h0.6M155 211.5h0.6M155 212h0.6M155 212.5h0.6M155 213h0.6M155 213.5h0.6M155 214h0.6M155 214.5h0.6M155 215h0.6M155 215.5h0.6M155 216h0.6M155 216.5h0.6M155 217h0.6M155 217.5h0.6M155 218h0.6M155 218.5h0.6M155 219h0.6M155 220h0.6M155 220.5h0.6M155 221h0.6M155 222h0.6M155 223h0.6M155 225h0.6M155 226.5h0.6M155 228h0.6M155.5 199.5h0.6M155.5 200h0.6M155.5 200.5h0.6M155.5 201.5h0.6M155.5 202h0.6M155.5 204h0.6M155.5 204.5h0.6M155.5 205h0.6M155.5 205.5h0.6M155.5 206h0.6M155.5 206.5h0.6M155.5 207h0.6M155.5 207.5h0.6M155.5 208h0.6M155.5 208.5h0.6M155.5 209h0.6M155.5 210h0.6M155.5 210.5h0.6M155.5 211h0.6M155.5 211.5h0.6M155.5 212h0.6M155.5 212.5h0.6M155.5 213h0.6M155.5 213.5h0.6M155.5 214.5h0.6M155.5 215h0.6M155.5 215.5h0.6M155.5 216h0.6M155.5 217.5h0.6M155.5 218.5h0.6M155.5 219h0.6M155.5 219.5h0.6M155.5 221h0.6M155.5 222h0.6M155.5 225.5h0.6M155.5 227h0.6M156 198h0.6M156 202.5h0.6M156 204h0.6M156 204.5h0.6M156 206h0.6M156 206.5h0.6M156 207h0.6M156 207.5h0.6M156 208h0.6M156 208.5h0.6M156 209h0.6M156 209.5h0.6M156 210h0.6M156 210.5h0.6M156 211h0.6M156 211.5h0.6M156 212h0.6M156 212.5h0.6M156 213h0.6M156 213.5h0.6M156 214.5h0.6M156 215h0.6M156 215.5h0.6M156 216h0.6M156 216.5h0.6M156 217h0.6M156 217.5h0.6M156 218.5h0.6M156 219h0.6M156 220h0.6M156 221h0.6M156 221.5h0.6M156 222h0.6M156 222.5h0.6M156 223.5h0.6M156 224h0.6M156 225.5h0.6M156 228h0.6M156.5 198.5h0.6M156.5 202h0.6M156.5 204.5h0.6M156.5 205.5h0.6M156.5 206h0.6M156.5 206.5h0.6M156.5 207h0.6M156.5 207.5h0.6M156.5 208h0.6M156.5 208.5h0.6M156.5 209h0.6M156.5 209.5h0.6M156.5 210h0.6M156.5 211h0.6M156.5 211.5h0.6M156.5 212h0.6M156.5 212.5h0.6M156.5 213h0.6M156.5 213.5h0.6M156.5 214h0.6M156.5 214.5h0.6M156.5 215h0.6M156.5 215.5h0.6M156.5 216h0.6M156.5 216.5h0.6M156.5 217h0.6M156.5 217.5h0.6M156.5 218.5h0.6M156.5 219h0.6M156.5 219.5h0.6M156.5 220.5h0.6M156.5 221h0.6M156.5 221.5h0.6M156.5 222.5h0.6M156.5 224h0.6M156.5 226.5h0.6M157 200.5h0.6M157 202h0.6M157 203h0.6M157 203.5h0.6M157 204h0.6M157 204.5h0.6M157 205h0.6M157 205.5h0.6M157 206h0.6M157 206.5h0.6M157 207h0.6M157 208h0.6M157 208.5h0.6M157 209h0.6M157 209.5h0.6M157 210h0.6M157 210.5h0.6M157 211h0.6M157 211.5h0.6M157 212h0.6M157 212.5h0.6M157 213h0.6M157 213.5h0.6M157 214h0.6M157 214.5h0.6M157 215h0.6M157 215.5h0.6M157 216h0.6M157 216.5h0.6M157 217h0.6M157 217.5h0.6M157 218.5h0.6M157 220h0.6M157 221.5h0.6M157 222.5h0.6M157 223h0.6M157 225h0.6M157 225.5h0.6M157.5 198h0.6M157.5 199.5h0.6M157.5 200.5h0.6M157.5 201.5h0.6M157.5 202h0.6M157.5 204h0.6M157.5 204.5h0.6M157.5 205h0.6M157.5 205.5h0.6M157.5 206h0.6M157.5 206.5h0.6M157.5 207h0.6M157.5 207.5h0.6M157.5 208h0.6M157.5 209h0.6M157.5 209.5h0.6M157.5 210h0.6M157.5 210.5h0.6M157.5 211h0.6M157.5 211.5h0.6M157.5 212h0.6M157.5 212.5h0.6M157.5 213h0.6M157.5 213.5h0.6M157.5 214h0.6M157.5 214.5h0.6M157.5 215h0.6M157.5 215.5h0.6M157.5 216h0.6M157.5 216.5h0.6M157.5 217h0.6M157.5 218h0.6M157.5 218.5h0.6M157.5 219h0.6M157.5 219.5h0.6M157.5 220h0.6M157.5 220.5h0.6M157.5 221h0.6M157.5 221.5h0.6M157.5 222h0.6M157.5 224h0.6M157.5 226.5h0.6M157.5 227h0.6M157.5 227.5h0.6M157.5 228h0.6M158 196h0.6M158 197h0.6M158 201h0.6M158 202h0.6M158 202.5h0.6M158 203h0.6M158 203.5h0.6M158 204h0.6M158 204.5h0.6M158 205h0.6M158 205.5h0.6M158 206h0.6M158 206.5h0.6M158 207h0.6M158 207.5h0.6M158 208h0.6M158 208.5h0.6M158 209h0.6M158 210h0.6M158 211h0.6M158 211.5h0.6M158 212h0.6M158 212.5h0.6M158 213h0.6M158 213.5h0.6M158 214.5h0.6M158 215h0.6M158 215.5h0.6M158 216h0.6M158 216.5h0.6M158 217h0.6M158 217.5h0.6M158 218h0.6M158 218.5h0.6M158 219h0.6M158 220.5h0.6M158 221.5h0.6M158 222h0.6M158 223h0.6M158 223.5h0.6M158 226.5h0.6M158 227.5h0.6M158.5 195h0.6M158.5 199h0.6M158.5 199.5h0.6M158.5 200h0.6M158.5 200.5h0.6M158.5 203h0.6M158.5 204.5h0.6M158.5 205h0.6M158.5 206h0.6M158.5 206.5h0.6M158.5 207h0.6M158.5 207.5h0.6M158.5 208h0.6M158.5 208.5h0.6M158.5 209h0.6M158.5 209.5h0.6M158.5 210h0.6M158.5 210.5h0.6M158.5 211h0.6M158.5 211.5h0.6M158.5 212h0.6M158.5 212.5h0.6M158.5 213h0.6M158.5 213.5h0.6M158.5 214h0.6M158.5 214.5h0.6M158.5 215h0.6M158.5 216h0.6M158.5 216.5h0.6M158.5 217h0.6M158.5 217.5h0.6M158.5 218h0.6M158.5 218.5h0.6M158.5 219h0.6M158.5 219.5h0.6M158.5 220h0.6M158.5 220.5h0.6M158.5 222h0.6M158.5 222.5h0.6M158.5 223h0.6M158.5 224.5h0.6M158.5 225.5h0.6M158.5 226.5h0.6M158.5 228h0.6M159 203h0.6M159 203.5h0.6M159 204.5h0.6M159 205h0.6M159 205.5h0.6M159 206h0.6M159 206.5h0.6M159 207h0.6M159 207.5h0.6M159 208h0.6M159 208.5h0.6M159 210h0.6M159 210.5h0.6M159 211h0.6M159 211.5h0.6M159 212h0.6M159 212.5h0.6M159 213h0.6M159 213.5h0.6M159 214h0.6M159 214.5h0.6M159 215h0.6M159 215.5h0.6M159 216h0.6M159 217h0.6M159 217.5h0.6M159 218h0.6M159 219.5h0.6M159 220h0.6M159 221h0.6M159 223.5h0.6M159 225h0.6M159 228h0.6M159.5 199.5h0.6M159.5 200h0.6M159.5 200.5h0.6M159.5 202h0.6M159.5 202.5h0.6M159.5 203h0.6M159.5 203.5h0.6M159.5 204h0.6M159.5 204.5h0.6M159.5 205h0.6M159.5 205.5h0.6M159.5 207h0.6M159.5 207.5h0.6M159.5 208h0.6M159.5 208.5h0.6M159.5 209h0.6M159.5 209.5h0.6M159.5 210h0.6M159.5 210.5h0.6M159.5 211h0.6M159.5 211.5h0.6M159.5 212h0.6M159.5 212.5h0.6M159.5 213h0.6M159.5 213.5h0.6M159.5 214h0.6M159.5 214.5h0.6M159.5 215h0.6M159.5 215.5h0.6M159.5 216h0.6M159.5 216.5h0.6M159.5 217h0.6M159.5 217.5h0.6M159.5 218.5h0.6M159.5 219h0.6M159.5 219.5h0.6M159.5 220h0.6M159.5 220.5h0.6M159.5 221h0.6M159.5 222h0.6M159.5 222.5h0.6M160 198h0.6M160 201.5h0.6M160 202h0.6M160 203h0.6M160 204h0.6M160 205h0.6M160 205.5h0.6M160 206h0.6M160 206.5h0.6M160 207h0.6M160 207.5h0.6M160 208h0.6M160 208.5h0.6M160 209h0.6M160 209.5h0.6M160 210h0.6M160 210.5h0.6M160 211h0.6M160 211.5h0.6M160 212h0.6M160 212.5h0.6M160 213h0.6M160 213.5h0.6M160 215h0.6M160 215.5h0.6M160 216h0.6M160 216.5h0.6M160 217h0.6M160 217.5h0.6M160 218h0.6M160 218.5h0.6M160 220h0.6M160 220.5h0.6M160 222h0.6M160 223.5h0.6M160 225h0.6M160 227.5h0.6M160.5 201h0.6M160.5 202h0.6M160.5 203h0.6M160.5 203.5h0.6M160.5 204h0.6M160.5 204.5h0.6M160.5 205h0.6M160.5 206h0.6M160.5 206.5h0.6M160.5 207.5h0.6M160.5 208h0.6M160.5 208.5h0.6M160.5 209h0.6M160.5 209.5h0.6M160.5 210h0.6M160.5 210.5h0.6M160.5 211h0.6M160.5 211.5h0.6M160.5 212h0.6M160.5 212.5h0.6M160.5 213h0.6M160.5 214h0.6M160.5 215h0.6M160.5 215.5h0.6M160.5 216h0.6M160.5 216.5h0.6M160.5 217h0.6M160.5 217.5h0.6M160.5 218h0.6M160.5 218.5h0.6M160.5 219.5h0.6M160.5 220h0.6M160.5 220.5h0.6M160.5 221h0.6M160.5 221.5h0.6M160.5 222h0.6M160.5 223.5h0.6M160.5 225h0.6M160.5 225.5h0.6M160.5 227h0.6M161 195h0.6M161 201.5h0.6M161 202.5h0.6M161 203h0.6M161 203.5h0.6M161 205.5h0.6M161 206h0.6M161 206.5h0.6M161 207h0.6M161 208h0.6M161 209h0.6M161 209.5h0.6M161 210h0.6M161 210.5h0.6M161 211.5h0.6M161 212h0.6M161 212.5h0.6M161 213h0.6M161 213.5h0.6M161 214h0.6M161 214.5h0.6M161 215.5h0.6M161 216h0.6M161 216.5h0.6M161 217h0.6M161 217.5h0.6M161 218h0.6M161 218.5h0.6M161 219h0.6M161 219.5h0.6M161 220h0.6M161 220.5h0.6M161 221h0.6M161 222.5h0.6M161 223h0.6M161 224h0.6M161 224.5h0.6M161 225h0.6M161 228h0.6M161.5 194h0.6M161.5 200h0.6M161.5 201h0.6M161.5 203.5h0.6M161.5 204h0.6M161.5 204.5h0.6M161.5 205.5h0.6M161.5 206.5h0.6M161.5 207.5h0.6M161.5 208h0.6M161.5 208.5h0.6M161.5 209h0.6M161.5 209.5h0.6M161.5 210h0.6M161.5 210.5h0.6M161.5 211h0.6M161.5 211.5h0.6M161.5 212h0.6M161.5 212.5h0.6M161.5 213h0.6M161.5 214h0.6M161.5 214.5h0.6M161.5 215h0.6M161.5 215.5h0.6M161.5 216h0.6M161.5 217.5h0.6M161.5 218h0.6M161.5 219h0.6M161.5 220.5h0.6M161.5 221h0.6M161.5 221.5h0.6M161.5 222h0.6M161.5 222.5h0.6M161.5 228h0.6M162 199h0.6M162 199.5h0.6M162 200h0.6M162 201.5h0.6M162 203h0.6M162 203.5h0.6M162 205h0.6M162 205.5h0.6M162 206h0.6M162 208h0.6M162 209h0.6M162 209.5h0.6M162 210h0.6M162 210.5h0.6M162 211h0.6M162 212.5h0.6M162 213h0.6M162 213.5h0.6M162 214h0.6M162 215h0.6M162 215.5h0.6M162 216h0.6M162 217h0.6M162 217.5h0.6M162 218h0.6M162 219h0.6M162 219.5h0.6M162 220.5h0.6M162 221.5h0.6M162 222h0.6M162 223.5h0.6M162 224.5h0.6M162.5 201h0.6M162.5 203h0.6M162.5 204h0.6M162.5 204.5h0.6M162.5 205.5h0.6M162.5 206.5h0.6M162.5 207h0.6M162.5 207.5h0.6M162.5 208h0.6M162.5 209h0.6M162.5 209.5h0.6M162.5 210h0.6M162.5 210.5h0.6M162.5 211.5h0.6M162.5 212.5h0.6M162.5 213h0.6M162.5 213.5h0.6M162.5 214.5h0.6M162.5 215h0.6M162.5 215.5h0.6M162.5 216h0.6M162.5 216.5h0.6M162.5 217h0.6M162.5 217.5h0.6M162.5 219h0.6M162.5 219.5h0.6M162.5 220h0.6M162.5 220.5h0.6M162.5 221h0.6M162.5 222h0.6M162.5 225.5h0.6M162.5 226h0.6M163 188.5h0.6M163 199.5h0.6M163 201.5h0.6M163 202h0.6M163 203.5h0.6M163 204.5h0.6M163 205.5h0.6M163 206.5h0.6M163 208h0.6M163 208.5h0.6M163 209.5h0.6M163 210.5h0.6M163 211h0.6M163 211.5h0.6M163 212h0.6M163 212.5h0.6M163 214h0.6M163 214.5h0.6M163 217h0.6M163 217.5h0.6M163 218h0.6M163 218.5h0.6M163 219h0.6M163 219.5h0.6M163 221h0.6M163 221.5h0.6M163 222h0.6M163 223h0.6M163.5 202.5h0.6M163.5 203.5h0.6M163.5 205h0.6M163.5 205.5h0.6M163.5 206.5h0.6M163.5 207.5h0.6M163.5 208h0.6M163.5 209h0.6M163.5 209.5h0.6M163.5 210h0.6M163.5 211.5h0.6M163.5 213h0.6M163.5 213.5h0.6M163.5 214h0.6M163.5 214.5h0.6M163.5 215.5h0.6M163.5 216h0.6M163.5 216.5h0.6M163.5 217h0.6M163.5 217.5h0.6M163.5 219.5h0.6M163.5 221h0.6M163.5 222.5h0.6M163.5 224h0.6M163.5 224.5h0.6M164 201h0.6M164 202h0.6M164 203.5h0.6M164 204h0.6M164 204.5h0.6M164 206h0.6M164 207h0.6M164 207.5h0.6M164 209h0.6M164 211.5h0.6M164 212h0.6M164 212.5h0.6M164 213h0.6M164 213.5h0.6M164 214h0.6M164 214.5h0.6M164 215h0.6M164 215.5h0.6M164 216h0.6M164 216.5h0.6M164 217h0.6M164 218h0.6M164 218.5h0.6M164 219h0.6M164 219.5h0.6M164 220.5h0.6M164 221h0.6M164 221.5h0.6M164 223h0.6M164.5 204h0.6M164.5 204.5h0.6M164.5 205h0.6M164.5 205.5h0.6M164.5 206.5h0.6M164.5 207h0.6M164.5 208.5h0.6M164.5 209h0.6M164.5 209.5h0.6M164.5 210.5h0.6M164.5 211h0.6M164.5 212.5h0.6M164.5 213h0.6M164.5 213.5h0.6M164.5 214.5h0.6M164.5 215h0.6M164.5 216h0.6M164.5 216.5h0.6M164.5 217h0.6M164.5 218h0.6M164.5 218.5h0.6M164.5 219h0.6M164.5 223h0.6M164.5 223.5h0.6M164.5 228h0.6M165 199h0.6M165 200h0.6M165 201.5h0.6M165 202h0.6M165 205h0.6M165 205.5h0.6M165 206.5h0.6M165 207h0.6M165 208h0.6M165 208.5h0.6M165 209.5h0.6M165 210h0.6M165 211.5h0.6M165 212h0.6M165 212.5h0.6M165 213h0.6M165 214h0.6M165 214.5h0.6M165 215h0.6M165 215.5h0.6M165 216h0.6M165 216.5h0.6M165 217h0.6M165 217.5h0.6M165 219h0.6M165 219.5h0.6M165 220h0.6M165 221.5h0.6M165 222h0.6M165 223.5h0.6M165 224.5h0.6M165 227h0.6M165 228h0.6M165.5 197h0.6M165.5 200.5h0.6M165.5 203h0.6M165.5 203.5h0.6M165.5 204h0.6M165.5 204.5h0.6M165.5 206.5h0.6M165.5 207h0.6M165.5 207.5h0.6M165.5 208h0.6M165.5 209.5h0.6M165.5 210h0.6M165.5 211h0.6M165.5 212h0.6M165.5 212.5h0.6M165.5 214.5h0.6M165.5 215h0.6M165.5 216h0.6M165.5 216.5h0.6M165.5 217.5h0.6M165.5 219.5h0.6M165.5 220h0.6M165.5 222h0.6M165.5 224h0.6M165.5 225h0.6M166 197.5h0.6M166 205.5h0.6M166 208h0.6M166 209h0.6M166 209.5h0.6M166 210h0.6M166 210.5h0.6M166 211.5h0.6M166 212h0.6M166 212.5h0.6M166 213h0.6M166 213.5h0.6M166 214h0.6M166 216h0.6M166 217h0.6M166 218h0.6M166 219h0.6M166 219.5h0.6M166 222h0.6M166 222.5h0.6M166 225.5h0.6M166 228h0.6M166.5 205h0.6M166.5 205.5h0.6M166.5 208h0.6M166.5 209h0.6M166.5 209.5h0.6M166.5 210.5h0.6M166.5 211h0.6M166.5 212.5h0.6M166.5 213h0.6M166.5 214h0.6M166.5 214.5h0.6M166.5 215.5h0.6M166.5 217.5h0.6M166.5 220.5h0.6M166.5 221.5h0.6M166.5 223h0.6M166.5 223.5h0.6M167 201h0.6M167 205.5h0.6M167 206h0.6M167 207.5h0.6M167 209h0.6M167 210.5h0.6M167 211h0.6M167 211.5h0.6M167 212h0.6M167 212.5h0.6M167 213h0.6M167 213.5h0.6M167 214.5h0.6M167 217.5h0.6M167 218h0.6M167 218.5h0.6M167 219h0.6M167 219.5h0.6M167 220.5h0.6M167 221.5h0.6M167 222.5h0.6M167 223.5h0.6M167 224.5h0.6M167.5 203h0.6M167.5 204.5h0.6M167.5 205h0.6M167.5 207h0.6M167.5 207.5h0.6M167.5 208h0.6M167.5 208.5h0.6M167.5 209h0.6M167.5 211.5h0.6M167.5 212h0.6M167.5 213.5h0.6M167.5 214.5h0.6M167.5 215h0.6M167.5 216.5h0.6M168 201.5h0.6M168 205h0.6M168 206.5h0.6M168 207h0.6M168 207.5h0.6M168 210h0.6M168 211h0.6M168 211.5h0.6M168 212.5h0.6M168 213h0.6M168 214.5h0.6M168 216h0.6M168 216.5h0.6M168 217h0.6M168 217.5h0.6M168 218h0.6M168 220h0.6M168 222h0.6M168 225h0.6M168 225.5h0.6M168 228h0.6M168.5 203.5h0.6M168.5 204.5h0.6M168.5 206.5h0.6M168.5 208.5h0.6M168.5 209.5h0.6M168.5 210.5h0.6M168.5 211h0.6M168.5 211.5h0.6M168.5 212h0.6M168.5 214.5h0.6M168.5 215.5h0.6M168.5 217h0.6M168.5 220h0.6M168.5 225h0.6M168.5 226h0.6M168.5 227.5h0.6M169 201.5h0.6M169 202.5h0.6M169 204h0.6M169 204.5h0.6M169 205.5h0.6M169 207.5h0.6M169 208h0.6M169 208.5h0.6M169 209h0.6M169 209.5h0.6M169 211h0.6M169 211.5h0.6M169 213.5h0.6M169 214h0.6M169 216.5h0.6M169 217.5h0.6M169 218.5h0.6M169 221h0.6M169 222h0.6M169 223.5h0.6M169.5 195.5h0.6M169.5 204.5h0.6M169.5 206h0.6M169.5 206.5h0.6M169.5 208h0.6M169.5 211h0.6M169.5 212h0.6M169.5 212.5h0.6M169.5 213h0.6M169.5 215h0.6M169.5 215.5h0.6M169.5 216h0.6M169.5 217h0.6M169.5 218h0.6M169.5 218.5h0.6M169.5 219h0.6M169.5 220h0.6M169.5 220.5h0.6M169.5 223.5h0.6M169.5 226h0.6M170 207.5h0.6M170 209.5h0.6M170 210h0.6M170 211h0.6M170 211.5h0.6M170 213.5h0.6M170 215.5h0.6M170 217h0.6M170 218h0.6M170 219.5h0.6M170 222h0.6M170 222.5h0.6M170 227h0.6M170 228h0.6M170.5 200h0.6M170.5 204h0.6M170.5 204.5h0.6M170.5 205h0.6M170.5 205.5h0.6M170.5 209.5h0.6M170.5 218h0.6M170.5 219.5h0.6M170.5 220h0.6M170.5 224.5h0.6M171 202h0.6M171 206.5h0.6M171 210h0.6M171 211.5h0.6M171 213.5h0.6M171 214h0.6M171 214.5h0.6M171 215.5h0.6M171 218h0.6M171 219.5h0.6M171 220.5h0.6M171 223.5h0.6M171 227.5h0.6M171.5 210h0.6M171.5 215h0.6M171.5 218h0.6M171.5 221h0.6M172 208h0.6M172 208.5h0.6M172 210h0.6M172 210.5h0.6M172 212h0.6M172 212.5h0.6M172 213.5h0.6M172 214h0.6M172 216h0.6M172 217h0.6M172 217.5h0.6M172 219h0.6M172 219.5h0.6M172 223.5h0.6M172.5 203h0.6M172.5 207h0.6M172.5 209.5h0.6M172.5 210h0.6M172.5 210.5h0.6M172.5 212.5h0.6M172.5 213.5h0.6M172.5 214h0.6M172.5 214.5h0.6M172.5 215h0.6M172.5 215.5h0.6M172.5 216.5h0.6M172.5 217h0.6M172.5 218h0.6M172.5 218.5h0.6M173 211h0.6M173 211.5h0.6M173 213h0.6M173 214h0.6M173 216h0.6M173 218.5h0.6M173 223h0.6M173.5 210.5h0.6M173.5 213h0.6M173.5 217h0.6M173.5 227.5h0.6M174 212.5h0.6M174 213.5h0.6M174 214h0.6M174 215.5h0.6M174 217h0.6M174 218h0.6M174 221h0.6M174.5 208h0.6M174.5 208.5h0.6M174.5 211h0.6M174.5 211.5h0.6M174.5 215h0.6M174.5 218h0.6M174.5 219h0.6M174.5 224.5h0.6M175 206.5h0.6M175 208.5h0.6M175 211h0.6M175 211.5h0.6M175 212h0.6M175 214h0.6M175 217.5h0.6M175.5 206h0.6M175.5 220h0.6M175.5 228h0.6M176 216h0.6M176 217h0.6M176.5 200h0.6M176.5 208.5h0.6M176.5 211.5h0.6M176.5 216h0.6M176.5 218h0.6M176.5 220h0.6M177 218.5h0.6M177.5 200.5h0.6M177.5 211h0.6M177.5 214h0.6M177.5 219h0.6M177.5 219.5h0.6M178 196h0.6M178 208.5h0.6M178 209.5h0.6M178 217.5h0.6M178.5 205.5h0.6M178.5 206h0.6M178.5 215.5h0.6M178.5 217h0.6M179 209.5h0.6M182 210.5h0.6M182.5 213.5h0.6M182.5 219.5h0.6M184 203h0.6M184.5 199.5h0.6M184.5 217h0.6M188 213.5h0.6" stroke="#000" stroke-width="0.6" fill="none" opacity="1"/>
<path d="M141 195.5h0.7M141 197h0.7M141 197.5h0.7M141 198.5h0.7M141 199h0.7M141 199.5h0.7M141 200h0.7M141 200.5h0.7M141 201h0.7M141 201.5h0.7M141 202h0.7M141 202.5h0.7M141 203h0.7M141 203.5h0.7M141 204h0.7M141 204.5h0.7M141 205h0.7M141 205.5h0.7M141 206h0.7M141 206.5h0.7M141 207h0.7M141 207.5h0.7M141 208h0.7M141 208.5h0.7M141 209h0.7M141 209.5h0.7M141 210h0.7M141 210.5h0.7M141 211h0.7M141 211.5h0.7M141 212h0.7M141 212.5h0.7M141 213h0.7M141 213.5h0.7M141 214h0.7M141 215h0.7M141.5 200h0.7M141.5 200.5h0.7M141.5 201h0.7M141.5 202h0.7M141.5 202.5h0.7M141.5 203h0.7M141.5 203.5h0.7M141.5 204h0.7M141.5 204.5h0.7M141.5 205h0.7M141.5 205.5h0.7M141.5 206.5h0.7M141.5 207h0.7M141.5 207.5h0.7M141.5 208h0.7M141.5 209h0.7M141.5 209.5h0.7M141.5 210h0.7M141.5 210.5h0.7M141.5 211h0.7M141.5 211.5h0.7M141.5 212.5h0.7M142 198.5h0.7M142 199h0.7M142 200.5h0.7M142 201h0.7M142 201.5h0.7M142 202h0.7M142 202.5h0.7M142 203h0.7M142 203.5h0.7M142 204h0.7M142 204.5h0.7M142 205h0.7M142 205.5h0.7M142 206h0.7M142 206.5h0.7M142 207h0.7M142 207.5h0.7M142 208h0.7M142 208.5h0.7M142 209h0.7M142 209.5h0.7M142 210h0.7M142 210.5h0.7M142 211.5h0.7M142 212h0.7M142 212.5h0.7M142 213h0.7M142.5 196.5h0.7M142.5 200.5h0.7M142.5 201h0.7M142.5 202h0.7M142.5 202.5h0.7M142.5 203.5h0.7M142.5 204h0.7M142.5 204.5h0.7M142.5 205h0.7M142.5 205.5h0.7M142.5 206h0.7M142.5 206.5h0.7M142.5 207h0.7M142.5 207.5h0.7M142.5 208h0.7M142.5 208.5h0.7M142.5 209h0.7M142.5 209.5h0.7M142.5 210h0.7M142.5 210.5h0.7M142.5 211h0.7M142.5 211.5h0.7M142.5 212h0.7M142.5 213.5h0.7M142.5 214h0.7M143 198.5h0.7M143 199.5h0.7M143 200h0.7M143 200.5h0.7M143 201h0.7M143 201.5h0.7M143 202h0.7M143 202.5h0.7M143 203h0.7M143 203.5h0.7M143 204h0.7M143 204.5h0.7M143 205h0.7M143 205.5h0.7M143 206h0.7M143 206.5h0.7M143 207h0.7M143 207.5h0.7M143 208h0.7M143 208.5h0.7M143 209h0.7M143 209.5h0.7M143 210h0.7M143 210.5h0.7M143 211h0.7M143 211.5h0.7M143 212h0.7M143 213h0.7M143 213.5h0.7M143.5 197.5h0.7M143.5 199.5h0.7M143.5 200.5h0.7M143.5 201.5h0.7M143.5 202h0.7M143.5 202.5h0.7M143.5 203h0.7M143.5 204h0.7M143.5 204.5h0.7M143.5 205h0.7M143.5 205.5h0.7M143.5 206h0.7M143.5 206.5h0.7M143.5 207h0.7M143.5 207.5h0.7M143.5 208h0.7M143.5 208.5h0.7M143.5 209h0.7M143.5 209.5h0.7M143.5 210h0.7M143.5 210.5h0.7M143.5 211h0.7M143.5 211.5h0.7M143.5 212h0.7M143.5 212.5h0.7M143.5 214h0.7M143.5 214.5h0.7M143.5 216h0.7M143.5 217h0.7M144 196h0.7M144 199.5h0.7M144 200h0.7M144 200.5h0.7M144 201h0.7M144 201.5h0.7M144 202h0.7M144 202.5h0.7M144 203h0.7M144 203.5h0.7M144 204h0.7M144 204.5h0.7M144 205h0.7M144 205.5h0.7M144 206h0.7M144 206.5h0.7M144 207h0.7M144 207.5h0.7M144 208h0.7M144 208.5h0.7M144 209h0.7M144 209.5h0.7M144 210h0.7M144 210.5h0.7M144 211h0.7M144 211.5h0.7M144 213.5h0.7M144 215.5h0.7M144.5 199.5h0.7M144.5 200.5h0.7M144.5 201.5h0.7M144.5 202h0.7M144.5 202.5h0.7M144.5 203h0.7M144.5 203.5h0.7M144.5 204h0.7M144.5 204.5h0.7M144.5 205h0.7M144.5 205.5h0.7M144.5 206h0.7M144.5 206.5h0.7M144.5 207h0.7M144.5 207.5h0.7M144.5 208h0.7M144.5 208.5h0.7M144.5 209h0.7M144.5 209.5h0.7M144.5 210h0.7M144.5 211h0.7M144.5 211.5h0.7M144.5 213h0.7M145 198h0.7M145 200.5h0.7M145 201h0.7M145 201.5h0.7M145 202h0.7M145 202.5h0.7M145 203h0.7M145 203.5h0.7M145 204h0.7M145 204.5h0.7M145 205h0.7M145 205.5h0.7M145 206h0.7M145 206.5h0.7M145 207h0.7M145 207.5h0.7M145 208h0.7M145 208.5h0.7M145 209h0.7M145 209.5h0.7M145 210h0.7M145 210.5h0.7M145 211h0.7M145 211.5h0.7M145 212h0.7M145.5 197.5h0.7M145.5 198h0.7M145.5 199.5h0.7M145.5 200h0.7M145.5 200.5h0.7M145.5 201h0.7M145.5 201.5h0.7M145.5 202h0.7M145.5 203h0.7M145.5 203.5h0.7M145.5 204h0.7M145.5 204.5h0.7M145.5 205h0.7M145.5 205.5h0.7M145.5 206h0.7M145.5 206.5h0.7M145.5 207h0.7M145.5 207.5h0.7M145.5 208h0.7M145.5 208.5h0.7M145.5 209h0.7M145.5 209.5h0.7M145.5 210h0.7M145.5 210.5h0.7M145.5 211.5h0.7M145.5 212.5h0.7M145.5 213h0.7M146 198h0.7M146 199.5h0.7M146 200.5h0.7M146 201h0.7M146 201.5h0.7M146 202h0.7M146 202.5h0.7M146 203h0.7M146 203.5h0.7M146 204h0.7M146 204.5h0.7M146 205h0.7M146 205.5h0.7M146 206h0.7M146 206.5h0.7M146 207h0.7M146 207.5h0.7M146 208h0.7M146 208.5h0.7M146 209h0.7M146 209.5h0.7M146 210h0.7M146 210.5h0.7M146 211h0.7M146 211.5h0.7M146 212h0.7M146 213h0.7M146 214h0.7M146.5 197.5h0.7M146.5 198h0.7M146.5 198.5h0.7M146.5 200h0.7M146.5 200.5h0.7M146.5 201h0.7M146.5 201.5h0.7M146.5 202h0.7M146.5 202.5h0.7M146.5 203h0.7M146.5 203.5h0.7M146.5 204h0.7M146.5 204.5h0.7M146.5 205h0.7M146.5 205.5h0.7M146.5 206h0.7M146.5 206.5h0.7M146.5 207h0.7M146.5 207.5h0.7M146.5 208h0.7M146.5 208.5h0.7M146.5 209h0.7M146.5 209.5h0.7M146.5 210h0.7M146.5 210.5h0.7M146.5 211h0.7M146.5 211.5h0.7M146.5 212h0.7M146.5 212.5h0.7M146.5 213h0.7M146.5 214h0.7M147 198.5h0.7M147 199.5h0.7M147 200h0.7M147 200.5h0.7M147 201h0.7M147 201.5h0.7M147 202h0.7M147 202.5h0.7M147 203h0.7M147 203.5h0.7M147 204h0.7M147 204.5h0.7M147 205h0.7M147 205.5h0.7M147 206h0.7M147 206.5h0.7M147 207h0.7M147 207.5h0.7M147 208h0.7M147 208.5h0.7M147 209h0.7M147 209.5h0.7M147 210h0.7M147 210.5h0.7M147 211h0.7M147 211.5h0.7M147 212h0.7M147 214h0.7M147 217h0.7M147.5 197.5h0.7M147.5 198h0.7M147.5 198.5h0.7M147.5 199h0.7M147.5 200h0.7M147.5 200.5h0.7M147.5 201.5h0.7M147.5 202h0.7M147.5 202.5h0.7M147.5 203h0.7M147.5 203.5h0.7M147.5 204h0.7M147.5 204.5h0.7M147.5 205h0.7M147.5 205.5h0.7M147.5 206h0.7M147.5 206.5h0.7M147.5 207h0.7M147.5 207.5h0.7M147.5 208h0.7M147.5 208.5h0.7M147.5 209h0.7M147.5 209.5h0.7M147.5 210h0.7M147.5 210.5h0.7M147.5 211h0.7M147.5 213h0.7M147.5 214.5h0.7M148 196.5h0.7M148 199h0.7M148 199.5h0.7M148 200h0.7M148 200.5h0.7M148 201h0.7M148 201.5h0.7M148 202h0.7M148 202.5h0.7M148 203h0.7M148 203.5h0.7M148 204h0.7M148 204.5h0.7M148 205h0.7M148 205.5h0.7M148 206h0.7M148 206.5h0.7M148 207h0.7M148 207.5h0.7M148 208h0.7M148 208.5h0.7M148 209h0.7M148 209.5h0.7M148 210h0.7M148 210.5h0.7M148 211h0.7M148 212h0.7M148 212.5h0.7M148 213h0.7M148 213.5h0.7M148 215.5h0.7M148.5 197.5h0.7M148.5 198h0.7M148.5 199.5h0.7M148.5 200h0.7M148.5 201h0.7M148.5 201.5h0.7M148.5 202h0.7M148.5 202.5h0.7M148.5 203h0.7M148.5 203.5h0.7M148.5 204h0.7M148.5 204.5h0.7M148.5 205h0.7M148.5 205.5h0.7M148.5 206h0.7M148.5 206.5h0.7M148.5 207h0.7M148.5 207.5h0.7M148.5 208h0.7M148.5 208.5h0.7M148.5 209h0.7M148.5 209.5h0.7M148.5 210h0.7M148.5 210.5h0.7M148.5 211h0.7M148.5 211.5h0.7M148.5 212.5h0.7M148.5 213h0.7M148.5 214h0.7M149 196.5h0.7M149 198.5h0.7M149 199.5h0.7M149 200h0.7M149 200.5h0.7M149 201.5h0.7M149 202h0.7M149 202.5h0.7M149 203h0.7M149 203.5h0.7M149 204h0.7M149 204.5h0.7M149 205h0.7M149 205.5h0.7M149 206h0.7M149 206.5h0.7M149 207h0.7M149 207.5h0.7M149 208h0.7M149 208.5h0.7M149 209h0.7M149 209.5h0.7M149 210h0.7M149 210.5h0.7M149 211h0.7M149 211.5h0.7M149 212h0.7M149 212.5h0.7M149 213h0.7M149 213.5h0.7M149 214h0.7M149.5 199h0.7M149.5 199.5h0.7M149.5 200h0.7M149.5 200.5h0.7M149.5 201h0.7M149.5 202h0.7M149.5 202.5h0.7M149.5 203h0.7M149.5 203.5h0.7M149.5 204h0.7M149.5 204.5h0.7M149.5 205h0.7M149.5 205.5h0.7M149.5 206h0.7M149.5 206.5h0.7M149.5 207h0.7M149.5 207.5h0.7M149.5 208h0.7M149.5 208.5h0.7M149.5 209h0.7M149.5 209.5h0.7M149.5 210h0.7M149.5 210.5h0.7M149.5 211h0.7M149.5 211.5h0.7M149.5 212h0.7M149.5 212.5h0.7M149.5 213h0.7M149.5 214h0.7M149.5 214.5h0.7M149.5 216h0.7M149.5 217h0.7M150 198.5h0.7M150 200h0.7M150 200.5h0.7M150 201h0.7M150 201.5h0.7M150 202h0.7M150 202.5h0.7M150 203h0.7M150 203.5h0.7M150 204h0.7M150 204.5h0.7M150 205h0.7M150 205.5h0.7M150 206h0.7M150 206.5h0.7M150 207h0.7M150 207.5h0.7M150 208h0.7M150 208.5h0.7M150 209h0.7M150 209.5h0.7M150 210h0.7M150 210.5h0.7M150 211h0.7M150 211.5h0.7M150 212h0.7M150 213.5h0.7M150 214.5h0.7M150 215.5h0.7M150 216h0.7M150.5 198h0.7M150.5 200h0.7M150.5 200.5h0.7M150.5 201h0.7M150.5 201.5h0.7M150.5 202h0.7M150.5 202.5h0.7M150.5 203h0.7M150.5 203.5h0.7M150.5 204h0.7M150.5 204.5h0.7M150.5 205h0.7M150.5 205.5h0.7M150.5 206h0.7M150.5 206.5h0.7M150.5 207h0.7M150.5 207.5h0.7M150.5 208h0.7M150.5 208.5h0.7M150.5 209h0.7M150.5 209.5h0.7M150.5 210h0.7M150.5 210.5h0.7M150.5 211h0.7M150.5 212h0.7M150.5 212.5h0.7M150.5 213h0.7M150.5 213.5h0.7M151 197.5h0.7M151 198.5h0.7M151 199h0.7M151 199.5h0.7M151 200h0.7M151 201h0.7M151 201.5h0.7M151 202h0.7M151 202.5h0.7M151 203h0.7M151 203.5h0.7M151 204h0.7M151 204.5h0.7M151 205h0.7M151 205.5h0.7M151 206h0.7M151 206.5h0.7M151 207h0.7M151 207.5h0.7M151 208h0.7M151 208.5h0.7M151 209h0.7M151 209.5h0.7M151 210h0.7M151 210.5h0.7M151 211h0.7M151 211.5h0.7M151 213h0.7M151 213.5h0.7M151 214h0.7M151.5 199h0.7M151.5 200h0.7M151.5 200.5h0.7M151.5 201h0.7M151.5 201.5h0.7M151.5 202h0.7M151.5 202.5h0.7M151.5 203h0.7M151.5 203.5h0.7M151.5 204h0.7M151.5 204.5h0.7M151.5 205h0.7M151.5 205.5h0.7M151.5 206h0.7M151.5 206.5h0.7M151.5 207h0.7M151.5 207.5h0.7M151.5 208h0.7M151.5 208.5h0.7M151.5 209h0.7M151.5 209.5h0.7M151.5 210h0.7M151.5 210.5h0.7M151.5 211h0.7M151.5 211.5h0.7M151.5 213.5h0.7M151.5 215h0.7M152 199.5h0.7M152 200h0.7M152 201h0.7M152 202h0.7M152 202.5h0.7M152 203h0.7M152 203.5h0.7M152 204h0.7M152 204.5h0.7M152 205h0.7M152 205.5h0.7M152 206h0.7M152 206.5h0.7M152 207h0.7M152 207.5h0.7M152 208h0.7M152 208.5h0.7M152 209h0.7M152 209.5h0.7M152 210h0.7M152 210.5h0.7M152 211h0.7M152 212h0.7M152 212.5h0.7M152 213h0.7M152 214.5h0.7M152 215h0.7M152.5 198h0.7M152.5 199h0.7M152.5 199.5h0.7M152.5 200h0.7M152.5 201h0.7M152.5 201.5h0.7M152.5 202h0.7M152.5 202.5h0.7M152.5 203h0.7M152.5 203.5h0.7M152.5 204h0.7M152.5 204.5h0.7M152.5 205h0.7M152.5 205.5h0.7M152.5 206h0.7M152.5 206.5h0.7M152.5 207h0.7M152.5 207.5h0.7M152.5 208h0.7M152.5 208.5h0.7M152.5 209h0.7M152.5 209.5h0.7M152.5 210h0.7M152.5 210.5h0.7M152.5 211h0.7M152.5 212h0.7M152.5 214h0.7M152.5 215h0.7M153 199.5h0.7M153 200h0.7M153 200.5h0.7M153 201h0.7M153 201.5h0.7M153 202h0.7M153 202.5h0.7M153 203h0.7M153 203.5h0.7M153 204h0.7M153 204.5h0.7M153 205h0.7M153 205.5h0.7M153 206h0.7M153 206.5h0.7M153 207h0.7M153 207.5h0.7M153 208h0.7M153 208.5h0.7M153 209h0.7M153 209.5h0.7M153 210h0.7M153 210.5h0.7M153 211h0.7M153 211.5h0.7M153 212h0.7M153 212.5h0.7M153 213h0.7M153 213.5h0.7M153 214h0.7M153 214.5h0.7M153.5 196.5h0.7M153.5 197.5h0.7M153.5 198.5h0.7M153.5 199h0.7M153.5 199.5h0.7M153.5 200h0.7M153.5 200.5h0.7M153.5 201h0.7M153.5 201.5h0.7M153.5 202h0.7M153.5 202.5h0.7M153.5 203h0.7M153.5 203.5h0.7M153.5 204h0.7M153.5 204.5h0.7M153.5 205h0.7M153.5 205.5h0.7M153.5 206h0.7M153.5 206.5h0.7M153.5 207h0.7M153.5 207.5h0.7M153.5 208h0.7M153.5 208.5h0.7M153.5 209h0.7M153.5 209.5h0.7M153.5 210h0.7M153.5 210.5h0.7M153.5 211.5h0.7M153.5 212h0.7M153.5 212.5h0.7M153.5 213.5h0.7M154 200h0.7M154 200.5h0.7M154 201h0.7M154 201.5h0.7M154 202h0.7M154 202.5h0.7M154 203h0.7M154 203.5h0.7M154 204h0.7M154 204.5h0.7M154 205h0.7M154 205.5h0.7M154 206h0.7M154 206.5h0.7M154 207h0.7M154 207.5h0.7M154 208h0.7M154 208.5h0.7M154 209h0.7M154 209.5h0.7M154 210h0.7M154 210.5h0.7M154 211h0.7M154 211.5h0.7M154 212h0.7M154 212.5h0.7M154 214h0.7M154 215.5h0.7M154.5 199h0.7M154.5 199.5h0.7M154.5 200.5h0.7M154.5 201h0.7M154.5 201.5h0.7M154.5 202h0.7M154.5 202.5h0.7M154.5 203h0.7M154.5 203.5h0.7M154.5 204h0.7M154.5 204.5h0.7M154.5 205h0.7M154.5 205.5h0.7M154.5 206h0.7M154.5 206.5h0.7M154.5 207h0.7M154.5 207.5h0.7M154.5 208h0.7M154.5 208.5h0.7M154.5 209h0.7M154.5 209.5h0.7M154.5 210h0.7M154.5 210.5h0.7M154.5 211h0.7M154.5 211.5h0.7M154.5 212h0.7M154.5 214h0.7M155 197.5h0.7M155 198.5h0.7M155 199h0.7M155 201h0.7M155 201.5h0.7M155 202h0.7M155 202.5h0.7M155 203h0.7M155 203.5h0.7M155 204h0.7M155 204.5h0.7M155 205h0.7M155 205.5h0.7M155 206h0.7M155 206.5h0.7M155 207h0.7M155 207.5h0.7M155 208h0.7M155 208.5h0.7M155 209h0.7M155 209.5h0.7M155 210h0.7M155 210.5h0.7M155 211h0.7M155 211.5h0.7M155 212h0.7M155 212.5h0.7M155 214h0.7M155.5 198h0.7M155.5 198.5h0.7M155.5 200.5h0.7M155.5 201h0.7M155.5 202h0.7M155.5 202.5h0.7M155.5 203h0.7M155.5 203.5h0.7M155.5 204h0.7M155.5 204.5h0.7M155.5 205h0.7M155.5 205.5h0.7M155.5 206h0.7M155.5 206.5h0.7M155.5 207h0.7M155.5 207.5h0.7M155.5 208h0.7M155.5 208.5h0.7M155.5 209h0.7M155.5 209.5h0.7M155.5 210h0.7M155.5 210.5h0.7M155.5 211h0.7M155.5 211.5h0.7M155.5 212h0.7M155.5 212.5h0.7M155.5 213h0.7M155.5 213.5h0.7M155.5 214h0.7M155.5 215h0.7M156 198.5h0.7M156 200.5h0.7M156 202h0.7M156 202.5h0.7M156 203h0.7M156 203.5h0.7M156 204h0.7M156 204.5h0.7M156 205h0.7M156 205.5h0.7M156 206h0.7M156 206.5h0.7M156 207h0.7M156 207.5h0.7M156 208h0.7M156 208.5h0.7M156 209h0.7M156 209.5h0.7M156 210h0.7M156 210.5h0.7M156 211h0.7M156 212h0.7M156 212.5h0.7M156 215h0.7M156 217h0.7M156.5 198h0.7M156.5 199.5h0.7M156.5 200.5h0.7M156.5 201h0.7M156.5 202h0.7M156.5 202.5h0.7M156.5 203h0.7M156.5 203.5h0.7M156.5 204h0.7M156.5 204.5h0.7M156.5 205h0.7M156.5 205.5h0.7M156.5 206h0.7M156.5 206.5h0.7M156.5 207h0.7M156.5 207.5h0.7M156.5 208h0.7M156.5 208.5h0.7M156.5 209h0.7M156.5 209.5h0.7M156.5 210.5h0.7M156.5 211h0.7M156.5 211.5h0.7M156.5 212h0.7M156.5 212.5h0.7M156.5 213h0.7M156.5 218.5h0.7M157 198.5h0.7M157 201h0.7M157 201.5h0.7M157 202h0.7M157 202.5h0.7M157 203h0.7M157 203.5h0.7M157 204h0.7M157 204.5h0.7M157 205h0.7M157 205.5h0.7M157 206h0.7M157 206.5h0.7M157 207h0.7M157 207.5h0.7M157 208h0.7M157 208.5h0.7M157 209h0.7M157 209.5h0.7M157 210h0.7M157 210.5h0.7M157 211h0.7M157 211.5h0.7M157 212.5h0.7M157 213h0.7M157 214h0.7M157 215.5h0.7M157.5 194.5h0.7M157.5 199.5h0.7M157.5 200h0.7M157.5 200.5h0.7M157.5 201h0.7M157.5 201.5h0.7M157.5 202h0.7M157.5 202.5h0.7M157.5 203h0.7M157.5 203.5h0.7M157.5 204h0.7M157.5 204.5h0.7M157.5 205h0.7M157.5 205.5h0.7M157.5 206h0.7M157.5 206.5h0.7M157.5 207h0.7M157.5 207.5h0.7M157.5 208h0.7M157.5 208.5h0.7M157.5 209h0.7M157.5 209.5h0.7M157.5 210h0.7M157.5 210.5h0.7M157.5 211h0.7M157.5 211.5h0.7M158 199h0.7M158 200h0.7M158 200.5h0.7M158 201.5h0.7M158 202h0.7M158 202.5h0.7M158 203.5h0.7M158 204h0.7M158 204.5h0.7M158 205h0.7M158 205.5h0.7M158 206h0.7M158 206.5h0.7M158 207h0.7M158 207.5h0.7M158 208h0.7M158 208.5h0.7M158 209h0.7M158 209.5h0.7M158 210.5h0.7M158 211h0.7M158 214.5h0.7M158.5 200.5h0.7M158.5 201h0.7M158.5 201.5h0.7M158.5 202h0.7M158.5 202.5h0.7M158.5 203h0.7M158.5 203.5h0.7M158.5 204h0.7M158.5 204.5h0.7M158.5 205h0.7M158.5 205.5h0.7M158.5 206h0.7M158.5 206.5h0.7M158.5 207h0.7M158.5 207.5h0.7M158.5 208h0.7M158.5 208.5h0.7M158.5 209h0.7M158.5 209.5h0.7M158.5 210h0.7M158.5 210.5h0.7M158.5 211h0.7M158.5 211.5h0.7M158.5 212h0.7M158.5 212.5h0.7M158.5 213h0.7M158.5 216h0.7M159 197h0.7M159 197.5h0.7M159 201h0.7M159 202h0.7M159 202.5h0.7M159 203h0.7M159 203.5h0.7M159 204h0.7M159 204.5h0.7M159 205h0.7M159 205.5h0.7M159 206h0.7M159 206.5h0.7M159 207h0.7M159 207.5h0.7M159 208h0.7M159 208.5h0.7M159 209h0.7M159 209.5h0.7M159 210h0.7M159 210.5h0.7M159 211h0.7M159 213.5h0.7M159 215.5h0.7M159.5 198h0.7M159.5 199.5h0.7M159.5 200h0.7M159.5 200.5h0.7M159.5 201h0.7M159.5 201.5h0.7M159.5 202.5h0.7M159.5 203h0.7M159.5 203.5h0.7M159.5 204h0.7M159.5 204.5h0.7M159.5 205h0.7M159.5 205.5h0.7M159.5 206h0.7M159.5 206.5h0.7M159.5 207h0.7M159.5 207.5h0.7M159.5 208h0.7M159.5 208.5h0.7M159.5 209h0.7M159.5 209.5h0.7M159.5 210h0.7M159.5 210.5h0.7M159.5 211h0.7M159.5 212h0.7M159.5 212.5h0.7M159.5 213.5h0.7M159.5 214h0.7M159.5 218h0.7M160 198h0.7M160 199h0.7M160 201h0.7M160 202h0.7M160 202.5h0.7M160 203h0.7M160 203.5h0.7M160 204h0.7M160 204.5h0.7M160 205h0.7M160 205.5h0.7M160 206h0.7M160 206.5h0.7M160 207h0.7M160 207.5h0.7M160 208h0.7M160 209h0.7M160 209.5h0.7M160 210h0.7M160 212h0.7M160 212.5h0.7M160 217h0.7M160.5 198h0.7M160.5 200.5h0.7M160.5 201.5h0.7M160.5 203h0.7M160.5 203.5h0.7M160.5 204h0.7M160.5 204.5h0.7M160.5 205h0.7M160.5 205.5h0.7M160.5 206h0.7M160.5 206.5h0.7M160.5 207h0.7M160.5 207.5h0.7M160.5 208h0.7M160.5 208.5h0.7M160.5 209h0.7M160.5 209.5h0.7M160.5 210h0.7M160.5 211.5h0.7M160.5 212.5h0.7M161 199.5h0.7M161 202h0.7M161 202.5h0.7M161 203h0.7M161 203.5h0.7M161 204h0.7M161 204.5h0.7M161 205h0.7M161 205.5h0.7M161 206h0.7M161 206.5h0.7M161 207.5h0.7M161 208h0.7M161 208.5h0.7M161 210h0.7M161 210.5h0.7M161 211.5h0.7M161 214h0.7M161.5 199.5h0.7M161.5 201.5h0.7M161.5 202h0.7M161.5 202.5h0.7M161.5 203h0.7M161.5 203.5h0.7M161.5 204h0.7M161.5 204.5h0.7M161.5 205h0.7M161.5 205.5h0.7M161.5 206h0.7M161.5 206.5h0.7M161.5 207h0.7M161.5 208h0.7M161.5 208.5h0.7M161.5 209h0.7M161.5 210h0.7M161.5 210.5h0.7M161.5 211h0.7M161.5 212h0.7M162 200.5h0.7M162 201h0.7M162 201.5h0.7M162 203h0.7M162 203.5h0.7M162 204h0.7M162 204.5h0.7M162 205.5h0.7M162 206h0.7M162 206.5h0.7M162 207h0.7M162 208h0.7M162 208.5h0.7M162 209h0.7M162 209.5h0.7M162 210h0.7M162 211h0.7M162 214.5h0.7M162.5 203h0.7M162.5 203.5h0.7M162.5 204h0.7M162.5 204.5h0.7M162.5 205h0.7M162.5 205.5h0.7M162.5 206h0.7M162.5 206.5h0.7M162.5 207h0.7M162.5 207.5h0.7M162.5 208h0.7M162.5 208.5h0.7M162.5 209h0.7M162.5 209.5h0.7M162.5 210h0.7M162.5 211h0.7M162.5 211.5h0.7M162.5 212.5h0.7M163 198.5h0.7M163 199h0.7M163 201.5h0.7M163 203.5h0.7M163 204h0.7M163 204.5h0.7M163 205.5h0.7M163 206h0.7M163 207.5h0.7M163 208h0.7M163 208.5h0.7M163 209h0.7M163 210h0.7M163 211h0.7M163 211.5h0.7M163 213.5h0.7M163.5 201h0.7M163.5 202.5h0.7M163.5 203h0.7M163.5 203.5h0.7M163.5 204h0.7M163.5 204.5h0.7M163.5 205h0.7M163.5 206.5h0.7M163.5 207h0.7M163.5 207.5h0.7M163.5 208h0.7M163.5 208.5h0.7M163.5 209h0.7M163.5 211h0.7M163.5 212.5h0.7M163.5 213h0.7M164 197h0.7M164 198h0.7M164 198.5h0.7M164 201.5h0.7M164 203h0.7M164 203.5h0.7M164 204h0.7M164 204.5h0.7M164 205h0.7M164 205.5h0.7M164 206h0.7M164 207h0.7M164 207.5h0.7M164 208h0.7M164 209h0.7M164 209.5h0.7M164 210h0.7M164 210.5h0.7M164 211.5h0.7M164.5 198.5h0.7M164.5 203h0.7M164.5 203.5h0.7M164.5 204h0.7M164.5 204.5h0.7M164.5 205.5h0.7M164.5 206h0.7M164.5 206.5h0.7M164.5 208h0.7M164.5 208.5h0.7M164.5 210.5h0.7M164.5 211.5h0.7M164.5 213h0.7M165 202h0.7M165 203h0.7M165 203.5h0.7M165 204.5h0.7M165 205h0.7M165 205.5h0.7M165 206h0.7M165 206.5h0.7M165 207.5h0.7M165 209h0.7M165 209.5h0.7M165 210.5h0.7M165.5 201h0.7M165.5 203h0.7M165.5 203.5h0.7M165.5 205.5h0.7M165.5 206h0.7M165.5 207h0.7M165.5 207.5h0.7M165.5 209.5h0.7M165.5 210h0.7M166 201h0.7M166 203h0.7M166 204.5h0.7M166 205.5h0.7M166 206h0.7M166 206.5h0.7M166 207h0.7M166 210h0.7M166 210.5h0.7M166.5 201.5h0.7M166.5 202.5h0.7M166.5 203h0.7M166.5 204.5h0.7M166.5 205h0.7M166.5 205.5h0.7M166.5 206.5h0.7M166.5 208h0.7M166.5 209.5h0.7M166.5 211h0.7M167 198h0.7M167 201.5h0.7M167 202h0.7M167 202.5h0.7M167 203h0.7M167 204.5h0.7M167 205.5h0.7M167 206.5h0.7M167 208h0.7M167 208.5h0.7M167 209.5h0.7M167 210h0.7M167 210.5h0.7M167 211h0.7M167.5 199h0.7M167.5 201.5h0.7M167.5 203h0.7M167.5 205.5h0.7M167.5 209.5h0.7M168 199.5h0.7M168 202h0.7M168 206.5h0.7M168 207h0.7M168 208h0.7M168 208.5h0.7M168 209.5h0.7M168 210.5h0.7M168.5 205h0.7M168.5 209h0.7M169 199.5h0.7M169 201.5h0.7M169 204.5h0.7M169 207.5h0.7M169.5 202h0.7M169.5 204h0.7M169.5 204.5h0.7M169.5 205.5h0.7M169.5 208h0.7M170 203h0.7M170 209.5h0.7M171 201.5h0.7M171 204.5h0.7M171.5 202.5h0.7M172 203h0.7M172.5 201.5h0.7M172.5 211.5h0.7M173 209h0.7M173.5 209.5h0.7M173.5 210.5h0.7M174.5 205.5h0.7M177 207.5h0.7M177.5 205.5h0.7M180 211h0.7" stroke="#000" stroke-width="0.7" fill="none" opacity="1"/>
<path d="M141.60 229.95H215.00" stroke="#888" stroke-width="1.3" stroke-dasharray="0.5 2.6" fill="none"/>
<path d="M139.40 156.20V228.75" stroke="#888" stroke-width="1.3" stroke-dasharray="0.5 3.4" fill="none"/>
<text x="147.07" y="235.75" font-size="3.6" text-anchor="middle" fill="#444">0.0</text>
<text x="156.60" y="235.75" font-size="3.6" text-anchor="middle" fill="#444">10²</text>
<text x="174.82" y="235.75" font-size="3.6" text-anchor="middle" fill="#444">10³</text>
<text x="190.15" y="235.75" font-size="3.6" text-anchor="middle" fill="#444">10⁴</text>
<text x="207.56" y="235.75" font-size="3.6" text-anchor="middle" fill="#444">10⁵</text>
<text x="138.00" y="162.03" font-size="3.6" text-anchor="end" fill="#444">10⁵</text>
<text x="138.00" y="178.96" font-size="3.6" text-anchor="end" fill="#444">10⁴</text>
<text x="138.00" y="195.66" font-size="3.6" text-anchor="end" fill="#444">10³</text>
<text x="138.00" y="213.92" font-size="3.6" text-anchor="end" fill="#444">10²</text>
<text x="138.00" y="221.45" font-size="3.6" text-anchor="end" fill="#444">0</text>
<rect x="140.60" y="154.20" width="74.40" height="74.55" fill="none" stroke="#6a6a6a" stroke-width="0.9"/>
<text x="142.40" y="159.40" font-size="7" text-anchor="start" fill="#111" stroke="#111" stroke-width="0.18">2.1</text>
<text x="199.80" y="159.40" font-size="7" text-anchor="start" fill="#111" stroke="#111" stroke-width="0.18">2.4</text>
<text x="199.80" y="227.75" font-size="7" text-anchor="start" fill="#111" stroke="#111" stroke-width="0.18">9.4</text>
<rect x="141.10" y="221.55" width="15.50" height="6.7" fill="#fff" opacity="0.9"/>
<text x="142.20" y="227.75" font-size="7" text-anchor="start" fill="#111" stroke="#111" stroke-width="0.18">85.8</text>
<path d="M144.50 239.50H204.00" stroke="#111" stroke-width="1.3" fill="none"/>
<path d="M208.00 239.50L203.00 237.20V241.80Z" fill="#111"/>
<text x="174.50" y="251.10" font-size="9.2" text-anchor="middle" fill="#111" stroke="#111" stroke-width="0.18">CD25</text>
<path d="M123.00 221.00V161.30" stroke="#111" stroke-width="1.2" fill="none"/>
<path d="M123.00 157.50L120.60 162.30H125.40Z" fill="#111"/>
<text x="117.70" y="190.00" font-size="9.6" text-anchor="middle" fill="#111" stroke="#111" stroke-width="0.18" transform="rotate(-90 117.70 190.00)">Foxp3</text>
<path d="M344.60 154.50V229.90M321.90 208.60H396.75" stroke="#c0c0c0" stroke-width="0.75" fill="none"/>
<path d="M327 190.5h0.65M329.5 216.5h0.65M330 215.5h0.65M330 217h0.65M330.5 211.5h0.65M330.5 212.5h0.65M330.5 216h0.65M331 215.5h0.65M331 217h0.65M331 217.5h0.65M331 220h0.65M331.5 213.5h0.65M331.5 217h0.65M331.5 219h0.65M331.5 220h0.65M332 214h0.65M332 215h0.65M332 215.5h0.65M332 218.5h0.65M332 220h0.65M332 220.5h0.65M332.5 210h0.65M332.5 213.5h0.65M332.5 215h0.65M332.5 215.5h0.65M332.5 216h0.65M332.5 216.5h0.65M332.5 217.5h0.65M332.5 218.5h0.65M332.5 219h0.65M332.5 219.5h0.65M332.5 224.5h0.65M333 208.5h0.65M333 210.5h0.65M333 212h0.65M333 213.5h0.65M333 214h0.65M333 215.5h0.65M333 216h0.65M333 217h0.65M333 217.5h0.65M333 218h0.65M333 219h0.65M333 220h0.65M333 221h0.65M333 224.5h0.65M333.5 212h0.65M333.5 212.5h0.65M333.5 213h0.65M333.5 214.5h0.65M333.5 215h0.65M333.5 215.5h0.65M333.5 216h0.65M333.5 216.5h0.65M333.5 217.5h0.65M333.5 218h0.65M333.5 219.5h0.65M333.5 220h0.65M333.5 222.5h0.65M333.5 224.5h0.65M334 212h0.65M334 212.5h0.65M334 214h0.65M334 214.5h0.65M334 215h0.65M334 216.5h0.65M334 217h0.65M334 217.5h0.65M334 218h0.65M334 219h0.65M334 219.5h0.65M334 220h0.65M334 221h0.65M334 222.5h0.65M334.5 210.5h0.65M334.5 211h0.65M334.5 212.5h0.65M334.5 213.5h0.65M334.5 214h0.65M334.5 214.5h0.65M334.5 215h0.65M334.5 215.5h0.65M334.5 217h0.65M334.5 217.5h0.65M334.5 218h0.65M334.5 218.5h0.65M334.5 219h0.65M334.5 219.5h0.65M334.5 220h0.65M334.5 221h0.65M334.5 221.5h0.65M334.5 222h0.65M335 208h0.65M335 211h0.65M335 212h0.65M335 212.5h0.65M335 213h0.65M335 214.5h0.65M335 215h0.65M335 216h0.65M335 216.5h0.65M335 217h0.65M335 217.5h0.65M335 218h0.65M335 218.5h0.65M335 219.5h0.65M335 220h0.65M335 220.5h0.65M335 221h0.65M335.5 211.5h0.65M335.5 213h0.65M335.5 213.5h0.65M335.5 214h0.65M335.5 214.5h0.65M335.5 215h0.65M335.5 215.5h0.65M335.5 216h0.65M335.5 216.5h0.65M335.5 217h0.65M335.5 217.5h0.65M335.5 218h0.65M335.5 218.5h0.65M335.5 219.5h0.65M335.5 220h0.65M335.5 220.5h0.65M335.5 221h0.65M335.5 221.5h0.65M335.5 222.5h0.65M335.5 223h0.65M335.5 223.5h0.65M336 210h0.65M336 210.5h0.65M336 213h0.65M336 213.5h0.65M336 214.5h0.65M336 215h0.65M336 215.5h0.65M336 216h0.65M336 216.5h0.65M336 217h0.65M336 217.5h0.65M336 218h0.65M336 218.5h0.65M336 219h0.65M336 219.5h0.65M336 220h0.65M336 220.5h0.65M336 221h0.65M336 221.5h0.65M336 225h0.65M336 225.5h0.65M336.5 209h0.65M336.5 210h0.65M336.5 211h0.65M336.5 212h0.65M336.5 212.5h0.65M336.5 214h0.65M336.5 214.5h0.65M336.5 215h0.65M336.5 215.5h0.65M336.5 216h0.65M336.5 216.5h0.65M336.5 217h0.65M336.5 217.5h0.65M336.5 218h0.65M336.5 218.5h0.65M336.5 219h0.65M336.5 219.5h0.65M336.5 220h0.65M336.5 220.5h0.65M336.5 221h0.65M336.5 221.5h0.65M336.5 222h0.65M336.5 222.5h0.65M337 211.5h0.65M337 212h0.65M337 212.5h0.65M337 213h0.65M337 213.5h0.65M337 214h0.65M337 214.5h0.65M337 215h0.65M337 215.5h0.65M337 216h0.65M337 216.5h0.65M337 217h0.65M337 217.5h0.65M337 218h0.65M337 218.5h0.65M337 219h0.65M337 219.5h0.65M337 220h0.65M337 220.5h0.65M337 221h0.65M337 222.5h0.65M337.5 212.5h0.65M337.5 213h0.65M337.5 213.5h0.65M337.5 214h0.65M337.5 214.5h0.65M337.5 215h0.65M337.5 215.5h0.65M337.5 216h0.65M337.5 216.5h0.65M337.5 217h0.65M337.5 217.5h0.65M337.5 218h0.65M337.5 218.5h0.65M337.5 219h0.65M337.5 219.5h0.65M337.5 220h0.65M337.5 220.5h0.65M337.5 221h0.65M337.5 221.5h0.65M337.5 222h0.65M337.5 222.5h0.65M337.5 223.5h0.65M338 210.5h0.65M338 211h0.65M338 212.5h0.65M338 213h0.65M338 213.5h0.65M338 214h0.65M338 214.5h0.65M338 215h0.65M338 215.5h0.65M338 216h0.65M338 216.5h0.65M338 217h0.65M338 217.5h0.65M338 218h0.65M338 218.5h0.65M338 219h0.65M338 219.5h0.65M338 220h0.65M338 220.5h0.65M338 221h0.65M338 221.5h0.65M338 222h0.65M338 223h0.65M338.5 205h0.65M338.5 209h0.65M338.5 212h0.65M338.5 213.5h0.65M338.5 214h0.65M338.5 214.5h0.65M338.5 215h0.65M338.5 215.5h0.65M338.5 216h0.65M338.5 216.5h0.65M338.5 217h0.65M338.5 217.5h0.65M338.5 218h0.65M338.5 218.5h0.65M338.5 219h0.65M338.5 219.5h0.65M338.5 220h0.65M338.5 220.5h0.65M338.5 221h0.65M338.5 222.5h0.65M339 212h0.65M339 212.5h0.65M339 214h0.65M339 214.5h0.65M339 215h0.65M339 216h0.65M339 217h0.65M339 217.5h0.65M339 218h0.65M339 219h0.65M339 219.5h0.65M339 220h0.65M339 220.5h0.65M339 221h0.65M339 221.5h0.65M339 222.5h0.65M339 223.5h0.65M339.5 210h0.65M339.5 214h0.65M339.5 214.5h0.65M339.5 215h0.65M339.5 215.5h0.65M339.5 216h0.65M339.5 216.5h0.65M339.5 217h0.65M339.5 218h0.65M339.5 218.5h0.65M339.5 219h0.65M339.5 219.5h0.65M339.5 221h0.65M339.5 221.5h0.65M339.5 222h0.65M339.5 222.5h0.65M339.5 223.5h0.65M340 207.5h0.65M340 211h0.65M340 213h0.65M340 214.5h0.65M340 215h0.65M340 215.5h0.65M340 216h0.65M340 216.5h0.65M340 217.5h0.65M340 218h0.65M340 221h0.65M340 223h0.65M340.5 192.5h0.65M340.5 210h0.65M340.5 212.5h0.65M340.5 214h0.65M340.5 214.5h0.65M340.5 215h0.65M340.5 215.5h0.65M340.5 217.5h0.65M340.5 218h0.65M340.5 218.5h0.65M340.5 220h0.65M340.5 221.5h0.65M341 207.5h0.65M341 214h0.65M341 214.5h0.65M341 217h0.65M341 218h0.65M341 218.5h0.65M341 227.5h0.65M341.5 214h0.65M341.5 215h0.65M341.5 216h0.65M341.5 216.5h0.65M341.5 217.5h0.65M341.5 219.5h0.65M342 213h0.65M342 215h0.65M342 217h0.65M342 218h0.65M342.5 206h0.65M342.5 212.5h0.65M342.5 214.5h0.65M342.5 226.5h0.65M343 216.5h0.65M343 219h0.65M343.5 217.5h0.65M343.5 219h0.65M344.5 215h0.65M344.5 219.5h0.65M347 192.5h0.65M347.5 214.5h0.65M371.5 190h0.65" stroke="#000" stroke-width="0.65" fill="none" opacity="1"/>
<path d="M322.90 231.10H396.75" stroke="#888" stroke-width="1.3" stroke-dasharray="0.5 2.6" fill="none"/>
<path d="M320.70 156.50V229.90" stroke="#888" stroke-width="1.3" stroke-dasharray="0.5 3.4" fill="none"/>
<text x="328.41" y="236.90" font-size="3.6" text-anchor="middle" fill="#444">0.0</text>
<text x="337.99" y="236.90" font-size="3.6" text-anchor="middle" fill="#444">10²</text>
<text x="356.33" y="236.90" font-size="3.6" text-anchor="middle" fill="#444">10³</text>
<text x="371.75" y="236.90" font-size="3.6" text-anchor="middle" fill="#444">10⁴</text>
<text x="389.26" y="236.90" font-size="3.6" text-anchor="middle" fill="#444">10⁵</text>
<text x="319.30" y="162.41" font-size="3.6" text-anchor="end" fill="#444">10⁵</text>
<text x="319.30" y="179.53" font-size="3.6" text-anchor="end" fill="#444">10⁴</text>
<text x="319.30" y="196.42" font-size="3.6" text-anchor="end" fill="#444">10³</text>
<text x="319.30" y="214.89" font-size="3.6" text-anchor="end" fill="#444">10²</text>
<text x="319.30" y="222.50" font-size="3.6" text-anchor="end" fill="#444">0</text>
<rect x="321.90" y="154.50" width="74.85" height="75.40" fill="none" stroke="#6a6a6a" stroke-width="0.9"/>
<text x="323.70" y="159.70" font-size="7" text-anchor="start" fill="#111" stroke="#111" stroke-width="0.18">0.5</text>
<text x="381.55" y="159.70" font-size="7" text-anchor="start" fill="#111" stroke="#111" stroke-width="0.18">0.7</text>
<text x="381.55" y="228.90" font-size="7" text-anchor="start" fill="#111" stroke="#111" stroke-width="0.18">1.0</text>
<rect x="322.40" y="222.70" width="15.50" height="6.7" fill="#fff" opacity="0.9"/>
<text x="323.50" y="228.90" font-size="7" text-anchor="start" fill="#111" stroke="#111" stroke-width="0.18">97.7</text>
<path d="M327.50 243.25H389.00" stroke="#111" stroke-width="1.3" fill="none"/>
<path d="M393.00 243.25L388.00 240.95V245.55Z" fill="#111"/>
<text x="361.00" y="254.90" font-size="9.3" text-anchor="middle" fill="#111" stroke="#111" stroke-width="0.18">CD49d</text>
<path d="M307.50 225.75V165.80" stroke="#111" stroke-width="1.2" fill="none"/>
<path d="M307.50 162.00L305.10 166.80H309.90Z" fill="#111"/>
<text x="302.80" y="193.75" font-size="9.6" text-anchor="middle" fill="#111" stroke="#111" stroke-width="0.18" transform="rotate(-90 302.80 193.75)">CD127</text>
<path d="M466.50 155.00V230.25M440.00 198.00H513.70" stroke="#c0c0c0" stroke-width="0.75" fill="none"/>
<path d="M440.5 198h0.6M440.5 208h0.6M440.5 211.5h0.6M440.5 215h0.6M443.5 204h0.6M444 212h0.6M446.5 204h0.6M447 200.5h0.6M447.5 202h0.6M447.5 217.5h0.6M448.5 222h0.6M449 199.5h0.6M449 210h0.6M449.5 211.5h0.6M450 201h0.6M450.5 196h0.6M451 198.5h0.6M451.5 203.5h0.6M452 199h0.6M452 219.5h0.6M452.5 199.5h0.6M452.5 203.5h0.6M453 200h0.6M453 212h0.6M453.5 194h0.6M453.5 195.5h0.6M454 217h0.6M454.5 189.5h0.6M454.5 199.5h0.6M454.5 200h0.6M454.5 208h0.6M455 192.5h0.6M455 195h0.6M455 200.5h0.6M455.5 196h0.6M455.5 197h0.6M455.5 201h0.6M455.5 202.5h0.6M455.5 205h0.6M456 190.5h0.6M456 193h0.6M456 197.5h0.6M456.5 192h0.6M456.5 194.5h0.6M456.5 196.5h0.6M456.5 201.5h0.6M457 196h0.6M457 204h0.6M457.5 191.5h0.6M457.5 207h0.6M457.5 219.5h0.6M458 196h0.6M458 198h0.6M458 207.5h0.6M458 209h0.6M458 212h0.6M458.5 192h0.6M458.5 194h0.6M458.5 200.5h0.6M458.5 213h0.6M459 188.5h0.6M459 194.5h0.6M459 196h0.6M459 207.5h0.6M459.5 194.5h0.6M459.5 195.5h0.6M459.5 197.5h0.6M459.5 204h0.6M460 187h0.6M460 207.5h0.6M460 221h0.6M460.5 187.5h0.6M460.5 193.5h0.6M461 196.5h0.6M461 198h0.6M461 205h0.6M461.5 194h0.6M461.5 196h0.6M461.5 203h0.6M461.5 207.5h0.6M461.5 216h0.6M462 195.5h0.6M462 196h0.6M462 198.5h0.6M462 199.5h0.6M462 202h0.6M462.5 177h0.6M462.5 186h0.6M462.5 191.5h0.6M462.5 193h0.6M462.5 196.5h0.6M462.5 198.5h0.6M462.5 200h0.6M462.5 206h0.6M462.5 213.5h0.6M462.5 217h0.6M463 189.5h0.6M463 191.5h0.6M463 193h0.6M463 194h0.6M463 196h0.6M463 198h0.6M463 200.5h0.6M463 201h0.6M463 202h0.6M463 204h0.6M463.5 193h0.6M463.5 195.5h0.6M463.5 196.5h0.6M463.5 201.5h0.6M464 183.5h0.6M464 192.5h0.6M464 194h0.6M464 197h0.6M464 198h0.6M464 203h0.6M464 204h0.6M464 207.5h0.6M464.5 188h0.6M464.5 189.5h0.6M464.5 190h0.6M464.5 192h0.6M464.5 196h0.6M464.5 197h0.6M465 181.5h0.6M465 190.5h0.6M465 192h0.6M465 199.5h0.6M465 202.5h0.6M465 209h0.6M465 218.5h0.6M465.5 183h0.6M465.5 186.5h0.6M465.5 194h0.6M465.5 195.5h0.6M465.5 200h0.6M466 189h0.6M466 189.5h0.6M466 194h0.6M466 195h0.6M466 202.5h0.6M466 203h0.6M466 207h0.6M466 213.5h0.6M466.5 174h0.6M466.5 186h0.6M466.5 190.5h0.6M466.5 191.5h0.6M466.5 192.5h0.6M466.5 207h0.6M467 190h0.6M467 195.5h0.6M467 206h0.6M467 206.5h0.6M467.5 193h0.6M467.5 199h0.6M467.5 199.5h0.6M467.5 200h0.6M468 185.5h0.6M468 187.5h0.6M468 189.5h0.6M468 190h0.6M468 191.5h0.6M468 205h0.6M468.5 185.5h0.6M468.5 200h0.6M468.5 200.5h0.6M468.5 202h0.6M469 186.5h0.6M469 187.5h0.6M469 189h0.6M469 191.5h0.6M469 194h0.6M469 196.5h0.6M469 200h0.6M469.5 176.5h0.6M469.5 187.5h0.6M469.5 193.5h0.6M469.5 195h0.6M469.5 197h0.6M469.5 197.5h0.6M469.5 198.5h0.6M470 193.5h0.6M470 196h0.6M470 199.5h0.6M470 200h0.6M470.5 189.5h0.6M470.5 192h0.6M470.5 196h0.6M470.5 200.5h0.6M471 179.5h0.6M471 187.5h0.6M471 193h0.6M471 194h0.6M471 199h0.6M471 201h0.6M471.5 186h0.6M471.5 191.5h0.6M471.5 192h0.6M471.5 195.5h0.6M471.5 196h0.6M471.5 199h0.6M472 194.5h0.6M472 198h0.6M472.5 183.5h0.6M472.5 186h0.6M472.5 188.5h0.6M472.5 191h0.6M472.5 195.5h0.6M472.5 198.5h0.6M472.5 200.5h0.6M473 187.5h0.6M473 189.5h0.6M473 193.5h0.6M473 194.5h0.6M473 199h0.6M473 200.5h0.6M473.5 185h0.6M473.5 188h0.6M473.5 195.5h0.6M473.5 196.5h0.6M473.5 198.5h0.6M473.5 210h0.6M474 185h0.6M474 192h0.6M474 193h0.6M474 197h0.6M474 198.5h0.6M474.5 188.5h0.6M474.5 192h0.6M474.5 194h0.6M474.5 195.5h0.6M474.5 198h0.6M474.5 198.5h0.6M474.5 204h0.6M475 187h0.6M475 191h0.6M475 194h0.6M475.5 180.5h0.6M475.5 191h0.6M475.5 191.5h0.6M475.5 195.5h0.6M475.5 197h0.6M475.5 227h0.6M476 183h0.6M476 185h0.6M476 192.5h0.6M476.5 187.5h0.6M476.5 191h0.6M476.5 194.5h0.6M477 190h0.6M477 198h0.6M477 202h0.6M477.5 181h0.6M477.5 196.5h0.6M478 187h0.6M478.5 189h0.6M478.5 192h0.6M478.5 193.5h0.6M478.5 196h0.6M479 182.5h0.6M479 187.5h0.6M479 194.5h0.6M479 201h0.6M479.5 194.5h0.6M479.5 199.5h0.6M479.5 200.5h0.6M480 183.5h0.6M480 184h0.6M480 189h0.6M480 189.5h0.6M480 204h0.6M480.5 190h0.6M481 189h0.6M481.5 184h0.6M481.5 190h0.6M482 193.5h0.6M482 194.5h0.6M483.5 183.5h0.6M484.5 181h0.6M485 178.5h0.6M486 183.5h0.6M486.5 184.5h0.6M486.5 188h0.6M488 178.5h0.6M488 190.5h0.6" stroke="#666" stroke-width="0.6" fill="none" opacity="1"/>
<path d="M463.5 196h0.6M465 184h0.6M466.5 187h0.6M466.5 188.5h0.6M466.5 189.5h0.6M467.5 184h0.6M468 183h0.6M468.5 192.5h0.6M468.5 193h0.6M469 182h0.6M469 188.5h0.6M469 190h0.6M469.5 180h0.6M469.5 185h0.6M469.5 187h0.6M470 190h0.6M470 195.5h0.6M470.5 179h0.6M470.5 182.5h0.6M470.5 188.5h0.6M470.5 189h0.6M470.5 189.5h0.6M470.5 190h0.6M470.5 190.5h0.6M471 181h0.6M471 182h0.6M471 183.5h0.6M471 184h0.6M471 187.5h0.6M471 189.5h0.6M471 190h0.6M471 194h0.6M471.5 183.5h0.6M471.5 184h0.6M471.5 185h0.6M471.5 186h0.6M471.5 187.5h0.6M471.5 190h0.6M471.5 192h0.6M472 184.5h0.6M472 185.5h0.6M472 187h0.6M472 187.5h0.6M472 188h0.6M472 191.5h0.6M472 193h0.6M472 194.5h0.6M472.5 181.5h0.6M472.5 183.5h0.6M472.5 185.5h0.6M472.5 188.5h0.6M472.5 189.5h0.6M472.5 191h0.6M472.5 196h0.6M473 183h0.6M473 183.5h0.6M473 184h0.6M473 184.5h0.6M473 185h0.6M473 185.5h0.6M473 186h0.6M473 186.5h0.6M473 187.5h0.6M473 190.5h0.6M473 191h0.6M473.5 180h0.6M473.5 182h0.6M473.5 184h0.6M473.5 185.5h0.6M473.5 186h0.6M473.5 187.5h0.6M473.5 188h0.6M473.5 189.5h0.6M473.5 190h0.6M474 181h0.6M474 182h0.6M474 184h0.6M474 184.5h0.6M474 185h0.6M474 185.5h0.6M474 186.5h0.6M474 188.5h0.6M474 189.5h0.6M474 191h0.6M474 191.5h0.6M474 192.5h0.6M474 194h0.6M474.5 181.5h0.6M474.5 182.5h0.6M474.5 183h0.6M474.5 183.5h0.6M474.5 184h0.6M474.5 185.5h0.6M474.5 186h0.6M474.5 187h0.6M474.5 187.5h0.6M474.5 188h0.6M474.5 189.5h0.6M474.5 190h0.6M474.5 191h0.6M474.5 193.5h0.6M474.5 194.5h0.6M475 180h0.6M475 181h0.6M475 181.5h0.6M475 183h0.6M475 183.5h0.6M475 184.5h0.6M475 186h0.6M475 187h0.6M475 187.5h0.6M475 188.5h0.6M475 189h0.6M475 189.5h0.6M475 190h0.6M475 192h0.6M475 195.5h0.6M475.5 178.5h0.6M475.5 181.5h0.6M475.5 182h0.6M475.5 182.5h0.6M475.5 183h0.6M475.5 184.5h0.6M475.5 185h0.6M475.5 186h0.6M475.5 187h0.6M475.5 188h0.6M475.5 190.5h0.6M475.5 191.5h0.6M475.5 192h0.6M475.5 193.5h0.6M476 177.5h0.6M476 182h0.6M476 182.5h0.6M476 183h0.6M476 183.5h0.6M476 184h0.6M476 184.5h0.6M476 185h0.6M476 185.5h0.6M476 186h0.6M476 187.5h0.6M476 188.5h0.6M476 189h0.6M476 190.5h0.6M476.5 174h0.6M476.5 177h0.6M476.5 178h0.6M476.5 180.5h0.6M476.5 181.5h0.6M476.5 182h0.6M476.5 182.5h0.6M476.5 183h0.6M476.5 184h0.6M476.5 185h0.6M476.5 185.5h0.6M476.5 186h0.6M476.5 187h0.6M476.5 187.5h0.6M476.5 188h0.6M476.5 188.5h0.6M476.5 189h0.6M476.5 189.5h0.6M476.5 190h0.6M476.5 190.5h0.6M476.5 196.5h0.6M477 178.5h0.6M477 180.5h0.6M477 181.5h0.6M477 182h0.6M477 182.5h0.6M477 183.5h0.6M477 184h0.6M477 184.5h0.6M477 185h0.6M477 185.5h0.6M477 186h0.6M477 186.5h0.6M477 187h0.6M477 187.5h0.6M477 188.5h0.6M477 191h0.6M477.5 178.5h0.6M477.5 181h0.6M477.5 181.5h0.6M477.5 182.5h0.6M477.5 183h0.6M477.5 183.5h0.6M477.5 184h0.6M477.5 184.5h0.6M477.5 185h0.6M477.5 185.5h0.6M477.5 186.5h0.6M477.5 187h0.6M477.5 188h0.6M477.5 188.5h0.6M477.5 190.5h0.6M477.5 191h0.6M477.5 192h0.6M478 176h0.6M478 178.5h0.6M478 180.5h0.6M478 181h0.6M478 181.5h0.6M478 182h0.6M478 182.5h0.6M478 183h0.6M478 183.5h0.6M478 184h0.6M478 184.5h0.6M478 185.5h0.6M478 186h0.6M478 186.5h0.6M478 187h0.6M478 187.5h0.6M478 190h0.6M478.5 176.5h0.6M478.5 178.5h0.6M478.5 181.5h0.6M478.5 182h0.6M478.5 182.5h0.6M478.5 183h0.6M478.5 183.5h0.6M478.5 184h0.6M478.5 184.5h0.6M478.5 185h0.6M478.5 185.5h0.6M478.5 186h0.6M478.5 186.5h0.6M478.5 187h0.6M478.5 187.5h0.6M478.5 188h0.6M478.5 189h0.6M478.5 190.5h0.6M478.5 192h0.6M478.5 192.5h0.6M479 175.5h0.6M479 178h0.6M479 179h0.6M479 179.5h0.6M479 180.5h0.6M479 181h0.6M479 182h0.6M479 182.5h0.6M479 183h0.6M479 183.5h0.6M479 184h0.6M479 184.5h0.6M479 185h0.6M479 185.5h0.6M479 186.5h0.6M479 187h0.6M479 187.5h0.6M479 188h0.6M479 188.5h0.6M479 189h0.6M479 190h0.6M479 190.5h0.6M479 191.5h0.6M479 193h0.6M479.5 176h0.6M479.5 177.5h0.6M479.5 179h0.6M479.5 179.5h0.6M479.5 180.5h0.6M479.5 181h0.6M479.5 181.5h0.6M479.5 183h0.6M479.5 183.5h0.6M479.5 184h0.6M479.5 184.5h0.6M479.5 185h0.6M479.5 185.5h0.6M479.5 186h0.6M479.5 187h0.6M479.5 187.5h0.6M479.5 188h0.6M479.5 188.5h0.6M479.5 189h0.6M479.5 189.5h0.6M479.5 190h0.6M479.5 191h0.6M480 176h0.6M480 179h0.6M480 180h0.6M480 180.5h0.6M480 181.5h0.6M480 182h0.6M480 182.5h0.6M480 183.5h0.6M480 184.5h0.6M480 185.5h0.6M480 186.5h0.6M480 187h0.6M480 187.5h0.6M480 188h0.6M480 188.5h0.6M480 192.5h0.6M480.5 177.5h0.6M480.5 178.5h0.6M480.5 180h0.6M480.5 181h0.6M480.5 181.5h0.6M480.5 182h0.6M480.5 183.5h0.6M480.5 184.5h0.6M480.5 185h0.6M480.5 185.5h0.6M480.5 186h0.6M480.5 187h0.6M480.5 187.5h0.6M480.5 188h0.6M480.5 188.5h0.6M480.5 190h0.6M480.5 191h0.6M481 176.5h0.6M481 177.5h0.6M481 178h0.6M481 178.5h0.6M481 179h0.6M481 180h0.6M481 181h0.6M481 181.5h0.6M481 182h0.6M481 182.5h0.6M481 183h0.6M481 184h0.6M481 184.5h0.6M481 185h0.6M481 185.5h0.6M481 186h0.6M481 186.5h0.6M481 188h0.6M481 189.5h0.6M481 190.5h0.6M481.5 176.5h0.6M481.5 178.5h0.6M481.5 179h0.6M481.5 180h0.6M481.5 180.5h0.6M481.5 181h0.6M481.5 181.5h0.6M481.5 182h0.6M481.5 182.5h0.6M481.5 183h0.6M481.5 183.5h0.6M481.5 184h0.6M481.5 184.5h0.6M481.5 185h0.6M481.5 186h0.6M481.5 187.5h0.6M481.5 189h0.6M481.5 189.5h0.6M482 177.5h0.6M482 180h0.6M482 180.5h0.6M482 181h0.6M482 182h0.6M482 183.5h0.6M482 184.5h0.6M482 185h0.6M482 186h0.6M482 187h0.6M482 187.5h0.6M482 188h0.6M482 189.5h0.6M482 190.5h0.6M482.5 177.5h0.6M482.5 178h0.6M482.5 179h0.6M482.5 180h0.6M482.5 180.5h0.6M482.5 181.5h0.6M482.5 182h0.6M482.5 182.5h0.6M482.5 183h0.6M482.5 183.5h0.6M482.5 184h0.6M482.5 184.5h0.6M482.5 185.5h0.6M482.5 186h0.6M482.5 186.5h0.6M482.5 189.5h0.6M482.5 191h0.6M483 178.5h0.6M483 179.5h0.6M483 180h0.6M483 181h0.6M483 181.5h0.6M483 182.5h0.6M483 183h0.6M483 183.5h0.6M483 184h0.6M483 184.5h0.6M483 185h0.6M483 185.5h0.6M483 186h0.6M483 187.5h0.6M483 188.5h0.6M483 189h0.6M483.5 175.5h0.6M483.5 176h0.6M483.5 178h0.6M483.5 179.5h0.6M483.5 180.5h0.6M483.5 181h0.6M483.5 183h0.6M483.5 183.5h0.6M483.5 184h0.6M483.5 184.5h0.6M483.5 185h0.6M483.5 185.5h0.6M483.5 186h0.6M483.5 189.5h0.6M484 171.5h0.6M484 178.5h0.6M484 180h0.6M484 181h0.6M484 182h0.6M484 182.5h0.6M484 183h0.6M484 183.5h0.6M484 184h0.6M484 184.5h0.6M484 186h0.6M484 186.5h0.6M484 187h0.6M484 187.5h0.6M484 188h0.6M484 188.5h0.6M484 189.5h0.6M484 192.5h0.6M484.5 177h0.6M484.5 178h0.6M484.5 180h0.6M484.5 180.5h0.6M484.5 181.5h0.6M484.5 182h0.6M484.5 183h0.6M484.5 183.5h0.6M484.5 184h0.6M484.5 184.5h0.6M484.5 187h0.6M484.5 187.5h0.6M485 175.5h0.6M485 179h0.6M485 180h0.6M485 180.5h0.6M485 181.5h0.6M485 182h0.6M485 183h0.6M485 183.5h0.6M485 184h0.6M485 184.5h0.6M485 186h0.6M485 188.5h0.6M485.5 175.5h0.6M485.5 176.5h0.6M485.5 177h0.6M485.5 179.5h0.6M485.5 181.5h0.6M485.5 182.5h0.6M485.5 183h0.6M485.5 184h0.6M485.5 185.5h0.6M485.5 186.5h0.6M485.5 192h0.6M486 178.5h0.6M486 181h0.6M486 184h0.6M486 189h0.6M486.5 175.5h0.6M486.5 179.5h0.6M486.5 180h0.6M486.5 181h0.6M486.5 181.5h0.6M486.5 182h0.6M486.5 183h0.6M486.5 188h0.6M486.5 189h0.6M487 180h0.6M487 181.5h0.6M487 182h0.6M487 184h0.6M487 189.5h0.6M487.5 183.5h0.6M487.5 185h0.6M488 175h0.6M488 178.5h0.6M488 184.5h0.6M488 187.5h0.6M488.5 182.5h0.6M488.5 187.5h0.6M489 181.5h0.6M489 184h0.6M489 191h0.6M489.5 184.5h0.6M490 182h0.6" stroke="#111" stroke-width="0.6" fill="none" opacity="1"/>
<path d="M441.00 231.45H513.70" stroke="#888" stroke-width="1.3" stroke-dasharray="0.5 2.6" fill="none"/>
<path d="M438.80 157.00V230.25" stroke="#888" stroke-width="1.3" stroke-dasharray="0.5 3.4" fill="none"/>
<text x="446.41" y="237.25" font-size="3.6" text-anchor="middle" fill="#444">0.0</text>
<text x="455.85" y="237.25" font-size="3.6" text-anchor="middle" fill="#444">10²</text>
<text x="473.90" y="237.25" font-size="3.6" text-anchor="middle" fill="#444">10³</text>
<text x="489.08" y="237.25" font-size="3.6" text-anchor="middle" fill="#444">10⁴</text>
<text x="506.33" y="237.25" font-size="3.6" text-anchor="middle" fill="#444">10⁵</text>
<text x="437.40" y="162.90" font-size="3.6" text-anchor="end" fill="#444">10⁵</text>
<text x="437.40" y="179.98" font-size="3.6" text-anchor="end" fill="#444">10⁴</text>
<text x="437.40" y="196.83" font-size="3.6" text-anchor="end" fill="#444">10³</text>
<text x="437.40" y="215.27" font-size="3.6" text-anchor="end" fill="#444">10²</text>
<text x="437.40" y="222.87" font-size="3.6" text-anchor="end" fill="#444">0</text>
<rect x="440.00" y="155.00" width="73.70" height="75.25" fill="none" stroke="#6a6a6a" stroke-width="0.9"/>
<text x="441.80" y="160.20" font-size="7" text-anchor="start" fill="#111" stroke="#111" stroke-width="0.18">14.1</text>
<text x="498.50" y="160.20" font-size="7" text-anchor="start" fill="#111" stroke="#111" stroke-width="0.18">76.2</text>
<text x="498.50" y="229.25" font-size="7" text-anchor="start" fill="#111" stroke="#111" stroke-width="0.18">2.2</text>
<rect x="440.50" y="223.05" width="12.00" height="6.7" fill="#fff" opacity="0.9"/>
<text x="441.60" y="229.25" font-size="7" text-anchor="start" fill="#111" stroke="#111" stroke-width="0.18">7.3</text>
<path d="M444.00 243.50H503.70" stroke="#111" stroke-width="1.3" fill="none"/>
<path d="M507.70 243.50L502.70 241.20V245.80Z" fill="#111"/>
<text x="473.80" y="255.10" font-size="9.3" text-anchor="middle" fill="#111" stroke="#111" stroke-width="0.18">CD25</text>
<path d="M422.30 226.00V165.60" stroke="#111" stroke-width="1.2" fill="none"/>
<path d="M422.30 161.80L419.90 166.60H424.70Z" fill="#111"/>
<text x="417.50" y="194.40" font-size="9.6" text-anchor="middle" fill="#111" stroke="#111" stroke-width="0.18" transform="rotate(-90 417.50 194.40)">Foxp3</text>
<path d="M29 331.5h0.6M29 333h0.6M29 335h0.6M29 336h0.6M29 337h0.6M29 338.5h0.6M29 339.5h0.6M29 340.5h0.6M29 341.5h0.6M29 342h0.6M29 342.5h0.6M29 343h0.6M29 343.5h0.6M29 344h0.6M29 344.5h0.6M29 345h0.6M29 345.5h0.6M29 346h0.6M29 346.5h0.6M29 347h0.6M29 347.5h0.6M29 348h0.6M29 348.5h0.6M29 349h0.6M29 349.5h0.6M29 350h0.6M29 350.5h0.6M29 351h0.6M29 351.5h0.6M29 352h0.6M29 352.5h0.6M29 353h0.6M29 353.5h0.6M29 354h0.6M29 354.5h0.6M29 355h0.6M29 355.5h0.6M29 356h0.6M29 356.5h0.6M29 357h0.6M29 357.5h0.6M29 358h0.6M29 358.5h0.6M29 359h0.6M29 359.5h0.6M29 360.5h0.6M29 361h0.6M29 362h0.6M29 363h0.6M29.5 342.5h0.6M29.5 345.5h0.6M29.5 348.5h0.6M29.5 349.5h0.6M29.5 351.5h0.6M29.5 352.5h0.6M29.5 353.5h0.6M29.5 356.5h0.6M29.5 358.5h0.6M29.5 359h0.6M30 342.5h0.6M30 343h0.6M30 343.5h0.6M30 345.5h0.6M30 346h0.6M30 346.5h0.6M30 347h0.6M30 348.5h0.6M30 353.5h0.6M30 354h0.6M30 355h0.6M30 356h0.6M30 356.5h0.6M30 357.5h0.6M30 360.5h0.6M30 361.5h0.6M30 362h0.6M30.5 342.5h0.6M30.5 347h0.6M30.5 348.5h0.6M30.5 350h0.6M30.5 352h0.6M30.5 355.5h0.6M30.5 359h0.6M30.5 359.5h0.6M31 344.5h0.6M31 345.5h0.6M31 348h0.6M31 350h0.6M31 352h0.6M31 352.5h0.6M31 353h0.6M31 354h0.6M31 354.5h0.6M31 356.5h0.6M31 358h0.6M31 359.5h0.6M31 360h0.6M31 363h0.6M31.5 342h0.6M31.5 342.5h0.6M31.5 345h0.6M31.5 346h0.6M31.5 346.5h0.6M31.5 347h0.6M31.5 348.5h0.6M31.5 349h0.6M31.5 350h0.6M31.5 351h0.6M31.5 352.5h0.6M31.5 354.5h0.6M31.5 355h0.6M31.5 357.5h0.6M31.5 358h0.6M31.5 359h0.6M31.5 360h0.6M31.5 361.5h0.6M31.5 363h0.6M32 338.5h0.6M32 341h0.6M32 343.5h0.6M32 345.5h0.6M32 346.5h0.6M32 348h0.6M32 350.5h0.6M32 351.5h0.6M32 353h0.6M32 354h0.6M32 355h0.6M32 355.5h0.6M32 356.5h0.6M32 357.5h0.6M32 358h0.6M32 359h0.6M32 360.5h0.6M32.5 339.5h0.6M32.5 341h0.6M32.5 343h0.6M32.5 344.5h0.6M32.5 345h0.6M32.5 347h0.6M32.5 349h0.6M32.5 351.5h0.6M32.5 352h0.6M32.5 352.5h0.6M32.5 353.5h0.6M32.5 354h0.6M32.5 355h0.6M32.5 355.5h0.6M32.5 356.5h0.6M32.5 357h0.6M32.5 360h0.6M32.5 361h0.6M32.5 362h0.6M32.5 362.5h0.6M33 342.5h0.6M33 344h0.6M33 347h0.6M33 347.5h0.6M33 349h0.6M33 350h0.6M33 351h0.6M33 352.5h0.6M33 353h0.6M33 353.5h0.6M33 354.5h0.6M33 356.5h0.6M33 358.5h0.6M33 359h0.6M33 359.5h0.6M33 360h0.6M33.5 340h0.6M33.5 344h0.6M33.5 345h0.6M33.5 345.5h0.6M33.5 347.5h0.6M33.5 348h0.6M33.5 348.5h0.6M33.5 351h0.6M33.5 351.5h0.6M33.5 352h0.6M33.5 352.5h0.6M33.5 353.5h0.6M33.5 355.5h0.6M33.5 356h0.6M33.5 358h0.6M33.5 358.5h0.6M33.5 361h0.6M33.5 361.5h0.6M33.5 363h0.6M34 330.5h0.6M34 337h0.6M34 340.5h0.6M34 341.5h0.6M34 347h0.6M34 347.5h0.6M34 348h0.6M34 348.5h0.6M34 349.5h0.6M34 350h0.6M34 350.5h0.6M34 351h0.6M34 351.5h0.6M34 352h0.6M34 352.5h0.6M34 353.5h0.6M34 354.5h0.6M34 355h0.6M34 356h0.6M34 356.5h0.6M34 361h0.6M34 363h0.6M34.5 341h0.6M34.5 343.5h0.6M34.5 344h0.6M34.5 346h0.6M34.5 346.5h0.6M34.5 347.5h0.6M34.5 349.5h0.6M34.5 350h0.6M34.5 352h0.6M34.5 353h0.6M34.5 353.5h0.6M34.5 354h0.6M34.5 354.5h0.6M34.5 355.5h0.6M34.5 356h0.6M34.5 356.5h0.6M34.5 357h0.6M34.5 359h0.6M35 336.5h0.6M35 339h0.6M35 340.5h0.6M35 341h0.6M35 343h0.6M35 344.5h0.6M35 347h0.6M35 348h0.6M35 348.5h0.6M35 350.5h0.6M35 351h0.6M35 352h0.6M35 353h0.6M35 353.5h0.6M35 354h0.6M35 355h0.6M35 356.5h0.6M35 357.5h0.6M35 358h0.6M35 359.5h0.6M35 360h0.6M35 360.5h0.6M35 363h0.6M35.5 335.5h0.6M35.5 338.5h0.6M35.5 339h0.6M35.5 341.5h0.6M35.5 342h0.6M35.5 342.5h0.6M35.5 344h0.6M35.5 345.5h0.6M35.5 346h0.6M35.5 347h0.6M35.5 347.5h0.6M35.5 348h0.6M35.5 348.5h0.6M35.5 350.5h0.6M35.5 351h0.6M35.5 351.5h0.6M35.5 352h0.6M35.5 352.5h0.6M35.5 353.5h0.6M35.5 354h0.6M35.5 354.5h0.6M35.5 355h0.6M35.5 355.5h0.6M35.5 356h0.6M35.5 359h0.6M35.5 360.5h0.6M35.5 363h0.6M36 337h0.6M36 338.5h0.6M36 342h0.6M36 343h0.6M36 343.5h0.6M36 344h0.6M36 344.5h0.6M36 345.5h0.6M36 346.5h0.6M36 348.5h0.6M36 349h0.6M36 349.5h0.6M36 350h0.6M36 350.5h0.6M36 351h0.6M36 351.5h0.6M36 352h0.6M36 353h0.6M36 355h0.6M36 356.5h0.6M36 357h0.6M36 359.5h0.6M36 363h0.6M36.5 337.5h0.6M36.5 341.5h0.6M36.5 342.5h0.6M36.5 343h0.6M36.5 343.5h0.6M36.5 344.5h0.6M36.5 345h0.6M36.5 345.5h0.6M36.5 346h0.6M36.5 347h0.6M36.5 347.5h0.6M36.5 349h0.6M36.5 349.5h0.6M36.5 350h0.6M36.5 351h0.6M36.5 351.5h0.6M36.5 352h0.6M36.5 352.5h0.6M36.5 353h0.6M36.5 354h0.6M36.5 355h0.6M36.5 355.5h0.6M36.5 356h0.6M36.5 357h0.6M36.5 357.5h0.6M36.5 358.5h0.6M36.5 359h0.6M36.5 359.5h0.6M36.5 360h0.6M36.5 361h0.6M37 337.5h0.6M37 343h0.6M37 343.5h0.6M37 345h0.6M37 345.5h0.6M37 346.5h0.6M37 347h0.6M37 347.5h0.6M37 348h0.6M37 349h0.6M37 349.5h0.6M37 350h0.6M37 351h0.6M37 351.5h0.6M37 353h0.6M37 353.5h0.6M37 354.5h0.6M37 355h0.6M37 355.5h0.6M37 356h0.6M37 358h0.6M37 359.5h0.6M37 361.5h0.6M37 362h0.6M37.5 333h0.6M37.5 335.5h0.6M37.5 336h0.6M37.5 341h0.6M37.5 343.5h0.6M37.5 344.5h0.6M37.5 345h0.6M37.5 346h0.6M37.5 347h0.6M37.5 348.5h0.6M37.5 349.5h0.6M37.5 351h0.6M37.5 351.5h0.6M37.5 352h0.6M37.5 354h0.6M37.5 354.5h0.6M37.5 356h0.6M37.5 356.5h0.6M37.5 357h0.6M37.5 357.5h0.6M37.5 359h0.6M37.5 360.5h0.6M37.5 361h0.6M38 335.5h0.6M38 336.5h0.6M38 337.5h0.6M38 338h0.6M38 340h0.6M38 340.5h0.6M38 343h0.6M38 344h0.6M38 344.5h0.6M38 345h0.6M38 347h0.6M38 347.5h0.6M38 348h0.6M38 349h0.6M38 351.5h0.6M38 352.5h0.6M38 353h0.6M38 354h0.6M38 355h0.6M38 355.5h0.6M38 356h0.6M38 356.5h0.6M38 357h0.6M38 357.5h0.6M38 360.5h0.6M38 362.5h0.6M38 363h0.6M38.5 340.5h0.6M38.5 341h0.6M38.5 342.5h0.6M38.5 343.5h0.6M38.5 345h0.6M38.5 347.5h0.6M38.5 348.5h0.6M38.5 349.5h0.6M38.5 350h0.6M38.5 350.5h0.6M38.5 352.5h0.6M38.5 353.5h0.6M38.5 355h0.6M38.5 355.5h0.6M38.5 357h0.6M38.5 357.5h0.6M38.5 358.5h0.6M38.5 359.5h0.6M38.5 360.5h0.6M38.5 362h0.6M38.5 363h0.6M39 338h0.6M39 338.5h0.6M39 339.5h0.6M39 341.5h0.6M39 342.5h0.6M39 343h0.6M39 343.5h0.6M39 344.5h0.6M39 345h0.6M39 346h0.6M39 346.5h0.6M39 348h0.6M39 349h0.6M39 350h0.6M39 350.5h0.6M39 351.5h0.6M39 352h0.6M39 354h0.6M39 354.5h0.6M39 356h0.6M39 356.5h0.6M39 358h0.6M39 358.5h0.6M39 360h0.6M39.5 338.5h0.6M39.5 341h0.6M39.5 344.5h0.6M39.5 345.5h0.6M39.5 346.5h0.6M39.5 348h0.6M39.5 350.5h0.6M39.5 351h0.6M39.5 351.5h0.6M39.5 352.5h0.6M39.5 353h0.6M39.5 353.5h0.6M39.5 354h0.6M39.5 354.5h0.6M39.5 355h0.6M39.5 355.5h0.6M39.5 356h0.6M39.5 357h0.6M39.5 359.5h0.6M39.5 360.5h0.6M39.5 361.5h0.6M39.5 363h0.6M40 337.5h0.6M40 342h0.6M40 342.5h0.6M40 344h0.6M40 345.5h0.6M40 346h0.6M40 346.5h0.6M40 349h0.6M40 349.5h0.6M40 350h0.6M40 350.5h0.6M40 351h0.6M40 352h0.6M40 353h0.6M40 354.5h0.6M40 356.5h0.6M40 359h0.6M40 363h0.6M40.5 335h0.6M40.5 336h0.6M40.5 336.5h0.6M40.5 339h0.6M40.5 340.5h0.6M40.5 342h0.6M40.5 342.5h0.6M40.5 343h0.6M40.5 344.5h0.6M40.5 346h0.6M40.5 346.5h0.6M40.5 347.5h0.6M40.5 348.5h0.6M40.5 349h0.6M40.5 349.5h0.6M40.5 350.5h0.6M40.5 351.5h0.6M40.5 352h0.6M40.5 352.5h0.6M40.5 353h0.6M40.5 353.5h0.6M40.5 354h0.6M40.5 355.5h0.6M40.5 356h0.6M40.5 359h0.6M40.5 360h0.6M40.5 360.5h0.6M40.5 361h0.6M40.5 363h0.6M41 338.5h0.6M41 339.5h0.6M41 340h0.6M41 342h0.6M41 343h0.6M41 344.5h0.6M41 345h0.6M41 345.5h0.6M41 346.5h0.6M41 347.5h0.6M41 348.5h0.6M41 349h0.6M41 349.5h0.6M41 350h0.6M41 350.5h0.6M41 351h0.6M41 352h0.6M41 352.5h0.6M41 353h0.6M41 353.5h0.6M41 354h0.6M41 354.5h0.6M41 355.5h0.6M41 357h0.6M41 358h0.6M41 361.5h0.6M41 362h0.6M41 363h0.6M41.5 339h0.6M41.5 339.5h0.6M41.5 341h0.6M41.5 342h0.6M41.5 342.5h0.6M41.5 343.5h0.6M41.5 344h0.6M41.5 345h0.6M41.5 345.5h0.6M41.5 347h0.6M41.5 347.5h0.6M41.5 348h0.6M41.5 349h0.6M41.5 351h0.6M41.5 351.5h0.6M41.5 352h0.6M41.5 352.5h0.6M41.5 353.5h0.6M41.5 354h0.6M41.5 355h0.6M41.5 355.5h0.6M41.5 356h0.6M41.5 356.5h0.6M41.5 357h0.6M41.5 357.5h0.6M41.5 358h0.6M41.5 358.5h0.6M41.5 360.5h0.6M41.5 362h0.6M41.5 363h0.6M42 336h0.6M42 340h0.6M42 341h0.6M42 342.5h0.6M42 343h0.6M42 345h0.6M42 345.5h0.6M42 346h0.6M42 346.5h0.6M42 347h0.6M42 347.5h0.6M42 348h0.6M42 349h0.6M42 349.5h0.6M42 350h0.6M42 350.5h0.6M42 352h0.6M42 352.5h0.6M42 353h0.6M42 353.5h0.6M42 354h0.6M42 355.5h0.6M42 356h0.6M42 357h0.6M42 357.5h0.6M42 358h0.6M42 358.5h0.6M42 359h0.6M42 359.5h0.6M42 360h0.6M42 361h0.6M42 362h0.6M42 362.5h0.6M42 363h0.6M42.5 338.5h0.6M42.5 339.5h0.6M42.5 343.5h0.6M42.5 345h0.6M42.5 345.5h0.6M42.5 346h0.6M42.5 346.5h0.6M42.5 347h0.6M42.5 349h0.6M42.5 349.5h0.6M42.5 350h0.6M42.5 350.5h0.6M42.5 351h0.6M42.5 351.5h0.6M42.5 352h0.6M42.5 352.5h0.6M42.5 353.5h0.6M42.5 354h0.6M42.5 355h0.6M42.5 356.5h0.6M42.5 357h0.6M42.5 358.5h0.6M42.5 359h0.6M42.5 360.5h0.6M42.5 361h0.6M42.5 362h0.6M42.5 363h0.6M43 337.5h0.6M43 339h0.6M43 341h0.6M43 342.5h0.6M43 343h0.6M43 344h0.6M43 344.5h0.6M43 345.5h0.6M43 347h0.6M43 347.5h0.6M43 348.5h0.6M43 349.5h0.6M43 350h0.6M43 351h0.6M43 351.5h0.6M43 352h0.6M43 352.5h0.6M43 353h0.6M43 353.5h0.6M43 354h0.6M43 355h0.6M43 355.5h0.6M43 356.5h0.6M43 357.5h0.6M43 358h0.6M43 358.5h0.6M43 360h0.6M43 362h0.6M43 363h0.6M43.5 336h0.6M43.5 339h0.6M43.5 341.5h0.6M43.5 344h0.6M43.5 346h0.6M43.5 346.5h0.6M43.5 347.5h0.6M43.5 349h0.6M43.5 349.5h0.6M43.5 350h0.6M43.5 350.5h0.6M43.5 351h0.6M43.5 352h0.6M43.5 352.5h0.6M43.5 353h0.6M43.5 353.5h0.6M43.5 354h0.6M43.5 355h0.6M43.5 355.5h0.6M43.5 356h0.6M43.5 357h0.6M43.5 357.5h0.6M43.5 358h0.6M43.5 358.5h0.6M43.5 361.5h0.6M43.5 362h0.6M43.5 363h0.6M44 337h0.6M44 340.5h0.6M44 344.5h0.6M44 345h0.6M44 345.5h0.6M44 346.5h0.6M44 347h0.6M44 347.5h0.6M44 348h0.6M44 348.5h0.6M44 349h0.6M44 349.5h0.6M44 350h0.6M44 351h0.6M44 351.5h0.6M44 352h0.6M44 353h0.6M44 353.5h0.6M44 354h0.6M44 354.5h0.6M44 355h0.6M44 355.5h0.6M44 356h0.6M44 356.5h0.6M44 357h0.6M44 357.5h0.6M44 358h0.6M44 358.5h0.6M44 360.5h0.6M44 362h0.6M44 363h0.6M44.5 340.5h0.6M44.5 342.5h0.6M44.5 344h0.6M44.5 344.5h0.6M44.5 345h0.6M44.5 347h0.6M44.5 347.5h0.6M44.5 348h0.6M44.5 348.5h0.6M44.5 349h0.6M44.5 349.5h0.6M44.5 350h0.6M44.5 351h0.6M44.5 351.5h0.6M44.5 353h0.6M44.5 354h0.6M44.5 354.5h0.6M44.5 355.5h0.6M44.5 356.5h0.6M44.5 357h0.6M44.5 357.5h0.6M44.5 358h0.6M44.5 358.5h0.6M44.5 359.5h0.6M44.5 360h0.6M44.5 361h0.6M44.5 362.5h0.6M45 339.5h0.6M45 343h0.6M45 344h0.6M45 346h0.6M45 346.5h0.6M45 347.5h0.6M45 348h0.6M45 348.5h0.6M45 349h0.6M45 349.5h0.6M45 350h0.6M45 350.5h0.6M45 351.5h0.6M45 352h0.6M45 352.5h0.6M45 353.5h0.6M45 354h0.6M45 355h0.6M45 355.5h0.6M45 356h0.6M45 357h0.6M45 358.5h0.6M45 359h0.6M45 361h0.6M45 363h0.6M45.5 342.5h0.6M45.5 345h0.6M45.5 345.5h0.6M45.5 346h0.6M45.5 346.5h0.6M45.5 348h0.6M45.5 348.5h0.6M45.5 349.5h0.6M45.5 350h0.6M45.5 350.5h0.6M45.5 351h0.6M45.5 351.5h0.6M45.5 352h0.6M45.5 353.5h0.6M45.5 354h0.6M45.5 354.5h0.6M45.5 355h0.6M45.5 355.5h0.6M45.5 356.5h0.6M45.5 357h0.6M45.5 358.5h0.6M45.5 359h0.6M45.5 362h0.6M45.5 363h0.6M46 336h0.6M46 337h0.6M46 340.5h0.6M46 341.5h0.6M46 342.5h0.6M46 343.5h0.6M46 344h0.6M46 344.5h0.6M46 345h0.6M46 346h0.6M46 347h0.6M46 347.5h0.6M46 348h0.6M46 349h0.6M46 349.5h0.6M46 350h0.6M46 350.5h0.6M46 351h0.6M46 352h0.6M46 352.5h0.6M46 353h0.6M46 353.5h0.6M46 354h0.6M46 354.5h0.6M46 355h0.6M46 355.5h0.6M46 356h0.6M46 356.5h0.6M46 357.5h0.6M46 358h0.6M46 359h0.6M46 359.5h0.6M46 361.5h0.6M46 363h0.6M46.5 339.5h0.6M46.5 340.5h0.6M46.5 342h0.6M46.5 343.5h0.6M46.5 344.5h0.6M46.5 345.5h0.6M46.5 346.5h0.6M46.5 347.5h0.6M46.5 348h0.6M46.5 348.5h0.6M46.5 349.5h0.6M46.5 350h0.6M46.5 350.5h0.6M46.5 351h0.6M46.5 351.5h0.6M46.5 352h0.6M46.5 353h0.6M46.5 353.5h0.6M46.5 354.5h0.6M46.5 355h0.6M46.5 355.5h0.6M46.5 356h0.6M46.5 356.5h0.6M46.5 357h0.6M46.5 358.5h0.6M46.5 359h0.6M46.5 360h0.6M46.5 361.5h0.6M46.5 362h0.6M46.5 363h0.6M47 332h0.6M47 337.5h0.6M47 338.5h0.6M47 339h0.6M47 339.5h0.6M47 341.5h0.6M47 342h0.6M47 342.5h0.6M47 343.5h0.6M47 344.5h0.6M47 345h0.6M47 346h0.6M47 346.5h0.6M47 347h0.6M47 347.5h0.6M47 348h0.6M47 348.5h0.6M47 349h0.6M47 350h0.6M47 350.5h0.6M47 351h0.6M47 352h0.6M47 352.5h0.6M47 353h0.6M47 353.5h0.6M47 354h0.6M47 355h0.6M47 355.5h0.6M47 356h0.6M47 357h0.6M47 360.5h0.6M47 361.5h0.6M47 362.5h0.6M47 363h0.6M47.5 337.5h0.6M47.5 339h0.6M47.5 339.5h0.6M47.5 341h0.6M47.5 341.5h0.6M47.5 342h0.6M47.5 342.5h0.6M47.5 343h0.6M47.5 343.5h0.6M47.5 344h0.6M47.5 344.5h0.6M47.5 345h0.6M47.5 345.5h0.6M47.5 346h0.6M47.5 349h0.6M47.5 350h0.6M47.5 350.5h0.6M47.5 351h0.6M47.5 351.5h0.6M47.5 352h0.6M47.5 352.5h0.6M47.5 353.5h0.6M47.5 354h0.6M47.5 354.5h0.6M47.5 355.5h0.6M47.5 356.5h0.6M47.5 357h0.6M47.5 358h0.6M47.5 359h0.6M47.5 361h0.6M47.5 363h0.6M48 332.5h0.6M48 335.5h0.6M48 336.5h0.6M48 337.5h0.6M48 342h0.6M48 342.5h0.6M48 343h0.6M48 344h0.6M48 345h0.6M48 347h0.6M48 347.5h0.6M48 348.5h0.6M48 349h0.6M48 349.5h0.6M48 350h0.6M48 351h0.6M48 351.5h0.6M48 352h0.6M48 352.5h0.6M48 353h0.6M48 353.5h0.6M48 354h0.6M48 354.5h0.6M48 355h0.6M48 355.5h0.6M48 356h0.6M48 356.5h0.6M48 358.5h0.6M48 360h0.6M48.5 332h0.6M48.5 338h0.6M48.5 338.5h0.6M48.5 341h0.6M48.5 343.5h0.6M48.5 344.5h0.6M48.5 345h0.6M48.5 345.5h0.6M48.5 347h0.6M48.5 348h0.6M48.5 348.5h0.6M48.5 349h0.6M48.5 349.5h0.6M48.5 350h0.6M48.5 350.5h0.6M48.5 351h0.6M48.5 352h0.6M48.5 352.5h0.6M48.5 353.5h0.6M48.5 355.5h0.6M48.5 356.5h0.6M48.5 357.5h0.6M48.5 358h0.6M48.5 358.5h0.6M48.5 360h0.6M48.5 360.5h0.6M48.5 361h0.6M48.5 363h0.6M49 339.5h0.6M49 340.5h0.6M49 341h0.6M49 342h0.6M49 342.5h0.6M49 343h0.6M49 343.5h0.6M49 344h0.6M49 345h0.6M49 346h0.6M49 346.5h0.6M49 347h0.6M49 347.5h0.6M49 348.5h0.6M49 349h0.6M49 350h0.6M49 350.5h0.6M49 351.5h0.6M49 352h0.6M49 352.5h0.6M49 353h0.6M49 354h0.6M49 354.5h0.6M49 355h0.6M49 356h0.6M49 356.5h0.6M49 357h0.6M49 358h0.6M49 359.5h0.6M49 360h0.6M49 362h0.6M49 363h0.6M49.5 340h0.6M49.5 341.5h0.6M49.5 342h0.6M49.5 342.5h0.6M49.5 343.5h0.6M49.5 344h0.6M49.5 345h0.6M49.5 346.5h0.6M49.5 348h0.6M49.5 349h0.6M49.5 349.5h0.6M49.5 350h0.6M49.5 350.5h0.6M49.5 351h0.6M49.5 351.5h0.6M49.5 352h0.6M49.5 352.5h0.6M49.5 353h0.6M49.5 353.5h0.6M49.5 355h0.6M49.5 355.5h0.6M49.5 356h0.6M49.5 358.5h0.6M49.5 361h0.6M49.5 362h0.6M49.5 363h0.6M50 337h0.6M50 341.5h0.6M50 342h0.6M50 343.5h0.6M50 344h0.6M50 344.5h0.6M50 345h0.6M50 345.5h0.6M50 346h0.6M50 346.5h0.6M50 347h0.6M50 348h0.6M50 348.5h0.6M50 349.5h0.6M50 350h0.6M50 351h0.6M50 351.5h0.6M50 352h0.6M50 352.5h0.6M50 353h0.6M50 354.5h0.6M50 355h0.6M50 355.5h0.6M50 357.5h0.6M50 358h0.6M50 358.5h0.6M50 360h0.6M50 363h0.6M50.5 337.5h0.6M50.5 341h0.6M50.5 343h0.6M50.5 343.5h0.6M50.5 344.5h0.6M50.5 345h0.6M50.5 345.5h0.6M50.5 346h0.6M50.5 346.5h0.6M50.5 347h0.6M50.5 347.5h0.6M50.5 349h0.6M50.5 349.5h0.6M50.5 350h0.6M50.5 351h0.6M50.5 351.5h0.6M50.5 352h0.6M50.5 352.5h0.6M50.5 353h0.6M50.5 353.5h0.6M50.5 354h0.6M50.5 355h0.6M50.5 356.5h0.6M50.5 357h0.6M50.5 357.5h0.6M50.5 358.5h0.6M50.5 363h0.6M51 334h0.6M51 337.5h0.6M51 339h0.6M51 340.5h0.6M51 342h0.6M51 342.5h0.6M51 343.5h0.6M51 345h0.6M51 346h0.6M51 347h0.6M51 348.5h0.6M51 349.5h0.6M51 350.5h0.6M51 351.5h0.6M51 352h0.6M51 353.5h0.6M51 354h0.6M51 354.5h0.6M51 355.5h0.6M51 357h0.6M51 359.5h0.6M51 360.5h0.6M51 363h0.6M51.5 337h0.6M51.5 340.5h0.6M51.5 341.5h0.6M51.5 342.5h0.6M51.5 343.5h0.6M51.5 344h0.6M51.5 344.5h0.6M51.5 346h0.6M51.5 346.5h0.6M51.5 347h0.6M51.5 347.5h0.6M51.5 348.5h0.6M51.5 349h0.6M51.5 349.5h0.6M51.5 350h0.6M51.5 351h0.6M51.5 351.5h0.6M51.5 352h0.6M51.5 352.5h0.6M51.5 353.5h0.6M51.5 354h0.6M51.5 354.5h0.6M51.5 355.5h0.6M51.5 356h0.6M51.5 356.5h0.6M51.5 357h0.6M51.5 359.5h0.6M51.5 360h0.6M51.5 361.5h0.6M51.5 363h0.6M52 335.5h0.6M52 341h0.6M52 341.5h0.6M52 342h0.6M52 343h0.6M52 344.5h0.6M52 345h0.6M52 346h0.6M52 347h0.6M52 348h0.6M52 348.5h0.6M52 349h0.6M52 349.5h0.6M52 350h0.6M52 351h0.6M52 351.5h0.6M52 352.5h0.6M52 353h0.6M52 353.5h0.6M52 354h0.6M52 354.5h0.6M52 355.5h0.6M52 356h0.6M52 356.5h0.6M52 357h0.6M52 358.5h0.6M52 360.5h0.6M52 363h0.6M52.5 336.5h0.6M52.5 337.5h0.6M52.5 341h0.6M52.5 341.5h0.6M52.5 342h0.6M52.5 343h0.6M52.5 343.5h0.6M52.5 344h0.6M52.5 344.5h0.6M52.5 345h0.6M52.5 345.5h0.6M52.5 346h0.6M52.5 346.5h0.6M52.5 347h0.6M52.5 347.5h0.6M52.5 348h0.6M52.5 348.5h0.6M52.5 349.5h0.6M52.5 350h0.6M52.5 350.5h0.6M52.5 351.5h0.6M52.5 352.5h0.6M52.5 353.5h0.6M52.5 354h0.6M52.5 354.5h0.6M52.5 355h0.6M52.5 356.5h0.6M52.5 358h0.6M52.5 359h0.6M52.5 363h0.6M53 338h0.6M53 340.5h0.6M53 343.5h0.6M53 345h0.6M53 347h0.6M53 347.5h0.6M53 348h0.6M53 349h0.6M53 350h0.6M53 350.5h0.6M53 351h0.6M53 352.5h0.6M53 353.5h0.6M53 355h0.6M53 355.5h0.6M53 356h0.6M53 357h0.6M53 357.5h0.6M53 359h0.6M53 360h0.6M53 361h0.6M53 362h0.6M53.5 332.5h0.6M53.5 335.5h0.6M53.5 337.5h0.6M53.5 339.5h0.6M53.5 343h0.6M53.5 344.5h0.6M53.5 345h0.6M53.5 346h0.6M53.5 346.5h0.6M53.5 347h0.6M53.5 348h0.6M53.5 348.5h0.6M53.5 349h0.6M53.5 349.5h0.6M53.5 350h0.6M53.5 350.5h0.6M53.5 351h0.6M53.5 351.5h0.6M53.5 352h0.6M53.5 352.5h0.6M53.5 353.5h0.6M53.5 355.5h0.6M53.5 356.5h0.6M53.5 357h0.6M53.5 360.5h0.6M53.5 363h0.6M54 339.5h0.6M54 340.5h0.6M54 341.5h0.6M54 343.5h0.6M54 344h0.6M54 344.5h0.6M54 346h0.6M54 347.5h0.6M54 348h0.6M54 348.5h0.6M54 349.5h0.6M54 350h0.6M54 350.5h0.6M54 351.5h0.6M54 352h0.6M54 352.5h0.6M54 353h0.6M54 353.5h0.6M54 354.5h0.6M54 355h0.6M54 356h0.6M54 356.5h0.6M54 357.5h0.6M54 358h0.6M54 359h0.6M54 359.5h0.6M54 360h0.6M54 361.5h0.6M54.5 336.5h0.6M54.5 339h0.6M54.5 341.5h0.6M54.5 343h0.6M54.5 344h0.6M54.5 345h0.6M54.5 345.5h0.6M54.5 346h0.6M54.5 346.5h0.6M54.5 347h0.6M54.5 347.5h0.6M54.5 348h0.6M54.5 348.5h0.6M54.5 349h0.6M54.5 350h0.6M54.5 351h0.6M54.5 351.5h0.6M54.5 352h0.6M54.5 352.5h0.6M54.5 353h0.6M54.5 353.5h0.6M54.5 355h0.6M54.5 356h0.6M54.5 357h0.6M54.5 358.5h0.6M54.5 359h0.6M54.5 360h0.6M54.5 363h0.6M55 334.5h0.6M55 337.5h0.6M55 340h0.6M55 341.5h0.6M55 345h0.6M55 346.5h0.6M55 347h0.6M55 347.5h0.6M55 348h0.6M55 348.5h0.6M55 350h0.6M55 350.5h0.6M55 351h0.6M55 351.5h0.6M55 354.5h0.6M55 358h0.6M55 359h0.6M55 359.5h0.6M55.5 340.5h0.6M55.5 343.5h0.6M55.5 344h0.6M55.5 344.5h0.6M55.5 346h0.6M55.5 347h0.6M55.5 348h0.6M55.5 349h0.6M55.5 351h0.6M55.5 353h0.6M55.5 354h0.6M55.5 355h0.6M55.5 357h0.6M55.5 357.5h0.6M55.5 362h0.6M55.5 363h0.6M56 338h0.6M56 338.5h0.6M56 344.5h0.6M56 345.5h0.6M56 346h0.6M56 348h0.6M56 348.5h0.6M56 349.5h0.6M56 350h0.6M56 350.5h0.6M56 351h0.6M56 351.5h0.6M56 354h0.6M56 354.5h0.6M56 355.5h0.6M56 356.5h0.6M56 363h0.6M56.5 337.5h0.6M56.5 342h0.6M56.5 342.5h0.6M56.5 344h0.6M56.5 345.5h0.6M56.5 346.5h0.6M56.5 347.5h0.6M56.5 348.5h0.6M56.5 349.5h0.6M56.5 351h0.6M56.5 351.5h0.6M56.5 352.5h0.6M56.5 353.5h0.6M56.5 354.5h0.6M56.5 356.5h0.6M56.5 357h0.6M56.5 357.5h0.6M56.5 358h0.6M56.5 358.5h0.6M56.5 360h0.6M56.5 361h0.6M56.5 363h0.6M57 340.5h0.6M57 341.5h0.6M57 342.5h0.6M57 343h0.6M57 344h0.6M57 345h0.6M57 346.5h0.6M57 347h0.6M57 348.5h0.6M57 349h0.6M57 349.5h0.6M57 350h0.6M57 351h0.6M57 351.5h0.6M57 352h0.6M57 352.5h0.6M57 353.5h0.6M57 354h0.6M57 356.5h0.6M57 357.5h0.6M57 358h0.6M57 363h0.6M57.5 341.5h0.6M57.5 345h0.6M57.5 345.5h0.6M57.5 346h0.6M57.5 346.5h0.6M57.5 347h0.6M57.5 348.5h0.6M57.5 349h0.6M57.5 349.5h0.6M57.5 350h0.6M57.5 350.5h0.6M57.5 351.5h0.6M57.5 354h0.6M57.5 354.5h0.6M57.5 356h0.6M57.5 359.5h0.6M57.5 360h0.6M57.5 361h0.6M58 338.5h0.6M58 341h0.6M58 343h0.6M58 345h0.6M58 346.5h0.6M58 349.5h0.6M58 350h0.6M58 350.5h0.6M58 351h0.6M58 352h0.6M58 352.5h0.6M58 353h0.6M58 353.5h0.6M58 354h0.6M58 355h0.6M58 356.5h0.6M58 358h0.6M58 358.5h0.6M58 360h0.6M58 361h0.6M58 363h0.6M58.5 345h0.6M58.5 345.5h0.6M58.5 347h0.6M58.5 347.5h0.6M58.5 348h0.6M58.5 348.5h0.6M58.5 349h0.6M58.5 349.5h0.6M58.5 350h0.6M58.5 351h0.6M58.5 353h0.6M58.5 353.5h0.6M58.5 354h0.6M58.5 355h0.6M58.5 355.5h0.6M58.5 356h0.6M58.5 357h0.6M58.5 359h0.6M59 340.5h0.6M59 344h0.6M59 345h0.6M59 345.5h0.6M59 347h0.6M59 347.5h0.6M59 349h0.6M59 349.5h0.6M59 350h0.6M59 351h0.6M59 351.5h0.6M59 352.5h0.6M59 353.5h0.6M59 354.5h0.6M59 355.5h0.6M59 357h0.6M59 357.5h0.6M59 360h0.6M59 360.5h0.6M59 362.5h0.6M59.5 341.5h0.6M59.5 342h0.6M59.5 344h0.6M59.5 344.5h0.6M59.5 347.5h0.6M59.5 348h0.6M59.5 348.5h0.6M59.5 349h0.6M59.5 351h0.6M59.5 352h0.6M59.5 353h0.6M59.5 353.5h0.6M59.5 355.5h0.6M59.5 356.5h0.6M59.5 360.5h0.6M59.5 362h0.6M60 337.5h0.6M60 344h0.6M60 345h0.6M60 345.5h0.6M60 346.5h0.6M60 347.5h0.6M60 348h0.6M60 348.5h0.6M60 349.5h0.6M60 350.5h0.6M60 351h0.6M60 352.5h0.6M60 353h0.6M60 353.5h0.6M60 354h0.6M60 354.5h0.6M60 355.5h0.6M60 357.5h0.6M60 363h0.6M60.5 341.5h0.6M60.5 342.5h0.6M60.5 343h0.6M60.5 343.5h0.6M60.5 344h0.6M60.5 344.5h0.6M60.5 347h0.6M60.5 348.5h0.6M60.5 349h0.6M60.5 350h0.6M60.5 350.5h0.6M60.5 351h0.6M60.5 351.5h0.6M60.5 352h0.6M60.5 353h0.6M60.5 354h0.6M60.5 356h0.6M60.5 359h0.6M61 342h0.6M61 343.5h0.6M61 344h0.6M61 346h0.6M61 346.5h0.6M61 347h0.6M61 348h0.6M61 350h0.6M61 350.5h0.6M61 351h0.6M61 351.5h0.6M61 352h0.6M61 352.5h0.6M61 355h0.6M61 356.5h0.6M61 357h0.6M61 357.5h0.6M61 359h0.6M61 363h0.6M61.5 341.5h0.6M61.5 342.5h0.6M61.5 344.5h0.6M61.5 345.5h0.6M61.5 348h0.6M61.5 349h0.6M61.5 350.5h0.6M61.5 351h0.6M61.5 352h0.6M61.5 353h0.6M61.5 353.5h0.6M61.5 354.5h0.6M61.5 355.5h0.6M61.5 356h0.6M61.5 357.5h0.6M61.5 359.5h0.6M61.5 362h0.6M62 332h0.6M62 341h0.6M62 342h0.6M62 343.5h0.6M62 344h0.6M62 345.5h0.6M62 347h0.6M62 349h0.6M62 350.5h0.6M62 351h0.6M62 351.5h0.6M62 353.5h0.6M62 354h0.6M62 355h0.6M62 356h0.6M62 356.5h0.6M62 357h0.6M62 357.5h0.6M62 361.5h0.6M62 362.5h0.6M62 363h0.6M62.5 341h0.6M62.5 342h0.6M62.5 344h0.6M62.5 344.5h0.6M62.5 346h0.6M62.5 346.5h0.6M62.5 347h0.6M62.5 348h0.6M62.5 349h0.6M62.5 349.5h0.6M62.5 350h0.6M62.5 350.5h0.6M62.5 351h0.6M62.5 351.5h0.6M62.5 352.5h0.6M62.5 353h0.6M62.5 353.5h0.6M62.5 354h0.6M62.5 354.5h0.6M62.5 355.5h0.6M62.5 356h0.6M62.5 357.5h0.6M62.5 361.5h0.6M62.5 363h0.6M63 331.5h0.6M63 341.5h0.6M63 342.5h0.6M63 346h0.6M63 346.5h0.6M63 347.5h0.6M63 348.5h0.6M63 349h0.6M63 349.5h0.6M63 350.5h0.6M63 351.5h0.6M63 352h0.6M63 355.5h0.6M63 357h0.6M63 357.5h0.6M63 359.5h0.6M63 361h0.6M63.5 339h0.6M63.5 344.5h0.6M63.5 345h0.6M63.5 345.5h0.6M63.5 346.5h0.6M63.5 347h0.6M63.5 347.5h0.6M63.5 348.5h0.6M63.5 349h0.6M63.5 349.5h0.6M63.5 350.5h0.6M63.5 351.5h0.6M63.5 357h0.6M63.5 363h0.6M64 338.5h0.6M64 341.5h0.6M64 342h0.6M64 343h0.6M64 344.5h0.6M64 348h0.6M64 349.5h0.6M64 350h0.6M64 350.5h0.6M64 351h0.6M64 351.5h0.6M64 352h0.6M64 352.5h0.6M64 353.5h0.6M64 356h0.6M64 356.5h0.6M64 358h0.6M64 358.5h0.6M64 363h0.6M64.5 342.5h0.6M64.5 344.5h0.6M64.5 345h0.6M64.5 346h0.6M64.5 348.5h0.6M64.5 349h0.6M64.5 349.5h0.6M64.5 350h0.6M64.5 351.5h0.6M64.5 352h0.6M64.5 352.5h0.6M64.5 353h0.6M64.5 353.5h0.6M64.5 354h0.6M64.5 354.5h0.6M64.5 355h0.6M64.5 356h0.6M64.5 356.5h0.6M64.5 359h0.6M64.5 361h0.6M64.5 363h0.6M65 341.5h0.6M65 343h0.6M65 346h0.6M65 347.5h0.6M65 348.5h0.6M65 349h0.6M65 350h0.6M65 351h0.6M65 351.5h0.6M65 352h0.6M65 353.5h0.6M65 354h0.6M65 355h0.6M65 356h0.6M65 356.5h0.6M65 357.5h0.6M65.5 339h0.6M65.5 340h0.6M65.5 340.5h0.6M65.5 344.5h0.6M65.5 345h0.6M65.5 345.5h0.6M65.5 347.5h0.6M65.5 348h0.6M65.5 349h0.6M65.5 350h0.6M65.5 350.5h0.6M65.5 351h0.6M65.5 352h0.6M65.5 353h0.6M65.5 354h0.6M65.5 355.5h0.6M65.5 356h0.6M65.5 358h0.6M65.5 358.5h0.6M66 338.5h0.6M66 339h0.6M66 339.5h0.6M66 342h0.6M66 347h0.6M66 347.5h0.6M66 349.5h0.6M66 350.5h0.6M66 351h0.6M66 352h0.6M66 355.5h0.6M66 356h0.6M66 356.5h0.6M66 360h0.6M66 362h0.6M66.5 339.5h0.6M66.5 347h0.6M66.5 347.5h0.6M66.5 349h0.6M66.5 349.5h0.6M66.5 350h0.6M66.5 350.5h0.6M66.5 352.5h0.6M66.5 353.5h0.6M66.5 354h0.6M66.5 355h0.6M66.5 355.5h0.6M66.5 356h0.6M66.5 357.5h0.6M66.5 358.5h0.6M66.5 361h0.6M67 337.5h0.6M67 344h0.6M67 344.5h0.6M67 347.5h0.6M67 348.5h0.6M67 349.5h0.6M67 350.5h0.6M67 351h0.6M67 351.5h0.6M67 352.5h0.6M67 353.5h0.6M67 355h0.6M67 356h0.6M67 356.5h0.6M67 357h0.6M67 359.5h0.6M67.5 342.5h0.6M67.5 343h0.6M67.5 346h0.6M67.5 348.5h0.6M67.5 349h0.6M67.5 351h0.6M67.5 351.5h0.6M67.5 352h0.6M67.5 352.5h0.6M67.5 354h0.6M67.5 354.5h0.6M67.5 355.5h0.6M67.5 357h0.6M67.5 361h0.6M68 332h0.6M68 341.5h0.6M68 344.5h0.6M68 348.5h0.6M68 349.5h0.6M68 350h0.6M68 350.5h0.6M68 351.5h0.6M68 352.5h0.6M68 353h0.6M68 353.5h0.6M68 354h0.6M68 354.5h0.6M68 355h0.6M68 355.5h0.6M68 356h0.6M68 356.5h0.6M68 357h0.6M68.5 346h0.6M68.5 347h0.6M68.5 348h0.6M68.5 349h0.6M68.5 349.5h0.6M68.5 350h0.6M68.5 350.5h0.6M68.5 352h0.6M68.5 352.5h0.6M68.5 353h0.6M68.5 354h0.6M68.5 355h0.6M68.5 356.5h0.6M68.5 357.5h0.6M68.5 358h0.6M68.5 359h0.6M68.5 363h0.6M69 345.5h0.6M69 346h0.6M69 346.5h0.6M69 347.5h0.6M69 348.5h0.6M69 349h0.6M69 350h0.6M69 350.5h0.6M69 351h0.6M69 351.5h0.6M69 352h0.6M69 352.5h0.6M69 353.5h0.6M69 354.5h0.6M69 355h0.6M69 357.5h0.6M69 358h0.6M69 358.5h0.6M69 360h0.6M69.5 343.5h0.6M69.5 344h0.6M69.5 345h0.6M69.5 345.5h0.6M69.5 346.5h0.6M69.5 347h0.6M69.5 347.5h0.6M69.5 348.5h0.6M69.5 349h0.6M69.5 351.5h0.6M69.5 352h0.6M69.5 352.5h0.6M69.5 353h0.6M69.5 353.5h0.6M69.5 354h0.6M69.5 354.5h0.6M69.5 355h0.6M69.5 356h0.6M69.5 357h0.6M69.5 358h0.6M69.5 359h0.6M69.5 359.5h0.6M69.5 361h0.6M70 342.5h0.6M70 348h0.6M70 349h0.6M70 349.5h0.6M70 350h0.6M70 350.5h0.6M70 351h0.6M70 352.5h0.6M70 353h0.6M70 353.5h0.6M70 354h0.6M70 354.5h0.6M70 356h0.6M70 356.5h0.6M70 357h0.6M70 358.5h0.6M70.5 339.5h0.6M70.5 342.5h0.6M70.5 343h0.6M70.5 344.5h0.6M70.5 345h0.6M70.5 345.5h0.6M70.5 347h0.6M70.5 347.5h0.6M70.5 348h0.6M70.5 348.5h0.6M70.5 349h0.6M70.5 349.5h0.6M70.5 350h0.6M70.5 350.5h0.6M70.5 351.5h0.6M70.5 352.5h0.6M70.5 353h0.6M70.5 354h0.6M70.5 354.5h0.6M70.5 355.5h0.6M70.5 356h0.6M70.5 356.5h0.6M70.5 357h0.6M70.5 357.5h0.6M70.5 359.5h0.6M70.5 361.5h0.6M71 338h0.6M71 341.5h0.6M71 343.5h0.6M71 345h0.6M71 348.5h0.6M71 349h0.6M71 351.5h0.6M71 352.5h0.6M71 353.5h0.6M71 354h0.6M71 354.5h0.6M71 355.5h0.6M71 356h0.6M71 356.5h0.6M71 357h0.6M71 358h0.6M71 359.5h0.6M71 362h0.6M71 363h0.6M71.5 338h0.6M71.5 341h0.6M71.5 347h0.6M71.5 348h0.6M71.5 348.5h0.6M71.5 349h0.6M71.5 349.5h0.6M71.5 350h0.6M71.5 351h0.6M71.5 352h0.6M71.5 352.5h0.6M71.5 353h0.6M71.5 353.5h0.6M71.5 354h0.6M71.5 355h0.6M71.5 356h0.6M71.5 356.5h0.6M71.5 357h0.6M71.5 357.5h0.6M71.5 359h0.6M72 342.5h0.6M72 343h0.6M72 345.5h0.6M72 348.5h0.6M72 349h0.6M72 350h0.6M72 350.5h0.6M72 351.5h0.6M72 352h0.6M72 352.5h0.6M72 353.5h0.6M72 354h0.6M72 354.5h0.6M72 355h0.6M72 356.5h0.6M72 357h0.6M72 358h0.6M72 363h0.6M72.5 344h0.6M72.5 346.5h0.6M72.5 348h0.6M72.5 349h0.6M72.5 349.5h0.6M72.5 350.5h0.6M72.5 351h0.6M72.5 351.5h0.6M72.5 352.5h0.6M72.5 353.5h0.6M72.5 354h0.6M72.5 354.5h0.6M72.5 355h0.6M72.5 356.5h0.6M72.5 357.5h0.6M72.5 358h0.6M72.5 358.5h0.6M72.5 360h0.6M73 349.5h0.6M73 350h0.6M73 350.5h0.6M73 351.5h0.6M73 352h0.6M73 353h0.6M73 354h0.6M73 354.5h0.6M73 355h0.6M73 355.5h0.6M73 356h0.6M73 358h0.6M73 359h0.6M73 359.5h0.6M73 360h0.6M73 362h0.6M73.5 342.5h0.6M73.5 348.5h0.6M73.5 349h0.6M73.5 349.5h0.6M73.5 350h0.6M73.5 350.5h0.6M73.5 351h0.6M73.5 352.5h0.6M73.5 353h0.6M73.5 353.5h0.6M73.5 354h0.6M73.5 354.5h0.6M73.5 355h0.6M73.5 356h0.6M73.5 358h0.6M73.5 360.5h0.6M74 343h0.6M74 344.5h0.6M74 345h0.6M74 347.5h0.6M74 348.5h0.6M74 349.5h0.6M74 350h0.6M74 350.5h0.6M74 351h0.6M74 351.5h0.6M74 352.5h0.6M74 353h0.6M74 353.5h0.6M74 355.5h0.6M74 356h0.6M74 356.5h0.6M74 357h0.6M74 357.5h0.6M74 363h0.6M74.5 344h0.6M74.5 347h0.6M74.5 348h0.6M74.5 349.5h0.6M74.5 350h0.6M74.5 350.5h0.6M74.5 353h0.6M74.5 353.5h0.6M74.5 354h0.6M74.5 355.5h0.6M74.5 356h0.6M74.5 356.5h0.6M74.5 357.5h0.6M74.5 358h0.6M74.5 358.5h0.6M74.5 359.5h0.6M75 345.5h0.6M75 346h0.6M75 346.5h0.6M75 347.5h0.6M75 349.5h0.6M75 350h0.6M75 351.5h0.6M75 352.5h0.6M75 353h0.6M75 354.5h0.6M75 355h0.6M75 355.5h0.6M75 356h0.6M75 356.5h0.6M75 357.5h0.6M75 359h0.6M75.5 339h0.6M75.5 343h0.6M75.5 347.5h0.6M75.5 349.5h0.6M75.5 350.5h0.6M75.5 352h0.6M75.5 352.5h0.6M75.5 353.5h0.6M75.5 354.5h0.6M75.5 355h0.6M75.5 357.5h0.6M75.5 358h0.6M75.5 358.5h0.6M75.5 360h0.6M76 340.5h0.6M76 345h0.6M76 349.5h0.6M76 352.5h0.6M76 355h0.6M76 356.5h0.6M76 361.5h0.6M76.5 345h0.6M76.5 349h0.6M76.5 350h0.6M76.5 350.5h0.6M76.5 353h0.6M76.5 354.5h0.6M76.5 355.5h0.6M76.5 356h0.6M76.5 358h0.6M76.5 361.5h0.6M76.5 363h0.6M77 345.5h0.6M77 347.5h0.6M77 350h0.6M77 353h0.6M77 353.5h0.6M77 354h0.6M77 357h0.6M77 358h0.6M77 361.5h0.6M77 363h0.6M77.5 346h0.6M77.5 348.5h0.6M77.5 349h0.6M77.5 349.5h0.6M77.5 350h0.6M77.5 351.5h0.6M77.5 353h0.6M77.5 354h0.6M77.5 354.5h0.6M77.5 357h0.6M77.5 361h0.6M77.5 362h0.6M78 350.5h0.6M78 351h0.6M78 351.5h0.6M78 353h0.6M78 356.5h0.6M78 357.5h0.6M78.5 349h0.6M78.5 349.5h0.6M78.5 350.5h0.6M78.5 352.5h0.6M78.5 353.5h0.6M78.5 354h0.6M78.5 355h0.6M78.5 356.5h0.6M78.5 357h0.6M78.5 359.5h0.6M79 348h0.6M79 352h0.6M79 352.5h0.6M79 353h0.6M79 363h0.6M79.5 346h0.6M79.5 349.5h0.6M79.5 352h0.6M79.5 353.5h0.6M79.5 357.5h0.6M79.5 360h0.6M80 353.5h0.6M80 355h0.6M80 362h0.6M80.5 345.5h0.6M80.5 351h0.6M80.5 356h0.6M80.5 357h0.6M80.5 361h0.6M81 353.5h0.6M81 357h0.6M81.5 341h0.6M81.5 350.5h0.6M81.5 351h0.6M81.5 355h0.6M81.5 355.5h0.6M82 351.5h0.6M82 353h0.6M82 355h0.6M82 356.5h0.6M82 361.5h0.6M82.5 350h0.6M82.5 350.5h0.6M82.5 353.5h0.6M82.5 354.5h0.6M82.5 357h0.6M83 347.5h0.6M83 352h0.6M83 355h0.6M84 356.5h0.6M84.5 350.5h0.6M84.5 357h0.6M85.5 348.5h0.6M85.5 356h0.6M87.5 342.5h0.6" stroke="#3a3a3a" stroke-width="0.6" fill="none" opacity="1"/>
<path d="M29 328h0.75M29 330.5h0.75M29 331h0.75M29 331.5h0.75M29 332.5h0.75M29 333h0.75M29 333.5h0.75M29 334h0.75M29 334.5h0.75M29 335h0.75M29 335.5h0.75M29 336h0.75M29 336.5h0.75M29 337h0.75M29 337.5h0.75M29 338h0.75M29 338.5h0.75M29 339h0.75M29 339.5h0.75M29 340h0.75M29 340.5h0.75M29 341h0.75M29 341.5h0.75M29 342h0.75M29 342.5h0.75M29 343h0.75M29 343.5h0.75M29 345.5h0.75M29.5 330h0.75M29.5 331.5h0.75M29.5 332h0.75M29.5 334.5h0.75M29.5 335.5h0.75M29.5 336h0.75M29.5 336.5h0.75M29.5 337.5h0.75M29.5 338h0.75M29.5 340h0.75M29.5 341h0.75M29.5 341.5h0.75M29.5 344h0.75M30 335h0.75M30 335.5h0.75M30 336h0.75M30 336.5h0.75M30 337h0.75M30 337.5h0.75M30 338.5h0.75M30 339h0.75M30 339.5h0.75M30 340h0.75M30 341h0.75M30 341.5h0.75M30 342.5h0.75M30 343.5h0.75M30.5 328h0.75M30.5 333.5h0.75M30.5 334h0.75M30.5 334.5h0.75M30.5 335.5h0.75M30.5 336h0.75M30.5 336.5h0.75M30.5 337h0.75M30.5 337.5h0.75M30.5 339h0.75M30.5 339.5h0.75M30.5 343.5h0.75M31 333h0.75M31 333.5h0.75M31 334h0.75M31 334.5h0.75M31 336h0.75M31 336.5h0.75M31 337.5h0.75M31 338h0.75M31 338.5h0.75M31 339h0.75M31 339.5h0.75M31 340.5h0.75M31 342h0.75M31 343h0.75M31 343.5h0.75M31 344h0.75M31.5 333h0.75M31.5 333.5h0.75M31.5 334.5h0.75M31.5 335h0.75M31.5 336h0.75M31.5 337.5h0.75M31.5 338.5h0.75M31.5 340h0.75M31.5 340.5h0.75M31.5 341h0.75M31.5 341.5h0.75M31.5 342.5h0.75M32 332.5h0.75M32 333h0.75M32 333.5h0.75M32 334h0.75M32 334.5h0.75M32 335.5h0.75M32 336h0.75M32 336.5h0.75M32 337.5h0.75M32 338h0.75M32 338.5h0.75M32 339.5h0.75M32 340h0.75M32 340.5h0.75M32 341h0.75M32 342h0.75M32 343.5h0.75M32 344.5h0.75M32 345.5h0.75M32.5 331h0.75M32.5 332h0.75M32.5 332.5h0.75M32.5 333h0.75M32.5 334h0.75M32.5 334.5h0.75M32.5 335.5h0.75M32.5 336h0.75M32.5 336.5h0.75M32.5 337h0.75M32.5 337.5h0.75M32.5 338h0.75M32.5 338.5h0.75M32.5 339h0.75M32.5 339.5h0.75M32.5 342h0.75M32.5 342.5h0.75M32.5 344.5h0.75M32.5 345h0.75M33 330h0.75M33 330.5h0.75M33 333h0.75M33 333.5h0.75M33 334.5h0.75M33 335.5h0.75M33 336h0.75M33 337h0.75M33 337.5h0.75M33 338h0.75M33 338.5h0.75M33 339h0.75M33 339.5h0.75M33 340.5h0.75M33 341h0.75M33 341.5h0.75M33 342h0.75M33 343h0.75M33 344h0.75M33 344.5h0.75M33 345h0.75M33.5 329h0.75M33.5 330.5h0.75M33.5 331.5h0.75M33.5 334h0.75M33.5 334.5h0.75M33.5 335h0.75M33.5 335.5h0.75M33.5 336h0.75M33.5 336.5h0.75M33.5 337.5h0.75M33.5 338h0.75M33.5 338.5h0.75M33.5 339h0.75M33.5 339.5h0.75M33.5 340h0.75M33.5 341h0.75M33.5 341.5h0.75M33.5 342h0.75M33.5 342.5h0.75M33.5 344.5h0.75M33.5 347.5h0.75M34 328h0.75M34 331h0.75M34 332h0.75M34 332.5h0.75M34 333h0.75M34 333.5h0.75M34 334h0.75M34 334.5h0.75M34 335h0.75M34 335.5h0.75M34 336.5h0.75M34 337h0.75M34 337.5h0.75M34 338h0.75M34 338.5h0.75M34 339h0.75M34 339.5h0.75M34 340h0.75M34 341h0.75M34 342h0.75M34 342.5h0.75M34 343h0.75M34.5 331h0.75M34.5 331.5h0.75M34.5 332h0.75M34.5 333h0.75M34.5 333.5h0.75M34.5 334h0.75M34.5 334.5h0.75M34.5 335h0.75M34.5 335.5h0.75M34.5 336h0.75M34.5 336.5h0.75M34.5 337h0.75M34.5 337.5h0.75M34.5 338h0.75M34.5 338.5h0.75M34.5 339h0.75M34.5 340h0.75M34.5 340.5h0.75M34.5 341h0.75M34.5 341.5h0.75M34.5 342h0.75M34.5 345.5h0.75M35 330h0.75M35 332h0.75M35 332.5h0.75M35 333.5h0.75M35 334h0.75M35 335h0.75M35 335.5h0.75M35 336h0.75M35 336.5h0.75M35 337h0.75M35 337.5h0.75M35 338h0.75M35 338.5h0.75M35 339h0.75M35 339.5h0.75M35 340h0.75M35 341h0.75M35 341.5h0.75M35 343h0.75M35 343.5h0.75M35 344.5h0.75M35 345.5h0.75M35.5 332h0.75M35.5 332.5h0.75M35.5 333h0.75M35.5 333.5h0.75M35.5 334.5h0.75M35.5 335h0.75M35.5 335.5h0.75M35.5 336h0.75M35.5 336.5h0.75M35.5 337h0.75M35.5 337.5h0.75M35.5 338h0.75M35.5 338.5h0.75M35.5 339h0.75M35.5 339.5h0.75M35.5 341h0.75M35.5 342h0.75M35.5 342.5h0.75M35.5 346.5h0.75M36 327.5h0.75M36 329h0.75M36 330h0.75M36 330.5h0.75M36 332h0.75M36 332.5h0.75M36 333h0.75M36 333.5h0.75M36 334h0.75M36 335h0.75M36 335.5h0.75M36 336h0.75M36 336.5h0.75M36 337h0.75M36 337.5h0.75M36 338h0.75M36 339h0.75M36 340h0.75M36 340.5h0.75M36 341h0.75M36 341.5h0.75M36 342.5h0.75M36.5 329.5h0.75M36.5 330h0.75M36.5 331.5h0.75M36.5 332h0.75M36.5 332.5h0.75M36.5 333.5h0.75M36.5 334h0.75M36.5 334.5h0.75M36.5 335h0.75M36.5 335.5h0.75M36.5 336h0.75M36.5 336.5h0.75M36.5 337h0.75M36.5 337.5h0.75M36.5 338h0.75M36.5 338.5h0.75M36.5 339h0.75M36.5 339.5h0.75M36.5 340h0.75M36.5 340.5h0.75M36.5 341h0.75M36.5 341.5h0.75M36.5 342h0.75M36.5 343h0.75M36.5 346h0.75M37 329h0.75M37 330h0.75M37 330.5h0.75M37 331h0.75M37 331.5h0.75M37 332.5h0.75M37 333h0.75M37 333.5h0.75M37 334h0.75M37 334.5h0.75M37 335h0.75M37 335.5h0.75M37 336h0.75M37 336.5h0.75M37 337h0.75M37 337.5h0.75M37 338h0.75M37 338.5h0.75M37 339.5h0.75M37 340h0.75M37 340.5h0.75M37 341h0.75M37 341.5h0.75M37 342h0.75M37 342.5h0.75M37 343.5h0.75M37 345h0.75M37.5 328.5h0.75M37.5 330.5h0.75M37.5 331h0.75M37.5 331.5h0.75M37.5 332.5h0.75M37.5 333h0.75M37.5 333.5h0.75M37.5 334h0.75M37.5 334.5h0.75M37.5 335h0.75M37.5 335.5h0.75M37.5 336h0.75M37.5 336.5h0.75M37.5 337h0.75M37.5 337.5h0.75M37.5 338h0.75M37.5 338.5h0.75M37.5 339h0.75M37.5 339.5h0.75M37.5 340h0.75M37.5 340.5h0.75M37.5 341h0.75M37.5 341.5h0.75M37.5 342.5h0.75M37.5 343h0.75M37.5 345.5h0.75M38 327h0.75M38 329.5h0.75M38 331h0.75M38 332.5h0.75M38 333h0.75M38 333.5h0.75M38 334h0.75M38 334.5h0.75M38 335h0.75M38 335.5h0.75M38 336h0.75M38 336.5h0.75M38 337h0.75M38 337.5h0.75M38 338h0.75M38 338.5h0.75M38 339h0.75M38 339.5h0.75M38 340h0.75M38 341h0.75M38 341.5h0.75M38 343h0.75M38 343.5h0.75M38.5 329.5h0.75M38.5 330h0.75M38.5 330.5h0.75M38.5 331h0.75M38.5 332h0.75M38.5 332.5h0.75M38.5 333h0.75M38.5 333.5h0.75M38.5 334h0.75M38.5 335h0.75M38.5 335.5h0.75M38.5 336h0.75M38.5 336.5h0.75M38.5 337h0.75M38.5 337.5h0.75M38.5 338h0.75M38.5 338.5h0.75M38.5 339h0.75M38.5 339.5h0.75M38.5 340h0.75M38.5 340.5h0.75M38.5 341h0.75M38.5 341.5h0.75M38.5 342h0.75M38.5 343h0.75M38.5 344.5h0.75M39 325.5h0.75M39 331h0.75M39 331.5h0.75M39 332h0.75M39 333h0.75M39 333.5h0.75M39 334h0.75M39 334.5h0.75M39 335h0.75M39 335.5h0.75M39 336h0.75M39 336.5h0.75M39 337h0.75M39 337.5h0.75M39 338h0.75M39 338.5h0.75M39 339h0.75M39 339.5h0.75M39 340h0.75M39 340.5h0.75M39 341h0.75M39 341.5h0.75M39 342h0.75M39 342.5h0.75M39 343.5h0.75M39 344.5h0.75M39 345h0.75M39.5 329h0.75M39.5 330h0.75M39.5 330.5h0.75M39.5 331h0.75M39.5 332.5h0.75M39.5 333h0.75M39.5 333.5h0.75M39.5 334h0.75M39.5 334.5h0.75M39.5 335h0.75M39.5 335.5h0.75M39.5 336h0.75M39.5 336.5h0.75M39.5 337h0.75M39.5 337.5h0.75M39.5 338h0.75M39.5 338.5h0.75M39.5 339h0.75M39.5 339.5h0.75M39.5 340h0.75M39.5 340.5h0.75M39.5 341h0.75M39.5 341.5h0.75M39.5 342h0.75M39.5 342.5h0.75M39.5 344h0.75M39.5 345.5h0.75M39.5 346h0.75M40 330h0.75M40 330.5h0.75M40 331h0.75M40 332h0.75M40 332.5h0.75M40 333h0.75M40 333.5h0.75M40 334h0.75M40 334.5h0.75M40 335h0.75M40 335.5h0.75M40 336h0.75M40 336.5h0.75M40 337h0.75M40 337.5h0.75M40 338h0.75M40 338.5h0.75M40 339h0.75M40 339.5h0.75M40 340h0.75M40 341h0.75M40 341.5h0.75M40 342h0.75M40 342.5h0.75M40 343.5h0.75M40 347h0.75M40.5 329h0.75M40.5 330h0.75M40.5 330.5h0.75M40.5 331h0.75M40.5 331.5h0.75M40.5 332h0.75M40.5 332.5h0.75M40.5 333h0.75M40.5 333.5h0.75M40.5 334h0.75M40.5 334.5h0.75M40.5 335h0.75M40.5 335.5h0.75M40.5 336h0.75M40.5 336.5h0.75M40.5 337h0.75M40.5 337.5h0.75M40.5 338h0.75M40.5 338.5h0.75M40.5 339h0.75M40.5 339.5h0.75M40.5 340h0.75M40.5 340.5h0.75M40.5 341h0.75M40.5 342h0.75M40.5 342.5h0.75M40.5 343h0.75M40.5 345h0.75M40.5 348h0.75M41 327h0.75M41 328h0.75M41 329h0.75M41 329.5h0.75M41 330.5h0.75M41 332h0.75M41 332.5h0.75M41 333h0.75M41 333.5h0.75M41 334h0.75M41 334.5h0.75M41 335h0.75M41 335.5h0.75M41 336h0.75M41 336.5h0.75M41 337h0.75M41 337.5h0.75M41 338h0.75M41 338.5h0.75M41 339h0.75M41 339.5h0.75M41 340h0.75M41 340.5h0.75M41 341h0.75M41 341.5h0.75M41 342h0.75M41 342.5h0.75M41 343h0.75M41 344.5h0.75M41 345.5h0.75M41 347h0.75M41.5 326.5h0.75M41.5 329h0.75M41.5 329.5h0.75M41.5 330.5h0.75M41.5 331h0.75M41.5 331.5h0.75M41.5 332h0.75M41.5 332.5h0.75M41.5 333h0.75M41.5 333.5h0.75M41.5 334h0.75M41.5 334.5h0.75M41.5 335h0.75M41.5 335.5h0.75M41.5 336h0.75M41.5 336.5h0.75M41.5 337h0.75M41.5 337.5h0.75M41.5 338h0.75M41.5 338.5h0.75M41.5 339h0.75M41.5 339.5h0.75M41.5 340h0.75M41.5 340.5h0.75M41.5 341.5h0.75M41.5 342h0.75M41.5 342.5h0.75M41.5 343h0.75M41.5 343.5h0.75M42 326h0.75M42 327h0.75M42 327.5h0.75M42 329h0.75M42 329.5h0.75M42 331h0.75M42 331.5h0.75M42 332h0.75M42 332.5h0.75M42 333h0.75M42 333.5h0.75M42 334h0.75M42 334.5h0.75M42 335h0.75M42 335.5h0.75M42 336h0.75M42 336.5h0.75M42 337h0.75M42 337.5h0.75M42 338h0.75M42 338.5h0.75M42 339h0.75M42 339.5h0.75M42 340h0.75M42 340.5h0.75M42 341h0.75M42 341.5h0.75M42 342.5h0.75M42 343h0.75M42 343.5h0.75M42 344h0.75M42 345h0.75M42.5 326.5h0.75M42.5 329.5h0.75M42.5 330h0.75M42.5 330.5h0.75M42.5 331.5h0.75M42.5 332h0.75M42.5 332.5h0.75M42.5 333h0.75M42.5 333.5h0.75M42.5 334h0.75M42.5 334.5h0.75M42.5 335h0.75M42.5 335.5h0.75M42.5 336h0.75M42.5 336.5h0.75M42.5 337h0.75M42.5 337.5h0.75M42.5 338h0.75M42.5 338.5h0.75M42.5 339h0.75M42.5 339.5h0.75M42.5 340h0.75M42.5 340.5h0.75M42.5 341h0.75M42.5 341.5h0.75M42.5 343h0.75M42.5 344h0.75M42.5 345h0.75M42.5 345.5h0.75M43 327.5h0.75M43 330h0.75M43 331h0.75M43 331.5h0.75M43 332.5h0.75M43 333h0.75M43 333.5h0.75M43 334h0.75M43 334.5h0.75M43 335h0.75M43 335.5h0.75M43 336h0.75M43 336.5h0.75M43 337h0.75M43 337.5h0.75M43 338h0.75M43 338.5h0.75M43 339h0.75M43 339.5h0.75M43 340h0.75M43 340.5h0.75M43 341h0.75M43 341.5h0.75M43 342.5h0.75M43 343h0.75M43 343.5h0.75M43 344.5h0.75M43 346h0.75M43.5 329.5h0.75M43.5 330h0.75M43.5 330.5h0.75M43.5 331h0.75M43.5 331.5h0.75M43.5 332h0.75M43.5 332.5h0.75M43.5 333.5h0.75M43.5 334h0.75M43.5 334.5h0.75M43.5 335h0.75M43.5 335.5h0.75M43.5 336h0.75M43.5 336.5h0.75M43.5 337h0.75M43.5 337.5h0.75M43.5 338h0.75M43.5 338.5h0.75M43.5 339h0.75M43.5 339.5h0.75M43.5 340h0.75M43.5 340.5h0.75M43.5 341h0.75M43.5 341.5h0.75M43.5 342h0.75M43.5 342.5h0.75M43.5 343h0.75M43.5 343.5h0.75M43.5 345h0.75M44 329h0.75M44 329.5h0.75M44 330h0.75M44 330.5h0.75M44 331h0.75M44 331.5h0.75M44 332h0.75M44 332.5h0.75M44 333h0.75M44 333.5h0.75M44 334h0.75M44 334.5h0.75M44 335h0.75M44 335.5h0.75M44 336h0.75M44 336.5h0.75M44 337h0.75M44 337.5h0.75M44 338h0.75M44 338.5h0.75M44 339h0.75M44 339.5h0.75M44 340h0.75M44 340.5h0.75M44 341h0.75M44 341.5h0.75M44 342h0.75M44 342.5h0.75M44 345h0.75M44 346h0.75M44.5 329h0.75M44.5 330h0.75M44.5 330.5h0.75M44.5 331h0.75M44.5 331.5h0.75M44.5 332h0.75M44.5 332.5h0.75M44.5 333h0.75M44.5 333.5h0.75M44.5 334h0.75M44.5 334.5h0.75M44.5 335h0.75M44.5 335.5h0.75M44.5 336h0.75M44.5 336.5h0.75M44.5 337h0.75M44.5 337.5h0.75M44.5 338h0.75M44.5 338.5h0.75M44.5 339h0.75M44.5 339.5h0.75M44.5 340h0.75M44.5 340.5h0.75M44.5 341h0.75M44.5 341.5h0.75M44.5 342h0.75M44.5 342.5h0.75M44.5 343h0.75M44.5 343.5h0.75M45 328h0.75M45 329.5h0.75M45 330.5h0.75M45 331h0.75M45 331.5h0.75M45 332h0.75M45 332.5h0.75M45 333h0.75M45 333.5h0.75M45 334h0.75M45 334.5h0.75M45 335h0.75M45 335.5h0.75M45 336h0.75M45 336.5h0.75M45 337h0.75M45 337.5h0.75M45 338h0.75M45 338.5h0.75M45 339h0.75M45 339.5h0.75M45 340h0.75M45 340.5h0.75M45 341h0.75M45 342h0.75M45 342.5h0.75M45 343h0.75M45 343.5h0.75M45 344h0.75M45 344.5h0.75M45 345h0.75M45.5 329h0.75M45.5 329.5h0.75M45.5 330h0.75M45.5 330.5h0.75M45.5 331h0.75M45.5 331.5h0.75M45.5 332h0.75M45.5 332.5h0.75M45.5 333h0.75M45.5 333.5h0.75M45.5 334h0.75M45.5 334.5h0.75M45.5 335h0.75M45.5 335.5h0.75M45.5 336h0.75M45.5 336.5h0.75M45.5 337h0.75M45.5 337.5h0.75M45.5 338h0.75M45.5 338.5h0.75M45.5 339h0.75M45.5 339.5h0.75M45.5 340h0.75M45.5 340.5h0.75M45.5 341h0.75M45.5 341.5h0.75M45.5 342h0.75M45.5 343h0.75M45.5 344h0.75M45.5 344.5h0.75M46 329.5h0.75M46 330h0.75M46 331h0.75M46 331.5h0.75M46 332h0.75M46 332.5h0.75M46 333h0.75M46 333.5h0.75M46 334h0.75M46 334.5h0.75M46 335h0.75M46 335.5h0.75M46 336h0.75M46 336.5h0.75M46 337h0.75M46 337.5h0.75M46 338h0.75M46 338.5h0.75M46 339h0.75M46 339.5h0.75M46 340h0.75M46 340.5h0.75M46 341h0.75M46 341.5h0.75M46 342h0.75M46 342.5h0.75M46 343h0.75M46 345.5h0.75M46 346h0.75M46.5 327h0.75M46.5 328h0.75M46.5 329h0.75M46.5 329.5h0.75M46.5 330.5h0.75M46.5 331h0.75M46.5 331.5h0.75M46.5 332h0.75M46.5 332.5h0.75M46.5 333h0.75M46.5 333.5h0.75M46.5 334h0.75M46.5 334.5h0.75M46.5 335h0.75M46.5 335.5h0.75M46.5 336h0.75M46.5 336.5h0.75M46.5 337h0.75M46.5 337.5h0.75M46.5 338h0.75M46.5 338.5h0.75M46.5 339h0.75M46.5 339.5h0.75M46.5 340h0.75M46.5 340.5h0.75M46.5 341h0.75M46.5 341.5h0.75M46.5 342h0.75M46.5 342.5h0.75M46.5 343.5h0.75M47 326.5h0.75M47 329h0.75M47 329.5h0.75M47 330h0.75M47 330.5h0.75M47 331h0.75M47 331.5h0.75M47 332h0.75M47 332.5h0.75M47 333h0.75M47 333.5h0.75M47 334h0.75M47 334.5h0.75M47 335h0.75M47 335.5h0.75M47 336h0.75M47 336.5h0.75M47 337h0.75M47 337.5h0.75M47 338h0.75M47 338.5h0.75M47 339h0.75M47 339.5h0.75M47 340h0.75M47 340.5h0.75M47 341h0.75M47 341.5h0.75M47 342.5h0.75M47 343h0.75M47 343.5h0.75M47 344h0.75M47 345h0.75M47.5 323.5h0.75M47.5 327.5h0.75M47.5 328h0.75M47.5 328.5h0.75M47.5 329.5h0.75M47.5 330h0.75M47.5 330.5h0.75M47.5 331h0.75M47.5 331.5h0.75M47.5 332h0.75M47.5 332.5h0.75M47.5 333h0.75M47.5 333.5h0.75M47.5 334h0.75M47.5 334.5h0.75M47.5 335h0.75M47.5 335.5h0.75M47.5 336h0.75M47.5 336.5h0.75M47.5 337h0.75M47.5 337.5h0.75M47.5 338h0.75M47.5 338.5h0.75M47.5 339h0.75M47.5 339.5h0.75M47.5 340h0.75M47.5 340.5h0.75M47.5 341h0.75M47.5 341.5h0.75M47.5 342h0.75M47.5 342.5h0.75M47.5 343h0.75M47.5 343.5h0.75M47.5 344h0.75M47.5 347.5h0.75M48 328h0.75M48 328.5h0.75M48 329h0.75M48 330.5h0.75M48 331h0.75M48 331.5h0.75M48 332h0.75M48 332.5h0.75M48 333h0.75M48 333.5h0.75M48 334h0.75M48 334.5h0.75M48 335h0.75M48 335.5h0.75M48 336h0.75M48 336.5h0.75M48 337h0.75M48 337.5h0.75M48 338h0.75M48 338.5h0.75M48 339h0.75M48 339.5h0.75M48 340h0.75M48 340.5h0.75M48 341h0.75M48 342.5h0.75M48 348h0.75M48.5 327.5h0.75M48.5 329.5h0.75M48.5 330.5h0.75M48.5 331h0.75M48.5 331.5h0.75M48.5 332h0.75M48.5 332.5h0.75M48.5 333h0.75M48.5 333.5h0.75M48.5 334h0.75M48.5 334.5h0.75M48.5 335h0.75M48.5 335.5h0.75M48.5 336h0.75M48.5 336.5h0.75M48.5 337h0.75M48.5 337.5h0.75M48.5 338h0.75M48.5 338.5h0.75M48.5 339h0.75M48.5 339.5h0.75M48.5 340h0.75M48.5 340.5h0.75M48.5 341.5h0.75M48.5 342h0.75M48.5 342.5h0.75M48.5 343h0.75M48.5 343.5h0.75M49 326.5h0.75M49 328.5h0.75M49 329h0.75M49 329.5h0.75M49 330h0.75M49 330.5h0.75M49 331h0.75M49 332h0.75M49 332.5h0.75M49 333h0.75M49 333.5h0.75M49 334h0.75M49 334.5h0.75M49 335h0.75M49 335.5h0.75M49 336h0.75M49 336.5h0.75M49 337h0.75M49 337.5h0.75M49 338h0.75M49 338.5h0.75M49 339h0.75M49 339.5h0.75M49 340h0.75M49 340.5h0.75M49 341h0.75M49 341.5h0.75M49 342h0.75M49 342.5h0.75M49 343h0.75M49 345h0.75M49.5 327.5h0.75M49.5 328.5h0.75M49.5 329h0.75M49.5 329.5h0.75M49.5 330h0.75M49.5 330.5h0.75M49.5 331h0.75M49.5 331.5h0.75M49.5 332h0.75M49.5 333h0.75M49.5 333.5h0.75M49.5 334h0.75M49.5 334.5h0.75M49.5 335h0.75M49.5 335.5h0.75M49.5 336h0.75M49.5 336.5h0.75M49.5 337h0.75M49.5 337.5h0.75M49.5 338h0.75M49.5 338.5h0.75M49.5 339h0.75M49.5 339.5h0.75M49.5 340h0.75M49.5 340.5h0.75M49.5 341h0.75M49.5 341.5h0.75M49.5 342h0.75M49.5 342.5h0.75M49.5 343h0.75M50 328h0.75M50 329h0.75M50 329.5h0.75M50 330h0.75M50 331h0.75M50 331.5h0.75M50 332h0.75M50 332.5h0.75M50 333h0.75M50 333.5h0.75M50 334h0.75M50 334.5h0.75M50 335h0.75M50 335.5h0.75M50 336h0.75M50 336.5h0.75M50 337h0.75M50 337.5h0.75M50 338h0.75M50 338.5h0.75M50 339h0.75M50 339.5h0.75M50 340h0.75M50 340.5h0.75M50 341h0.75M50 342h0.75M50 342.5h0.75M50 343h0.75M50.5 326h0.75M50.5 328h0.75M50.5 328.5h0.75M50.5 329h0.75M50.5 329.5h0.75M50.5 330h0.75M50.5 330.5h0.75M50.5 331h0.75M50.5 331.5h0.75M50.5 332h0.75M50.5 332.5h0.75M50.5 333h0.75M50.5 333.5h0.75M50.5 334h0.75M50.5 334.5h0.75M50.5 335h0.75M50.5 335.5h0.75M50.5 336h0.75M50.5 336.5h0.75M50.5 337h0.75M50.5 337.5h0.75M50.5 338h0.75M50.5 338.5h0.75M50.5 339h0.75M50.5 339.5h0.75M50.5 340h0.75M50.5 340.5h0.75M50.5 341h0.75M50.5 342h0.75M50.5 342.5h0.75M50.5 343h0.75M51 328h0.75M51 329.5h0.75M51 330h0.75M51 330.5h0.75M51 331h0.75M51 331.5h0.75M51 332h0.75M51 332.5h0.75M51 333h0.75M51 333.5h0.75M51 334h0.75M51 334.5h0.75M51 335h0.75M51 335.5h0.75M51 336h0.75M51 336.5h0.75M51 337h0.75M51 337.5h0.75M51 338h0.75M51 338.5h0.75M51 339h0.75M51 339.5h0.75M51 340h0.75M51 340.5h0.75M51 341h0.75M51 341.5h0.75M51 342h0.75M51 342.5h0.75M51 343.5h0.75M51 344h0.75M51 345h0.75M51 346h0.75M51.5 325.5h0.75M51.5 328.5h0.75M51.5 329h0.75M51.5 329.5h0.75M51.5 330h0.75M51.5 331h0.75M51.5 331.5h0.75M51.5 332h0.75M51.5 332.5h0.75M51.5 333h0.75M51.5 333.5h0.75M51.5 334h0.75M51.5 334.5h0.75M51.5 335h0.75M51.5 335.5h0.75M51.5 336h0.75M51.5 336.5h0.75M51.5 337h0.75M51.5 337.5h0.75M51.5 338h0.75M51.5 338.5h0.75M51.5 339h0.75M51.5 339.5h0.75M51.5 340h0.75M51.5 340.5h0.75M51.5 341h0.75M51.5 341.5h0.75M51.5 343h0.75M51.5 343.5h0.75M51.5 344.5h0.75M51.5 345h0.75M52 327.5h0.75M52 328h0.75M52 328.5h0.75M52 329h0.75M52 329.5h0.75M52 330h0.75M52 330.5h0.75M52 331h0.75M52 331.5h0.75M52 332h0.75M52 332.5h0.75M52 333h0.75M52 333.5h0.75M52 334h0.75M52 334.5h0.75M52 335h0.75M52 335.5h0.75M52 336h0.75M52 336.5h0.75M52 337h0.75M52 337.5h0.75M52 338h0.75M52 338.5h0.75M52 339h0.75M52 339.5h0.75M52 340h0.75M52 340.5h0.75M52 341h0.75M52 342h0.75M52 342.5h0.75M52.5 327h0.75M52.5 327.5h0.75M52.5 329h0.75M52.5 329.5h0.75M52.5 330h0.75M52.5 330.5h0.75M52.5 331h0.75M52.5 331.5h0.75M52.5 332h0.75M52.5 332.5h0.75M52.5 333h0.75M52.5 333.5h0.75M52.5 334h0.75M52.5 334.5h0.75M52.5 335h0.75M52.5 335.5h0.75M52.5 336h0.75M52.5 336.5h0.75M52.5 337h0.75M52.5 337.5h0.75M52.5 338h0.75M52.5 338.5h0.75M52.5 339h0.75M52.5 339.5h0.75M52.5 340h0.75M52.5 340.5h0.75M52.5 341h0.75M52.5 341.5h0.75M52.5 343h0.75M52.5 343.5h0.75M52.5 344.5h0.75M53 326h0.75M53 328h0.75M53 328.5h0.75M53 329h0.75M53 330h0.75M53 330.5h0.75M53 331h0.75M53 331.5h0.75M53 332h0.75M53 332.5h0.75M53 333h0.75M53 333.5h0.75M53 334h0.75M53 334.5h0.75M53 335h0.75M53 335.5h0.75M53 336h0.75M53 336.5h0.75M53 337h0.75M53 337.5h0.75M53 338h0.75M53 338.5h0.75M53 339h0.75M53 339.5h0.75M53 340h0.75M53 340.5h0.75M53 341h0.75M53 341.5h0.75M53 342h0.75M53 343h0.75M53.5 324.5h0.75M53.5 326h0.75M53.5 328h0.75M53.5 328.5h0.75M53.5 329h0.75M53.5 329.5h0.75M53.5 330h0.75M53.5 330.5h0.75M53.5 331h0.75M53.5 331.5h0.75M53.5 332h0.75M53.5 332.5h0.75M53.5 333h0.75M53.5 333.5h0.75M53.5 334h0.75M53.5 334.5h0.75M53.5 335h0.75M53.5 335.5h0.75M53.5 336h0.75M53.5 336.5h0.75M53.5 337h0.75M53.5 337.5h0.75M53.5 338h0.75M53.5 338.5h0.75M53.5 339h0.75M53.5 339.5h0.75M53.5 340h0.75M53.5 340.5h0.75M53.5 341h0.75M53.5 341.5h0.75M53.5 342h0.75M53.5 342.5h0.75M53.5 343h0.75M53.5 344h0.75M54 327.5h0.75M54 328h0.75M54 328.5h0.75M54 329h0.75M54 329.5h0.75M54 330h0.75M54 330.5h0.75M54 331h0.75M54 331.5h0.75M54 332h0.75M54 332.5h0.75M54 333h0.75M54 333.5h0.75M54 334h0.75M54 334.5h0.75M54 335h0.75M54 335.5h0.75M54 336h0.75M54 336.5h0.75M54 337h0.75M54 337.5h0.75M54 338h0.75M54 338.5h0.75M54 339h0.75M54 339.5h0.75M54 340h0.75M54 340.5h0.75M54 341.5h0.75M54 342h0.75M54 342.5h0.75M54 343.5h0.75M54 344h0.75M54.5 328.5h0.75M54.5 329h0.75M54.5 329.5h0.75M54.5 330.5h0.75M54.5 331h0.75M54.5 331.5h0.75M54.5 332h0.75M54.5 332.5h0.75M54.5 333h0.75M54.5 333.5h0.75M54.5 334h0.75M54.5 334.5h0.75M54.5 335h0.75M54.5 335.5h0.75M54.5 336h0.75M54.5 336.5h0.75M54.5 337h0.75M54.5 337.5h0.75M54.5 338h0.75M54.5 338.5h0.75M54.5 339h0.75M54.5 339.5h0.75M54.5 340h0.75M54.5 340.5h0.75M54.5 341h0.75M54.5 341.5h0.75M54.5 342.5h0.75M54.5 343h0.75M54.5 345.5h0.75M54.5 346h0.75M55 325h0.75M55 327h0.75M55 328h0.75M55 328.5h0.75M55 329h0.75M55 329.5h0.75M55 330.5h0.75M55 331h0.75M55 331.5h0.75M55 332h0.75M55 332.5h0.75M55 333h0.75M55 333.5h0.75M55 334h0.75M55 334.5h0.75M55 335h0.75M55 335.5h0.75M55 336h0.75M55 336.5h0.75M55 337h0.75M55 337.5h0.75M55 338h0.75M55 338.5h0.75M55 339h0.75M55 339.5h0.75M55 340h0.75M55 340.5h0.75M55 341h0.75M55 342.5h0.75M55 343.5h0.75M55.5 326h0.75M55.5 327h0.75M55.5 328h0.75M55.5 328.5h0.75M55.5 329.5h0.75M55.5 330h0.75M55.5 330.5h0.75M55.5 331h0.75M55.5 331.5h0.75M55.5 332h0.75M55.5 332.5h0.75M55.5 333h0.75M55.5 333.5h0.75M55.5 334h0.75M55.5 334.5h0.75M55.5 335h0.75M55.5 335.5h0.75M55.5 336h0.75M55.5 336.5h0.75M55.5 337h0.75M55.5 337.5h0.75M55.5 338h0.75M55.5 338.5h0.75M55.5 339h0.75M55.5 339.5h0.75M55.5 340h0.75M55.5 340.5h0.75M55.5 341h0.75M55.5 342h0.75M55.5 342.5h0.75M55.5 343.5h0.75M55.5 347.5h0.75M56 326.5h0.75M56 327h0.75M56 327.5h0.75M56 328.5h0.75M56 329h0.75M56 330h0.75M56 330.5h0.75M56 331h0.75M56 331.5h0.75M56 332h0.75M56 332.5h0.75M56 333h0.75M56 333.5h0.75M56 334h0.75M56 334.5h0.75M56 335h0.75M56 335.5h0.75M56 336h0.75M56 336.5h0.75M56 337h0.75M56 337.5h0.75M56 338h0.75M56 338.5h0.75M56 339h0.75M56 339.5h0.75M56 340h0.75M56 340.5h0.75M56 341h0.75M56 342h0.75M56 342.5h0.75M56 343.5h0.75M56.5 328.5h0.75M56.5 329.5h0.75M56.5 330h0.75M56.5 330.5h0.75M56.5 331h0.75M56.5 331.5h0.75M56.5 332h0.75M56.5 332.5h0.75M56.5 333h0.75M56.5 333.5h0.75M56.5 334h0.75M56.5 334.5h0.75M56.5 335h0.75M56.5 335.5h0.75M56.5 336h0.75M56.5 336.5h0.75M56.5 337h0.75M56.5 337.5h0.75M56.5 338h0.75M56.5 338.5h0.75M56.5 339h0.75M56.5 339.5h0.75M56.5 340h0.75M56.5 340.5h0.75M56.5 341h0.75M56.5 341.5h0.75M56.5 342h0.75M56.5 342.5h0.75M56.5 343.5h0.75M56.5 344.5h0.75M57 327.5h0.75M57 329h0.75M57 329.5h0.75M57 330h0.75M57 330.5h0.75M57 331h0.75M57 331.5h0.75M57 332h0.75M57 332.5h0.75M57 333h0.75M57 333.5h0.75M57 334h0.75M57 334.5h0.75M57 335h0.75M57 335.5h0.75M57 336h0.75M57 336.5h0.75M57 337h0.75M57 337.5h0.75M57 338h0.75M57 338.5h0.75M57 339h0.75M57 339.5h0.75M57 340h0.75M57 341h0.75M57 341.5h0.75M57 342h0.75M57 342.5h0.75M57 343h0.75M57.5 326.5h0.75M57.5 327h0.75M57.5 328.5h0.75M57.5 329h0.75M57.5 329.5h0.75M57.5 330h0.75M57.5 331h0.75M57.5 331.5h0.75M57.5 332.5h0.75M57.5 333h0.75M57.5 333.5h0.75M57.5 334h0.75M57.5 334.5h0.75M57.5 335h0.75M57.5 335.5h0.75M57.5 336h0.75M57.5 336.5h0.75M57.5 337h0.75M57.5 337.5h0.75M57.5 338h0.75M57.5 338.5h0.75M57.5 339h0.75M57.5 339.5h0.75M57.5 340h0.75M57.5 340.5h0.75M57.5 341h0.75M57.5 342h0.75M57.5 342.5h0.75M57.5 343.5h0.75M58 327h0.75M58 327.5h0.75M58 328h0.75M58 328.5h0.75M58 329h0.75M58 329.5h0.75M58 330h0.75M58 330.5h0.75M58 331h0.75M58 331.5h0.75M58 332h0.75M58 332.5h0.75M58 333h0.75M58 333.5h0.75M58 334h0.75M58 334.5h0.75M58 335h0.75M58 335.5h0.75M58 336h0.75M58 336.5h0.75M58 337h0.75M58 337.5h0.75M58 338h0.75M58 338.5h0.75M58 339.5h0.75M58 340h0.75M58 340.5h0.75M58 342h0.75M58 342.5h0.75M58 344h0.75M58.5 327h0.75M58.5 328h0.75M58.5 328.5h0.75M58.5 329.5h0.75M58.5 330h0.75M58.5 331h0.75M58.5 331.5h0.75M58.5 332h0.75M58.5 332.5h0.75M58.5 333h0.75M58.5 333.5h0.75M58.5 334h0.75M58.5 334.5h0.75M58.5 335h0.75M58.5 335.5h0.75M58.5 336h0.75M58.5 336.5h0.75M58.5 337h0.75M58.5 337.5h0.75M58.5 338h0.75M58.5 338.5h0.75M58.5 339h0.75M58.5 339.5h0.75M58.5 340h0.75M58.5 341h0.75M58.5 345.5h0.75M59 329h0.75M59 329.5h0.75M59 330h0.75M59 330.5h0.75M59 331h0.75M59 331.5h0.75M59 332h0.75M59 332.5h0.75M59 333h0.75M59 333.5h0.75M59 334h0.75M59 334.5h0.75M59 335h0.75M59 335.5h0.75M59 336h0.75M59 336.5h0.75M59 337h0.75M59 337.5h0.75M59 338h0.75M59 338.5h0.75M59 339h0.75M59 339.5h0.75M59 340h0.75M59 340.5h0.75M59 341h0.75M59 346h0.75M59.5 324.5h0.75M59.5 327.5h0.75M59.5 330h0.75M59.5 330.5h0.75M59.5 331h0.75M59.5 331.5h0.75M59.5 332h0.75M59.5 332.5h0.75M59.5 333h0.75M59.5 333.5h0.75M59.5 334h0.75M59.5 334.5h0.75M59.5 335h0.75M59.5 335.5h0.75M59.5 336h0.75M59.5 336.5h0.75M59.5 337h0.75M59.5 337.5h0.75M59.5 338h0.75M59.5 338.5h0.75M59.5 339h0.75M59.5 339.5h0.75M59.5 340h0.75M59.5 340.5h0.75M59.5 341h0.75M60 327.5h0.75M60 328h0.75M60 330h0.75M60 330.5h0.75M60 331h0.75M60 331.5h0.75M60 332h0.75M60 332.5h0.75M60 333h0.75M60 333.5h0.75M60 334h0.75M60 334.5h0.75M60 335h0.75M60 335.5h0.75M60 336h0.75M60 336.5h0.75M60 337h0.75M60 337.5h0.75M60 338h0.75M60 338.5h0.75M60 339h0.75M60 341h0.75M60 341.5h0.75M60 343h0.75M60.5 330.5h0.75M60.5 331h0.75M60.5 331.5h0.75M60.5 332h0.75M60.5 332.5h0.75M60.5 333h0.75M60.5 333.5h0.75M60.5 334h0.75M60.5 334.5h0.75M60.5 335h0.75M60.5 335.5h0.75M60.5 336h0.75M60.5 336.5h0.75M60.5 337h0.75M60.5 337.5h0.75M60.5 338h0.75M60.5 338.5h0.75M60.5 339h0.75M60.5 339.5h0.75M60.5 340h0.75M60.5 341h0.75M61 327h0.75M61 329h0.75M61 330.5h0.75M61 331h0.75M61 331.5h0.75M61 332h0.75M61 332.5h0.75M61 333h0.75M61 333.5h0.75M61 334h0.75M61 334.5h0.75M61 335h0.75M61 335.5h0.75M61 336h0.75M61 336.5h0.75M61 337h0.75M61 337.5h0.75M61 338h0.75M61 338.5h0.75M61 339h0.75M61 339.5h0.75M61 340.5h0.75M61 341.5h0.75M61.5 330h0.75M61.5 331h0.75M61.5 331.5h0.75M61.5 332h0.75M61.5 332.5h0.75M61.5 333h0.75M61.5 333.5h0.75M61.5 334h0.75M61.5 334.5h0.75M61.5 335h0.75M61.5 335.5h0.75M61.5 336h0.75M61.5 336.5h0.75M61.5 337h0.75M61.5 337.5h0.75M61.5 338h0.75M61.5 338.5h0.75M61.5 339h0.75M61.5 339.5h0.75M61.5 340.5h0.75M61.5 341h0.75M61.5 341.5h0.75M61.5 342.5h0.75M62 327h0.75M62 329h0.75M62 329.5h0.75M62 330h0.75M62 330.5h0.75M62 331h0.75M62 332h0.75M62 332.5h0.75M62 333h0.75M62 334h0.75M62 334.5h0.75M62 335h0.75M62 335.5h0.75M62 336h0.75M62 336.5h0.75M62 337h0.75M62 337.5h0.75M62 338h0.75M62 338.5h0.75M62 339.5h0.75M62 342h0.75M62.5 327h0.75M62.5 328.5h0.75M62.5 329h0.75M62.5 330h0.75M62.5 331.5h0.75M62.5 332h0.75M62.5 332.5h0.75M62.5 333h0.75M62.5 333.5h0.75M62.5 334h0.75M62.5 334.5h0.75M62.5 335h0.75M62.5 335.5h0.75M62.5 336h0.75M62.5 336.5h0.75M62.5 337h0.75M62.5 337.5h0.75M62.5 338.5h0.75M62.5 339h0.75M62.5 340h0.75M62.5 340.5h0.75M63 329h0.75M63 330h0.75M63 330.5h0.75M63 331h0.75M63 331.5h0.75M63 332h0.75M63 332.5h0.75M63 333h0.75M63 333.5h0.75M63 334h0.75M63 334.5h0.75M63 335h0.75M63 335.5h0.75M63 336.5h0.75M63 337h0.75M63 337.5h0.75M63 338h0.75M63 338.5h0.75M63 339h0.75M63 339.5h0.75M63 340h0.75M63 340.5h0.75M63 341.5h0.75M63 344.5h0.75M63.5 330h0.75M63.5 332h0.75M63.5 332.5h0.75M63.5 333h0.75M63.5 333.5h0.75M63.5 334.5h0.75M63.5 335h0.75M63.5 335.5h0.75M63.5 336h0.75M63.5 336.5h0.75M63.5 337h0.75M63.5 337.5h0.75M63.5 340.5h0.75M63.5 342.5h0.75M64 330h0.75M64 330.5h0.75M64 331.5h0.75M64 333.5h0.75M64 334h0.75M64 334.5h0.75M64 335h0.75M64 335.5h0.75M64 336h0.75M64 336.5h0.75M64 337h0.75M64 337.5h0.75M64 339h0.75M64 340h0.75M64 341.5h0.75M64.5 328.5h0.75M64.5 330h0.75M64.5 331.5h0.75M64.5 332h0.75M64.5 332.5h0.75M64.5 333.5h0.75M64.5 334h0.75M64.5 334.5h0.75M64.5 335h0.75M64.5 335.5h0.75M64.5 336h0.75M64.5 336.5h0.75M64.5 337h0.75M64.5 337.5h0.75M64.5 338.5h0.75M64.5 339h0.75M64.5 343.5h0.75M65 326.5h0.75M65 328h0.75M65 331h0.75M65 331.5h0.75M65 332h0.75M65 332.5h0.75M65 333h0.75M65 333.5h0.75M65 334h0.75M65 334.5h0.75M65 335h0.75M65 336h0.75M65 336.5h0.75M65 337h0.75M65 338h0.75M65 340h0.75M65.5 328h0.75M65.5 329.5h0.75M65.5 331h0.75M65.5 331.5h0.75M65.5 333h0.75M65.5 333.5h0.75M65.5 335h0.75M65.5 335.5h0.75M65.5 336h0.75M65.5 336.5h0.75M65.5 337h0.75M65.5 337.5h0.75M65.5 339h0.75M65.5 341h0.75M66 330.5h0.75M66 331.5h0.75M66 332.5h0.75M66 333.5h0.75M66 334h0.75M66 334.5h0.75M66 335h0.75M66 336h0.75M66 336.5h0.75M66 340.5h0.75M66.5 332.5h0.75M66.5 333.5h0.75M66.5 334h0.75M66.5 334.5h0.75M66.5 335.5h0.75M66.5 336.5h0.75M66.5 337h0.75M66.5 337.5h0.75M66.5 339.5h0.75M67 329.5h0.75M67 330h0.75M67 332h0.75M67 332.5h0.75M67 335.5h0.75M67 336h0.75M67 337.5h0.75M67 338h0.75M67.5 329h0.75M67.5 331h0.75M67.5 331.5h0.75M67.5 332h0.75M67.5 332.5h0.75M67.5 333h0.75M67.5 340h0.75M68 331h0.75M68 334.5h0.75M68 335.5h0.75M68 336.5h0.75M68 337h0.75M68 338.5h0.75M68.5 332.5h0.75M68.5 333.5h0.75M68.5 334h0.75M68.5 336h0.75M68.5 336.5h0.75M68.5 337h0.75M68.5 338.5h0.75M69 330h0.75M69 332h0.75M69 333h0.75M69 334h0.75M69 334.5h0.75M69 342h0.75M69.5 329.5h0.75M69.5 333.5h0.75M69.5 334h0.75M69.5 341h0.75M70 334h0.75M70 336h0.75M70 336.5h0.75M70 337h0.75M71 332.5h0.75M71 335.5h0.75M71 336h0.75M71 339h0.75M71 340.5h0.75M71.5 333h0.75M71.5 337.5h0.75M73.5 328.5h0.75M73.5 337.5h0.75M74 337.5h0.75M74.5 340h0.75M75.5 334h0.75M78.5 335.5h0.75" stroke="#000" stroke-width="0.75" fill="none" opacity="1"/>
<path d="M29.60 365.20H106.40" stroke="#888" stroke-width="1.3" stroke-dasharray="0.5 2.6" fill="none"/>
<path d="M27.40 293.50V364.00" stroke="#888" stroke-width="1.3" stroke-dasharray="0.5 3.4" fill="none"/>
<text x="35.37" y="371.00" font-size="3.6" text-anchor="middle" fill="#444">0.0</text>
<text x="45.33" y="371.00" font-size="3.6" text-anchor="middle" fill="#444">10²</text>
<text x="64.39" y="371.00" font-size="3.6" text-anchor="middle" fill="#444">10³</text>
<text x="80.41" y="371.00" font-size="3.6" text-anchor="middle" fill="#444">10⁴</text>
<text x="98.62" y="371.00" font-size="3.6" text-anchor="middle" fill="#444">10⁵</text>
<text x="26.00" y="299.15" font-size="3.6" text-anchor="end" fill="#444">10⁵</text>
<text x="26.00" y="315.61" font-size="3.6" text-anchor="end" fill="#444">10⁴</text>
<text x="26.00" y="331.85" font-size="3.6" text-anchor="end" fill="#444">10³</text>
<text x="26.00" y="349.61" font-size="3.6" text-anchor="end" fill="#444">10²</text>
<text x="26.00" y="356.94" font-size="3.6" text-anchor="end" fill="#444">0</text>
<rect x="28.60" y="291.50" width="77.80" height="72.50" fill="none" stroke="#6a6a6a" stroke-width="0.9"/>
<path d="M51.85 337V314.4H86.9V343.8L68.8 338.6L51.85 337.2M51.85 338.6L68.8 340.1L86.9 345.6V364H56.0L52.6 351Z" fill="none" stroke="#333" stroke-width="0.8"/>
<text x="65.50" y="302.80" font-size="8.2" text-anchor="middle" fill="#111" stroke="#111" stroke-width="0.18">before depletion</text>
<text x="95.60" y="331.80" font-size="7.2" text-anchor="middle" fill="#111" stroke="#111" stroke-width="0.18">33.8</text>
<text x="96.60" y="353.80" font-size="7.2" text-anchor="middle" fill="#111" stroke="#111" stroke-width="0.18">9.6</text>
<path d="M29 433.5h0.6M29 441.5h0.6M29.5 429.5h0.6M30.5 433h0.6M33 442h0.6M34 445.5h0.6M34.5 434h0.6M34.5 436.5h0.6M34.5 439.5h0.6M36.5 435h0.6M38 434h0.6M38.5 442h0.6M39.5 435.5h0.6M39.5 440h0.6M40.5 438.5h0.6M41 433h0.6M41.5 437h0.6M41.5 438h0.6M42.5 435.5h0.6M42.5 437h0.6M43 438h0.6M43.5 438.5h0.6M44 433h0.6M44.5 438h0.6M45 439.5h0.6M46 438h0.6M46.5 429.5h0.6M46.5 441.5h0.6M47 436.5h0.6M47 443h0.6M47.5 427.5h0.6M47.5 443.5h0.6M48 439h0.6M48.5 429.5h0.6M50 441.5h0.6M50.5 436.5h0.6M50.5 438.5h0.6M51.5 429.5h0.6M52.5 433h0.6M52.5 436h0.6M52.5 437.5h0.6M53 436.5h0.6M53.5 434h0.6M54 431.5h0.6M54.5 428.5h0.6M56 438h0.6M57.5 434h0.6M57.5 435h0.6M58 439h0.6M58 446.5h0.6M60 437h0.6M61 429.5h0.6M61.5 433.5h0.6M62.5 426h0.6M62.5 427h0.6M62.5 433h0.6M62.5 439.5h0.6M63 431.5h0.6M63 433.5h0.6M64.5 436h0.6M65 435h0.6M65 436h0.6M65 442h0.6M65.5 434.5h0.6M67.5 435.5h0.6M68.5 438h0.6M69.5 439.5h0.6M69.5 441.5h0.6M70.5 438.5h0.6M71 432h0.6M71 437.5h0.6M71 440h0.6M71.5 430h0.6M71.5 437.5h0.6M72 425.5h0.6M72 434h0.6M72 436.5h0.6M73 439h0.6M78.5 437.5h0.6M78.5 438.5h0.6M79 429.5h0.6M79 437.5h0.6M80.5 425h0.6M85 431h0.6M85 435.5h0.6M88.5 445.5h0.6M89 435h0.6M92.5 430.5h0.6M93.5 431.5h0.6M94 444h0.6" stroke="#888" stroke-width="0.6" fill="none" opacity="1"/>
<path d="M52 433.5h0.65M52.5 442.5h0.65M53.5 438h0.65M54.5 437.5h0.65M55 438h0.65M56.5 434.5h0.65M56.5 437.5h0.65M57 435.5h0.65M57 436h0.65M57 441h0.65M57.5 439h0.65M58 437h0.65M58 438.5h0.65M58 440.5h0.65M58 444h0.65M58.5 444.5h0.65M59 432.5h0.65M59.5 435.5h0.65M59.5 436h0.65M59.5 438h0.65M59.5 438.5h0.65M60 436.5h0.65M60 439.5h0.65M60 440.5h0.65M60 441.5h0.65M60 443h0.65M60.5 436h0.65M60.5 438h0.65M61 432.5h0.65M61 435h0.65M61 436h0.65M61 441.5h0.65M61.5 432.5h0.65M61.5 436h0.65M61.5 437.5h0.65M61.5 438h0.65M61.5 439h0.65M61.5 442.5h0.65M62 433.5h0.65M62 434.5h0.65M62 436h0.65M62 437h0.65M62 437.5h0.65M62 439h0.65M62 439.5h0.65M62 441h0.65M62.5 432h0.65M62.5 433h0.65M62.5 435.5h0.65M62.5 436.5h0.65M62.5 437h0.65M62.5 438.5h0.65M62.5 439h0.65M62.5 440h0.65M62.5 440.5h0.65M62.5 444.5h0.65M63 434h0.65M63 434.5h0.65M63 437h0.65M63 439.5h0.65M63 440.5h0.65M63 443h0.65M63.5 432.5h0.65M63.5 434.5h0.65M63.5 435.5h0.65M63.5 438.5h0.65M63.5 439h0.65M63.5 440.5h0.65M63.5 441h0.65M63.5 443h0.65M64 433.5h0.65M64 435.5h0.65M64 437h0.65M64 437.5h0.65M64 439h0.65M64 439.5h0.65M64 440.5h0.65M64 441h0.65M64 443.5h0.65M64.5 434h0.65M64.5 434.5h0.65M64.5 435.5h0.65M64.5 436h0.65M64.5 436.5h0.65M64.5 437.5h0.65M64.5 438h0.65M64.5 438.5h0.65M64.5 439h0.65M64.5 439.5h0.65M64.5 440.5h0.65M64.5 441h0.65M64.5 441.5h0.65M65 432.5h0.65M65 434.5h0.65M65 435h0.65M65 435.5h0.65M65 436h0.65M65 437h0.65M65 439h0.65M65 440.5h0.65M65 441h0.65M65 441.5h0.65M65 443h0.65M65.5 433.5h0.65M65.5 434.5h0.65M65.5 435h0.65M65.5 436.5h0.65M65.5 437h0.65M65.5 438h0.65M65.5 438.5h0.65M65.5 439h0.65M65.5 440h0.65M65.5 442h0.65M66 433h0.65M66 434h0.65M66 434.5h0.65M66 435h0.65M66 436h0.65M66 437h0.65M66 438h0.65M66 438.5h0.65M66 439h0.65M66 439.5h0.65M66 440.5h0.65M66 441h0.65M66.5 434h0.65M66.5 434.5h0.65M66.5 435h0.65M66.5 436h0.65M66.5 436.5h0.65M66.5 437h0.65M66.5 437.5h0.65M66.5 438h0.65M66.5 439.5h0.65M66.5 440h0.65M66.5 440.5h0.65M66.5 442.5h0.65M67 432.5h0.65M67 434.5h0.65M67 436h0.65M67 437.5h0.65M67 438h0.65M67 439.5h0.65M67 440.5h0.65M67 441h0.65M67 441.5h0.65M67 442.5h0.65M67 445h0.65M67.5 432.5h0.65M67.5 433h0.65M67.5 434.5h0.65M67.5 435.5h0.65M67.5 436h0.65M67.5 436.5h0.65M67.5 437h0.65M67.5 437.5h0.65M67.5 438h0.65M67.5 439h0.65M67.5 440h0.65M67.5 440.5h0.65M67.5 441h0.65M67.5 442h0.65M67.5 444h0.65M68 435.5h0.65M68 436.5h0.65M68 437.5h0.65M68 438h0.65M68 438.5h0.65M68 439h0.65M68 439.5h0.65M68 440.5h0.65M68 442h0.65M68 442.5h0.65M68 443h0.65M68 444h0.65M68.5 432h0.65M68.5 433h0.65M68.5 434.5h0.65M68.5 435h0.65M68.5 435.5h0.65M68.5 436h0.65M68.5 437h0.65M68.5 437.5h0.65M68.5 438h0.65M68.5 438.5h0.65M68.5 439h0.65M68.5 439.5h0.65M68.5 440h0.65M68.5 446.5h0.65M69 435h0.65M69 435.5h0.65M69 436h0.65M69 436.5h0.65M69 437h0.65M69 437.5h0.65M69 438h0.65M69 438.5h0.65M69 439h0.65M69 439.5h0.65M69 440h0.65M69 441h0.65M69 442h0.65M69.5 432.5h0.65M69.5 433h0.65M69.5 433.5h0.65M69.5 434h0.65M69.5 435.5h0.65M69.5 437h0.65M69.5 438.5h0.65M69.5 439h0.65M69.5 439.5h0.65M69.5 440h0.65M69.5 440.5h0.65M69.5 442h0.65M69.5 443h0.65M70 432h0.65M70 433h0.65M70 434.5h0.65M70 435.5h0.65M70 436h0.65M70 436.5h0.65M70 437.5h0.65M70 438h0.65M70 438.5h0.65M70 439.5h0.65M70 440h0.65M70 440.5h0.65M70 442h0.65M70.5 432h0.65M70.5 432.5h0.65M70.5 433h0.65M70.5 433.5h0.65M70.5 435h0.65M70.5 435.5h0.65M70.5 436h0.65M70.5 436.5h0.65M70.5 437h0.65M70.5 437.5h0.65M70.5 438h0.65M70.5 438.5h0.65M70.5 439.5h0.65M70.5 440.5h0.65M70.5 441h0.65M70.5 441.5h0.65M70.5 442.5h0.65M70.5 443h0.65M71 433h0.65M71 433.5h0.65M71 434h0.65M71 434.5h0.65M71 435.5h0.65M71 436.5h0.65M71 437h0.65M71 438h0.65M71 438.5h0.65M71 439h0.65M71 439.5h0.65M71 444.5h0.65M71.5 430h0.65M71.5 433.5h0.65M71.5 434h0.65M71.5 434.5h0.65M71.5 435h0.65M71.5 435.5h0.65M71.5 436.5h0.65M71.5 437h0.65M71.5 438h0.65M71.5 438.5h0.65M71.5 439h0.65M71.5 439.5h0.65M71.5 440.5h0.65M71.5 441h0.65M71.5 444.5h0.65M71.5 445.5h0.65M72 433.5h0.65M72 434h0.65M72 434.5h0.65M72 435h0.65M72 435.5h0.65M72 436h0.65M72 436.5h0.65M72 437.5h0.65M72 438h0.65M72 438.5h0.65M72 439h0.65M72 440h0.65M72 440.5h0.65M72 441h0.65M72 442h0.65M72 444h0.65M72.5 428h0.65M72.5 432h0.65M72.5 433h0.65M72.5 433.5h0.65M72.5 435h0.65M72.5 435.5h0.65M72.5 436.5h0.65M72.5 437h0.65M72.5 438h0.65M72.5 438.5h0.65M72.5 439.5h0.65M72.5 440.5h0.65M72.5 441.5h0.65M72.5 442h0.65M73 435.5h0.65M73 436h0.65M73 436.5h0.65M73 437h0.65M73 437.5h0.65M73 438h0.65M73 440h0.65M73 440.5h0.65M73 441h0.65M73 442h0.65M73 444h0.65M73.5 435h0.65M73.5 435.5h0.65M73.5 436h0.65M73.5 437h0.65M73.5 437.5h0.65M73.5 438h0.65M73.5 438.5h0.65M73.5 439h0.65M73.5 439.5h0.65M73.5 440.5h0.65M73.5 442h0.65M73.5 443.5h0.65M74 431.5h0.65M74 433h0.65M74 433.5h0.65M74 435h0.65M74 435.5h0.65M74 436h0.65M74 436.5h0.65M74 437h0.65M74 439.5h0.65M74 440h0.65M74 440.5h0.65M74.5 434h0.65M74.5 436h0.65M74.5 437h0.65M74.5 438h0.65M74.5 440h0.65M74.5 441h0.65M75 436h0.65M75 438h0.65M75 438.5h0.65M75 439.5h0.65M75 440h0.65M75 441h0.65M75 444h0.65M75.5 434.5h0.65M75.5 435.5h0.65M75.5 437.5h0.65M75.5 439.5h0.65M76 434h0.65M76 434.5h0.65M76 435.5h0.65M76 439h0.65M76 439.5h0.65M76 440h0.65M76 441h0.65M76.5 432.5h0.65M76.5 437.5h0.65M76.5 438.5h0.65M77 435.5h0.65M77 436.5h0.65M77 437.5h0.65M77 440.5h0.65M77.5 438.5h0.65M77.5 442h0.65M78 436h0.65M78 437.5h0.65M78.5 434.5h0.65M78.5 437h0.65M78.5 437.5h0.65M78.5 439.5h0.65M78.5 440.5h0.65M79 435h0.65M79 438.5h0.65M79 441.5h0.65M79 443.5h0.65M79.5 435h0.65M79.5 438h0.65M79.5 441h0.65M79.5 442.5h0.65M80 436.5h0.65M80 442h0.65M80.5 438h0.65M81 439h0.65M81 440.5h0.65M81.5 435.5h0.65M81.5 438.5h0.65M81.5 439h0.65M82 436.5h0.65M87.5 442h0.65" stroke="#222" stroke-width="0.65" fill="none" opacity="1"/>
<path d="M29.50 449.00H106.50" stroke="#888" stroke-width="1.3" stroke-dasharray="0.5 2.6" fill="none"/>
<path d="M27.30 377.50V447.80" stroke="#888" stroke-width="1.3" stroke-dasharray="0.5 3.4" fill="none"/>
<text x="35.29" y="454.80" font-size="3.6" text-anchor="middle" fill="#444">0.0</text>
<text x="45.27" y="454.80" font-size="3.6" text-anchor="middle" fill="#444">10²</text>
<text x="64.38" y="454.80" font-size="3.6" text-anchor="middle" fill="#444">10³</text>
<text x="80.45" y="454.80" font-size="3.6" text-anchor="middle" fill="#444">10⁴</text>
<text x="98.70" y="454.80" font-size="3.6" text-anchor="middle" fill="#444">10⁵</text>
<text x="25.90" y="383.13" font-size="3.6" text-anchor="end" fill="#444">10⁵</text>
<text x="25.90" y="399.55" font-size="3.6" text-anchor="end" fill="#444">10⁴</text>
<text x="25.90" y="415.74" font-size="3.6" text-anchor="end" fill="#444">10³</text>
<text x="25.90" y="433.46" font-size="3.6" text-anchor="end" fill="#444">10²</text>
<text x="25.90" y="440.76" font-size="3.6" text-anchor="end" fill="#444">0</text>
<rect x="28.50" y="375.50" width="78.00" height="72.30" fill="none" stroke="#6a6a6a" stroke-width="0.9"/>
<path d="M51.85 432.8V397.3H86.9V428L68.8 421.8Z M86.9 429.5L69.3 423.6L52.2 433.9L55.1 447.5H86.9Z" fill="none" stroke="#333" stroke-width="0.8"/>
<text x="68.00" y="386.00" font-size="8.2" text-anchor="middle" fill="#111" stroke="#111" stroke-width="0.18">after depletion</text>
<text x="95.60" y="415.10" font-size="7.2" text-anchor="middle" fill="#111" stroke="#111" stroke-width="0.18">0.1</text>
<text x="96.30" y="437.40" font-size="7.2" text-anchor="middle" fill="#111" stroke="#111" stroke-width="0.18">91.4</text>
<path d="M28.20 466.90H86.00" stroke="#111" stroke-width="1.4" fill="none"/>
<path d="M90.00 466.90L85.00 464.60V469.20Z" fill="#111"/>
<text x="61.25" y="478.00" font-size="8.4" text-anchor="middle" fill="#111" stroke="#111" stroke-width="0.18">CD25</text>
<path d="M11.90 446.40V297.60" stroke="#111" stroke-width="1.3" fill="none"/>
<path d="M11.90 293.60L9.30 298.60H14.50Z" fill="#111"/>
<text x="7.80" y="373.70" font-size="8" text-anchor="middle" fill="#111" stroke="#111" stroke-width="0.18" transform="rotate(-90 7.80 373.70)">CD127</text>
<path d="M151.8 285.9H351.5V465.5H151.8Z M251.7 285.9V465.5" fill="none" stroke="#111" stroke-width="1.25"/>
<path d="M151.8 465.50h-3M151.8 447.54h-1.6M251.7 447.54h-1.0M151.8 429.58h-3M251.7 429.58h-1.8M151.8 411.62h-1.6M251.7 411.62h-1.0M151.8 393.66h-3M251.7 393.66h-1.8M151.8 375.70h-1.6M251.7 375.70h-1.0M151.8 357.74h-3M251.7 357.74h-1.8M151.8 339.78h-1.6M251.7 339.78h-1.0M151.8 321.82h-3M251.7 321.82h-1.8M151.8 303.86h-1.6M251.7 303.86h-1.0M151.8 285.90h-3M176.25 465.5v3.6M226.25 465.5v3.6M276.75 465.5v3.6M326.25 465.5v3.6" stroke="#111" stroke-width="1" fill="none"/>
<text x="145.00" y="468.40" font-size="8.1" text-anchor="end" fill="#111" stroke="#111" stroke-width="0.18">0</text>
<text x="145.00" y="432.48" font-size="8.1" text-anchor="end" fill="#111" stroke="#111" stroke-width="0.18">20</text>
<text x="145.00" y="396.56" font-size="8.1" text-anchor="end" fill="#111" stroke="#111" stroke-width="0.18">40</text>
<text x="145.00" y="360.64" font-size="8.1" text-anchor="end" fill="#111" stroke="#111" stroke-width="0.18">60</text>
<text x="145.00" y="324.72" font-size="8.1" text-anchor="end" fill="#111" stroke="#111" stroke-width="0.18">80</text>
<text x="145.00" y="288.80" font-size="8.1" text-anchor="end" fill="#111" stroke="#111" stroke-width="0.18">100</text>
<text x="202.90" y="281.90" font-size="9.85" text-anchor="middle" fill="#111" stroke="#111" stroke-width="0.18">before depletion</text>
<text x="304.50" y="281.90" font-size="9.9" text-anchor="middle" fill="#111" stroke="#111" stroke-width="0.18">after depletion</text>
<text x="130.40" y="371.90" font-size="9.7" text-anchor="middle" fill="#111" stroke="#111" stroke-width="0.18" transform="rotate(-90 130.40 371.90)">% of total cells</text>
<text x="176.60" y="481.60" font-size="9.8" text-anchor="middle" fill="#111" stroke="#111" stroke-width="0.18">CD25+</text>
<text x="227.30" y="481.60" font-size="9.8" text-anchor="middle" fill="#111" stroke="#111" stroke-width="0.18">CD25+</text>
<text x="277.80" y="481.60" font-size="9.8" text-anchor="middle" fill="#111" stroke="#111" stroke-width="0.18">CD25+</text>
<text x="329.40" y="481.60" font-size="9.8" text-anchor="middle" fill="#111" stroke="#111" stroke-width="0.18">CD25+</text>
<text x="176.60" y="493.30" font-size="9.8" text-anchor="middle" fill="#111" stroke="#111" stroke-width="0.18">Treg</text>
<text x="277.80" y="493.30" font-size="9.8" text-anchor="middle" fill="#111" stroke="#111" stroke-width="0.18">Treg</text>
<text x="227.30" y="493.30" font-size="9.8" text-anchor="middle" fill="#111" stroke="#111" stroke-width="0.18">Teff</text>
<text x="330.30" y="493.30" font-size="9.8" text-anchor="middle" fill="#111" stroke="#111" stroke-width="0.18">Teff</text>
<path d="M156 449.5H197" stroke="#111" stroke-width="1"/>
<circle cx="179.08" cy="440.77" r="2.0" fill="#000"/>
<circle cx="174.23" cy="442.50" r="2.0" fill="#000"/>
<circle cx="166.73" cy="444.81" r="2.0" fill="#000"/>
<circle cx="171.92" cy="445.96" r="2.0" fill="#000"/>
<circle cx="175.96" cy="444.81" r="2.0" fill="#000"/>
<circle cx="182.31" cy="445.38" r="2.0" fill="#000"/>
<circle cx="185.19" cy="444.81" r="2.0" fill="#000"/>
<circle cx="188.08" cy="444.46" r="2.0" fill="#000"/>
<circle cx="174.81" cy="447.69" r="2.0" fill="#000"/>
<circle cx="177.69" cy="448.27" r="2.0" fill="#000"/>
<circle cx="186.92" cy="447.11" r="2.0" fill="#000"/>
<circle cx="189.81" cy="448.27" r="2.0" fill="#000"/>
<circle cx="163.85" cy="449.77" r="2.0" fill="#000"/>
<circle cx="167.31" cy="450.23" r="2.0" fill="#000"/>
<circle cx="173.65" cy="449.77" r="2.0" fill="#000"/>
<circle cx="177.11" cy="450.58" r="2.0" fill="#000"/>
<circle cx="181.15" cy="450.23" r="2.0" fill="#000"/>
<circle cx="184.61" cy="449.42" r="2.0" fill="#000"/>
<circle cx="166.15" cy="453.23" r="2.0" fill="#000"/>
<circle cx="169.61" cy="451.73" r="2.0" fill="#000"/>
<circle cx="176.54" cy="452.88" r="2.0" fill="#000"/>
<circle cx="180.00" cy="453.69" r="2.0" fill="#000"/>
<circle cx="183.46" cy="452.31" r="2.0" fill="#000"/>
<circle cx="186.69" cy="453.23" r="2.0" fill="#000"/>
<circle cx="178.85" cy="455.19" r="2.0" fill="#000"/>
<circle cx="171.35" cy="456.92" r="2.0" fill="#000"/>
<circle cx="176.54" cy="458.31" r="2.0" fill="#000"/>
<path d="M206.5 408.5H247" stroke="#111" stroke-width="1"/>
<circle cx="226.49" cy="369.44" r="1.55" fill="#fff" stroke="#000" stroke-width="1"/>
<circle cx="227.76" cy="375.97" r="1.55" fill="#fff" stroke="#000" stroke-width="1"/>
<circle cx="225.04" cy="379.96" r="1.55" fill="#fff" stroke="#000" stroke-width="1"/>
<circle cx="226.49" cy="390.31" r="1.55" fill="#fff" stroke="#000" stroke-width="1"/>
<circle cx="229.03" cy="396.84" r="1.55" fill="#fff" stroke="#000" stroke-width="1"/>
<circle cx="220.50" cy="400.83" r="1.55" fill="#fff" stroke="#000" stroke-width="1"/>
<circle cx="225.04" cy="401.38" r="1.55" fill="#fff" stroke="#000" stroke-width="1"/>
<circle cx="232.84" cy="399.93" r="1.55" fill="#fff" stroke="#000" stroke-width="1"/>
<circle cx="222.86" cy="403.92" r="1.55" fill="#fff" stroke="#000" stroke-width="1"/>
<circle cx="228.30" cy="403.19" r="1.55" fill="#fff" stroke="#000" stroke-width="1"/>
<circle cx="229.21" cy="406.28" r="1.55" fill="#fff" stroke="#000" stroke-width="1"/>
<circle cx="219.05" cy="409.00" r="1.55" fill="#fff" stroke="#000" stroke-width="1"/>
<circle cx="225.04" cy="409.00" r="1.55" fill="#fff" stroke="#000" stroke-width="1"/>
<circle cx="233.75" cy="408.09" r="1.55" fill="#fff" stroke="#000" stroke-width="1"/>
<circle cx="221.41" cy="414.08" r="1.55" fill="#fff" stroke="#000" stroke-width="1"/>
<circle cx="226.49" cy="413.72" r="1.55" fill="#fff" stroke="#000" stroke-width="1"/>
<circle cx="231.39" cy="413.18" r="1.55" fill="#fff" stroke="#000" stroke-width="1"/>
<circle cx="223.77" cy="418.44" r="1.55" fill="#fff" stroke="#000" stroke-width="1"/>
<circle cx="229.03" cy="418.98" r="1.55" fill="#fff" stroke="#000" stroke-width="1"/>
<circle cx="224.13" cy="425.70" r="1.55" fill="#fff" stroke="#000" stroke-width="1"/>
<circle cx="229.03" cy="424.43" r="1.55" fill="#fff" stroke="#000" stroke-width="1"/>
<circle cx="226.49" cy="433.50" r="1.55" fill="#fff" stroke="#000" stroke-width="1"/>
<circle cx="227.76" cy="438.04" r="1.55" fill="#fff" stroke="#000" stroke-width="1"/>
<circle cx="225.04" cy="440.76" r="1.55" fill="#fff" stroke="#000" stroke-width="1"/>
<path d="M256.3 311.5H296.6" stroke="#111" stroke-width="1"/>
<circle cx="268.75" cy="299.52" r="2.0" fill="#000"/>
<circle cx="276.37" cy="298.06" r="2.0" fill="#000"/>
<circle cx="282.66" cy="298.91" r="2.0" fill="#000"/>
<circle cx="272.98" cy="301.33" r="2.0" fill="#000"/>
<circle cx="279.64" cy="300.73" r="2.0" fill="#000"/>
<circle cx="271.53" cy="303.39" r="2.0" fill="#000"/>
<circle cx="276.85" cy="302.54" r="2.0" fill="#000"/>
<circle cx="281.69" cy="302.90" r="2.0" fill="#000"/>
<circle cx="284.47" cy="304.35" r="2.0" fill="#000"/>
<circle cx="270.32" cy="309.19" r="2.0" fill="#000"/>
<circle cx="276.37" cy="308.59" r="2.0" fill="#000"/>
<circle cx="279.03" cy="309.80" r="2.0" fill="#000"/>
<circle cx="267.54" cy="313.06" r="2.0" fill="#000"/>
<circle cx="274.19" cy="311.85" r="2.0" fill="#000"/>
<circle cx="277.22" cy="313.43" r="2.0" fill="#000"/>
<circle cx="281.69" cy="312.58" r="2.0" fill="#000"/>
<circle cx="285.32" cy="313.06" r="2.0" fill="#000"/>
<circle cx="271.77" cy="315.24" r="2.0" fill="#000"/>
<circle cx="276.01" cy="315.85" r="2.0" fill="#000"/>
<circle cx="279.03" cy="316.69" r="2.0" fill="#000"/>
<circle cx="273.59" cy="317.42" r="2.0" fill="#000"/>
<circle cx="274.19" cy="323.10" r="2.0" fill="#000"/>
<circle cx="279.03" cy="322.74" r="2.0" fill="#000"/>
<circle cx="276.61" cy="324.92" r="2.0" fill="#000"/>
<circle cx="276.61" cy="334.59" r="2.0" fill="#000"/>
<path d="M305.8 464H346.8" stroke="#555" stroke-width="1.2"/>
<circle cx="334.46" cy="462.33" r="1.45" fill="#fff" stroke="#000" stroke-width="1"/>
<circle cx="327.97" cy="464.72" r="1.45" fill="#fff" stroke="#000" stroke-width="1"/>
<circle cx="324.49" cy="465.14" r="1.45" fill="#fff" stroke="#000" stroke-width="1"/>
<circle cx="318.22" cy="465.12" r="1.45" fill="#fff" stroke="#000" stroke-width="1"/>
<circle cx="322.84" cy="461.41" r="1.45" fill="#fff" stroke="#000" stroke-width="1"/>
<circle cx="327.20" cy="464.98" r="1.45" fill="#fff" stroke="#000" stroke-width="1"/>
<circle cx="325.17" cy="464.60" r="1.45" fill="#fff" stroke="#000" stroke-width="1"/>
<circle cx="322.08" cy="464.93" r="1.45" fill="#fff" stroke="#000" stroke-width="1"/>
<circle cx="328.23" cy="465.11" r="1.45" fill="#fff" stroke="#000" stroke-width="1"/>
<circle cx="330.13" cy="465.16" r="1.45" fill="#fff" stroke="#000" stroke-width="1"/>
<circle cx="326.40" cy="463.55" r="1.45" fill="#fff" stroke="#000" stroke-width="1"/>
<circle cx="328.48" cy="464.79" r="1.45" fill="#fff" stroke="#000" stroke-width="1"/>
<circle cx="325.57" cy="464.75" r="1.45" fill="#fff" stroke="#000" stroke-width="1"/>
<circle cx="334.04" cy="465.08" r="1.45" fill="#fff" stroke="#000" stroke-width="1"/>
<circle cx="325.33" cy="464.20" r="1.45" fill="#fff" stroke="#000" stroke-width="1"/>
<circle cx="322.75" cy="465.05" r="1.45" fill="#fff" stroke="#000" stroke-width="1"/>
<circle cx="329.83" cy="464.70" r="1.45" fill="#fff" stroke="#000" stroke-width="1"/>
<circle cx="326.67" cy="464.60" r="1.45" fill="#fff" stroke="#000" stroke-width="1"/>
<circle cx="317.80" cy="464.17" r="1.45" fill="#fff" stroke="#000" stroke-width="1"/>
<circle cx="322.46" cy="463.40" r="1.45" fill="#fff" stroke="#000" stroke-width="1"/>
<circle cx="327.41" cy="464.56" r="1.45" fill="#fff" stroke="#000" stroke-width="1"/>
<circle cx="324.52" cy="464.11" r="1.45" fill="#fff" stroke="#000" stroke-width="1"/>
<circle cx="326.40" cy="465.34" r="1.45" fill="#fff" stroke="#000" stroke-width="1"/>
<circle cx="331.92" cy="464.50" r="1.45" fill="#fff" stroke="#000" stroke-width="1"/>
<circle cx="323.20" cy="461.60" r="1.45" fill="#fff" stroke="#000" stroke-width="1"/>
<circle cx="326.00" cy="459.00" r="1.45" fill="#fff" stroke="#000" stroke-width="1"/>
<circle cx="328.40" cy="461.20" r="1.45" fill="#fff" stroke="#000" stroke-width="1"/>
<circle cx="325.20" cy="462.60" r="1.45" fill="#fff" stroke="#000" stroke-width="1"/>
<circle cx="330.60" cy="462.40" r="1.45" fill="#fff" stroke="#000" stroke-width="1"/>
<circle cx="321.00" cy="463.20" r="1.45" fill="#fff" stroke="#000" stroke-width="1"/>
<circle cx="332.50" cy="463.00" r="1.45" fill="#fff" stroke="#000" stroke-width="1"/>
<path d="M419.3 286.5H519.3V466.3H419.3Z" fill="none" stroke="#111" stroke-width="1.1"/>
<path d="M419.3 466.30h-3M419.3 436.33h-3M419.3 406.37h-3M419.3 376.40h-3M419.3 346.43h-3M419.3 316.47h-3M419.3 286.50h-3M444.6 466.3v3.6M494.4 466.3v3.6" stroke="#111" stroke-width="1" fill="none"/>
<text x="412.30" y="469.20" font-size="8.0" text-anchor="end" fill="#111" stroke="#111" stroke-width="0.18">70</text>
<text x="412.30" y="439.23" font-size="8.0" text-anchor="end" fill="#111" stroke="#111" stroke-width="0.18">75</text>
<text x="412.30" y="409.27" font-size="8.0" text-anchor="end" fill="#111" stroke="#111" stroke-width="0.18">80</text>
<text x="412.30" y="379.30" font-size="8.0" text-anchor="end" fill="#111" stroke="#111" stroke-width="0.18">85</text>
<text x="412.30" y="349.33" font-size="8.0" text-anchor="end" fill="#111" stroke="#111" stroke-width="0.18">90</text>
<text x="412.30" y="319.37" font-size="8.0" text-anchor="end" fill="#111" stroke="#111" stroke-width="0.18">95</text>
<text x="412.30" y="289.40" font-size="8.0" text-anchor="end" fill="#111" stroke="#111" stroke-width="0.18">100</text>
<text x="464.80" y="281.80" font-size="10" text-anchor="middle" fill="#111" stroke="#111" stroke-width="0.18">Treg cells</text>
<text x="397.40" y="371.90" font-size="9.7" text-anchor="middle" fill="#111" stroke="#111" stroke-width="0.18" transform="rotate(-90 397.40 371.90)">% of total cells</text>
<path d="M444.6 333.25L494.4 321.26" stroke="#000" stroke-width="1.1"/>
<circle cx="444.6" cy="333.25" r="2.6" fill="#000"/><circle cx="494.4" cy="321.26" r="2.6" fill="#000"/>
<path d="M444.6 348.23L494.4 302.08" stroke="#000" stroke-width="1.1"/>
<circle cx="444.6" cy="348.23" r="2.6" fill="#000"/><circle cx="494.4" cy="302.08" r="2.6" fill="#000"/>
<path d="M444.6 376.40L494.4 355.42" stroke="#000" stroke-width="1.1"/>
<circle cx="444.6" cy="376.40" r="2.6" fill="#000"/><circle cx="494.4" cy="355.42" r="2.6" fill="#000"/>
<path d="M444.6 376.40L494.4 342.84" stroke="#000" stroke-width="1.1"/>
<circle cx="444.6" cy="376.40" r="2.6" fill="#000"/><circle cx="494.4" cy="342.84" r="2.6" fill="#000"/>
<path d="M444.6 391.98L494.4 377.60" stroke="#000" stroke-width="1.1"/>
<circle cx="444.6" cy="391.98" r="2.6" fill="#000"/><circle cx="494.4" cy="377.60" r="2.6" fill="#000"/>
<path d="M444.6 394.38L494.4 324.86" stroke="#000" stroke-width="1.1"/>
<circle cx="444.6" cy="394.38" r="2.6" fill="#000"/><circle cx="494.4" cy="324.86" r="2.6" fill="#000"/>
<path d="M444.6 396.78L494.4 327.25" stroke="#000" stroke-width="1.1"/>
<circle cx="444.6" cy="396.78" r="2.6" fill="#000"/><circle cx="494.4" cy="327.25" r="2.6" fill="#000"/>
<path d="M444.6 399.77L494.4 329.65" stroke="#000" stroke-width="1.1"/>
<circle cx="444.6" cy="399.77" r="2.6" fill="#000"/><circle cx="494.4" cy="329.65" r="2.6" fill="#000"/>
<path d="M444.6 403.37L494.4 334.45" stroke="#000" stroke-width="1.1"/>
<circle cx="444.6" cy="403.37" r="2.6" fill="#000"/><circle cx="494.4" cy="334.45" r="2.6" fill="#000"/>
<path d="M444.6 414.16L494.4 345.23" stroke="#000" stroke-width="1.1"/>
<circle cx="444.6" cy="414.16" r="2.6" fill="#000"/><circle cx="494.4" cy="345.23" r="2.6" fill="#000"/>
<path d="M444.6 417.15L494.4 358.42" stroke="#000" stroke-width="1.1"/>
<circle cx="444.6" cy="417.15" r="2.6" fill="#000"/><circle cx="494.4" cy="358.42" r="2.6" fill="#000"/>
<path d="M444.6 429.14L494.4 360.22" stroke="#000" stroke-width="1.1"/>
<circle cx="444.6" cy="429.14" r="2.6" fill="#000"/><circle cx="494.4" cy="360.22" r="2.6" fill="#000"/>
<text x="492.50" y="396.00" font-size="7.3" text-anchor="middle" fill="#111" stroke="#111" stroke-width="0.18">91.7 +/- 3.0</text>
<text x="446.80" y="448.00" font-size="7.3" text-anchor="middle" fill="#111" stroke="#111" stroke-width="0.18">82.8 +/- 4.9</text>
<text x="446.00" y="482.60" font-size="9.7" text-anchor="middle" fill="#111" stroke="#111" stroke-width="0.18">CD25+</text>
<text x="446.00" y="494.00" font-size="9.7" text-anchor="middle" fill="#111" stroke="#111" stroke-width="0.18">Foxp3+</text>
<text x="497.80" y="482.60" font-size="9.7" text-anchor="middle" fill="#111" stroke="#111" stroke-width="0.18">total</text>
<text x="497.80" y="494.00" font-size="9.7" text-anchor="middle" fill="#111" stroke="#111" stroke-width="0.18">Foxp3+</text>
</svg>
</body></html>
